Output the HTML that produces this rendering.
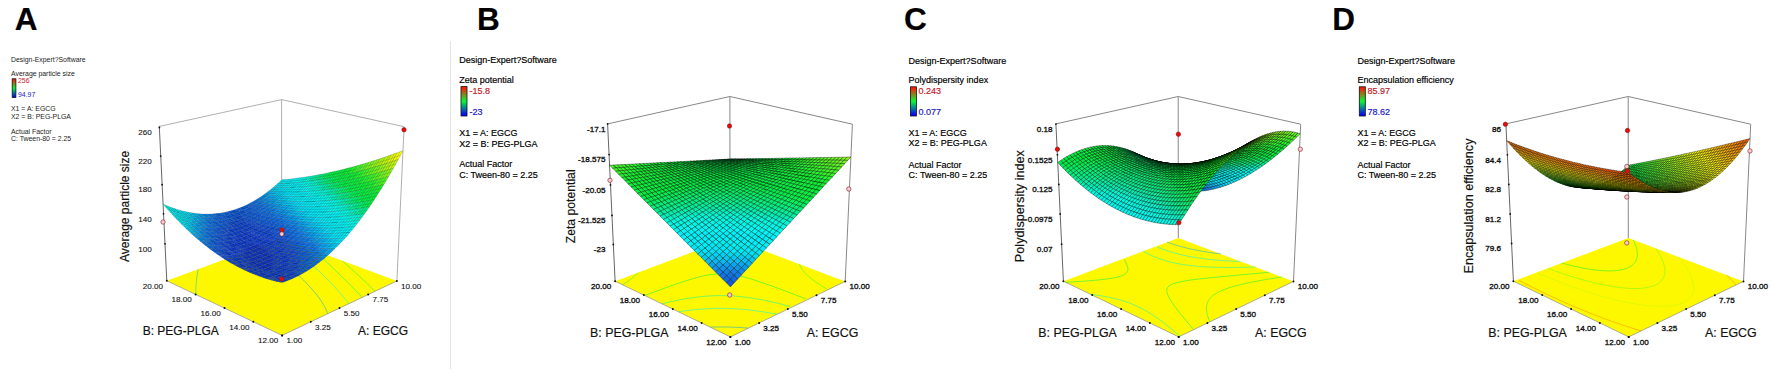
<!DOCTYPE html>
<html><head><meta charset="utf-8"><title>Figure</title>
<style>html,body{margin:0;padding:0;background:#fff}svg{display:block}text{stroke-width:.18px;paint-order:stroke}</style></head>
<body>
<svg width="1772" height="373" viewBox="0 0 1772 373" font-family="Liberation Sans, sans-serif" fill="#111">
<defs><linearGradient id="lg" x1="0" y1="0" x2="0" y2="1"><stop offset="0" stop-color="#f81c08"/><stop offset=".06" stop-color="#f02408"/><stop offset=".5" stop-color="#08f834"/><stop offset=".94" stop-color="#0810f0"/><stop offset="1" stop-color="#0808f8"/></linearGradient></defs>
<rect width="1772" height="373" fill="#fff"/>
<rect x="450" y="41" width="1" height="328" fill="#e4e4e4"/>
<g id="pA">
<polygon points="282.1,335.4 396.9,280.9 281.7,238.3 166.8,280.8" fill="#fdf800"/>
<polyline points="195.9,294.5 195.8,293.1 195.8,292 195.8,290.8 195.8,289.6 195.9,288.5 195.9,287.3 196,286.2 196,285 196.1,283.7 196.3,282.4 196.4,281.2 196.5,279.9 196.7,278.7 196.8,277.5 197,276.2 197.2,275 197.4,273.9 197.6,272.7 197.8,271.5 198,270.4 198.2,269.2" fill="none" stroke="#06bef9" stroke-width=".8" stroke-opacity=".65"/>
<polyline points="266,244.1 267.1,245.5 267.9,246.3 268.6,247.1 269.9,248.5 270.6,249.3 271.5,250.2 272.8,251.5 273.5,252.2 275,253.6 275.8,254.4 276.9,255.4 278.2,256.6 279,257.3 280.6,258.8 281.4,259.6 282.9,260.9 283.9,261.8 285,262.8 286.4,264.1 287.3,264.8 289,266.4 289.8,267.2 291.5,268.6 292.4,269.5 293.6,270.6 295,271.9 295.9,272.7 297.6,274.3 298.4,275.2 299.9,276.5 301,277.6 301.9,278.5 303.6,280.2 304.5,281.1 305.7,282.4 307,283.7 307.8,284.6 309.4,286.2 310.3,287.3 311.2,288.2 312.7,290 313.6,291 314.4,292 315.8,293.7 316.8,294.9 317.5,295.9 318.6,297.3 319.8,298.9 320.5,300 321.2,301 322.2,302.6 323.2,304.3 323.9,305.4 324.5,306.5 325.1,307.7 325.9,309.4 326.7,311 327.3,312.5 327.7,313.7" fill="none" stroke="#09a8f5" stroke-width=".8" stroke-opacity=".65"/>
<polyline points="290.1,241.4 291,242.6 291.6,243.3 292.3,244.2 293.5,245.6 294.2,246.3 294.8,247.1 296.1,248.5 296.9,249.3 297.6,250.1 299,251.6 299.8,252.4 300.5,253.2 302,254.7 302.8,255.4 303.8,256.4 305.1,257.7 305.9,258.5 307.2,259.8 308.3,260.8 309.1,261.6 310.7,263.2 311.5,264 312.6,265 314,266.4 314.8,267.2 316.3,268.6 317.4,269.6 318.2,270.4 319.9,272.1 320.8,272.9 322,274.1 323.4,275.4 324.2,276.3 325.7,277.8 326.8,278.8 327.7,279.7 329.4,281.5 330.3,282.4 331.2,283.3 332.9,285.1 333.8,286 334.8,287 336.3,288.8 337.2,289.7 338.1,290.7 339.7,292.6 340.6,293.5 341.4,294.5 342.8,296.2 343.9,297.5 344.7,298.5 345.7,299.8 347.1,301.6 347.9,302.7 348.7,303.8" fill="none" stroke="#00f3f9" stroke-width=".8" stroke-opacity=".65"/>
<polyline points="314.8,250.6 315.6,251.4 316.4,252.1 317.9,253.7 318.7,254.4 319.5,255.3 321,256.7 321.8,257.5 322.9,258.5 324.3,259.9 325.1,260.6 326.4,261.9 327.6,263 328.4,263.8 330,265.4 331,266.2 331.9,267.1 333.5,268.7 334.4,269.5 335.6,270.7 337,272 337.9,272.8 339.4,274.3 340.6,275.3 341.5,276.2 343.2,277.9 344.1,278.8 345.1,279.8 346.8,281.4 347.7,282.3 348.9,283.4 350.4,285 351.3,285.9 352.5,287.1 354,288.7 354.9,289.7 356,290.8 357.6,292.5 358.5,293.5 359.4,294.5 361.1,296.4 362,297.5" fill="none" stroke="#00f089" stroke-width=".8" stroke-opacity=".65"/>
<polyline points="342.4,260.8 343.7,262 344.6,262.8 346.1,264.2 347.2,265.2 348.1,266 349.9,267.6 350.8,268.4 351.8,269.4 353.5,270.9 354.4,271.8 355.7,273 357.2,274.3 358.1,275.1 359.7,276.6 360.9,277.7 361.8,278.6 363.6,280.3 364.6,281.2 365.6,282.1 367.5,283.9 368.4,284.8 369.5,285.8 371.2,287.5 372.2,288.5 373.3,289.5 375,291.3" fill="none" stroke="#0ef431" stroke-width=".8" stroke-opacity=".65"/>
<path d="M281.7,238.3 L281.6,99.6" stroke="#9c9c9c" stroke-width="0.8" fill="none"/>
<path d="M159.3,126.4 L281.6,99.6" stroke="#9c9c9c" stroke-width="0.8" fill="none"/>
<path d="M281.6,99.6 L404.1,126.7" stroke="#9c9c9c" stroke-width="0.8" fill="none"/>
<path d="M396.9,280.9 L404.1,126.7" stroke="#9c9c9c" stroke-width="0.8" fill="none"/>
<path d="M166.8,280.8 L159.3,126.4" stroke="#666" stroke-width="1" fill="none"/>
<path d="M166.8,280.8 L282.1,335.4" stroke="#8c8c98" stroke-width="0.7" fill="none"/>
<path d="M282.1,335.4 L396.9,280.9" stroke="#8c8c98" stroke-width="0.7" fill="none"/>
<circle cx="282.1" cy="335.4" r="1" fill="#111"/>
<circle cx="282.1" cy="335.4" r="1" fill="#111"/>
<circle cx="253.3" cy="321.7" r="1" fill="#111"/>
<circle cx="310.8" cy="321.7" r="1" fill="#111"/>
<circle cx="224.5" cy="308.1" r="1" fill="#111"/>
<circle cx="339.5" cy="308.1" r="1" fill="#111"/>
<circle cx="195.6" cy="294.4" r="1" fill="#111"/>
<circle cx="368.2" cy="294.5" r="1" fill="#111"/>
<circle cx="166.8" cy="280.8" r="1" fill="#111"/>
<circle cx="396.9" cy="280.9" r="1" fill="#111"/>
<circle cx="159.4" cy="127.5" r=".9" fill="#111"/>
<circle cx="160.7" cy="156.1" r=".9" fill="#111"/>
<circle cx="162.1" cy="184.7" r=".9" fill="#111"/>
<circle cx="163.5" cy="213.8" r=".9" fill="#111"/>
<circle cx="165" cy="243.8" r=".9" fill="#111"/>
<g transform="scale(.1)" stroke="#000" stroke-width="3" stroke-opacity=".55" stroke-linejoin="round">
<path fill="#00f0f8" d="M2817 1837l22-21 22-22-22 2-22 2-22 21-22 20 22-1zM2839 1816l-22 2-22 1M2795 1838l22-20 22-22"/>
<path fill="#00e8ff" d="M2773 1878l22-20 22-21-22 1-22 1-22 19-22 19 22 1zM2795 1858l-22 0-22 0M2751 1878l22-20 22-20"/>
<path fill="#00d0f8" d="M2728 1916l22-19 23-19-22 0-22-1-22 18-23 18 22 1zM2750 1897l-21-1-22-1M2706 1914l23-18 22-18"/>
<path fill="#08b0f8" d="M2683 1951l23-17 22-18-22-2-22-1-22 17-22 16 21 3zM2706 1934l-22-2-22-2M2661 1949l23-17 22-18"/>
<path fill="#0898f0" d="M2638 1984l23-16 22-17-22-2-21-3-23 16-23 15 22 4zM2661 1968l-22-3-22-3M2616 1981l23-16 22-16"/>
<path fill="#1088f0" d="M2592 2015l23-15 23-16-22-3-22-4-22 14-23 14 22 5zM2615 2000l-22-4-21-5M2571 2010l22-14 23-15"/>
<path fill="#1078f0" d="M2546 2043l24-14 22-14-21-5-22-5-23 13-23 13 22 6zM2570 2029l-22-5-22-6M2525 2037l23-13 23-14"/>
<path fill="#1070e8" d="M2500 2068l23-12 23-13-21-6-22-6-23 11-24 12 22 7zM2523 2056l-22-7-21-7M2478 2061l23-12 24-12"/>
<path fill="#1068e8" d="M2453 2091l24-11 23-12-22-7-22-7-23 10-24 10 22 8zM2477 2080l-22-8-22-8M2431 2082l24-10 23-11M2406 2111l23-10 24-10-22-9-22-8-23 9-24 9 22 9zM2429 2101l-22-9-21-9M2384 2101l23-9 24-10"/>
<path fill="#1060e8" d="M2358 2128l24-8 24-9-22-10-22-9-24 8-24 7 22 11zM2382 2120l-22-10-22-10M2336 2118l24-8 24-9M2309 2143l24-7 25-8-22-10-22-11-24 6-25 6 22 12zM2333 2136l-21-11-22-12M2287 2131l25-6 24-7"/>
<path fill="#1068e8" d="M2260 2155l25-6 24-6-22-12-22-12-24 6-25 4 22 13zM2285 2149l-22-12-22-12M2238 2142l25-5 24-6"/>
<path fill="#1070e8" d="M2211 2164l24-4 25-5-22-13-22-13-24 4-25 3 22 14zM2235 2160l-22-14-21-13M2189 2150l24-4 25-4M2160 2170l25-2 26-4-22-14-22-14-25 2-26 2 22 15zM2185 2168l-22-15-21-15M2138 2155l25-2 26-3"/>
<path fill="#1080f0" d="M2109 2174l26-1 25-3-22-15-22-15-25 1-26 0 22 17zM2135 2173l-22-16-22-16M2087 2158l26-1 25-2"/>
<path fill="#1090f0" d="M2058 2175l26 0 25-1-22-16-22-17-25 0-26-1 22 17zM2084 2175l-22-17-22-17M2036 2157l26 1 25 0"/>
<path fill="#08a8f8" d="M2006 2172l26 2 26 1-22-18-22-17-26-2-27-3 23 19zM2032 2174l-22-18-22-18M1984 2154l26 2 26 1"/>
<path fill="#08c0f8" d="M1953 2167l26 3 27 2-22-18-23-19-26-4-27-4 22 20zM1979 2170l-22-19-22-20M1930 2147l27 4 27 3"/>
<path fill="#00d8f8" d="M1899 2158l27 5 27 4-23-20-22-20-26-5-27-6 22 22zM1926 2163l-22-20-22-21M1877 2138l27 5 26 4"/>
<path fill="#00e8f8" d="M1844 2147l28 6 27 5-22-20-22-22-28-6-27-8 22 23zM1872 2153l-22-21-23-22M1822 2125l28 7 27 6"/>
<path fill="#00f0f8" d="M1789 2132l28 8 27 7-22-22-22-23-28-8-28-9 23 24zM1817 2140l-22-23-23-23M1767 2109l28 8 27 8M1733 2114l28 10 28 8-22-23-23-24-28-9-28-11 22 25zM1761 2124l-22-24-23-24M1710 2090l29 10 28 9"/>
<path fill="#00f8e8" d="M1676 2093l28 11 29 10-23-24-22-25-29-12-28-12 22 26zM1704 2104l-22-25-23-26M1653 2067l29 12 28 11"/>
<path fill="#00f0f8" d="M2861 1835l22-22 22-23-22 2-22 2-22 22-22 21 22-1zM2883 1813l-22 1-22 2M2839 1836l22-22 22-22"/>
<path fill="#00e8f8" d="M2817 1878l22-21 22-22-22 1-22 1-22 21-22 20 22 0zM2839 1857l-22 0-22 1M2795 1878l22-21 22-21"/>
<path fill="#00d8f8" d="M2772 1918l23-20 22-20-22 0-22 0-23 19-22 19 22 1zM2795 1898l-22 0-23-1M2750 1917l23-19 22-20"/>
<path fill="#08c0f8" d="M2727 1956l23-19 22-19-22-1-22-1-22 18-23 17 22 3zM2750 1937l-22-1-22-2M2705 1954l23-18 22-19"/>
<path fill="#08a8f8" d="M2682 1991l23-17 22-18-22-2-22-3-22 17-23 16 22 4zM2705 1974l-22-3-22-3M2660 1988l23-17 22-17"/>
<path fill="#1090f0" d="M2637 2024l22-16 23-17-22-3-22-4-23 16-23 15 22 4zM2659 2008l-22-4-22-4M2614 2019l23-15 23-16"/>
<path fill="#1080f0" d="M2591 2054l23-15 23-15-23-5-22-4-22 14-24 14 22 5zM2614 2039l-23-5-21-5M2568 2048l23-14 23-15"/>
<path fill="#1070e8" d="M2544 2081l23-13 24-14-23-6-22-5-23 13-23 12 22 7zM2567 2068l-22-6-22-6M2522 2075l23-13 23-14"/>
<path fill="#1068e8" d="M2497 2106l24-12 23-13-22-6-22-7-23 12-24 11 22 8zM2521 2094l-22-7-22-7M2475 2099l24-12 23-12"/>
<path fill="#1060e8" d="M2450 2129l23-11 24-12-22-7-22-8-24 10-23 10 22 9zM2473 2118l-22-8-22-9M2428 2120l23-10 24-11M2402 2148l24-9 24-10-22-9-22-9-24 9-24 8 22 10zM2426 2139l-22-10-22-9M2380 2138l24-9 24-9M2353 2165l25-8 24-9-22-10-22-10-25 8-24 7 22 11zM2378 2157l-23-10-22-11M2331 2154l24-7 25-9M2304 2180l25-7 24-8-22-11-22-11-24 6-25 6 22 12zM2329 2173l-22-12-22-12M2282 2167l25-6 24-7M2255 2191l25-5 24-6-22-13-22-12-25 5-24 4 22 14zM2280 2186l-23-13-22-13M2233 2178l24-5 25-6"/>
<path fill="#1068e8" d="M2205 2200l25-4 25-5-22-13-22-14-26 4-25 2 22 15zM2230 2196l-22-14-23-14M2182 2185l26-3 25-4"/>
<path fill="#1070e8" d="M2154 2206l25-3 26-3-23-15-22-15-25 3-26 1 23 16zM2179 2203l-22-15-22-15M2132 2190l25-2 25-3"/>
<path fill="#1080f0" d="M2102 2208l26-1 26-1-22-16-23-16-25 1-26 0 22 17zM2128 2207l-22-16-22-16M2080 2192l26-1 26-1"/>
<path fill="#1090f0" d="M2050 2208l26 1 26-1-22-16-22-17-26-1-26-2 22 18zM2076 2209l-22-18-22-17M2028 2190l26 1 26 1"/>
<path fill="#08a8f8" d="M1997 2205l27 2 26 1-22-18-22-18-27-2-26-3 22 19zM2024 2207l-22-18-23-19M1975 2186l27 3 26 1"/>
<path fill="#08c0f8" d="M1944 2199l27 4 26 2-22-19-22-19-27-4-27-5 22 21zM1971 2203l-23-20-22-20M1921 2179l27 4 27 3"/>
<path fill="#00d8f8" d="M1889 2190l28 5 27 4-23-20-22-21-27-5-28-6 23 22zM1917 2195l-23-21-22-21M1867 2169l27 5 27 5"/>
<path fill="#00e8f8" d="M1834 2178l28 6 27 6-22-21-23-22-27-7-28-8 23 23zM1862 2184l-23-22-22-22M1812 2155l27 7 28 7"/>
<path fill="#00f0f8" d="M1778 2162l28 8 28 8-22-23-23-23-28-8-28-10 23 24zM1806 2170l-22-23-23-23M1756 2138l28 9 28 8"/>
<path fill="#00f8f8" d="M1721 2143l29 10 28 9-22-24-23-24-29-10-28-11 22 25zM1750 2153l-23-24-23-25M1698 2118l29 11 29 9"/>
<path fill="#00f0f8" d="M2906 1832l22-24 22-24-23 3-22 3-22 23-22 22 23-2zM2928 1808l-22 3-23 2M2884 1833l22-22 21-24M2862 1877l22-22 22-23-22 1-23 2-22 22-22 21 22-1zM2884 1855l-23 1-22 1M2839 1877l22-21 23-23"/>
<path fill="#00e8ff" d="M2817 1919l22-20 23-22-23 0-22 1-22 20-23 20 23 1zM2839 1899l-22-1-22 0M2795 1919l22-21 22-21"/>
<path fill="#00d0f8" d="M2772 1960l23-20 22-21-22 0-23-1-22 19-23 19 23 2zM2795 1940l-23-1-22-2M2750 1958l22-19 23-20"/>
<path fill="#08b0f8" d="M2727 1997l23-18 22-19-22-2-23-2-22 18-23 17 22 3zM2750 1979l-23-3-22-2M2704 1994l23-18 23-18"/>
<path fill="#0898f0" d="M2681 2032l23-17 23-18-23-3-22-3-23 17-22 16 22 4zM2704 2015l-22-4-23-3M2659 2028l23-17 22-17"/>
<path fill="#1080f0" d="M2635 2064l23-16 23-16-22-4-22-4-23 15-23 15 22 5zM2658 2048l-22-4-22-5M2613 2059l23-15 23-16"/>
<path fill="#1070e8" d="M2589 2094l23-14 23-16-22-5-22-5-24 14-23 13 22 7zM2612 2080l-22-6-23-6M2566 2088l24-14 23-15"/>
<path fill="#1068e8" d="M2542 2121l23-13 24-14-23-6-22-7-23 13-24 12 22 8zM2565 2108l-22-7-22-7M2519 2114l24-13 23-13"/>
<path fill="#1060e8" d="M2494 2146l24-12 24-13-23-7-22-8-24 12-23 11 22 8zM2518 2134l-22-8-23-8M2472 2137l24-11 23-12"/>
<path fill="#1060e0" d="M2446 2168l24-11 24-11-22-9-22-8-24 10-24 9 22 10zM2470 2157l-22-9-22-9M2424 2158l24-10 24-11"/>
<path fill="#1058e0" d="M2398 2187l24-9 24-10-22-10-22-10-24 9-25 8 22 11zM2422 2178l-22-10-22-11M2375 2176l25-8 24-10M2349 2203l24-8 25-8-23-11-22-11-24 8-25 7 23 12zM2373 2195l-22-11-22-11M2327 2192l24-8 24-8"/>
<path fill="#1060e0" d="M2299 2217l25-6 25-8-22-11-23-12-24 6-25 5 22 13zM2324 2211l-22-13-22-12M2277 2204l25-6 25-6"/>
<path fill="#1060e8" d="M2249 2228l25-5 25-6-22-13-22-13-25 5-25 4 22 14zM2274 2223l-22-14-22-13M2227 2214l25-5 25-5"/>
<path fill="#1068e8" d="M2199 2236l25-4 25-4-22-14-22-14-26 3-25 3 22 15zM2224 2232l-22-14-23-15M2176 2221l26-3 25-4"/>
<path fill="#1070e8" d="M2147 2241l26-2 26-3-23-15-22-15-26 1-26 1 23 17zM2173 2239l-23-16-22-16M2125 2225l25-2 26-2"/>
<path fill="#1078f0" d="M2095 2243l26 0 26-2-22-16-23-17-26 1-26-1 23 18zM2121 2243l-22-17-23-17M2073 2226l26 0 26-1"/>
<path fill="#1090f0" d="M2042 2242l27 1 26 0-22-17-23-18-26-1-27-2 23 19zM2069 2243l-23-18-22-18M2020 2224l26 1 27 1"/>
<path fill="#08a8f8" d="M1989 2239l27 2 26 1-22-18-23-19-26-2-27-4 22 20zM2016 2241l-23-19-22-19M1966 2219l27 3 27 2"/>
<path fill="#08c0f8" d="M1935 2232l27 4 27 3-23-20-22-20-27-4-28-5 23 21zM1962 2236l-23-21-22-20M1912 2211l27 4 27 4"/>
<path fill="#00e0f8" d="M1880 2222l27 5 28 5-23-21-23-21-27-6-28-6 23 22zM1907 2227l-22-21-23-22M1857 2200l28 6 27 5"/>
<path fill="#00e8f8" d="M1824 2208l28 7 28 7-23-22-23-22-28-8-28-8 23 23zM1852 2215l-23-22-23-23M1801 2185l28 8 28 7"/>
<path fill="#00f0f8" d="M1767 2192l28 8 29 8-23-23-23-23-28-9-29-10 23 24zM1795 2200l-22-23-23-24M1744 2167l29 10 28 8"/>
<path fill="#00f8f8" d="M2951 1828l22-24 22-26-22 3-23 3-22 24-22 24 23-2zM2973 1804l-22 2-23 2M2929 1830l22-24 22-25"/>
<path fill="#00f0f8" d="M2907 1875l22-23 22-24-22 2-23 2-22 23-22 22 22-1zM2929 1852l-23 2-22 1M2884 1876l22-22 23-24"/>
<path fill="#00e8f8" d="M2862 1920l23-22 22-23-23 1-22 1-23 22-22 20 23 1zM2885 1898l-23 0-23 1M2840 1920l22-22 22-22"/>
<path fill="#00d8f8" d="M2817 1963l23-21 22-22-22 0-23-1-22 21-23 20 23 1zM2840 1942l-23-1-22-1M2795 1961l22-20 23-21"/>
<path fill="#08c0f8" d="M2772 2002l23-19 22-20-22-2-23-1-22 19-23 18 22 3zM2795 1983l-23-2-22-2M2749 2000l23-19 23-20"/>
<path fill="#08a0f0" d="M2726 2039l23-18 23-19-23-2-22-3-23 18-23 17 23 4zM2749 2021l-23-3-22-3M2704 2036l22-18 23-18"/>
<path fill="#1088f0" d="M2680 2074l23-17 23-18-22-3-23-4-23 16-23 16 22 5zM2703 2057l-22-4-23-5M2657 2069l24-16 23-17"/>
<path fill="#1078f0" d="M2633 2106l24-16 23-16-23-5-22-5-23 16-23 14 22 6zM2657 2090l-23-5-22-5M2611 2100l23-15 23-16"/>
<path fill="#1070e8" d="M2586 2135l24-14 23-15-22-6-22-6-24 14-23 13 22 7zM2610 2121l-23-6-22-7M2564 2128l23-13 24-15"/>
<path fill="#1060e8" d="M2539 2162l24-13 23-14-22-7-22-7-24 13-24 12 23 8zM2563 2149l-23-7-22-8M2517 2154l23-12 24-14"/>
<path fill="#1060e0" d="M2491 2186l24-12 24-12-22-8-23-8-24 11-24 11 23 9zM2515 2174l-22-8-23-9M2469 2177l24-11 24-12"/>
<path fill="#1858e0" d="M2443 2207l24-10 24-11-22-9-23-9-24 10-24 9 22 10zM2467 2197l-23-10-22-9M2420 2197l24-10 25-10M2394 2226l24-9 25-10-23-10-22-10-25 8-24 8 22 12zM2418 2217l-22-11-23-11M2371 2215l25-9 24-9M2344 2242l25-8 25-8-23-11-22-12-25 8-25 6 23 13zM2369 2234l-22-11-23-12M2322 2230l25-7 24-8M2294 2255l25-6 25-7-22-12-23-13-25 6-25 5 23 14zM2319 2249l-22-13-23-13M2272 2242l25-6 25-6"/>
<path fill="#1060e0" d="M2244 2265l25-5 25-5-22-13-23-14-25 4-25 4 22 15zM2269 2260l-23-14-22-14M2221 2251l25-5 26-4"/>
<path fill="#1068e8" d="M2192 2272l26-3 26-4-23-14-22-15-26 3-26 2 23 16zM2218 2269l-23-15-22-15M2170 2257l25-3 26-3"/>
<path fill="#1070e8" d="M2140 2277l26-2 26-3-22-15-23-16-26 2-26 0 23 17zM2166 2275l-22-16-23-16M2118 2260l26-1 26-2"/>
<path fill="#1078f0" d="M2088 2278l26 0 26-1-22-17-23-17-26 0-27-1 23 18zM2114 2278l-23-17-22-18M2065 2260l26 1 27-1"/>
<path fill="#1090f0" d="M2034 2277l27 1 27 0-23-18-23-18-26-1-27-2 23 19zM2061 2278l-23-18-22-19M2012 2258l26 2 27 0"/>
<path fill="#08a8f8" d="M1980 2272l27 3 27 2-22-19-23-19-27-3-27-4 22 20zM2007 2275l-22-20-23-19M1957 2252l28 3 27 3"/>
<path fill="#08c0f8" d="M1925 2264l28 4 27 4-23-20-22-20-28-5-27-5 22 21zM1953 2268l-23-20-23-21M1902 2243l28 5 27 4"/>
<path fill="#00e0ff" d="M1870 2253l27 6 28 5-23-21-22-21-28-7-28-7 23 23zM1897 2259l-22-22-23-22M1847 2231l28 6 27 6"/>
<path fill="#00f0f8" d="M1813 2239l28 7 29 7-23-22-23-23-29-8-28-8 23 23zM1841 2246l-23-23-23-23M1790 2215l28 8 29 8"/>
<path fill="#00f8f0" d="M2997 1824l22-26 22-26-23 3-23 3-22 26-22 24 23-2zM3019 1798l-23 3-23 3M2974 1826l22-25 22-26"/>
<path fill="#00f0f8" d="M2953 1873l22-24 22-25-23 2-23 2-22 24-22 23 23-1zM2975 1849l-23 2-23 1M2930 1874l22-23 22-25M2908 1920l22-23 23-24-23 1-23 1-22 23-23 22 23 0zM2930 1897l-23 1-22 0M2885 1920l22-22 23-24"/>
<path fill="#00e8ff" d="M2863 1965l22-22 23-23-23 0-23 0-22 22-23 21 23 1zM2885 1943l-22-1-23 0M2840 1964l23-22 22-22"/>
<path fill="#00c8f8" d="M2817 2007l23-21 23-21-23-1-23-1-22 20-23 19 23 3zM2840 1986l-23-2-22-1M2795 2005l22-21 23-20"/>
<path fill="#08b0f8" d="M2772 2046l23-19 22-20-22-2-23-3-23 19-23 18 23 4zM2795 2027l-23-3-23-3M2749 2043l23-19 23-19"/>
<path fill="#1090f0" d="M2725 2083l24-18 23-19-23-3-23-4-23 18-23 17 23 4zM2749 2065l-23-4-23-4M2703 2078l23-17 23-18"/>
<path fill="#1080f0" d="M2679 2117l23-17 23-17-22-5-23-4-23 16-24 16 23 5zM2702 2100l-23-5-22-5M2656 2111l23-16 24-17"/>
<path fill="#1070e8" d="M2632 2148l23-15 24-16-23-6-23-5-23 15-24 14 23 7zM2655 2133l-22-6-23-6M2609 2142l24-15 23-16"/>
<path fill="#1060e8" d="M2584 2177l24-14 24-15-23-6-23-7-23 14-24 13 23 8zM2608 2163l-23-7-22-7M2562 2170l23-14 24-14"/>
<path fill="#1060e0" d="M2536 2203l25-12 23-14-22-7-23-8-24 12-24 12 23 9zM2561 2191l-23-8-23-9M2514 2195l24-12 24-13"/>
<path fill="#1858e0" d="M2488 2227l24-12 24-12-22-8-23-9-24 11-24 10 22 10zM2512 2215l-22-9-23-9M2465 2217l25-11 24-11"/>
<path fill="#1850e0" d="M2439 2248l25-10 24-11-23-10-22-10-25 10-24 9 22 11zM2464 2238l-23-11-23-10M2416 2237l25-10 24-10M2390 2266l25-9 24-9-23-11-22-11-25 8-25 8 23 12zM2415 2257l-23-11-23-12M2367 2254l25-8 24-9M2340 2281l25-7 25-8-23-12-23-12-25 7-25 6 23 13zM2365 2274l-23-13-23-12M2317 2268l25-7 25-7"/>
<path fill="#1858e0" d="M2289 2293l25-6 26-6-23-13-23-13-25 5-25 5 22 14zM2314 2287l-22-13-23-14M2266 2279l26-5 25-6"/>
<path fill="#1058e0" d="M2238 2303l26-5 25-5-23-14-22-14-26 4-26 3 23 16zM2264 2298l-23-14-23-15M2215 2288l26-4 25-5"/>
<path fill="#1060e8" d="M2186 2309l26-3 26-3-23-15-23-16-26 3-26 2 23 16zM2212 2306l-23-15-23-16M2163 2293l26-2 26-3"/>
<path fill="#1070e8" d="M2133 2313l27-2 26-2-23-16-23-16-26 1-26 0 22 18zM2160 2311l-23-16-23-17M2110 2296l27-1 26-2"/>
<path fill="#1078f0" d="M2080 2313l27 0 26 0-23-17-22-18-27 0-27-1 23 18zM2107 2313l-23-17-23-18M2057 2295l27 1 26 0"/>
<path fill="#1090f0" d="M2026 2311l27 1 27 1-23-18-23-18-27-2-27-3 23 19zM2053 2312l-23-18-23-19M2003 2291l27 3 27 1"/>
<path fill="#08a8f8" d="M1971 2305l28 3 27 3-23-20-23-19-27-4-28-4 23 21zM1999 2308l-23-20-23-20M1948 2285l28 3 27 3"/>
<path fill="#00c8f8" d="M1916 2296l28 5 27 4-23-20-23-21-28-5-27-6 23 22zM1944 2301l-24-21-23-21M1893 2275l27 5 28 5"/>
<path fill="#00e8ff" d="M1859 2284l29 6 28 6-23-21-23-22-29-7-28-7 23 22zM1888 2290l-24-22-23-22M1836 2261l28 7 29 7"/>
<path fill="#00f8e0" d="M3044 1819l22-27 22-27-23 3-24 4-22 26-22 26 23-3zM3066 1792l-24 3-23 3M3020 1821l22-26 23-27"/>
<path fill="#00f8f8" d="M2999 1870l22-25 23-26-24 2-23 3-22 25-22 24 23-1zM3021 1845l-23 2-23 2M2976 1872l22-25 22-26"/>
<path fill="#00f0f8" d="M2954 1920l23-25 22-25-23 2-23 1-23 24-22 23 23 0zM2977 1895l-24 1-23 1M2931 1920l22-24 23-24"/>
<path fill="#00e8f8" d="M2909 1966l23-23 22-23-23 0-23 0-23 23-22 22 23 1zM2932 1943l-24 0-23 0M2886 1966l22-23 23-23"/>
<path fill="#00d8f8" d="M2863 2010l23-21 23-23-23 0-23-1-23 21-23 21 23 2zM2886 1989l-23-2-23-1M2840 2009l23-22 23-21"/>
<path fill="#08b8f8" d="M2818 2052l23-21 22-21-23-1-23-2-22 20-23 19 22 3zM2841 2031l-24-2-22-2M2794 2049l23-20 23-20"/>
<path fill="#08a0f0" d="M2771 2091l23-20 24-19-24-3-22-3-23 19-24 18 23 4zM2794 2071l-23-3-22-3M2748 2087l23-19 23-19"/>
<path fill="#1080f0" d="M2725 2127l23-18 23-18-23-4-23-4-23 17-23 17 23 5zM2748 2109l-23-4-23-5M2702 2122l23-17 23-18"/>
<path fill="#1070e8" d="M2678 2160l23-16 24-17-23-5-23-5-24 16-23 15 23 7zM2701 2144l-23-5-23-6M2655 2155l23-16 24-17"/>
<path fill="#1068e8" d="M2630 2191l24-15 24-16-23-5-23-7-24 15-24 14 23 7zM2654 2176l-23-6-23-7M2607 2184l24-14 24-15"/>
<path fill="#1060e0" d="M2582 2220l24-14 24-15-23-7-23-7-23 14-25 12 23 9zM2606 2206l-23-8-22-7M2559 2212l24-14 24-14"/>
<path fill="#1858e0" d="M2534 2245l24-12 24-13-23-8-23-9-24 12-24 12 23 9zM2558 2233l-23-9-23-9M2511 2236l24-12 24-12"/>
<path fill="#1850e0" d="M2485 2268l24-11 25-12-23-9-23-9-24 11-25 10 23 10zM2509 2257l-22-10-23-9M2462 2258l25-11 24-11M2436 2288l24-9 25-11-23-10-23-10-24 9-25 9 23 11zM2460 2279l-23-11-22-11M2413 2277l24-9 25-10M2386 2306l25-9 25-9-23-11-23-11-25 8-25 7 23 12zM2411 2297l-23-11-23-12M2363 2293l25-7 25-9M2335 2320l25-7 26-7-23-13-23-12-26 6-25 6 23 14zM2360 2313l-23-13-23-13M2312 2307l25-7 26-7M2284 2332l25-6 26-6-23-13-23-14-25 5-26 5 23 14zM2309 2326l-23-14-22-14M2261 2317l25-5 26-5"/>
<path fill="#1858e0" d="M2232 2340l26-4 26-4-23-15-23-14-26 3-26 3 23 16zM2258 2336l-23-15-23-15M2209 2325l26-4 26-4"/>
<path fill="#1060e8" d="M2179 2346l27-3 26-3-23-15-23-16-26 2-27 2 23 16zM2206 2343l-23-16-23-16M2156 2329l27-2 26-2"/>
<path fill="#1070e8" d="M2126 2348l27 0 26-2-23-17-23-16-26 0-27 0 23 18zM2153 2348l-23-17-23-18M2103 2331l27 0 26-2"/>
<path fill="#1078f0" d="M2072 2348l27 1 27-1-23-17-23-18-27-1-27-1 23 19zM2099 2349l-23-18-23-19M2049 2330l27 1 27 0"/>
<path fill="#1090f0" d="M2018 2345l27 2 27 1-23-18-23-19-27-3-28-3 23 20zM2045 2347l-23-19-23-20M1994 2325l28 3 27 2"/>
<path fill="#08b0f8" d="M1962 2338l28 4 28 3-24-20-23-20-27-4-28-5 23 21zM1990 2342l-23-21-23-20M1939 2317l28 4 27 4"/>
<path fill="#00d0f8" d="M1906 2328l28 5 28 5-23-21-23-21-28-6-29-6 23 22zM1934 2333l-23-21-23-22M1882 2306l29 6 28 5"/>
<path fill="#00f8c8" d="M3090 1813l23-28 22-28-24 4-23 4-22 27-22 27 23-3zM3113 1785l-24 4-23 3M3067 1816l22-27 22-28"/>
<path fill="#00f8f0" d="M3046 1867l22-27 22-27-23 3-23 3-23 26-22 25 23-1zM3068 1840l-23 3-24 2M3022 1869l23-26 22-27"/>
<path fill="#00f0f8" d="M3001 1918l22-25 23-26-24 2-23 1-22 25-23 25 23-1zM3023 1893l-23 1-23 1M2977 1919l23-25 22-25M2955 1967l23-24 23-25-24 1-23 1-22 23-23 23 23 1zM2978 1943l-23 0-23 0M2932 1967l23-24 22-24"/>
<path fill="#00e8ff" d="M2910 2013l23-23 22-23-23 0-23-1-23 23-23 21 24 2zM2933 1990l-24 0-23-1M2887 2012l22-22 23-23"/>
<path fill="#00c8f8" d="M2864 2057l23-22 23-22-23-1-24-2-22 21-23 21 23 2zM2887 2035l-23-2-23-2M2841 2054l23-21 23-21"/>
<path fill="#08a8f8" d="M2818 2098l23-21 23-20-23-3-23-2-24 19-23 20 23 3zM2841 2077l-23-2-24-4M2794 2094l24-19 23-21"/>
<path fill="#1090f0" d="M2771 2136l23-19 24-19-24-4-23-3-23 18-23 18 23 5zM2794 2117l-23-4-23-4M2748 2132l23-19 23-19"/>
<path fill="#1078f0" d="M2724 2172l24-18 23-18-23-4-23-5-24 17-23 16 23 6zM2748 2154l-24-5-23-5M2701 2166l23-17 24-17"/>
<path fill="#1068e8" d="M2676 2205l24-16 24-17-23-6-23-6-24 16-24 15 23 7zM2700 2189l-23-6-23-7M2653 2198l24-15 24-17"/>
<path fill="#1060e0" d="M2629 2235l24-15 23-15-23-7-23-7-24 15-24 14 23 8zM2653 2220l-24-7-23-7M2605 2228l24-15 24-15"/>
<path fill="#1858e0" d="M2580 2263l24-14 25-14-24-7-23-8-24 13-24 12 23 9zM2604 2249l-23-8-23-8M2557 2254l24-13 24-13"/>
<path fill="#1850e0" d="M2531 2288l25-13 24-12-23-9-23-9-25 12-24 11 23 10zM2556 2275l-23-9-24-9M2508 2278l25-12 24-12M2482 2310l25-11 24-11-23-10-23-10-25 11-24 9 23 11zM2507 2299l-24-10-23-10M2459 2299l24-10 25-11M2432 2329l25-9 25-10-23-11-23-11-25 9-25 9 23 11zM2457 2320l-23-11-23-12M2409 2317l25-8 25-10M2381 2346l26-8 25-9-23-12-23-11-26 7-25 7 23 13zM2407 2338l-24-12-23-13M2358 2333l25-7 26-9M2330 2359l26-6 25-7-23-13-23-13-26 6-25 6 23 14zM2356 2353l-23-13-24-14M2307 2346l26-6 25-7M2278 2370l26-5 26-6-23-13-23-14-26 4-26 4 23 15zM2304 2365l-23-14-23-15M2255 2355l26-4 26-5"/>
<path fill="#1858e0" d="M2226 2378l26-4 26-4-23-15-23-15-26 3-27 3 24 16zM2252 2374l-23-15-23-16M2203 2362l26-3 26-4"/>
<path fill="#1060e8" d="M2173 2382l26-2 27-2-23-16-24-16-26 2-27 0 23 18zM2199 2380l-23-16-23-16M2149 2366l27-2 27-2"/>
<path fill="#1070e8" d="M2119 2384l27 0 27-2-24-16-23-18-27 1-27-1 24 18zM2146 2384l-23-18-24-17M2096 2366l27 0 26 0"/>
<path fill="#1080f0" d="M2064 2383l28 1 27 0-23-18-24-18-27-1-27-2 23 19zM2092 2384l-24-19-23-18M2041 2364l27 1 28 1"/>
<path fill="#1098f0" d="M2009 2378l28 3 27 2-23-19-23-19-28-3-28-4 23 20zM2037 2381l-24-20-23-19M1985 2358l28 3 28 3"/>
<path fill="#08b0f8" d="M1953 2370l28 4 28 4-24-20-23-20-28-5-28-5 23 21zM1981 2374l-24-20-23-21M1929 2349l28 5 28 4"/>
<path fill="#00f0a8" d="M3138 1807l22-29 22-30-23 4-24 5-22 28-23 28 24-3zM3160 1778l-24 3-23 4M3114 1810l22-29 23-29"/>
<path fill="#00f8e0" d="M3093 1863l22-28 23-28-24 3-24 3-22 27-22 27 23-2zM3115 1835l-23 3-24 2M3069 1865l23-27 22-28"/>
<path fill="#00f8f8" d="M3048 1916l23-26 22-27-24 2-23 2-23 26-22 25 23-1zM3071 1890l-24 1-24 2M3024 1917l23-26 22-26"/>
<path fill="#00f0f8" d="M3003 1967l22-25 23-26-24 1-23 1-23 25-23 24 24 0zM3025 1942l-23 0-24 1M2979 1967l23-25 22-25"/>
<path fill="#00e8f8" d="M2957 2015l23-24 23-24-24 0-24 0-22 23-23 23 23 1zM2980 1991l-24 0-23-1M2933 2014l23-23 23-24"/>
<path fill="#00d0f8" d="M2911 2061l23-23 23-23-24-1-23-1-23 22-23 22 23 2zM2934 2038l-24-1-23-2M2887 2059l23-22 23-23"/>
<path fill="#08b0f8" d="M2865 2104l23-21 23-22-24-2-23-2-23 20-23 21 23 3zM2888 2083l-24-3-23-3M2841 2101l23-21 23-21"/>
<path fill="#0898f0" d="M2818 2144l23-20 24-20-24-3-23-3-24 19-23 19 23 4zM2841 2124l-23-3-24-4M2794 2140l24-19 23-20"/>
<path fill="#1080f0" d="M2771 2182l23-19 24-19-24-4-23-4-23 18-24 18 23 5zM2794 2163l-23-4-23-5M2747 2177l24-18 23-19"/>
<path fill="#1070e8" d="M2723 2217l24-17 24-18-24-5-23-5-24 17-24 16 24 6zM2747 2200l-23-6-24-5M2700 2211l24-17 23-17"/>
<path fill="#1060e8" d="M2675 2249l24-16 24-16-23-6-24-6-23 15-24 15 23 7zM2699 2233l-23-6-23-7M2652 2242l24-15 24-16"/>
<path fill="#1858e0" d="M2627 2279l24-14 24-16-23-7-23-7-25 14-24 14 23 8zM2651 2265l-23-8-24-8M2603 2271l25-14 24-15"/>
<path fill="#1850e0" d="M2578 2306l24-13 25-14-24-8-23-8-24 12-25 13 23 9zM2602 2293l-23-9-23-9M2554 2297l25-13 24-13M2528 2330l25-12 25-12-24-9-23-9-24 11-25 11 23 10zM2553 2318l-23-9-23-10M2505 2320l25-11 24-12"/>
<path fill="#1848e0" d="M2479 2351l25-10 24-11-23-10-23-10-25 10-25 9 23 11zM2504 2341l-24-10-23-11M2455 2340l25-9 25-11M2428 2370l25-9 26-10-24-11-23-11-25 9-26 8 24 12zM2453 2361l-23-11-23-12M2405 2358l25-8 25-10M2377 2386l26-8 25-8-23-12-24-12-25 7-26 6 23 14zM2403 2378l-24-12-23-13M2353 2373l26-7 26-8"/>
<path fill="#1850e0" d="M2325 2398l26-6 26-6-24-13-23-14-26 6-26 5 24 14zM2351 2392l-23-13-24-14M2302 2384l26-5 25-6M2273 2408l26-4 26-6-23-14-24-14-26 4-26 4 23 15zM2299 2404l-23-15-24-15M2249 2393l27-4 26-5"/>
<path fill="#1858e0" d="M2220 2415l26-3 27-4-24-15-23-15-27 2-26 2 23 17zM2246 2412l-23-16-24-16M2196 2399l27-3 26-3"/>
<path fill="#1060e8" d="M2166 2418l27-1 27-2-24-16-23-17-27 2-27 0 23 17zM2193 2417l-24-17-23-16M2142 2401l27-1 27-1"/>
<path fill="#1070e8" d="M2111 2419l28 0 27-1-24-17-23-17-27 0-28-1 24 18zM2139 2419l-24-17-23-18M2088 2401l27 1 27-1"/>
<path fill="#1080f0" d="M2056 2416l28 2 27 1-23-18-24-18-27-2-28-3 24 19zM2084 2418l-24-18-23-19M2033 2397l27 3 28 1"/>
<path fill="#0898f0" d="M2000 2411l28 3 28 2-23-19-24-19-28-4-28-4 23 20zM2028 2414l-23-20-24-20M1976 2390l29 4 28 3"/>
<path fill="#00f088" d="M3186 1799l22-30 22-30-24 4-24 5-22 30-22 29 24-4zM3208 1769l-24 5-24 4M3162 1803l22-29 22-31"/>
<path fill="#00f8d0" d="M3141 1858l22-29 23-30-24 4-24 4-23 28-22 28 24-3zM3163 1829l-24 3-24 3M3117 1860l22-28 23-29"/>
<path fill="#00f8f0" d="M3096 1913l22-27 23-28-24 2-24 3-22 27-23 26 24-1zM3118 1886l-24 2-23 2M3072 1915l22-27 23-28"/>
<path fill="#00f0f8" d="M3050 1966l23-26 23-27-24 2-24 1-23 26-22 25 23-1zM3073 1940l-24 1-24 1M3026 1966l23-25 23-26M3004 2016l23-25 23-25-24 0-23 1-23 24-23 24 24 1zM3027 1991l-23 0-24 0M2981 2016l23-25 22-25"/>
<path fill="#00e0ff" d="M2958 2064l23-24 23-24-23 0-24-1-23 23-23 23 24 1zM2981 2040l-23-1-24-1M2935 2062l23-23 23-23"/>
<path fill="#08c0f8" d="M2912 2109l23-22 23-23-23-2-24-1-23 22-23 21 23 2zM2935 2087l-24-2-23-2M2888 2106l23-21 24-23"/>
<path fill="#08a0f0" d="M2865 2151l24-21 23-21-24-3-23-2-24 20-23 20 23 4zM2889 2130l-24-3-24-3M2841 2148l24-21 23-21"/>
<path fill="#1080f0" d="M2818 2191l24-19 23-21-24-3-23-4-24 19-23 19 23 5zM2842 2172l-24-4-24-5M2794 2187l24-19 23-20"/>
<path fill="#1070e8" d="M2770 2228l24-18 24-19-24-4-23-5-24 18-24 17 24 6zM2794 2210l-23-5-24-5M2747 2223l24-18 23-18"/>
<path fill="#1060e8" d="M2722 2263l24-17 24-18-23-5-24-6-24 16-24 16 24 7zM2746 2246l-23-6-24-7M2699 2256l24-16 24-17"/>
<path fill="#1858e0" d="M2674 2294l24-15 24-16-23-7-24-7-24 16-24 14 23 8zM2698 2279l-23-7-24-7M2650 2287l25-15 24-16"/>
<path fill="#1850e0" d="M2625 2323l25-14 24-15-24-7-23-8-25 14-24 13 23 9zM2650 2309l-24-8-24-8M2601 2315l25-14 24-14M2576 2349l24-12 25-14-24-8-23-9-25 12-25 12 24 10zM2600 2337l-23-9-24-10M2552 2340l25-12 24-13"/>
<path fill="#1848e0" d="M2526 2373l25-12 25-12-24-9-24-10-24 11-25 10 23 11zM2551 2361l-24-10-23-10M2502 2362l25-11 25-11M2475 2393l25-10 26-10-24-11-23-11-26 10-25 9 24 12zM2500 2383l-23-11-24-11M2452 2382l25-10 25-10M2424 2411l26-9 25-9-23-11-24-12-25 8-26 8 23 12zM2450 2402l-24-12-23-12M2400 2398l26-8 26-8M2372 2425l26-7 26-7-24-13-23-12-26 6-26 6 24 14zM2398 2418l-23-12-24-14M2349 2412l26-6 25-8"/>
<path fill="#1850e0" d="M2320 2437l26-5 26-7-23-13-24-14-26 6-26 4 23 15zM2346 2432l-23-14-24-14M2296 2423l27-5 26-6M2267 2446l27-4 26-5-24-14-23-15-27 4-26 3 23 15zM2294 2442l-24-15-24-15M2243 2430l27-3 26-4"/>
<path fill="#1858e0" d="M2213 2451l27-2 27-3-24-16-23-15-27 2-27 1 24 17zM2240 2449l-23-16-24-16M2190 2435l27-2 26-3"/>
<path fill="#1060e8" d="M2159 2454l27-1 27-2-23-16-24-17-27 1-28 0 24 18zM2186 2453l-24-17-23-17M2135 2437l27-1 28-1"/>
<path fill="#1070e8" d="M2104 2453l27 1 28 0-24-17-24-18-27-1-28-2 24 19zM2131 2454l-23-18-24-18M2080 2435l28 1 27 1"/>
<path fill="#1080f0" d="M2048 2449l28 3 28 1-24-18-24-19-28-2-28-3 24 19zM2076 2452l-24-19-24-19M2024 2430l28 3 28 2"/>
<path fill="#00f070" d="M3234 1792l23-32 22-31-24 5-25 5-22 30-22 30 24-3zM3257 1760l-25 5-24 4M3210 1796l22-31 23-31"/>
<path fill="#00f0b0" d="M3189 1852l23-30 22-30-24 4-24 3-23 30-22 29 24-3zM3212 1822l-24 3-25 4M3165 1855l23-30 22-29"/>
<path fill="#00f8e0" d="M3144 1909l23-28 22-29-24 3-24 3-23 28-22 27 24-2zM3167 1881l-25 2-24 3M3120 1911l22-28 23-28"/>
<path fill="#00f8f8" d="M3098 1964l23-27 23-28-24 2-24 2-23 27-23 26 24-1zM3121 1937l-24 2-24 1M3074 1965l23-26 23-28"/>
<path fill="#00f0f8" d="M3053 2017l23-26 22-27-24 1-24 1-23 25-23 25 24 0zM3076 1991l-25 0-24 0M3028 2016l23-25 23-26"/>
<path fill="#00e8ff" d="M3006 2066l24-24 23-25-25-1-24 0-23 24-23 24 24 1zM3030 2042l-25-1-24-1M2982 2065l23-24 23-25"/>
<path fill="#00d0f8" d="M2960 2113l23-23 23-24-24-1-24-1-23 23-23 22 24 2zM2983 2090l-24-1-24-2M2936 2111l23-22 23-24"/>
<path fill="#08b0f8" d="M2913 2158l23-22 24-23-24-2-24-2-23 21-24 21 24 4zM2936 2136l-24-3-23-3M2889 2155l23-22 24-22"/>
<path fill="#1090f0" d="M2866 2199l23-20 24-21-24-3-24-4-23 21-24 19 24 4zM2889 2179l-24-4-23-3M2842 2195l23-20 24-20"/>
<path fill="#1078f0" d="M2818 2238l24-19 24-20-24-4-24-4-24 19-24 18 24 5zM2842 2219l-24-4-24-5M2794 2233l24-18 24-20"/>
<path fill="#1068e8" d="M2770 2275l24-18 24-19-24-5-24-5-24 18-24 17 24 6zM2794 2257l-24-6-24-5M2746 2269l24-18 24-18"/>
<path fill="#1058e0" d="M2722 2308l24-16 24-17-24-6-24-6-24 16-24 15 24 7zM2746 2292l-24-7-24-6M2698 2301l24-16 24-16"/>
<path fill="#1850e0" d="M2673 2339l24-15 25-16-24-7-24-7-24 15-25 14 24 8zM2697 2324l-24-7-23-8M2649 2331l24-14 25-16M2623 2367l25-13 25-15-24-8-24-8-25 14-24 12 23 9zM2648 2354l-24-9-24-8M2599 2358l25-13 25-14"/>
<path fill="#1848e0" d="M2573 2393l25-13 25-13-24-9-23-9-25 12-25 12 23 10zM2598 2380l-24-9-23-10M2549 2383l25-12 25-13M2523 2415l25-11 25-11-24-10-23-10-26 10-25 10 24 11zM2548 2404l-24-10-24-11M2499 2404l25-10 25-11M2472 2434l25-9 26-10-24-11-24-11-25 9-26 9 24 12zM2497 2425l-24-11-23-12M2448 2423l25-9 26-10M2420 2451l26-8 26-9-24-11-24-12-26 7-26 7 24 13zM2446 2443l-24-12-24-13M2396 2438l26-7 26-8M2368 2465l26-7 26-7-24-13-24-13-26 7-26 5 24 14zM2394 2458l-24-13-24-13M2344 2451l26-6 26-7M2315 2475l26-5 27-5-24-14-24-14-26 5-27 4 24 15zM2341 2470l-24-14-23-14M2291 2461l26-5 27-5"/>
<path fill="#1850e0" d="M2261 2483l27-3 27-5-24-14-24-15-27 3-27 2 24 16zM2288 2480l-24-16-24-15M2237 2467l27-3 27-3"/>
<path fill="#1858e0" d="M2207 2487l27-1 27-3-24-16-24-16-27 2-27 1 24 17zM2234 2486l-24-16-24-17M2183 2471l27-1 27-3"/>
<path fill="#1068e8" d="M2152 2489l27-1 28-1-24-16-24-17-28 0-27-1 24 18zM2179 2488l-24-17-24-17M2128 2471l27 0 28 0"/>
<path fill="#1070e8" d="M2096 2487l28 1 28 1-24-18-24-18-28-1-28-3 24 19zM2124 2488l-24-18-24-18M2072 2468l28 2 28 1"/>
<path fill="#00f050" d="M3283 1783l23-32 22-33-24 5-25 6-22 31-23 32 25-5zM3306 1751l-25 5-24 4M3259 1787l22-31 23-33"/>
<path fill="#00f088" d="M3238 1845l23-31 22-31-24 4-25 5-22 30-23 30 25-4zM3261 1814l-25 4-24 4M3214 1848l22-30 23-31"/>
<path fill="#00f8d0" d="M3193 1905l23-30 22-30-24 3-25 4-22 29-23 28 24-2zM3216 1875l-25 3-24 3M3168 1907l23-29 23-30"/>
<path fill="#00f8f0" d="M3147 1962l23-29 23-28-25 2-24 2-23 28-23 27 25-1zM3170 1933l-24 2-25 2M3123 1963l23-28 22-28"/>
<path fill="#00f0f8" d="M3101 2016l23-27 23-27-24 1-25 1-22 27-23 26 24-1zM3124 1989l-24 1-24 1M3077 2016l23-26 23-27M3055 2068l23-26 23-26-24 0-24 1-23 25-24 24 25 1zM3078 2042l-24 0-24 0M3031 2067l23-25 23-26"/>
<path fill="#00e0f8" d="M3008 2117l24-25 23-24-24-1-25-1-23 24-23 23 24 2zM3032 2092l-25-1-24-1M2984 2115l23-24 24-24"/>
<path fill="#08c0f8" d="M2961 2163l24-23 23-23-24-2-24-2-24 23-23 22 24 2zM2985 2140l-24-2-25-2M2937 2160l24-22 23-23"/>
<path fill="#0898f0" d="M2914 2207l24-22 23-22-24-3-24-2-24 21-23 20 24 4zM2938 2185l-24-3-25-3M2890 2203l24-21 23-22"/>
<path fill="#1080f0" d="M2866 2248l24-20 24-21-24-4-24-4-24 20-24 19 24 5zM2890 2228l-24-4-24-5M2842 2243l24-19 24-21"/>
<path fill="#1070e8" d="M2818 2286l24-19 24-19-24-5-24-5-24 19-24 18 24 5zM2842 2267l-24-5-24-5M2794 2280l24-18 24-19"/>
<path fill="#1060e0" d="M2770 2321l24-17 24-18-24-6-24-5-24 17-24 16 24 7zM2794 2304l-24-6-24-6M2746 2315l24-17 24-18"/>
<path fill="#1850e0" d="M2721 2354l24-16 25-17-24-6-24-7-25 16-24 15 24 8zM2745 2338l-24-7-24-7M2697 2347l24-16 25-16M2671 2384l25-14 25-16-24-7-24-8-25 15-25 13 24 9zM2696 2370l-24-8-24-8M2647 2376l25-14 25-15"/>
<path fill="#1848e0" d="M2621 2411l25-13 25-14-24-8-24-9-25 13-25 13 24 9zM2646 2398l-24-9-24-9M2597 2402l25-13 25-13M2571 2436l25-12 25-13-24-9-24-9-25 11-25 11 24 10zM2596 2424l-24-10-24-10M2547 2425l25-11 25-12"/>
<path fill="#1848d8" d="M2520 2457l25-10 26-11-24-11-24-10-26 10-25 9 24 12zM2545 2447l-24-11-24-11M2496 2446l25-10 26-11M2468 2475l26-8 26-10-24-11-24-12-26 9-26 8 24 12zM2494 2467l-24-12-24-12M2444 2463l26-8 26-9M2416 2491l26-7 26-9-24-12-24-12-26 7-26 7 24 13zM2442 2484l-24-13-24-13M2392 2478l26-7 26-8"/>
<path fill="#1848e0" d="M2363 2503l27-5 26-7-24-13-24-13-27 5-26 5 24 15zM2390 2498l-25-14-24-14M2339 2490l26-6 27-6M2309 2513l27-4 27-6-24-13-24-15-27 5-27 3 24 15zM2336 2509l-24-15-24-14M2285 2498l27-4 27-4"/>
<path fill="#1850e0" d="M2255 2519l27-3 27-3-24-15-24-15-27 3-27 1 24 17zM2282 2516l-24-15-24-15M2231 2504l27-3 27-3"/>
<path fill="#1058e0" d="M2200 2522l28-1 27-2-24-15-24-17-28 1-27 1 24 17zM2228 2521l-25-16-24-17M2176 2506l27-1 28-1"/>
<path fill="#1068e8" d="M2144 2522l28 1 28-1-24-16-24-17-28-1-28-1 24 18zM2172 2523l-24-17-24-18M2120 2505l28 1 28 0"/>
<path fill="#00f040" d="M3333 1773l23-33 22-33-25 5-25 6-22 33-23 32 25-5zM3356 1740l-25 6-25 5M3308 1778l23-32 22-34"/>
<path fill="#00f070" d="M3288 1838l23-32 22-33-25 5-25 5-22 31-23 31 25-4zM3311 1806l-25 4-25 4M3263 1841l23-31 22-32"/>
<path fill="#00f0b0" d="M3242 1899l23-30 23-31-25 3-25 4-22 30-23 30 25-3zM3265 1869l-25 3-24 3M3218 1902l22-30 23-31"/>
<path fill="#00f8e0" d="M3196 1958l23-29 23-30-24 3-25 3-23 28-23 29 25-2zM3219 1929l-24 2-25 2M3172 1960l23-29 23-29"/>
<path fill="#00f0f8" d="M3150 2015l23-28 23-29-24 2-25 2-23 27-23 27 25-1zM3173 1987l-24 1-25 1M3126 2015l23-27 23-28M3104 2068l23-26 23-27-24 0-25 1-23 26-23 26 24 0zM3127 2042l-24 0-25 0M3079 2068l24-26 23-27"/>
<path fill="#00e8ff" d="M3057 2119l24-25 23-26-25 0-24 0-23 24-24 25 25 1zM3081 2094l-25-1-24-1M3033 2118l23-25 23-25"/>
<path fill="#00c8f8" d="M3010 2167l24-23 23-25-24-1-25-1-23 23-24 23 25 2zM3034 2144l-25-2-24-2M2986 2165l23-23 24-24"/>
<path fill="#08a8f8" d="M2963 2213l24-23 23-23-24-2-25-2-23 22-24 22 24 3zM2987 2190l-25-2-24-3M2938 2210l24-22 24-23"/>
<path fill="#1088f0" d="M2915 2256l24-21 24-22-25-3-24-3-24 21-24 20 25 4zM2939 2235l-24-4-25-3M2891 2252l24-21 23-21"/>
<path fill="#1070e8" d="M2867 2296l24-20 24-20-24-4-25-4-24 19-24 19 25 5zM2891 2276l-24-4-25-5M2843 2291l24-19 24-20"/>
<path fill="#1060e8" d="M2818 2333l25-18 24-19-24-5-25-5-24 18-24 17 24 7zM2843 2315l-25-5-24-6M2794 2328l24-18 25-19"/>
<path fill="#1858e0" d="M2769 2368l25-17 24-18-24-5-24-7-25 17-24 16 24 7zM2794 2351l-24-6-25-7M2745 2361l25-16 24-17"/>
<path fill="#1850e0" d="M2720 2400l25-16 24-16-24-7-24-7-25 16-25 14 25 8zM2745 2384l-25-7-24-7M2696 2392l24-15 25-16"/>
<path fill="#1848e0" d="M2670 2429l25-14 25-15-24-8-25-8-25 14-25 13 25 9zM2695 2415l-24-9-25-8M2646 2420l25-14 25-14M2620 2455l25-13 25-13-24-9-25-9-25 13-25 12 24 9zM2645 2442l-25-9-24-9M2595 2445l25-12 26-13"/>
<path fill="#1840d8" d="M2568 2478l26-11 26-12-25-10-24-9-26 11-25 10 24 11zM2594 2467l-24-10-25-10M2544 2468l26-11 25-12M2517 2498l26-9 25-11-24-10-24-11-26 10-26 8 24 12zM2543 2489l-25-11-24-11M2492 2487l26-9 26-10M2465 2516l26-9 26-9-25-11-24-12-26 9-26 7 24 13zM2491 2507l-25-11-24-12M2440 2504l26-8 26-9"/>
<path fill="#1848d8" d="M2412 2530l26-7 27-7-25-12-24-13-26 7-27 5 24 14zM2438 2523l-24-12-24-13M2387 2517l27-6 26-7"/>
<path fill="#1848e0" d="M2358 2541l27-5 27-6-25-13-24-14-27 6-27 4 25 14zM2385 2536l-24-13-25-14M2334 2527l27-4 26-6"/>
<path fill="#1850e0" d="M2304 2550l27-4 27-5-24-14-25-14-27 3-27 3 24 16zM2331 2546l-24-15-25-15M2279 2535l28-4 27-4M2249 2555l28-3 27-2-25-15-24-16-27 2-28 1 24 17zM2277 2552l-25-15-24-16M2224 2539l28-2 27-2"/>
<path fill="#1060e8" d="M2193 2556l28 0 28-1-25-16-24-17-28 1-28-1 25 18zM2221 2556l-24-16-25-17M2169 2540l28 0 27-1"/>
<path fill="#08f040" d="M3384 1763l22-34 23-35-26 7-25 6-22 33-23 33 25-5zM3406 1729l-25 6-25 5M3358 1768l23-33 22-34"/>
<path fill="#00f050" d="M3338 1829l23-32 23-34-26 5-25 5-22 33-23 32 25-4zM3361 1797l-25 4-25 5M3313 1834l23-33 22-33"/>
<path fill="#00f090" d="M3292 1893l23-31 23-33-25 5-25 4-23 31-23 30 25-3zM3315 1862l-25 3-25 4M3267 1896l23-31 23-31"/>
<path fill="#00f8d8" d="M3246 1954l23-30 23-31-25 3-25 3-23 30-23 29 25-2zM3269 1924l-25 3-25 2M3221 1956l23-29 23-31"/>
<path fill="#00f8f0" d="M3200 2012l23-29 23-29-25 2-25 2-23 29-23 28 25-2zM3223 1983l-25 2-25 2M3175 2013l23-28 23-29"/>
<path fill="#00f0f8" d="M3154 2068l23-28 23-28-25 1-25 2-23 27-23 26 25 0zM3177 2040l-25 1-25 1M3129 2068l23-27 23-28"/>
<path fill="#00e8f8" d="M3107 2121l23-27 24-26-25 0-25 0-23 26-24 25 25 1zM3130 2094l-25 0-24 0M3082 2120l23-26 24-26"/>
<path fill="#00d8f8" d="M3060 2171l23-25 24-25-25-1-25-1-23 25-24 23 25 2zM3083 2146l-24-1-25-1M3035 2169l24-24 23-25"/>
<path fill="#08b8f8" d="M3012 2218l24-23 24-24-25-2-25-2-23 23-24 23 25 3zM3036 2195l-25-2-24-3M2988 2216l23-23 24-24"/>
<path fill="#1090f0" d="M2965 2263l24-22 23-23-24-2-25-3-24 22-24 21 25 3zM2989 2241l-25-3-25-3M2940 2259l24-21 24-22"/>
<path fill="#1078f0" d="M2916 2305l24-21 25-21-25-4-25-3-24 20-24 20 25 5zM2940 2284l-24-4-25-4M2892 2301l24-21 24-21"/>
<path fill="#1068e8" d="M2868 2344l24-19 24-20-24-4-25-5-24 19-25 18 25 6zM2892 2325l-25-5-24-5M2843 2339l24-19 25-19"/>
<path fill="#1058e0" d="M2819 2381l24-18 25-19-25-5-25-6-24 18-25 17 25 6zM2843 2363l-24-6-25-6M2794 2374l25-17 24-18"/>
<path fill="#1850e0" d="M2769 2414l25-16 25-17-25-7-25-6-24 16-25 16 25 7zM2794 2398l-25-7-24-7M2745 2407l24-16 25-17"/>
<path fill="#1848e0" d="M2719 2445l25-15 25-16-24-7-25-7-25 15-25 14 25 8zM2744 2430l-24-8-25-7M2695 2437l25-15 25-15M2669 2473l25-14 25-14-24-8-25-8-25 13-25 13 24 9zM2694 2459l-25-8-24-9M2644 2464l25-13 26-14"/>
<path fill="#1840d8" d="M2618 2498l25-12 26-13-25-9-24-9-26 12-26 11 25 10zM2643 2486l-24-9-25-10M2593 2488l26-11 25-13M2566 2520l26-11 26-11-25-10-25-10-25 11-26 9 24 11zM2592 2509l-25-10-24-10M2541 2509l26-10 26-11M2514 2539l26-9 26-10-25-11-24-11-26 9-26 9 24 12zM2540 2530l-25-11-24-12M2489 2528l26-9 26-10M2461 2555l26-7 27-9-25-11-24-12-27 7-26 7 24 13zM2487 2548l-24-12-25-13M2436 2543l27-7 26-8"/>
<path fill="#1848d8" d="M2407 2568l27-6 27-7-25-12-24-13-27 6-27 5 25 14zM2434 2562l-24-13-25-13M2383 2555l27-6 26-6"/>
<path fill="#1848e0" d="M2353 2578l27-4 27-6-24-13-25-14-27 5-27 4 24 14zM2380 2574l-24-14-25-14M2328 2564l28-4 27-5"/>
<path fill="#1850e0" d="M2298 2585l28-3 27-4-25-14-24-14-27 2-28 3 25 15zM2326 2582l-25-14-24-16M2274 2570l27-2 27-4"/>
<path fill="#1858e0" d="M2243 2589l27-2 28-2-24-15-25-15-28 1-28 0 25 17zM2270 2587l-24-15-25-16M2218 2573l28-1 28-2"/>
<path fill="#08f038" d="M3434 1752l23-35 23-36-26 7-25 6-23 35-22 34 25-5zM3457 1717l-25 6-26 6M3409 1758l23-35 22-35"/>
<path fill="#00f040" d="M3389 1820l23-33 22-35-25 6-25 5-23 34-23 32 25-4zM3412 1787l-26 5-25 5M3363 1825l23-33 23-34"/>
<path fill="#00f070" d="M3343 1886l23-32 23-34-26 5-25 4-23 33-23 31 26-3zM3366 1854l-25 4-26 4M3318 1890l23-32 22-33"/>
<path fill="#00f0b8" d="M3297 1949l23-31 23-32-25 4-26 3-23 31-23 30 26-3zM3320 1918l-25 3-26 3M3272 1951l23-30 23-31"/>
<path fill="#00f8e8" d="M3251 2009l23-30 23-30-25 2-26 3-23 29-23 29 25-1zM3274 1979l-26 2-25 2M3225 2011l23-30 24-30"/>
<path fill="#00f0f8" d="M3204 2066l23-28 24-29-26 2-25 1-23 28-23 28 25-1zM3227 2038l-25 1-25 1M3179 2067l23-28 23-28M3157 2121l24-27 23-28-25 1-25 1-24 26-23 27 25 0zM3181 2094l-26 0-25 0M3132 2121l23-27 24-27"/>
<path fill="#00e8ff" d="M3110 2173l24-26 23-26-25 0-25 0-24 25-23 25 25 1zM3134 2147l-26 0-25-1M3085 2172l23-25 24-26"/>
<path fill="#08c8f8" d="M3062 2222l24-24 24-25-25-1-25-1-24 24-24 23 25 2zM3086 2198l-25-1-25-2M3037 2220l24-23 24-25"/>
<path fill="#08a0f0" d="M3014 2269l24-23 24-24-25-2-25-2-23 23-24 22 24 3zM3038 2246l-25-2-24-3M2989 2266l24-22 24-24"/>
<path fill="#1080f0" d="M2966 2313l24-22 24-22-25-3-24-3-25 21-24 21 25 4zM2990 2291l-25-3-25-4M2941 2309l24-21 24-22"/>
<path fill="#1070e8" d="M2918 2354l24-20 24-21-25-4-25-4-24 20-24 19 25 5zM2942 2334l-25-5-25-4M2893 2349l24-20 24-20"/>
<path fill="#1060e8" d="M2868 2392l25-19 25-19-25-5-25-5-25 19-24 18 24 5zM2893 2373l-25-5-25-5M2843 2386l25-18 25-19"/>
<path fill="#1850e0" d="M2819 2427l25-17 24-18-25-6-24-5-25 17-25 16 25 7zM2844 2410l-25-6-25-6M2794 2421l25-17 24-18M2769 2460l25-16 25-17-25-6-25-7-25 16-25 15 25 8zM2794 2444l-25-7-25-7M2744 2453l25-16 25-16"/>
<path fill="#1848e0" d="M2718 2490l26-15 25-15-25-7-25-8-25 14-25 14 24 8zM2744 2475l-25-8-25-8M2693 2481l26-14 25-14"/>
<path fill="#1840d8" d="M2667 2516l26-13 25-13-25-9-24-8-26 13-25 12 24 9zM2693 2503l-25-8-25-9M2642 2507l26-12 25-14M2616 2540l25-11 26-13-25-9-24-9-26 11-26 11 25 10zM2641 2529l-24-10-25-10M2591 2530l26-11 25-12M2563 2561l27-10 26-11-25-10-25-10-26 10-26 9 24 11zM2590 2551l-25-10-25-11M2538 2550l27-9 26-11M2511 2579l26-9 26-9-25-11-24-11-27 9-26 7 25 12zM2537 2570l-25-11-25-11M2486 2567l26-8 26-9M2457 2594l27-7 27-8-25-12-25-12-27 7-27 6 25 13zM2484 2587l-25-12-25-13M2432 2581l27-6 27-8"/>
<path fill="#1848e0" d="M2403 2605l27-5 27-6-25-13-25-13-27 6-27 4 25 14zM2430 2600l-25-13-25-13M2378 2592l27-5 27-6M2348 2614l28-4 27-5-25-13-25-14-27 4-28 3 25 15zM2376 2610l-25-14-25-14M2323 2600l28-4 27-4"/>
<path fill="#1850e0" d="M2292 2619l28-2 28-3-25-14-25-15-28 2-27 2 24 15zM2320 2617l-25-15-25-15M2267 2604l28-2 28-2"/>
<path fill="#10f030" d="M3486 1740l23-36 23-36-26 7-26 6-23 36-23 35 26-6zM3509 1704l-26 7-26 6M3460 1746l23-35 23-36"/>
<path fill="#08f040" d="M3440 1811l23-35 23-36-26 6-26 6-22 35-23 33 25-4zM3463 1776l-26 5-25 6M3414 1816l23-35 23-35"/>
<path fill="#00f058" d="M3394 1878l23-33 23-34-26 5-25 4-23 34-23 32 26-4zM3417 1845l-25 4-26 5M3369 1882l23-33 22-33"/>
<path fill="#00f098" d="M3348 1943l23-32 23-33-25 4-26 4-23 32-23 31 25-3zM3371 1911l-25 3-26 4M3322 1946l24-32 23-32"/>
<path fill="#00f8d8" d="M3302 2005l23-31 23-31-26 3-25 3-23 30-23 30 25-2zM3325 1974l-26 3-25 2M3276 2007l23-30 23-31"/>
<path fill="#00f8f0" d="M3255 2064l23-29 24-30-26 2-25 2-24 29-23 28 25-1zM3278 2035l-25 1-26 2M3229 2065l24-29 23-29"/>
<path fill="#00f0f8" d="M3208 2121l23-28 24-29-26 1-25 1-23 28-24 27 25 0zM3231 2093l-25 0-25 1M3182 2121l24-28 23-28"/>
<path fill="#00e8f8" d="M3161 2174l23-26 24-27-26 0-25 0-23 26-24 26 25 1zM3184 2148l-25 0-25-1M3135 2174l24-26 23-27"/>
<path fill="#00d0f8" d="M3113 2225l24-25 24-26-26 0-25-1-24 25-24 24 26 2zM3137 2200l-26-1-25-1M3088 2224l23-25 24-25"/>
<path fill="#08b0f8" d="M3065 2274l24-24 24-25-25-1-26-2-24 24-24 23 26 2zM3089 2250l-25-2-26-2M3040 2271l24-23 24-24"/>
<path fill="#1090f0" d="M3017 2319l24-22 24-23-25-3-26-2-24 22-24 22 25 3zM3041 2297l-25-3-26-3M2991 2316l25-22 24-23"/>
<path fill="#1078f0" d="M2968 2362l24-21 25-22-26-3-25-3-24 21-24 20 25 4zM2992 2341l-25-4-25-3M2943 2358l24-21 24-21"/>
<path fill="#1068e8" d="M2919 2402l24-20 25-20-25-4-25-4-25 19-25 19 25 5zM2943 2382l-25-4-25-5M2893 2397l25-19 25-20"/>
<path fill="#1858e0" d="M2869 2439l25-18 25-19-26-5-25-5-24 18-25 17 25 6zM2894 2421l-25-5-25-6M2844 2433l25-17 24-19"/>
<path fill="#1850e0" d="M2819 2474l25-17 25-18-25-6-25-6-25 17-25 16 25 7zM2844 2457l-25-6-25-7M2794 2467l25-16 25-18"/>
<path fill="#1848e0" d="M2768 2505l26-15 25-16-25-7-25-7-25 15-26 15 25 7zM2794 2490l-25-7-25-8M2743 2497l26-14 25-16"/>
<path fill="#1848d8" d="M2717 2533l26-13 25-15-25-8-25-7-25 13-26 13 25 9zM2743 2520l-25-8-25-9M2692 2525l26-13 25-15"/>
<path fill="#1840d8" d="M2666 2559l26-12 25-14-25-8-25-9-26 13-25 11 25 10zM2692 2547l-26-9-25-9M2641 2550l25-12 26-13M2614 2582l26-11 26-12-25-9-25-10-26 11-27 10 25 11zM2640 2571l-25-10-25-10M2588 2572l27-11 26-11M2561 2601l26-9 27-10-26-10-25-11-26 9-26 9 25 11zM2587 2592l-25-11-25-11M2536 2590l26-9 26-9M2507 2618l27-8 27-9-25-11-25-11-27 8-27 7 25 12zM2534 2610l-25-12-25-11M2482 2606l27-8 27-8"/>
<path fill="#1848d8" d="M2453 2631l27-6 27-7-25-12-25-12-27 6-27 5 25 13zM2480 2625l-25-12-25-13M2428 2618l27-5 27-7"/>
<path fill="#1848e0" d="M2398 2641l28-5 27-5-25-13-25-13-27 5-28 4 25 14zM2426 2636l-25-13-25-13M2373 2628l28-5 27-5"/>
<path fill="#1850e0" d="M2343 2648l28-3 27-4-25-13-25-14-28 3-28 2 25 15zM2371 2645l-26-14-25-14M2317 2634l28-3 28-3"/>
<path fill="#28f828" d="M3538 1728l23-37 23-38-26 7-26 8-23 36-23 36 26-6zM3561 1691l-26 7-26 6M3512 1734l23-36 23-38"/>
<path fill="#08f038" d="M3492 1800l23-36 23-36-26 6-26 6-23 36-23 35 26-6zM3515 1764l-26 6-26 6M3466 1805l23-35 23-36"/>
<path fill="#00f040" d="M3446 1869l23-34 23-35-26 5-26 6-23 34-23 33 26-4zM3469 1835l-26 5-26 5M3420 1874l23-34 23-35"/>
<path fill="#00f078" d="M3400 1936l23-33 23-34-26 5-26 4-23 33-23 32 26-4zM3423 1903l-26 4-26 4M3374 1939l23-32 23-33"/>
<path fill="#00f0b8" d="M3353 2000l24-32 23-32-26 3-26 4-23 31-23 31 25-3zM3377 1968l-26 3-26 3M3327 2002l24-31 23-32"/>
<path fill="#00f8e8" d="M3306 2061l24-31 23-30-26 2-25 3-24 30-23 29 26-2zM3330 2030l-26 3-26 2M3281 2062l23-29 23-31"/>
<path fill="#00f0f8" d="M3259 2119l24-29 23-29-25 1-26 2-24 29-23 28 26-1zM3283 2090l-26 2-26 1M3234 2120l23-28 24-30M3212 2175l24-28 23-28-25 1-26 1-24 27-23 26 25 1zM3236 2147l-26 1-26 0M3186 2175l24-27 24-28"/>
<path fill="#00e0ff" d="M3164 2227l24-26 24-26-26 0-25-1-24 26-24 25 25 2zM3188 2201l-26 0-25-1M3138 2227l24-26 24-26"/>
<path fill="#08c0f8" d="M3116 2278l24-25 24-26-26 0-25-2-24 25-24 24 25 2zM3140 2253l-26-1-25-2M3090 2276l24-24 24-25"/>
<path fill="#08a0f0" d="M3068 2325l24-23 24-24-26-2-25-2-24 23-24 22 25 3zM3092 2302l-26-3-25-2M3042 2322l24-23 24-23"/>
<path fill="#1080f0" d="M3019 2369l24-22 25-22-26-3-25-3-25 22-24 21 25 4zM3043 2347l-25-3-26-3M2993 2366l25-22 24-22"/>
<path fill="#1070e8" d="M2970 2411l24-20 25-22-26-3-25-4-25 20-24 20 25 5zM2994 2391l-25-4-26-5M2944 2407l25-20 24-21"/>
<path fill="#1060e0" d="M2920 2450l25-19 25-20-26-4-25-5-25 19-25 18 25 6zM2945 2431l-26-5-25-5M2894 2445l25-19 25-19"/>
<path fill="#1850e0" d="M2870 2486l25-18 25-18-26-5-25-6-25 18-25 17 25 6zM2895 2468l-26-5-25-6M2844 2480l25-17 25-18"/>
<path fill="#1848e0" d="M2819 2519l26-16 25-17-26-6-25-6-25 16-26 15 26 7zM2845 2503l-26-7-25-6M2794 2512l25-16 25-16M2768 2549l26-15 25-15-25-7-26-7-25 15-26 13 26 8zM2794 2534l-26-7-25-7M2743 2541l25-14 26-15"/>
<path fill="#1840d8" d="M2716 2576l26-13 26-14-25-8-26-8-25 14-26 12 25 9zM2742 2563l-25-8-25-8M2691 2568l26-13 26-14M2664 2601l26-12 26-13-25-8-25-9-26 12-26 11 25 9zM2690 2589l-25-9-25-9M2639 2591l26-11 26-12M2611 2622l27-11 26-10-25-10-25-9-27 10-26 9 25 11zM2638 2611l-26-9-25-10M2586 2612l26-10 27-11M2558 2640l27-9 26-9-25-10-25-11-27 9-27 8 25 11zM2585 2631l-26-10-25-11M2532 2629l27-8 27-9M2504 2655l27-7 27-8-26-11-25-11-27 7-27 6 25 12zM2531 2648l-25-12-26-11M2478 2643l28-7 26-7"/>
<path fill="#1848e0" d="M2449 2667l27-6 28-6-26-12-25-12-27 5-28 5 26 13zM2476 2661l-25-12-25-13M2424 2654l27-5 27-6M2393 2675l28-4 28-4-25-13-26-13-27 4-28 3 25 14zM2421 2671l-25-13-25-13M2368 2662l28-4 28-4"/>
<path fill="#40f828" d="M3591 1714l23-38 23-38-26 8-27 7-23 38-23 37 27-7zM3614 1676l-26 8-27 7M3565 1721l23-37 23-38"/>
<path fill="#10f030" d="M3545 1788l23-36 23-38-26 7-27 7-23 36-23 36 27-6zM3568 1752l-26 6-27 6M3519 1794l23-36 23-37"/>
<path fill="#08f040" d="M3499 1859l23-35 23-36-26 6-27 6-23 35-23 34 26-5zM3522 1824l-26 6-27 5M3472 1864l24-34 23-36"/>
<path fill="#00f060" d="M3452 1928l24-34 23-35-27 5-26 5-23 34-23 33 26-4zM3476 1894l-27 5-26 4M3426 1932l23-33 23-35"/>
<path fill="#00f098" d="M3406 1993l23-32 23-33-26 4-26 4-23 32-24 32 26-3zM3429 1961l-26 4-26 3M3379 1997l24-32 23-33"/>
<path fill="#00f8e0" d="M3359 2056l23-31 24-32-27 4-26 3-23 30-24 31 26-2zM3382 2025l-26 3-26 2M3332 2059l24-31 23-31"/>
<path fill="#00f8f0" d="M3311 2116l24-29 24-31-27 3-26 2-23 29-24 29 26-1zM3335 2087l-26 2-26 1M3285 2118l24-29 23-30"/>
<path fill="#00f0f8" d="M3264 2174l24-28 23-30-26 2-26 1-23 28-24 28 26-1zM3288 2146l-26 0-26 1M3238 2174l24-28 23-28"/>
<path fill="#00e8f8" d="M3216 2228l24-27 24-27-26 0-26 1-24 26-24 26 26 1zM3240 2201l-26 1-26-1M3190 2228l24-26 24-28"/>
<path fill="#00d0f8" d="M3168 2280l24-25 24-27-26 0-26-1-24 26-24 25 26 1zM3192 2255l-26-1-26-1M3142 2279l24-25 24-26"/>
<path fill="#08b0f8" d="M3119 2329l25-24 24-25-26-1-26-1-24 24-24 23 25 2zM3144 2305l-26-2-26-1M3093 2327l25-24 24-24"/>
<path fill="#1090f0" d="M3070 2375l25-22 24-24-26-2-25-2-25 22-24 22 25 4zM3095 2353l-26-3-26-3M3044 2373l25-23 24-23"/>
<path fill="#1078e8" d="M3021 2419l25-22 24-22-26-2-25-4-25 22-24 20 25 4zM3046 2397l-26-3-26-3M2995 2415l25-21 24-21"/>
<path fill="#1060e8" d="M2971 2459l25-20 25-20-26-4-25-4-25 20-25 19 26 5zM2996 2439l-26-4-25-4M2946 2455l24-20 25-20"/>
<path fill="#1858e0" d="M2921 2497l25-19 25-19-25-4-26-5-25 18-25 18 25 6zM2946 2478l-25-5-26-5M2895 2492l26-19 25-18"/>
<path fill="#1850e0" d="M2871 2532l25-17 25-18-26-5-25-6-25 17-26 16 26 6zM2896 2515l-26-6-25-6M2845 2525l25-16 25-17"/>
<path fill="#1848e0" d="M2819 2563l26-15 26-16-26-7-26-6-25 15-26 15 26 7zM2845 2548l-26-7-25-7M2794 2556l25-15 26-16"/>
<path fill="#1848d8" d="M2768 2592l26-14 25-15-25-7-26-7-26 14-26 13 26 8zM2794 2578l-26-7-26-8M2742 2584l26-13 26-15"/>
<path fill="#1840d8" d="M2715 2618l27-13 26-13-26-8-26-8-26 13-26 12 26 8zM2742 2605l-26-8-26-8M2690 2609l26-12 26-13M2663 2641l26-11 26-12-25-9-26-8-26 10-27 11 26 9zM2689 2630l-26-9-25-10M2637 2631l26-10 27-12M2609 2660l27-9 27-10-26-10-26-9-26 9-27 9 25 10zM2636 2651l-26-10-25-10M2583 2650l27-9 27-10M2555 2677l27-8 27-9-26-10-25-10-27 8-27 7 25 11zM2582 2669l-26-10-25-11M2529 2666l27-7 27-9"/>
<path fill="#1848d8" d="M2500 2690l28-6 27-7-26-11-25-11-28 6-27 6 26 12zM2528 2684l-26-11-26-12M2475 2679l27-6 27-7"/>
<path fill="#1848e0" d="M2445 2701l28-5 27-6-25-11-26-12-28 4-28 4 26 13zM2473 2696l-26-12-26-13M2419 2688l28-4 28-5"/>
<path fill="#58f820" d="M3645 1700l23-39 23-39-27 8-27 8-23 38-23 38 27-7zM3668 1661l-27 8-27 7M3618 1707l23-38 23-39"/>
<path fill="#20f830" d="M3599 1776l23-38 23-38-27 7-27 7-23 38-23 36 27-6zM3622 1738l-27 7-27 7M3572 1782l23-37 23-38"/>
<path fill="#08f038" d="M3552 1849l23-36 24-37-27 6-27 6-23 36-23 35 26-5zM3575 1813l-26 6-27 5M3525 1854l24-35 23-37"/>
<path fill="#00f048" d="M3505 1919l24-35 23-35-27 5-26 5-23 35-24 34 27-4zM3529 1884l-27 5-26 5M3479 1924l23-35 23-35"/>
<path fill="#00f080" d="M3459 1986l23-33 23-34-26 5-27 4-23 33-23 32 26-3zM3482 1953l-27 4-26 4M3432 1990l23-33 24-33"/>
<path fill="#00f0c0" d="M3411 2051l24-32 24-33-27 4-26 3-24 32-23 31 26-2zM3435 2019l-27 3-26 3M3385 2054l23-32 24-32"/>
<path fill="#00f8e8" d="M3364 2113l24-31 23-31-26 3-26 2-24 31-24 29 27-1zM3388 2082l-27 3-26 2M3338 2115l23-30 24-31"/>
<path fill="#00f0f8" d="M3316 2172l24-29 24-30-26 2-27 1-23 30-24 28 26-1zM3340 2143l-26 1-26 2M3290 2173l24-29 24-29M3268 2228l24-28 24-28-26 1-26 1-24 27-24 27 26 0zM3292 2200l-26 1-26 0M3242 2228l24-27 24-28"/>
<path fill="#00e0ff" d="M3220 2282l24-27 24-27-26 0-26 0-24 27-24 25 26 1zM3244 2255l-26 0-26 0M3194 2281l24-26 24-27"/>
<path fill="#08c0f8" d="M3171 2332l25-25 24-25-26-1-26-1-24 25-25 24 26 2zM3196 2307l-26-1-26-1M3145 2331l25-25 24-25"/>
<path fill="#08a0f0" d="M3123 2380l24-23 24-25-26-1-26-2-24 24-25 22 26 3zM3147 2357l-26-2-26-2M3096 2378l25-23 24-24"/>
<path fill="#1080f0" d="M3073 2425l25-22 25-23-27-2-26-3-24 22-25 22 26 3zM3098 2403l-26-3-26-3M3047 2422l25-22 24-22"/>
<path fill="#1070e8" d="M3023 2467l25-20 25-22-26-3-26-3-25 20-25 20 26 4zM3048 2447l-26-4-26-4M2997 2463l25-20 25-21"/>
<path fill="#1060e0" d="M2973 2506l25-19 25-20-26-4-26-4-25 19-25 19 26 5zM2998 2487l-26-4-26-5M2947 2502l25-19 25-20"/>
<path fill="#1850e0" d="M2922 2543l26-18 25-19-26-4-26-5-25 18-25 17 25 5zM2948 2525l-26-5-26-5M2896 2537l26-17 25-18"/>
<path fill="#1848e0" d="M2871 2576l26-16 25-17-26-6-25-5-26 16-26 15 26 7zM2897 2560l-26-6-26-6M2845 2570l26-16 25-17M2820 2606l25-14 26-16-26-6-26-7-25 15-26 14 26 7zM2845 2592l-26-7-25-7M2794 2599l25-14 26-15"/>
<path fill="#1848d8" d="M2767 2634l26-13 27-15-26-7-26-7-26 13-27 13 26 8zM2793 2621l-26-8-25-8M2741 2626l26-13 27-14"/>
<path fill="#1840d8" d="M2714 2658l27-12 26-12-26-8-26-8-26 12-26 11 25 9zM2741 2646l-26-8-26-8M2688 2650l27-12 26-12M2661 2679l27-10 26-11-26-8-25-9-27 10-27 9 26 10zM2688 2669l-26-9-26-9M2635 2670l27-10 26-10M2607 2697l27-8 27-10-26-9-26-10-27 9-27 8 26 10zM2634 2689l-26-10-26-10M2581 2687l27-8 27-9"/>
<path fill="#1848d8" d="M2552 2712l28-7 27-8-26-10-26-10-27 7-28 6 26 12zM2580 2705l-26-10-26-11M2526 2702l28-7 27-8"/>
<path fill="#1848e0" d="M2497 2724l27-5 28-7-26-10-26-12-27 6-28 5 26 11zM2524 2719l-26-12-25-11M2471 2712l27-5 28-5"/>
<path fill="#78f820" d="M3699 1685l23-40 24-40-28 8-27 9-23 39-23 39 27-7zM3722 1645l-27 8-27 8M3672 1693l23-40 23-40"/>
<path fill="#40f828" d="M3653 1762l23-38 23-39-27 8-27 7-23 38-23 38 27-7zM3676 1724l-27 7-27 7M3626 1769l23-38 23-38"/>
<path fill="#10f030" d="M3606 1837l23-37 24-38-27 7-27 7-24 37-23 36 27-6zM3629 1800l-27 7-27 6M3579 1843l23-36 24-38"/>
<path fill="#08f040" d="M3559 1909l24-35 23-37-27 6-27 6-23 35-24 35 27-5zM3583 1874l-27 5-27 5M3532 1914l24-35 23-36"/>
<path fill="#00f060" d="M3512 1978l24-34 23-35-27 5-27 5-23 34-23 33 26-4zM3536 1944l-27 5-27 4M3485 1982l24-33 23-35"/>
<path fill="#00f0a0" d="M3465 2045l24-33 23-34-27 4-26 4-24 33-24 32 27-3zM3489 2012l-27 4-27 3M3438 2048l24-32 23-34"/>
<path fill="#00f8e0" d="M3417 2108l24-31 24-32-27 3-27 3-23 31-24 31 27-2zM3441 2077l-27 3-26 2M3391 2111l23-31 24-32"/>
<path fill="#00f8f8" d="M3370 2169l24-30 23-31-26 3-27 2-24 30-24 29 27-1zM3394 2139l-27 2-27 2M3343 2171l24-30 24-30"/>
<path fill="#00f0f8" d="M3322 2227l24-29 24-29-27 2-27 1-24 28-24 28 27 0zM3346 2198l-27 2-27 0M3295 2228l24-28 24-29"/>
<path fill="#00e8f8" d="M3273 2282l24-27 25-28-27 1-27 0-24 27-24 27 27 0zM3297 2255l-26 0-27 0M3247 2282l24-27 24-27"/>
<path fill="#00d0f8" d="M3224 2334l25-26 24-26-26 0-27 0-24 25-25 25 27 1zM3249 2308l-27 0-26-1M3198 2333l24-25 25-26"/>
<path fill="#08b0f8" d="M3175 2384l25-25 24-25-26-1-27-1-24 25-24 23 26 2zM3200 2359l-27-1-26-1M3149 2382l24-24 25-25"/>
<path fill="#1090f0" d="M3126 2430l25-23 24-23-26-2-26-2-25 23-25 22 26 3zM3151 2407l-27-2-26-2M3099 2428l25-23 25-23"/>
<path fill="#1078f0" d="M3076 2474l25-22 25-22-27-2-26-3-25 22-25 20 27 4zM3101 2452l-26-2-27-3M3050 2471l25-21 24-22"/>
<path fill="#1068e8" d="M3026 2515l25-20 25-21-26-3-27-4-25 20-25 19 26 5zM3051 2495l-26-4-27-4M2999 2511l26-20 25-20"/>
<path fill="#1858e0" d="M2975 2553l25-19 26-19-27-4-26-5-25 19-26 18 27 5zM3000 2534l-26-4-26-5M2949 2548l25-18 25-19"/>
<path fill="#1850e0" d="M2924 2587l25-17 26-17-26-5-27-5-25 17-26 16 26 6zM2949 2570l-26-5-26-5M2897 2582l26-17 26-17"/>
<path fill="#1848e0" d="M2872 2619l26-15 26-17-27-5-26-6-26 16-25 14 26 7zM2898 2604l-26-6-27-6M2846 2613l26-15 25-16M2820 2648l26-14 26-15-26-6-26-7-27 15-26 13 26 7zM2846 2634l-26-6-27-7M2793 2641l27-13 26-15"/>
<path fill="#1848d8" d="M2767 2674l26-13 27-13-27-7-26-7-26 12-27 12 27 8zM2793 2661l-26-7-26-8M2741 2666l26-12 26-13"/>
<path fill="#1840d8" d="M2713 2697l27-11 27-12-26-8-27-8-26 11-27 10 26 9zM2740 2686l-26-8-26-9M2687 2688l27-10 27-12M2659 2716l27-9 27-10-26-9-26-9-27 10-27 8 26 10zM2686 2707l-26-9-26-9M2633 2707l27-9 27-10"/>
<path fill="#1848d8" d="M2605 2733l27-8 27-9-26-9-26-10-27 8-28 7 26 11zM2632 2725l-26-10-26-10M2578 2723l28-8 27-8"/>
<path fill="#1848e0" d="M2549 2746l28-6 28-7-27-10-26-11-28 7-27 5 26 11zM2577 2740l-26-11-27-10M2523 2735l28-6 27-6"/>
<path fill="#90f818" d="M3754 1669l24-41 23-41-28 9-27 9-24 40-23 40 28-8zM3778 1628l-28 9-28 8M3727 1677l23-40 23-41"/>
<path fill="#58f820" d="M3708 1748l23-39 23-40-27 8-28 8-23 39-23 38 27-7zM3731 1709l-28 8-27 7M3680 1755l23-38 24-40"/>
<path fill="#20f830" d="M3661 1825l23-38 24-39-28 7-27 7-24 38-23 37 27-6zM3684 1787l-27 7-28 6M3633 1831l24-37 23-39"/>
<path fill="#08f038" d="M3614 1898l23-36 24-37-28 6-27 6-23 37-24 35 27-5zM3637 1862l-27 6-27 6M3586 1904l24-36 23-37"/>
<path fill="#00f048" d="M3567 1969l23-35 24-36-28 6-27 5-23 35-24 34 27-4zM3590 1934l-27 5-27 5M3539 1974l24-35 23-35"/>
<path fill="#00f080" d="M3519 2037l24-33 24-35-28 5-27 4-23 34-24 33 27-4zM3543 2004l-27 4-27 4M3492 2041l24-33 23-34"/>
<path fill="#00f0c0" d="M3471 2102l24-32 24-33-27 4-27 4-24 32-24 31 27-3zM3495 2070l-27 4-27 3M3444 2105l24-31 24-33"/>
<path fill="#00f8e8" d="M3424 2165l23-31 24-32-27 3-27 3-23 31-24 30 26-2zM3447 2134l-27 3-26 2M3396 2167l24-30 24-32"/>
<path fill="#00f0f8" d="M3375 2224l24-29 25-30-28 2-26 2-24 29-24 29 26-1zM3399 2195l-27 2-26 1M3348 2226l24-29 24-30M3327 2281l24-28 24-29-27 2-26 1-25 28-24 27 27 0zM3351 2253l-27 1-27 1M3300 2282l24-28 24-28"/>
<path fill="#00e0ff" d="M3278 2335l24-27 25-27-27 1-27 0-24 26-25 26 27 1zM3302 2308l-26 1-27-1M3251 2335l25-26 24-27"/>
<path fill="#08c0f8" d="M3229 2386l24-25 25-26-27 0-27-1-24 25-25 25 27 1zM3253 2361l-26-1-27-1M3202 2385l25-25 24-25"/>
<path fill="#08a0f0" d="M3179 2434l25-24 25-24-27-1-27-1-24 23-25 23 26 2zM3204 2410l-27-1-26-2M3152 2432l25-23 25-24"/>
<path fill="#1080f0" d="M3129 2479l25-22 25-23-27-2-26-2-25 22-25 22 27 3zM3154 2457l-26-2-27-3M3103 2477l25-22 24-23"/>
<path fill="#1070e8" d="M3079 2522l25-21 25-22-26-2-27-3-25 21-25 20 26 3zM3104 2501l-27-3-26-3M3052 2518l25-20 26-21"/>
<path fill="#1060e8" d="M3028 2561l26-19 25-20-27-4-26-3-26 19-25 19 26 4zM3054 2542l-27-4-27-4M3001 2557l26-19 25-20"/>
<path fill="#1858e0" d="M2977 2597l26-18 25-18-27-4-26-4-26 17-25 17 26 5zM3003 2579l-27-4-27-5M2950 2592l26-17 25-18"/>
<path fill="#1850e0" d="M2925 2631l26-17 26-17-27-5-26-5-26 17-26 15 26 6zM2951 2614l-27-5-26-5M2898 2625l26-16 26-17"/>
<path fill="#1848e0" d="M2873 2661l26-15 26-15-27-6-26-6-26 15-26 14 26 7zM2899 2646l-27-6-26-6M2846 2655l26-15 26-15M2820 2688l26-13 27-14-27-6-26-7-27 13-26 13 26 7zM2846 2675l-26-7-27-7M2793 2681l27-13 26-13M2766 2712l27-11 27-13-27-7-26-7-27 12-27 11 27 8zM2793 2701l-26-8-27-7M2740 2705l27-12 26-12"/>
<path fill="#1848d8" d="M2712 2733l27-10 27-11-26-7-27-8-27 10-27 9 27 9zM2739 2723l-26-8-27-8M2686 2725l27-10 27-10"/>
<path fill="#1848e0" d="M2658 2751l27-8 27-10-26-8-27-9-27 9-27 8 26 9zM2685 2743l-27-9-26-9M2631 2742l27-8 28-9M2602 2766l28-7 28-8-27-9-26-9-28 7-28 6 26 10zM2630 2759l-27-10-26-9M2575 2756l28-7 28-7"/>
<path fill="#a8f810" d="M3810 1652l23-42 24-42-28 9-28 10-23 41-24 41 28-9zM3833 1610l-28 9-27 9M3782 1660l23-41 24-42"/>
<path fill="#70f820" d="M3763 1733l24-40 23-41-28 8-28 9-23 40-23 39 27-7zM3787 1693l-28 8-28 8M3735 1741l24-40 23-41"/>
<path fill="#38f828" d="M3716 1811l24-39 23-39-28 8-27 7-24 39-23 38 27-7zM3740 1772l-28 8-28 7M3688 1818l24-38 23-39"/>
<path fill="#10f030" d="M3669 1887l24-38 23-38-28 7-27 7-24 37-23 36 27-5zM3693 1849l-28 7-28 6M3641 1893l24-37 23-38"/>
<path fill="#00f040" d="M3622 1959l23-36 24-36-28 6-27 5-24 36-23 35 27-5zM3645 1923l-27 6-28 5M3594 1964l24-35 23-36"/>
<path fill="#00f060" d="M3574 2029l24-35 24-35-28 5-27 5-24 35-24 33 27-4zM3598 1994l-28 5-27 5M3546 2033l24-34 24-35"/>
<path fill="#00f0a0" d="M3526 2096l24-33 24-34-28 4-27 4-24 33-24 32 28-3zM3550 2063l-27 4-28 3M3499 2099l24-32 23-34"/>
<path fill="#00f8e0" d="M3478 2160l24-32 24-32-27 3-28 3-24 32-23 31 27-3zM3502 2128l-27 3-28 3M3451 2162l24-31 24-32"/>
<path fill="#00f8f8" d="M3430 2221l24-31 24-30-27 2-27 3-25 30-24 29 27-1zM3454 2190l-27 3-28 2M3402 2223l25-30 24-31"/>
<path fill="#00f0f8" d="M3381 2279l25-29 24-29-28 2-27 1-24 29-24 28 27-1zM3406 2250l-28 2-27 1M3354 2280l24-28 24-29"/>
<path fill="#00e8f8" d="M3332 2334l25-27 24-28-27 1-27 1-25 27-24 27 27 0zM3357 2307l-27 1-28 0M3305 2335l25-27 24-28"/>
<path fill="#00d0f8" d="M3283 2387l25-26 24-27-27 1-27 0-25 26-24 25 27 1zM3308 2361l-28 0-27 0M3256 2387l24-26 25-26"/>
<path fill="#08b0f8" d="M3233 2436l25-24 25-25-27 0-27-1-25 24-25 24 27 1zM3258 2412l-27-1-27-1M3206 2435l25-24 25-24"/>
<path fill="#1090f0" d="M3183 2483l25-23 25-24-27-1-27-1-25 23-25 22 27 2zM3208 2460l-27-1-27-2M3156 2481l25-22 25-24"/>
<path fill="#1078f0" d="M3133 2527l25-22 25-22-27-2-27-2-25 22-25 21 27 2zM3158 2505l-27-2-27-2M3106 2524l25-21 25-22"/>
<path fill="#1068e8" d="M3082 2568l26-20 25-21-27-3-27-2-25 20-26 19 27 3zM3108 2548l-28-3-26-3M3055 2564l25-19 26-21"/>
<path fill="#1060e0" d="M3031 2605l25-18 26-19-27-4-27-3-25 18-26 18 27 5zM3056 2587l-27-4-26-4M3004 2602l25-19 26-19"/>
<path fill="#1850e0" d="M2979 2640l26-17 26-18-27-3-27-5-26 17-26 17 27 5zM3005 2623l-27-4-27-5M2952 2636l26-17 26-17M2927 2672l26-15 26-17-27-4-27-5-26 15-26 15 27 6zM2953 2657l-27-5-27-6M2900 2667l26-15 26-16"/>
<path fill="#1848e0" d="M2874 2701l26-14 27-15-27-5-27-6-27 14-26 13 27 7zM2900 2687l-27-6-27-6M2847 2695l26-14 27-14M2820 2726l27-12 27-13-27-6-27-7-27 13-27 11 27 7zM2847 2714l-27-7-27-6M2793 2719l27-12 27-12M2766 2749l27-11 27-12-27-7-27-7-27 11-27 10 27 8zM2793 2738l-27-7-27-8M2739 2741l27-10 27-12M2711 2768l28-9 27-10-27-8-27-8-27 10-27 8 26 9zM2739 2759l-27-8-27-8M2684 2760l28-9 27-10M2656 2784l28-8 27-8-27-8-26-9-28 8-28 7 27 9zM2684 2776l-27-8-27-9M2629 2775l28-7 27-8"/>
<path fill="#c0f810" d="M3867 1634l23-43 24-43-29 10-28 10-24 42-23 42 28-9zM3890 1591l-28 10-29 9M3838 1643l24-42 23-43"/>
<path fill="#90f818" d="M3820 1717l23-41 24-42-29 9-28 9-23 41-24 40 28-8zM3843 1676l-28 8-28 9M3791 1725l24-41 23-41"/>
<path fill="#50f820" d="M3772 1797l24-40 24-40-29 8-28 8-23 39-24 39 28-7zM3796 1757l-28 8-28 7M3744 1804l24-39 23-40"/>
<path fill="#20f030" d="M3725 1874l24-38 23-39-28 7-28 7-23 38-24 38 28-7zM3749 1836l-28 7-28 6M3697 1880l24-37 23-39"/>
<path fill="#08f038" d="M3677 1948l24-37 24-37-28 6-28 7-24 36-23 36 27-5zM3701 1911l-28 6-28 6M3649 1954l24-37 24-37"/>
<path fill="#00f048" d="M3630 2019l24-35 23-36-28 6-27 5-24 35-24 35 28-5zM3654 1984l-28 5-28 5M3602 2024l24-35 23-35"/>
<path fill="#00f080" d="M3582 2088l24-34 24-35-28 5-28 5-24 34-24 33 28-4zM3606 2054l-28 4-28 5M3554 2092l24-34 24-34"/>
<path fill="#00f0c0" d="M3533 2153l25-32 24-33-28 4-28 4-24 32-24 32 28-4zM3558 2121l-28 3-28 4M3506 2156l24-32 24-32"/>
<path fill="#00f8e8" d="M3485 2216l24-31 24-32-27 3-28 4-24 30-24 31 27-3zM3509 2185l-27 3-28 2M3457 2218l25-30 24-32"/>
<path fill="#00f0f8" d="M3436 2276l25-30 24-30-28 2-27 3-24 29-25 29 28-2zM3461 2246l-28 2-27 2M3409 2277l24-29 24-30M3387 2332l25-28 24-28-27 1-28 2-24 28-25 27 28 0zM3412 2304l-28 2-27 1M3360 2334l24-28 25-29"/>
<path fill="#00e8ff" d="M3338 2386l25-26 24-28-27 2-28 0-24 27-25 26 27 0zM3363 2360l-28 1-27 0M3310 2387l25-26 25-27"/>
<path fill="#08c8f8" d="M3288 2438l25-26 25-26-28 1-27 0-25 25-25 24 28 1zM3313 2412l-27 0-28 0M3261 2437l25-25 24-25"/>
<path fill="#08a8f8" d="M3238 2486l25-24 25-24-27-1-28-1-25 24-25 23 28 2zM3263 2462l-27-1-28-1M3211 2485l25-24 25-24"/>
<path fill="#1088f0" d="M3188 2531l25-22 25-23-27-1-28-2-25 22-25 22 27 2zM3213 2509l-28-2-27-2M3160 2529l25-22 26-22"/>
<path fill="#1078e8" d="M3137 2573l25-21 26-21-28-2-27-2-25 21-26 20 27 3zM3162 2552l-27-2-27-2M3109 2571l26-21 25-21"/>
<path fill="#1068e8" d="M3085 2612l26-19 26-20-28-2-27-3-26 19-25 18 27 4zM3111 2593l-27-3-28-3M3058 2609l26-19 25-19"/>
<path fill="#1060e0" d="M3033 2648l26-17 26-19-27-3-27-4-26 18-26 17 27 5zM3059 2631l-27-4-27-4M3006 2645l26-18 26-18"/>
<path fill="#1850e0" d="M2981 2681l26-16 26-17-27-3-27-5-26 17-26 15 27 5zM3007 2665l-27-4-27-4M2954 2677l26-16 26-16M2928 2711l26-14 27-16-27-4-27-5-27 15-26 14 27 5zM2954 2697l-27-5-27-5M2901 2706l26-14 27-15M2874 2738l27-13 27-14-27-5-27-5-27 13-27 12 27 6zM2901 2725l-27-5-27-6M2847 2732l27-12 27-14"/>
<path fill="#1848e0" d="M2820 2762l27-11 27-13-27-6-27-6-27 12-27 11 27 7zM2847 2751l-27-7-27-6M2793 2756l27-12 27-12M2765 2782l28-9 27-11-27-6-27-7-27 10-28 9 27 7zM2793 2773l-27-7-27-7M2738 2775l28-9 27-10"/>
<path fill="#1850e0" d="M2710 2800l28-9 27-9-27-7-27-7-27 8-28 8 27 8zM2738 2791l-27-7-27-8M2683 2792l28-8 27-9"/>
<path fill="#e0f808" d="M3924 1615l24-43 23-44-29 10-28 10-24 43-23 43 28-9zM3948 1572l-29 10-29 9M3895 1625l24-43 23-44"/>
<path fill="#a8f810" d="M3877 1700l23-42 24-43-29 10-28 9-24 42-23 41 28-9zM3900 1658l-28 9-29 9M3848 1708l24-41 23-42"/>
<path fill="#70f820" d="M3829 1781l24-40 24-41-29 8-28 9-24 40-24 40 29-8zM3853 1741l-29 8-28 8M3801 1789l23-40 24-41"/>
<path fill="#38f828" d="M3782 1860l24-39 23-40-28 8-29 8-23 39-24 38 28-7zM3806 1821l-29 7-28 8M3753 1867l24-39 24-39"/>
<path fill="#10f030" d="M3734 1936l24-38 24-38-29 7-28 7-24 37-24 37 29-6zM3758 1898l-29 7-28 6M3706 1942l23-37 24-38"/>
<path fill="#00f040" d="M3686 2008l24-36 24-36-28 6-29 6-23 36-24 35 28-5zM3710 1972l-28 6-28 6M3658 2014l24-36 24-36"/>
<path fill="#00f060" d="M3638 2078l24-34 24-36-28 6-28 5-24 35-24 34 28-5zM3662 2044l-28 5-28 5M3610 2083l24-34 24-35"/>
<path fill="#00f0a0" d="M3590 2145l24-33 24-34-28 5-28 5-24 33-25 32 28-4zM3614 2112l-28 5-28 4M3561 2149l25-32 24-34"/>
<path fill="#00f8e0" d="M3541 2210l24-32 25-33-29 4-28 4-24 32-24 31 28-3zM3565 2178l-28 4-28 3M3513 2213l24-31 24-33"/>
<path fill="#00f8f0" d="M3492 2271l25-30 24-31-28 3-28 3-24 30-25 30 28-3zM3517 2241l-28 3-28 2M3464 2273l25-29 24-31"/>
<path fill="#00f0f8" d="M3443 2329l25-29 24-29-28 2-28 3-24 28-25 28 28-1zM3468 2300l-28 3-28 1M3415 2331l25-28 24-30"/>
<path fill="#00e8f8" d="M3393 2385l25-28 25-28-28 2-28 1-24 28-25 26 28 0zM3418 2357l-28 2-27 1M3366 2386l24-27 25-28"/>
<path fill="#00d8f8" d="M3344 2437l25-26 24-26-27 1-28 0-25 26-25 26 28 0zM3369 2411l-28 1-28 0M3316 2438l25-26 25-26"/>
<path fill="#08b8f8" d="M3293 2487l26-25 25-25-28 1-28 0-25 24-25 24 28 0zM3319 2462l-28 0-28 0M3266 2486l25-24 25-24"/>
<path fill="#08a0f0" d="M3243 2533l25-23 25-23-27-1-28 0-25 23-25 22 27 1zM3268 2510l-28 0-27-1M3215 2532l25-22 26-24"/>
<path fill="#1080f0" d="M3192 2577l25-22 26-22-28-1-27-1-26 21-25 21 27 2zM3217 2555l-27-1-28-2M3164 2575l26-21 25-22"/>
<path fill="#1070e8" d="M3140 2617l26-20 26-20-28-2-27-2-26 20-26 19 28 3zM3166 2597l-28-2-27-2M3113 2615l25-20 26-20"/>
<path fill="#1068e8" d="M3088 2655l26-18 26-20-27-2-28-3-26 19-26 17 28 4zM3114 2637l-27-3-28-3M3061 2652l26-18 26-19"/>
<path fill="#1060e0" d="M3036 2689l26-17 26-17-27-3-28-4-26 17-26 16 27 5zM3062 2672l-27-3-28-4M3008 2686l27-17 26-17"/>
<path fill="#1858e0" d="M2983 2721l27-16 26-16-28-3-27-5-27 16-26 14 27 5zM3010 2705l-28-4-28-4M2955 2716l27-15 26-15"/>
<path fill="#1850e0" d="M2929 2749l27-14 27-14-28-5-27-5-27 14-27 13 28 6zM2956 2735l-27-5-28-5M2902 2744l27-14 26-14M2875 2774l27-12 27-13-27-5-28-6-27 13-27 11 28 6zM2902 2762l-27-6-28-5M2848 2768l27-12 27-12M2820 2795l28-10 27-11-27-6-28-6-27 11-28 9 28 7zM2848 2785l-28-6-27-6M2793 2789l27-10 28-11M2765 2814l28-9 27-10-27-6-28-7-27 9-28 9 27 7zM2793 2805l-28-7-27-7M2737 2807l28-9 28-9"/>
<path fill="#f8ff00" d="M3982 1595l24-44 24-45-30 11-29 11-23 44-24 43 29-10zM4006 1551l-29 11-29 10M3953 1605l24-43 23-45"/>
<path fill="#c0f810" d="M3935 1681l23-42 24-44-29 10-29 10-24 43-23 42 29-9zM3958 1639l-29 9-29 10M3906 1691l23-43 24-43"/>
<path fill="#88f818" d="M3887 1765l24-42 24-42-29 10-29 9-24 41-24 40 29-8zM3911 1723l-29 9-29 9M3858 1773l24-41 24-41"/>
<path fill="#50f820" d="M3839 1845l24-40 24-40-29 8-29 8-23 40-24 39 28-8zM3863 1805l-29 8-28 8M3810 1852l24-39 24-40"/>
<path fill="#20f030" d="M3791 1922l24-38 24-39-29 7-28 8-24 38-24 38 29-7zM3815 1884l-28 7-29 7M3763 1929l24-38 23-39"/>
<path fill="#08f038" d="M3743 1997l24-37 24-38-28 7-29 7-24 36-24 36 29-5zM3767 1960l-28 6-29 6M3715 2003l24-37 24-37"/>
<path fill="#00f048" d="M3695 2068l24-35 24-36-28 6-29 5-24 36-24 34 28-5zM3719 2033l-28 5-29 6M3666 2073l25-35 24-35"/>
<path fill="#00f080" d="M3646 2137l25-34 24-35-29 5-28 5-24 34-24 33 28-4zM3671 2103l-29 5-28 4M3618 2141l24-33 24-35"/>
<path fill="#00f0c0" d="M3598 2202l24-32 24-33-28 4-28 4-25 33-24 32 28-4zM3622 2170l-28 4-29 4M3569 2206l25-32 24-33"/>
<path fill="#00f8e8" d="M3549 2265l24-31 25-32-29 4-28 4-24 31-25 30 28-3zM3573 2234l-28 3-28 4M3520 2268l25-31 24-31"/>
<path fill="#00f0f8" d="M3499 2325l25-30 25-30-29 3-28 3-24 29-25 29 28-2zM3524 2295l-28 3-28 2M3471 2327l25-29 24-30M3450 2382l25-28 24-29-28 2-28 2-25 28-25 28 29-2zM3475 2354l-29 2-28 1M3422 2383l24-27 25-29"/>
<path fill="#00e8ff" d="M3400 2435l25-26 25-27-28 1-29 2-24 26-25 26 28-1zM3425 2409l-28 1-28 1M3372 2436l25-26 25-27"/>
<path fill="#00d0f8" d="M3350 2486l25-25 25-26-28 1-28 1-25 25-26 25 28 0zM3375 2461l-28 1-28 0M3321 2487l26-25 25-26"/>
<path fill="#08b0f8" d="M3299 2534l25-23 26-25-29 1-28 0-25 23-25 23 28 1zM3324 2511l-28 0-28-1M3271 2534l25-23 25-24"/>
<path fill="#0898f0" d="M3248 2579l25-22 26-23-28 0-28-1-26 22-25 22 28 1zM3273 2557l-28-1-28-1M3220 2578l25-22 26-22"/>
<path fill="#1080f0" d="M3196 2621l26-21 26-21-28-1-28-1-26 20-26 20 28 2zM3222 2600l-28-1-28-2M3168 2619l26-20 26-21"/>
<path fill="#1070e8" d="M3144 2660l26-19 26-20-28-2-28-2-26 20-26 18 28 3zM3170 2641l-28-2-28-2M3116 2658l26-19 26-20"/>
<path fill="#1068e8" d="M3092 2695l26-17 26-18-28-2-28-3-26 17-26 17 28 4zM3118 2678l-28-3-28-3M3064 2693l26-18 26-17"/>
<path fill="#1060e0" d="M3039 2728l26-16 27-17-28-2-28-4-26 16-27 16 28 3zM3065 2712l-28-3-27-4M3011 2724l26-15 27-16"/>
<path fill="#1858e0" d="M2985 2757l27-14 27-15-28-4-28-3-27 14-27 14 28 4zM3012 2743l-28-4-28-4M2957 2753l27-14 27-15M2931 2783l27-12 27-14-28-4-28-4-27 13-27 12 28 5zM2958 2771l-28-5-28-4M2903 2779l27-13 27-13M2876 2806l28-11 27-12-28-4-28-5-27 11-28 10 28 6zM2904 2795l-28-5-28-5M2848 2801l28-11 27-11M2821 2826l27-9 28-11-28-5-28-6-27 10-28 9 28 6zM2848 2817l-27-6-28-6M2793 2820l28-9 27-10"/>
</g>
<circle cx="404" cy="129.8" r="2.2" fill="#f00808" stroke="#7a1c24" stroke-width=".6"/>
<circle cx="281.8" cy="230" r="2.2" fill="#f00808" stroke="#7a1c24" stroke-width=".6"/>
<circle cx="281.8" cy="234" r="2.2" fill="#f7ccd2" stroke="#7a1c24" stroke-width=".6"/>
<circle cx="281.6" cy="279" r="2.2" fill="#f00808" stroke="#7a1c24" stroke-width=".6"/>
<circle cx="163" cy="222" r="2.2" fill="#f7ccd2" stroke="#7a1c24" stroke-width=".6"/>
<text x="278.3" y="343.3" font-size="8.1" text-anchor="end" stroke="#111" style="stroke-width:.1px">12.00</text>
<text x="249.5" y="329.6" font-size="8.1" text-anchor="end" stroke="#111" style="stroke-width:.1px">14.00</text>
<text x="220.7" y="316" font-size="8.1" text-anchor="end" stroke="#111" style="stroke-width:.1px">16.00</text>
<text x="191.8" y="302.3" font-size="8.1" text-anchor="end" stroke="#111" style="stroke-width:.1px">18.00</text>
<text x="163" y="288.7" font-size="8.1" text-anchor="end" stroke="#111" style="stroke-width:.1px">20.00</text>
<text x="286.4" y="343.3" font-size="8.1" stroke="#111" style="stroke-width:.1px">1.00</text>
<text x="315" y="329.7" font-size="8.1" stroke="#111" style="stroke-width:.1px">3.25</text>
<text x="343.7" y="316.1" font-size="8.1" stroke="#111" style="stroke-width:.1px">5.50</text>
<text x="372.4" y="302.4" font-size="8.1" stroke="#111" style="stroke-width:.1px">7.75</text>
<text x="401.1" y="288.8" font-size="8.1" stroke="#111" style="stroke-width:.1px">10.00</text>
<text x="151.8" y="135.2" font-size="8.1" text-anchor="end" stroke="#111" style="stroke-width:.1px">260</text>
<text x="151.8" y="163.8" font-size="8.1" text-anchor="end" stroke="#111" style="stroke-width:.1px">220</text>
<text x="151.8" y="192.4" font-size="8.1" text-anchor="end" stroke="#111" style="stroke-width:.1px">180</text>
<text x="151.8" y="221.5" font-size="8.1" text-anchor="end" stroke="#111" style="stroke-width:.1px">140</text>
<text x="151.8" y="251.5" font-size="8.1" text-anchor="end" stroke="#111" style="stroke-width:.1px">100</text>
<text x="142.7" y="335" font-size="12" stroke="#111">B: PEG-PLGA</text>
<text x="358" y="335" font-size="12" stroke="#111">A: EGCG</text>
<text x="128.6" y="206.4" font-size="12" text-anchor="middle" stroke="#111" transform="rotate(-90 128.6 206.4)">Average particle size</text>
<text x="11" y="61.6" font-size="6.9" fill="#1c1c1c" stroke="#1c1c1c" style="stroke-width:0">Design-Expert?Software</text>
<text x="11" y="75.8" font-size="6.9" fill="#1c1c1c" stroke="#1c1c1c" style="stroke-width:0">Average particle size</text>
<text x="11" y="111.3" font-size="6.9" fill="#1c1c1c" stroke="#1c1c1c" style="stroke-width:0">X1 = A: EGCG</text>
<text x="11" y="119" font-size="6.9" fill="#1c1c1c" stroke="#1c1c1c" style="stroke-width:0">X2 = B: PEG-PLGA</text>
<text x="11" y="133.9" font-size="6.9" fill="#1c1c1c" stroke="#1c1c1c" style="stroke-width:0">Actual Factor</text>
<text x="11" y="140.9" font-size="6.9" fill="#1c1c1c" stroke="#1c1c1c" style="stroke-width:0">C: Tween-80 = 2.25</text>
<rect x="12.2" y="78.8" width="3.7" height="18.7" fill="url(#lg)" stroke="#111" stroke-width=".8"/>
<text x="18" y="83.4" font-size="6.9" fill="#c8202c" stroke="#c8202c" style="stroke-width:0">256</text>
<text x="18" y="97.1" font-size="6.9" fill="#2020c8" stroke="#2020c8" style="stroke-width:0">94.97</text>
<text x="14.8" y="30" font-size="31.5" font-weight="bold" fill="#000" stroke="#000">A</text>
</g>
<g id="pB">
<polygon points="730.4,336.9 845.2,281.4 730,238 615.1,281.2" fill="#fdf800"/>
<polyline points="710.2,327.1 713.2,327 716.3,327 719.5,327 722.7,327 726,327 729.4,327.1 732.8,327.2 736.3,327.3 739.9,327.5 742.9,327.7 745.7,327.9 748.5,328.1" fill="none" stroke="#0a9ff4" stroke-width=".8" stroke-opacity=".65"/>
<polyline points="678.5,311.8 680.8,311.4 685.2,310.8 688,310.5 690.5,310.2 693.7,309.8 697.7,309.4 700.7,309.2 703.4,309 706.1,308.8 708.9,308.7 712.1,308.5 715.3,308.4 718.5,308.4 721.6,308.4 724.6,308.4 727.6,308.5 730.5,308.6 733.5,308.7 737.1,308.9 740.7,309.2 744,309.4 746.5,309.7 749,309.9 752.6,310.4 756.4,310.8 758.8,311.2 761.6,311.6 765.8,312.3 768.1,312.6 771.6,313.3 774.9,313.9 777.1,314.3" fill="none" stroke="#00f5f7" stroke-width=".8" stroke-opacity=".65"/>
<polyline points="661.9,303.8 665.9,302.8 668.7,302.2 672.1,301.4 675.1,300.8 678.4,300.1 680.8,299.6 684.8,298.9 687,298.5 690.9,297.9 693.8,297.5 696.1,297.2 699.6,296.8 703.3,296.4 705.8,296.2 708.4,296 711,295.9 714,295.7 717.2,295.6 720.3,295.6 723.3,295.6 726.1,295.7 728.9,295.7 732,295.9 735.5,296.1 739.2,296.5 741.7,296.7 744.1,297 747.3,297.4 751,297.9 753.2,298.3 756.6,298.8 759.8,299.4 761.9,299.8 766.1,300.6 768.2,301.1 772.3,302 774.3,302.5 778.3,303.4 781.2,304.1 784.2,304.9 788.2,306 790.1,306.5" fill="none" stroke="#00f3ae" stroke-width=".8" stroke-opacity=".65"/>
<polyline points="644.8,295.5 648.1,294.3 651.4,293 654.7,291.8 658,290.6 659.7,290 663,288.8 666.2,287.6 669.5,286.4 672.8,285.2 676.1,284.1 679.4,283 682.4,282 684.3,281.3 687.7,280.3 691,279.2 694.5,278.2 696.2,277.7 699.7,276.8 702.7,276.1 705.2,275.5 708.4,274.9 711.2,274.5 713.4,274.2 716.7,273.9 719.9,273.7 722.7,273.7 725.3,273.8 727.7,274 730.6,274.3 734.1,274.8 736.1,275.2 739.9,276 741.7,276.4 745.2,277.3 748.7,278.3 750.4,278.8 753.7,279.8 757,280.9 760.3,282 762,282.6 765.2,283.7 768.4,284.8 771.7,285.9 774.9,287.1 778.1,288.3 781.4,289.5 784.6,290.7 787,291.6 789.5,292.6 792.8,293.8 796,295.1 799.3,296.3 802.6,297.6 806,298.9" fill="none" stroke="#01f044" stroke-width=".8" stroke-opacity=".65"/>
<polyline points="752.9,246.6 749.9,247.4 748.4,247.9 745.4,248.7 742.2,249.5 740.6,249.9 737.2,250.6 735.4,250.9 731.6,251.5 729.6,251.8 727.4,252 724.3,252.2 721.5,252.2 719,252.2 716.7,252 713.3,251.7 710.6,251.3 708.8,251 705.3,250.3 703.6,249.9 700.4,249.1" fill="none" stroke="#01f044" stroke-width=".8" stroke-opacity=".65"/>
<polyline points="799.5,264.1 799.9,265.3 800.5,266.6 801.1,267.8 801.7,268.7 802.3,269.7 803.1,270.8 804.5,272.4 805.4,273.4 806.3,274.2 808,275.9 809.1,276.8 810.3,277.9 812.2,279.3 813.3,280.2 815.5,281.8 816.7,282.6 819,284.2 820.4,285.1 822.7,286.6 825.2,288.1 826.6,289" fill="none" stroke="#2ef52a" stroke-width=".8" stroke-opacity=".65"/>
<polyline points="622.5,284.8 625,283.2 626.2,282.4 628.5,280.8 629.7,280 631.9,278.3 632.9,277.5 634.8,275.9 635.9,274.9 636.9,274 638.5,272.4" fill="none" stroke="#2ef52a" stroke-width=".8" stroke-opacity=".65"/>
<path d="M730,238 L729.9,96.5" stroke="#888" stroke-width="1" fill="none"/>
<path d="M607.6,123.9 L729.9,96.5" stroke="#888" stroke-width="1" fill="none"/>
<path d="M729.9,96.5 L852.4,124.2" stroke="#888" stroke-width="1" fill="none"/>
<path d="M845.2,281.4 L852.4,124.2" stroke="#888" stroke-width="1" fill="none"/>
<path d="M615.1,281.2 L607.6,123.9" stroke="#666" stroke-width="1" fill="none"/>
<path d="M615.1,281.2 L730.4,336.9" stroke="#8c8c98" stroke-width="0.7" fill="none"/>
<path d="M730.4,336.9 L845.2,281.4" stroke="#8c8c98" stroke-width="0.7" fill="none"/>
<circle cx="730.4" cy="336.9" r="1" fill="#111"/>
<circle cx="730.4" cy="336.9" r="1" fill="#111"/>
<circle cx="701.6" cy="322.9" r="1" fill="#111"/>
<circle cx="759.1" cy="323" r="1" fill="#111"/>
<circle cx="672.8" cy="309" r="1" fill="#111"/>
<circle cx="787.8" cy="309.1" r="1" fill="#111"/>
<circle cx="643.9" cy="295.1" r="1" fill="#111"/>
<circle cx="816.5" cy="295.2" r="1" fill="#111"/>
<circle cx="615.1" cy="281.2" r="1" fill="#111"/>
<circle cx="845.2" cy="281.4" r="1" fill="#111"/>
<circle cx="607.6" cy="123.9" r=".9" fill="#111"/>
<circle cx="609.1" cy="154.6" r=".9" fill="#111"/>
<circle cx="610.5" cy="184.9" r=".9" fill="#111"/>
<circle cx="612" cy="215.4" r=".9" fill="#111"/>
<circle cx="613.3" cy="244.4" r=".9" fill="#111"/>
<g transform="scale(.1)" stroke="#000" stroke-width="4.6" stroke-opacity=".78" stroke-linejoin="round">
<path fill="#00f080" d="M7300 1593l29-2-30 0-29 2z"/>
<path fill="#00f078" d="M7270 1595l30-2-30 0-30 1z"/>
<path fill="#00f070" d="M7240 1597l30-2-30-1-29 2z"/>
<path fill="#00f068" d="M7210 1600l30-3-29-1-30 1z"/>
<path fill="#00f060" d="M7180 1602l30-2-29-3-31 2zM7149 1604l31-2-30-3-30 1z"/>
<path fill="#00f058" d="M7119 1607l30-3-29-4-31 2z"/>
<path fill="#00f050" d="M7088 1609l31-2-30-5-31 1z"/>
<path fill="#00f048" d="M7057 1611l31-2-30-6-31 2zM7026 1614l31-3-30-6-31 1z"/>
<path fill="#00f040" d="M6994 1616l32-2-30-8-32 2zM6962 1619l32-3-30-8-31 2zM6930 1621l32-2-29-9-32 1zM6898 1624l32-3-29-10-33 2z"/>
<path fill="#08f040" d="M6866 1626l32-2-30-11-32 2zM6833 1629l33-3-30-11-33 1z"/>
<path fill="#08f038" d="M6800 1631l33-2-30-13-33 2zM6767 1634l33-3-30-13-33 2zM6733 1636l34-2-30-14-33 1zM6700 1639l33-3-29-15-34 2zM6666 1641l34-2-30-16-34 2z"/>
<path fill="#10f030" d="M6632 1644l34-3-30-16-34 1zM6597 1647l35-3-30-18-34 2zM6563 1649l34-2-29-19-35 2zM6528 1652l35-3-30-19-35 2zM6493 1655l35-3-30-20-35 2z"/>
<path fill="#18f030" d="M6457 1657l36-2-30-21-36 1z"/>
<path fill="#20f830" d="M6422 1660l35-3-30-22-35 2zM6386 1663l36-3-30-23-36 2z"/>
<path fill="#28f828" d="M6349 1666l37-3-30-24-37 2z"/>
<path fill="#30f828" d="M6313 1668l36-2-30-25-36 2z"/>
<path fill="#38f828" d="M6276 1671l37-3-30-25-37 2zM6239 1674l37-3-30-26-37 1z"/>
<path fill="#40f828" d="M6202 1677l37-3-30-28-38 2z"/>
<path fill="#48f828" d="M6164 1680l38-3-31-29-37 2zM6126 1683l38-3-30-30-38 2z"/>
<path fill="#00f078" d="M7329 1593l30-3-30 1-29 2z"/>
<path fill="#00f070" d="M7300 1596l29-3-29 0-30 2z"/>
<path fill="#00f068" d="M7270 1599l30-3-30-1-30 2z"/>
<path fill="#00f060" d="M7240 1602l30-3-30-2-30 3zM7210 1605l30-3-30-2-30 2z"/>
<path fill="#00f058" d="M7179 1608l31-3-30-3-31 2z"/>
<path fill="#00f050" d="M7148 1612l31-4-30-4-30 3z"/>
<path fill="#00f048" d="M7118 1615l30-3-29-5-31 2zM7087 1618l31-3-30-6-31 2zM7055 1621l32-3-30-7-31 3z"/>
<path fill="#00f040" d="M7024 1624l31-3-29-7-32 2zM6992 1628l32-4-30-8-32 3zM6960 1631l32-3-30-9-32 2zM6928 1634l32-3-30-10-32 3z"/>
<path fill="#08f040" d="M6895 1638l33-4-30-10-32 2zM6863 1641l32-3-29-12-33 3zM6830 1644l33-3-30-12-33 2z"/>
<path fill="#08f038" d="M6797 1648l33-4-30-13-33 3zM6763 1651l34-3-30-14-34 2zM6730 1655l33-4-30-15-33 3zM6696 1658l34-3-30-16-34 2zM6662 1661l34-3-30-17-34 3z"/>
<path fill="#10f038" d="M6627 1665l35-4-30-17-35 3z"/>
<path fill="#10f030" d="M6593 1669l34-4-30-18-34 2zM6558 1672l35-3-30-20-35 3zM6523 1676l35-4-30-20-35 3zM6487 1679l36-3-30-21-36 2z"/>
<path fill="#18f030" d="M6452 1683l35-4-30-22-35 3zM6416 1687l36-4-30-23-36 3z"/>
<path fill="#20f830" d="M6380 1690l36-3-30-24-37 3zM6343 1694l37-4-31-24-36 2z"/>
<path fill="#28f828" d="M6306 1698l37-4-30-26-37 3z"/>
<path fill="#30f828" d="M6269 1702l37-4-30-27-37 3zM6232 1706l37-4-30-28-37 3z"/>
<path fill="#38f828" d="M6194 1709l38-3-30-29-38 3z"/>
<path fill="#40f828" d="M6156 1713l38-4-30-29-38 3z"/>
<path fill="#00f070" d="M7359 1593l30-3-30 0-30 3z"/>
<path fill="#00f068" d="M7329 1597l30-4-30 0-29 3z"/>
<path fill="#00f060" d="M7300 1601l29-4-29-1-30 3zM7270 1605l30-4-30-2-30 3z"/>
<path fill="#00f058" d="M7239 1609l31-4-30-3-30 3z"/>
<path fill="#00f050" d="M7209 1613l30-4-29-4-31 3zM7178 1617l31-4-30-5-31 4z"/>
<path fill="#00f048" d="M7148 1621l30-4-30-5-30 3zM7116 1625l32-4-30-6-31 3z"/>
<path fill="#00f040" d="M7085 1629l31-4-29-7-32 3zM7054 1633l31-4-30-8-31 3zM7022 1637l32-4-30-9-32 4zM6990 1641l32-4-30-9-32 3zM6958 1645l32-4-30-10-32 3z"/>
<path fill="#08f040" d="M6925 1649l33-4-30-11-33 4zM6893 1653l32-4-30-11-32 3zM6860 1658l33-5-30-12-33 3zM6827 1662l33-4-30-14-33 4z"/>
<path fill="#08f038" d="M6793 1666l34-4-30-14-34 3zM6760 1670l33-4-30-15-33 4zM6726 1675l34-5-30-15-34 3zM6692 1679l34-4-30-17-34 3zM6657 1684l35-5-30-18-35 4z"/>
<path fill="#10f038" d="M6623 1688l34-4-30-19-34 4z"/>
<path fill="#10f030" d="M6588 1693l35-5-30-19-35 3zM6553 1697l35-4-30-21-35 4zM6518 1702l35-5-30-21-36 3zM6482 1706l36-4-31-23-35 4zM6446 1711l36-5-30-23-36 4zM6410 1715l36-4-30-24-36 3z"/>
<path fill="#18f030" d="M6373 1720l37-5-30-25-37 4z"/>
<path fill="#20f030" d="M6337 1725l36-5-30-26-37 4z"/>
<path fill="#20f830" d="M6300 1730l37-5-31-27-37 4z"/>
<path fill="#28f830" d="M6262 1734l38-4-31-28-37 4z"/>
<path fill="#28f828" d="M6225 1739l37-5-30-28-38 3z"/>
<path fill="#30f828" d="M6187 1744l38-5-31-30-38 4z"/>
<path fill="#00f068" d="M7389 1594l30-5-30 1-30 3z"/>
<path fill="#00f060" d="M7360 1598l29-4-30-1-30 4z"/>
<path fill="#00f058" d="M7330 1603l30-5-31-1-29 4zM7300 1607l30-4-30-2-30 4z"/>
<path fill="#00f050" d="M7270 1612l30-5-30-2-31 4zM7239 1617l31-5-31-3-30 4z"/>
<path fill="#00f048" d="M7208 1622l31-5-30-4-31 4zM7178 1626l30-4-30-5-30 4zM7147 1631l31-5-30-5-32 4z"/>
<path fill="#00f040" d="M7115 1636l32-5-31-6-31 4zM7084 1641l31-5-30-7-31 4zM7052 1646l32-5-30-8-32 4zM7020 1651l32-5-30-9-32 4zM6988 1656l32-5-30-10-32 4z"/>
<path fill="#08f040" d="M6956 1661l32-5-30-11-33 4zM6923 1666l33-5-31-12-32 4zM6890 1671l33-5-30-13-33 5zM6857 1676l33-5-30-13-33 4z"/>
<path fill="#08f038" d="M6824 1681l33-5-30-14-34 4zM6790 1686l34-5-31-15-33 4zM6756 1692l34-6-30-16-34 5zM6722 1697l34-5-30-17-34 4zM6688 1702l34-5-30-18-35 5zM6653 1708l35-6-31-18-34 4zM6618 1713l35-5-30-20-35 5z"/>
<path fill="#10f038" d="M6583 1718l35-5-30-20-35 4z"/>
<path fill="#10f030" d="M6548 1724l35-6-30-21-35 5zM6512 1729l36-5-30-22-36 4zM6477 1735l35-6-30-23-36 5zM6440 1741l37-6-31-24-36 4zM6404 1746l36-5-30-26-37 5zM6367 1752l37-6-31-26-36 5zM6330 1758l37-6-30-27-37 5z"/>
<path fill="#18f030" d="M6293 1763l37-5-30-28-38 4z"/>
<path fill="#20f030" d="M6256 1769l37-6-31-29-37 5z"/>
<path fill="#20f830" d="M6218 1775l38-6-31-30-38 5z"/>
<path fill="#00f058" d="M7419 1594l30-5-30 0-30 5zM7390 1599l29-5-30 0-29 4z"/>
<path fill="#00f050" d="M7360 1605l30-6-30-1-30 5zM7330 1610l30-5-30-2-30 4zM7300 1616l30-6-30-3-30 5z"/>
<path fill="#00f048" d="M7269 1621l31-5-30-4-31 5zM7239 1627l30-6-30-4-31 5zM7208 1632l31-5-31-5-30 4z"/>
<path fill="#00f040" d="M7177 1638l31-6-30-6-31 5zM7146 1644l31-6-30-7-32 5zM7114 1649l32-5-31-8-31 5zM7082 1655l32-6-30-8-32 5zM7050 1661l32-6-30-9-32 5zM7018 1667l32-6-30-10-32 5zM6986 1673l32-6-30-11-32 5z"/>
<path fill="#08f040" d="M6953 1678l33-5-30-12-33 5zM6920 1684l33-6-30-12-33 5zM6887 1690l33-6-30-13-33 5zM6854 1696l33-6-30-14-33 5zM6820 1703l34-7-30-15-34 5z"/>
<path fill="#08f038" d="M6787 1709l33-6-30-17-34 6zM6753 1715l34-6-31-17-34 5zM6718 1721l35-6-31-18-34 5zM6684 1727l34-6-30-19-35 6zM6649 1734l35-7-31-19-35 5zM6614 1740l35-6-31-21-35 5zM6579 1746l35-6-31-22-35 6zM6543 1753l36-7-31-22-36 5z"/>
<path fill="#10f038" d="M6507 1759l36-6-31-24-35 6z"/>
<path fill="#10f030" d="M6471 1766l36-7-30-24-37 6zM6435 1773l36-7-31-25-36 5zM6398 1779l37-6-31-27-37 6zM6361 1786l37-7-31-27-37 6zM6324 1793l37-7-31-28-37 5zM6286 1799l38-6-31-30-37 6zM6249 1806l37-7-30-30-38 6z"/>
<path fill="#00f050" d="M7450 1594l29-6-30 1-30 5zM7420 1600l30-6-31 0-29 5zM7391 1607l29-7-30-1-30 6z"/>
<path fill="#00f048" d="M7361 1613l30-6-31-2-30 5zM7330 1619l31-6-31-3-30 6zM7300 1625l30-6-30-3-31 5zM7269 1632l31-7-31-4-30 6z"/>
<path fill="#00f040" d="M7238 1638l31-6-30-5-31 5zM7207 1645l31-7-30-6-31 6zM7176 1651l31-6-30-7-31 6zM7145 1658l31-7-30-7-32 5zM7113 1664l32-6-31-9-32 6zM7081 1671l32-7-31-9-32 6zM7049 1678l32-7-31-10-32 6zM7016 1684l33-6-31-11-32 6z"/>
<path fill="#08f040" d="M6984 1691l32-7-30-11-33 5zM6951 1698l33-7-31-13-33 6zM6918 1705l33-7-31-14-33 6zM6885 1712l33-7-31-15-33 6zM6851 1719l34-7-31-16-34 7zM6817 1726l34-7-31-16-33 6zM6783 1733l34-7-30-17-34 6z"/>
<path fill="#08f038" d="M6749 1740l34-7-30-18-35 6zM6714 1747l35-7-31-19-34 6zM6680 1754l34-7-30-20-35 7zM6645 1762l35-8-31-20-35 6zM6609 1769l36-7-31-22-35 6zM6574 1776l35-7-30-23-36 7zM6538 1784l36-8-31-23-36 6zM6502 1791l36-7-31-25-36 7zM6466 1799l36-8-31-25-36 7zM6429 1807l37-8-31-26-37 6z"/>
<path fill="#10f038" d="M6392 1814l37-7-31-28-37 7z"/>
<path fill="#10f030" d="M6355 1822l37-8-31-28-37 7zM6318 1830l37-8-31-29-38 6zM6280 1838l38-8-32-31-37 7z"/>
<path fill="#00f048" d="M7481 1594l29-7-31 1-29 6zM7451 1601l30-7-31 0-30 6zM7421 1608l30-7-31-1-29 7zM7391 1615l30-7-30-1-30 6zM7361 1623l30-8-30-2-31 6z"/>
<path fill="#00f040" d="M7331 1630l30-7-31-4-30 6zM7300 1637l31-7-31-5-31 7zM7269 1644l31-7-31-5-31 6zM7238 1651l31-7-31-6-31 7zM7207 1659l31-8-31-6-31 6zM7175 1666l32-7-31-8-31 7zM7144 1674l31-8-30-8-32 6zM7112 1681l32-7-31-10-32 7zM7080 1689l32-8-31-10-32 7zM7047 1696l33-7-31-11-33 6zM7015 1704l32-8-31-12-32 7z"/>
<path fill="#08f040" d="M6982 1712l33-8-31-13-33 7zM6949 1719l33-7-31-14-33 7zM6915 1727l34-8-31-14-33 7zM6882 1735l33-8-30-15-34 7zM6848 1743l34-8-31-16-34 7zM6814 1751l34-8-31-17-34 7zM6780 1759l34-8-31-18-34 7zM6745 1767l35-8-31-19-35 7zM6711 1775l34-8-31-20-34 7z"/>
<path fill="#08f038" d="M6676 1784l35-9-31-21-35 8zM6640 1792l36-8-31-22-36 7zM6605 1800l35-8-31-23-35 7zM6569 1809l36-9-31-24-36 8zM6533 1817l36-8-31-25-36 7zM6497 1826l36-9-31-26-36 8zM6460 1834l37-8-31-27-37 8zM6423 1843l37-9-31-27-37 7zM6386 1851l37-8-31-29-37 8zM6349 1860l37-9-31-29-37 8zM6311 1869l38-9-31-30-38 8z"/>
<path fill="#00f048" d="M7512 1595l29-8-31 0-29 7z"/>
<path fill="#00f040" d="M7482 1602l30-7-31-1-30 7zM7452 1610l30-8-31-1-30 7zM7422 1618l30-8-31-2-30 7zM7392 1626l30-8-31-3-30 8zM7362 1634l30-8-31-3-30 7zM7331 1642l31-8-31-4-31 7zM7300 1650l31-8-31-5-31 7zM7269 1658l31-8-31-6-31 7zM7238 1666l31-8-31-7-31 8zM7206 1675l32-9-31-7-32 7zM7175 1683l31-8-31-9-31 8zM7143 1691l32-8-31-9-32 7zM7110 1700l33-9-31-10-32 8zM7078 1708l32-8-30-11-33 7zM7046 1717l32-9-31-12-32 8zM7013 1725l33-8-31-13-33 8zM6980 1734l33-9-31-13-33 7zM6946 1743l34-9-31-15-34 8z"/>
<path fill="#08f040" d="M6913 1751l33-8-31-16-33 8zM6879 1760l34-9-31-16-34 8zM6845 1769l34-9-31-17-34 8zM6811 1778l34-9-31-18-34 8zM6776 1787l35-9-31-19-35 8zM6742 1796l34-9-31-20-34 8zM6707 1805l35-9-31-21-35 9zM6672 1815l35-10-31-21-36 8zM6636 1824l36-9-32-23-35 8zM6600 1833l36-9-31-24-36 9zM6564 1843l36-10-31-24-36 8zM6528 1852l36-9-31-26-36 9zM6491 1862l37-10-31-26-37 8z"/>
<path fill="#08f038" d="M6455 1871l36-9-31-28-37 9zM6418 1881l37-10-32-28-37 8zM6380 1891l38-10-32-30-37 9zM6343 1901l37-10-31-31-38 9z"/>
<path fill="#00f040" d="M7543 1595l29-9-31 1-29 8zM7513 1604l30-9-31 0-30 7zM7483 1612l30-8-31-2-30 8zM7453 1621l30-9-31-2-30 8zM7423 1630l30-9-31-3-30 8zM7393 1638l30-8-31-4-30 8zM7362 1647l31-9-31-4-31 8zM7331 1656l31-9-31-5-31 8zM7300 1665l31-9-31-6-31 8zM7269 1674l31-9-31-7-31 8zM7237 1683l32-9-31-8-32 9zM7206 1692l31-9-31-8-31 8zM7174 1702l32-10-31-9-32 8zM7142 1711l32-9-31-11-33 9zM7109 1720l33-9-32-11-32 8zM7077 1730l32-10-31-12-32 9zM7044 1739l33-9-31-13-33 8zM7011 1749l33-10-31-14-33 9zM6978 1758l33-9-31-15-34 9zM6944 1768l34-10-32-15-33 8zM6910 1778l34-10-31-17-34 9zM6876 1788l34-10-31-18-34 9zM6842 1797l34-9-31-19-34 9zM6808 1807l34-10-31-19-35 9zM6773 1817l35-10-32-20-34 9zM6738 1828l35-11-31-21-35 9z"/>
<path fill="#08f040" d="M6703 1838l35-10-31-23-35 10zM6667 1848l36-10-31-23-36 9zM6632 1858l35-10-31-24-36 9zM6596 1869l36-11-32-25-36 10zM6559 1879l37-10-32-26-36 9zM6523 1890l36-11-31-27-37 10zM6486 1900l37-10-32-28-36 9zM6449 1911l37-11-31-29-37 10zM6412 1922l37-11-31-30-38 10zM6374 1933l38-11-32-31-37 10z"/>
<path fill="#00f040" d="M7574 1595l30-9-32 0-29 9zM7545 1605l29-10-31 0-30 9zM7515 1614l30-9-32-1-30 8zM7485 1624l30-10-32-2-30 9zM7455 1633l30-9-32-3-30 9zM7424 1643l31-10-32-3-30 8zM7393 1652l31-9-31-5-31 9zM7363 1662l30-10-31-5-31 9zM7332 1672l31-10-32-6-31 9zM7300 1682l32-10-32-7-31 9zM7269 1692l31-10-31-8-32 9zM7237 1702l32-10-32-9-31 9zM7205 1712l32-10-31-10-32 10zM7173 1722l32-10-31-10-32 9zM7141 1732l32-10-31-11-33 9zM7108 1743l33-11-32-12-32 10zM7075 1753l33-10-31-13-33 9zM7042 1764l33-11-31-14-33 10zM7009 1774l33-10-31-15-33 9zM6976 1785l33-11-31-16-34 10zM6942 1795l34-10-32-17-34 10zM6908 1806l34-11-32-17-34 10zM6874 1817l34-11-32-18-34 9zM6839 1828l35-11-32-20-34 10zM6805 1839l34-11-31-21-35 10zM6770 1850l35-11-32-22-35 11zM6734 1861l36-11-32-22-35 10zM6699 1872l35-11-31-23-36 10zM6663 1883l36-11-32-24-35 10zM6627 1895l36-12-31-25-36 11zM6591 1906l36-11-31-26-37 10zM6555 1918l36-12-32-27-36 11zM6518 1929l37-11-32-28-37 10zM6481 1941l37-12-32-29-37 11zM6444 1953l37-12-32-30-37 11zM6406 1965l38-12-32-31-38 11z"/>
<path fill="#08f040" d="M7606 1595l29-10-31 1-30 9z"/>
<path fill="#00f040" d="M7576 1606l30-11-32 0-29 10zM7546 1616l30-10-31-1-30 9zM7516 1626l30-10-31-2-30 10zM7486 1637l30-11-31-2-30 9zM7456 1647l30-10-31-4-31 10zM7425 1658l31-11-32-4-31 9zM7394 1668l31-10-32-6-30 10zM7363 1679l31-11-31-6-31 10zM7332 1690l31-11-31-7-32 10zM7300 1701l32-11-32-8-31 10zM7269 1711l31-10-31-9-32 10zM7237 1722l32-11-32-9-32 10zM7205 1733l32-11-32-10-32 10zM7172 1745l33-12-32-11-32 10zM7140 1756l32-11-31-13-33 11zM7107 1767l33-11-32-13-33 10zM7074 1778l33-11-32-14-33 11zM7041 1790l33-12-32-14-33 10zM7007 1801l34-11-32-16-33 11zM6973 1813l34-12-31-16-34 10zM6940 1825l33-12-31-18-34 11zM6905 1836l35-11-32-19-34 11zM6871 1848l34-12-31-19-35 11zM6836 1860l35-12-32-20-34 11zM6801 1872l35-12-31-21-35 11zM6766 1884l35-12-31-22-36 11zM6731 1896l35-12-32-23-35 11zM6695 1909l36-13-32-24-36 11zM6659 1921l36-12-32-26-36 12zM6623 1933l36-12-32-26-36 11z"/>
<path fill="#00f048" d="M6587 1946l36-13-32-27-36 12zM6550 1959l37-13-32-28-37 11zM6513 1971l37-12-32-30-37 12zM6476 1984l37-13-32-30-37 12zM6438 1997l38-13-32-31-38 12z"/>
<path fill="#08f040" d="M7638 1596l29-11-32 0-29 10zM7608 1607l30-11-32-1-30 11zM7578 1618l30-11-32-1-30 10zM7548 1629l30-11-32-2-30 10zM7518 1640l30-11-32-3-30 11zM7487 1652l31-12-32-3-30 10z"/>
<path fill="#00f040" d="M7457 1663l30-11-31-5-31 11zM7426 1674l31-11-32-5-31 10zM7395 1686l31-12-32-6-31 11zM7364 1698l31-12-32-7-31 11zM7332 1709l32-11-32-8-32 11zM7300 1721l32-12-32-8-31 10zM7269 1733l31-12-31-10-32 11zM7236 1745l33-12-32-11-32 11zM7204 1757l32-12-31-12-33 12zM7171 1769l33-12-32-12-32 11zM7139 1781l32-12-31-13-33 11zM7106 1793l33-12-32-14-33 11zM7072 1806l34-13-32-15-33 12zM7039 1818l33-12-31-16-34 11zM7005 1831l34-13-32-17-34 12zM6971 1843l34-12-32-18-33 12z"/>
<path fill="#00f048" d="M6937 1856l34-13-31-18-35 11zM6903 1869l34-13-32-20-34 12zM6868 1882l35-13-32-21-35 12zM6833 1895l35-13-32-22-35 12zM6798 1908l35-13-32-23-35 12zM6763 1921l35-13-32-24-35 12zM6727 1934l36-13-32-25-36 13zM6691 1947l36-13-32-25-36 12z"/>
<path fill="#00f050" d="M6655 1961l36-14-32-26-36 12zM6619 1974l36-13-32-28-36 13zM6582 1988l37-14-32-28-37 13zM6545 2002l37-14-32-29-37 12zM6508 2016l37-14-32-31-37 13z"/>
<path fill="#00f058" d="M6470 2029l38-13-32-32-38 13z"/>
<path fill="#08f040" d="M7670 1596l29-12-32 1-29 11zM7640 1608l30-12-32 0-30 11zM7610 1620l30-12-32-1-30 11zM7580 1632l30-12-32-2-30 11zM7550 1644l30-12-32-3-30 11zM7520 1656l30-12-32-4-31 12zM7489 1668l31-12-33-4-30 11zM7458 1681l31-13-32-5-31 11z"/>
<path fill="#00f040" d="M7427 1693l31-12-32-7-31 12zM7396 1706l31-13-32-7-31 12zM7364 1718l32-12-32-8-32 11zM7332 1731l32-13-32-9-32 12zM7301 1744l31-13-32-10-31 12zM7268 1756l33-12-32-11-33 12zM7236 1769l32-13-32-11-32 12zM7204 1782l32-13-32-12-33 12zM7171 1795l33-13-33-13-32 12zM7138 1809l33-14-32-14-33 12zM7104 1822l34-13-32-16-34 13z"/>
<path fill="#00f048" d="M7071 1835l33-13-32-16-33 12zM7037 1849l34-14-32-17-34 13zM7003 1862l34-13-32-18-34 12zM6969 1876l34-14-32-19-34 13zM6935 1890l34-14-32-20-34 13z"/>
<path fill="#00f050" d="M6900 1903l35-13-32-21-35 13zM6865 1917l35-14-32-21-35 13zM6830 1931l35-14-32-22-35 13zM6795 1945l35-14-32-23-35 13z"/>
<path fill="#00f058" d="M6759 1960l36-15-32-24-36 13zM6723 1974l36-14-32-26-36 13zM6687 1988l36-14-32-27-36 14z"/>
<path fill="#00f060" d="M6651 2003l36-15-32-27-36 13zM6614 2018l37-15-32-29-37 14zM6577 2032l37-14-32-30-37 14z"/>
<path fill="#00f068" d="M6540 2047l37-15-32-30-37 14zM6503 2062l37-15-32-31-38 13z"/>
<path fill="#08f038" d="M7702 1596l30-12-33 0-29 12zM7673 1609l29-13-32 0-30 12zM7643 1622l30-13-33-1-30 12z"/>
<path fill="#08f040" d="M7613 1635l30-13-33-2-30 12zM7582 1648l31-13-33-3-30 12zM7552 1661l30-13-32-4-30 12zM7521 1674l31-13-32-5-31 12zM7490 1687l31-13-32-6-31 13zM7459 1700l31-13-32-6-31 12z"/>
<path fill="#00f040" d="M7428 1714l31-14-32-7-31 13zM7396 1727l32-13-32-8-32 12zM7365 1741l31-14-32-9-32 13zM7333 1754l32-13-33-10-31 13zM7301 1768l32-14-32-10-33 12zM7268 1782l33-14-33-12-32 13zM7236 1796l32-14-32-13-32 13zM7203 1810l33-14-32-14-33 13z"/>
<path fill="#00f048" d="M7170 1824l33-14-32-15-33 14zM7137 1838l33-14-32-15-34 13zM7103 1852l34-14-33-16-33 13zM7070 1867l33-15-32-17-34 14z"/>
<path fill="#00f050" d="M7036 1881l34-14-33-18-34 13zM7002 1896l34-15-33-19-34 14zM6967 1910l35-14-33-20-34 14z"/>
<path fill="#00f058" d="M6933 1925l34-15-32-20-35 13zM6898 1940l35-15-33-22-35 14z"/>
<path fill="#00f060" d="M6863 1955l35-15-33-23-35 14zM6827 1970l36-15-33-24-35 14zM6792 1985l35-15-32-25-36 15z"/>
<path fill="#00f068" d="M6756 2001l36-16-33-25-36 14zM6720 2016l36-15-33-27-36 14z"/>
<path fill="#00f070" d="M6683 2032l37-16-33-28-36 15zM6647 2047l36-15-32-29-37 15zM6610 2063l37-16-33-29-37 14z"/>
<path fill="#00f078" d="M6573 2079l37-16-33-31-37 15zM6535 2095l38-16-33-32-37 15z"/>
<path fill="#08f038" d="M7735 1597l29-14-32 1-30 12zM7705 1610l30-13-33-1-29 13zM7675 1624l30-14-32-1-30 13zM7645 1637l30-13-32-2-30 13zM7615 1651l30-14-32-2-31 13z"/>
<path fill="#08f040" d="M7584 1665l31-14-33-3-30 13zM7554 1679l30-14-32-4-31 13zM7523 1693l31-14-33-5-31 13zM7492 1707l31-14-33-6-31 13zM7460 1722l32-15-33-7-31 14z"/>
<path fill="#00f040" d="M7429 1736l31-14-32-8-32 13zM7397 1750l32-14-33-9-31 14zM7365 1765l32-15-32-9-32 13zM7333 1780l32-15-32-11-32 14zM7301 1794l32-14-32-12-33 14zM7268 1809l33-15-33-12-32 14z"/>
<path fill="#00f048" d="M7235 1824l33-15-32-13-33 14zM7202 1839l33-15-32-14-33 14zM7169 1854l33-15-32-15-33 14z"/>
<path fill="#00f050" d="M7136 1869l33-15-32-16-34 14zM7102 1885l34-16-33-17-33 15zM7068 1900l34-15-32-18-34 14z"/>
<path fill="#00f058" d="M7034 1916l34-16-32-19-34 15z"/>
<path fill="#00f060" d="M7000 1931l34-15-32-20-35 14zM6965 1947l35-16-33-21-34 15zM6930 1963l35-16-32-22-35 15z"/>
<path fill="#00f068" d="M6895 1979l35-16-32-23-35 15z"/>
<path fill="#00f070" d="M6860 1995l35-16-32-24-36 15zM6824 2011l36-16-33-25-35 15zM6788 2028l36-17-32-26-36 16z"/>
<path fill="#00f078" d="M6752 2044l36-16-32-27-36 15z"/>
<path fill="#00f080" d="M6716 2061l36-17-32-28-37 16zM6679 2077l37-16-33-29-36 15z"/>
<path fill="#00f088" d="M6643 2094l36-17-32-30-37 16zM6606 2111l37-17-33-31-37 16z"/>
<path fill="#00f090" d="M6568 2128l38-17-33-32-38 16z"/>
<path fill="#08f038" d="M7768 1597l29-14-33 0-29 14zM7738 1611l30-14-33 0-30 13zM7708 1626l30-15-33-1-30 14zM7678 1640l30-14-33-2-30 13zM7648 1655l30-15-33-3-30 14zM7617 1670l31-15-33-4-31 14z"/>
<path fill="#08f040" d="M7586 1685l31-15-33-5-30 14zM7555 1700l31-15-32-6-31 14zM7524 1715l31-15-32-7-31 14zM7493 1730l31-15-32-8-32 15z"/>
<path fill="#00f040" d="M7462 1745l31-15-33-8-31 14zM7430 1760l32-15-33-9-32 14zM7398 1776l32-16-33-10-32 15zM7366 1791l32-15-33-11-32 15zM7333 1807l33-16-33-11-32 14z"/>
<path fill="#00f048" d="M7301 1823l32-16-32-13-33 15zM7268 1839l33-16-33-14-33 15zM7235 1854l33-15-33-15-33 15z"/>
<path fill="#00f050" d="M7202 1871l33-17-33-15-33 15zM7168 1887l34-16-33-17-33 15z"/>
<path fill="#00f058" d="M7135 1903l33-16-32-18-34 16zM7101 1919l34-16-33-18-34 15z"/>
<path fill="#00f060" d="M7067 1936l34-17-33-19-34 16z"/>
<path fill="#00f068" d="M7032 1953l35-17-33-20-34 15zM6998 1969l34-16-32-22-35 16z"/>
<path fill="#00f070" d="M6963 1986l35-17-33-22-35 16zM6928 2003l35-17-33-23-35 16z"/>
<path fill="#00f078" d="M6893 2020l35-17-33-24-35 16z"/>
<path fill="#00f080" d="M6857 2037l36-17-33-25-36 16zM6821 2055l36-18-33-26-36 17z"/>
<path fill="#00f088" d="M6785 2072l36-17-33-27-36 16z"/>
<path fill="#00f090" d="M6749 2090l36-18-33-28-36 17zM6712 2107l37-17-33-29-37 16z"/>
<path fill="#00f098" d="M6676 2125l36-18-33-30-36 17z"/>
<path fill="#00f0a0" d="M6638 2143l38-18-33-31-37 17zM6601 2161l37-18-32-32-38 17z"/>
<path fill="#10f030" d="M7801 1597l29-15-33 1-29 14z"/>
<path fill="#08f038" d="M7771 1612l30-15-33 0-30 14zM7741 1628l30-16-33-1-30 15zM7711 1643l30-15-33-2-30 14zM7680 1659l31-16-33-3-30 15zM7650 1674l30-15-32-4-31 15zM7619 1690l31-16-33-4-31 15z"/>
<path fill="#08f040" d="M7588 1706l31-16-33-5-31 15zM7557 1722l31-16-33-6-31 15zM7526 1738l31-16-33-7-31 15z"/>
<path fill="#00f040" d="M7494 1754l32-16-33-8-31 15zM7463 1770l31-16-32-9-32 15zM7431 1787l32-17-33-10-32 16zM7399 1803l32-16-33-11-32 15zM7366 1820l33-17-33-12-33 16z"/>
<path fill="#00f048" d="M7334 1836l32-16-33-13-32 16zM7301 1853l33-17-33-13-33 16z"/>
<path fill="#00f050" d="M7268 1870l33-17-33-14-33 15zM7235 1887l33-17-33-16-33 17z"/>
<path fill="#00f058" d="M7201 1904l34-17-33-16-34 16z"/>
<path fill="#00f060" d="M7168 1921l33-17-33-17-33 16zM7134 1939l34-18-33-18-34 16z"/>
<path fill="#00f068" d="M7100 1956l34-17-33-20-34 17z"/>
<path fill="#00f070" d="M7065 1974l35-18-33-20-35 17zM7031 1992l34-18-33-21-34 16z"/>
<path fill="#00f078" d="M6996 2009l35-17-33-23-35 17z"/>
<path fill="#00f080" d="M6961 2027l35-18-33-23-35 17z"/>
<path fill="#00f088" d="M6926 2045l35-18-33-24-35 17zM6890 2064l36-19-33-25-36 17z"/>
<path fill="#00f090" d="M6854 2082l36-18-33-27-36 18z"/>
<path fill="#00f098" d="M6818 2100l36-18-33-27-36 17z"/>
<path fill="#00f0a0" d="M6782 2119l36-19-33-28-36 18z"/>
<path fill="#00f0a8" d="M6745 2138l37-19-33-29-37 17z"/>
<path fill="#00f0b0" d="M6709 2156l36-18-33-31-36 18z"/>
<path fill="#00f0b8" d="M6672 2175l37-19-33-31-38 18z"/>
<path fill="#00f0c0" d="M6634 2195l38-20-34-32-37 18z"/>
<path fill="#10f030" d="M7834 1597l30-16-34 1-29 15zM7804 1614l30-17-33 0-30 15z"/>
<path fill="#08f038" d="M7774 1630l30-16-33-2-30 16zM7744 1646l30-16-33-2-30 15zM7714 1662l30-16-33-3-31 16zM7683 1679l31-17-34-3-30 15zM7652 1696l31-17-33-5-31 16zM7622 1712l30-16-33-6-31 16z"/>
<path fill="#08f040" d="M7590 1729l32-17-34-6-31 16zM7559 1746l31-17-33-7-31 16zM7528 1763l31-17-33-8-32 16z"/>
<path fill="#00f040" d="M7496 1780l32-17-34-9-31 16zM7464 1798l32-18-33-10-32 17zM7432 1815l32-17-33-11-32 16zM7399 1832l33-17-33-12-33 17z"/>
<path fill="#00f048" d="M7367 1850l32-18-33-12-32 16zM7334 1868l33-18-33-14-33 17z"/>
<path fill="#00f050" d="M7301 1886l33-18-33-15-33 17z"/>
<path fill="#00f058" d="M7268 1904l33-18-33-16-33 17z"/>
<path fill="#00f060" d="M7234 1922l34-18-33-17-34 17zM7201 1940l33-18-33-18-33 17z"/>
<path fill="#00f068" d="M7167 1958l34-18-33-19-34 18z"/>
<path fill="#00f070" d="M7133 1977l34-19-33-19-34 17z"/>
<path fill="#00f078" d="M7098 1995l35-18-33-21-35 18z"/>
<path fill="#00f080" d="M7064 2014l34-19-33-21-34 18zM7029 2033l35-19-33-22-35 17z"/>
<path fill="#00f088" d="M6994 2052l35-19-33-24-35 18z"/>
<path fill="#00f090" d="M6959 2071l35-19-33-25-35 18z"/>
<path fill="#00f098" d="M6923 2090l36-19-33-26-36 19z"/>
<path fill="#00f0a0" d="M6887 2109l36-19-33-26-36 18z"/>
<path fill="#00f0a8" d="M6851 2129l36-20-33-27-36 18z"/>
<path fill="#00f0b0" d="M6815 2148l36-19-33-29-36 19z"/>
<path fill="#00f0b8" d="M6779 2168l36-20-33-29-37 19z"/>
<path fill="#00f0c0" d="M6742 2188l37-20-34-30-36 18z"/>
<path fill="#00f8c8" d="M6705 2208l37-20-33-32-37 19z"/>
<path fill="#00f8d0" d="M6668 2228l37-20-33-33-38 20z"/>
<path fill="#10f030" d="M7867 1598l30-17-33 0-30 16zM7838 1615l29-17-33-1-30 17zM7808 1632l30-17-34-1-30 16z"/>
<path fill="#10f038" d="M7778 1649l30-17-34-2-30 16z"/>
<path fill="#08f038" d="M7747 1666l31-17-34-3-30 16zM7717 1684l30-18-33-4-31 17zM7686 1701l31-17-34-5-31 17zM7655 1719l31-18-34-5-30 16z"/>
<path fill="#08f040" d="M7624 1737l31-18-33-7-32 17zM7592 1754l32-17-34-8-31 17zM7561 1772l31-18-33-8-31 17z"/>
<path fill="#00f040" d="M7529 1790l32-18-33-9-32 17zM7497 1809l32-19-33-10-32 18zM7465 1827l32-18-33-11-32 17z"/>
<path fill="#00f048" d="M7433 1845l32-18-33-12-33 17zM7400 1864l33-19-34-13-32 18z"/>
<path fill="#00f050" d="M7367 1883l33-19-33-14-33 18z"/>
<path fill="#00f058" d="M7334 1901l33-18-33-15-33 18z"/>
<path fill="#00f060" d="M7301 1920l33-19-33-15-33 18zM7268 1939l33-19-33-16-34 18z"/>
<path fill="#00f068" d="M7234 1958l34-19-34-17-33 18z"/>
<path fill="#00f070" d="M7200 1978l34-20-33-18-34 18z"/>
<path fill="#00f078" d="M7166 1997l34-19-33-20-34 19z"/>
<path fill="#00f080" d="M7132 2017l34-20-33-20-35 18z"/>
<path fill="#00f088" d="M7097 2036l35-19-34-22-34 19z"/>
<path fill="#00f090" d="M7062 2056l35-20-33-22-35 19z"/>
<path fill="#00f098" d="M7027 2076l35-20-33-23-35 19z"/>
<path fill="#00f0a0" d="M6992 2096l35-20-33-24-35 19z"/>
<path fill="#00f0a8" d="M6957 2116l35-20-33-25-36 19z"/>
<path fill="#00f0b0" d="M6921 2137l36-21-34-26-36 19z"/>
<path fill="#00f0c0" d="M6885 2157l36-20-34-28-36 20z"/>
<path fill="#00f0c8" d="M6849 2178l36-21-34-28-36 19z"/>
<path fill="#00f8d0" d="M6812 2199l37-21-34-30-36 20z"/>
<path fill="#00f8d8" d="M6775 2220l37-21-33-31-37 20z"/>
<path fill="#00f8e0" d="M6738 2241l37-21-33-32-37 20zM6701 2262l37-21-33-33-37 20z"/>
<path fill="#10f030" d="M7901 1598l30-18-34 1-30 17zM7871 1616l30-18-34 0-29 17zM7841 1634l30-18-33-1-30 17zM7811 1652l30-18-33-2-30 17z"/>
<path fill="#08f038" d="M7781 1670l30-18-33-3-31 17zM7750 1688l31-18-34-4-30 18zM7720 1707l30-19-33-4-31 17zM7689 1725l31-18-34-6-31 18z"/>
<path fill="#08f040" d="M7657 1744l32-19-34-6-31 18zM7626 1763l31-19-33-7-32 17zM7595 1782l31-19-34-9-31 18z"/>
<path fill="#00f040" d="M7563 1801l32-19-34-10-32 18zM7531 1820l32-19-34-11-32 19zM7499 1839l32-19-34-11-32 18z"/>
<path fill="#00f048" d="M7466 1858l33-19-34-12-32 18zM7434 1878l32-20-33-13-33 19z"/>
<path fill="#00f050" d="M7401 1897l33-19-34-14-33 19z"/>
<path fill="#00f058" d="M7368 1917l33-20-34-14-33 18z"/>
<path fill="#00f060" d="M7335 1937l33-20-34-16-33 19z"/>
<path fill="#00f068" d="M7301 1957l34-20-34-17-33 19z"/>
<path fill="#00f070" d="M7268 1977l33-20-33-18-34 19z"/>
<path fill="#00f078" d="M7234 1997l34-20-34-19-34 20z"/>
<path fill="#00f080" d="M7200 2018l34-21-34-19-34 19z"/>
<path fill="#00f088" d="M7165 2038l35-20-34-21-34 20z"/>
<path fill="#00f090" d="M7131 2059l34-21-33-21-35 19z"/>
<path fill="#00f0a0" d="M7096 2080l35-21-34-23-35 20z"/>
<path fill="#00f0a8" d="M7061 2101l35-21-34-24-35 20z"/>
<path fill="#00f0b0" d="M7026 2122l35-21-34-25-35 20z"/>
<path fill="#00f0b8" d="M6990 2143l36-21-34-26-35 20z"/>
<path fill="#00f0c8" d="M6955 2165l35-22-33-27-36 21z"/>
<path fill="#00f8d0" d="M6919 2186l36-21-34-28-36 20z"/>
<path fill="#00f8d8" d="M6882 2208l37-22-34-29-36 21z"/>
<path fill="#00f8e0" d="M6846 2230l36-22-33-30-37 21zM6809 2252l37-22-34-31-37 21z"/>
<path fill="#00f8e8" d="M6772 2274l37-22-34-32-37 21zM6735 2296l37-22-34-33-37 21z"/>
<path fill="#18f030" d="M7935 1598l30-18-34 0-30 18z"/>
<path fill="#10f030" d="M7905 1617l30-19-34 0-30 18zM7875 1636l30-19-34-1-30 18zM7845 1655l30-19-34-2-30 18zM7815 1674l30-19-34-3-30 18z"/>
<path fill="#08f038" d="M7784 1693l31-19-34-4-31 18zM7753 1712l31-19-34-5-30 19zM7722 1732l31-20-33-5-31 18zM7691 1751l31-19-33-7-32 19z"/>
<path fill="#08f040" d="M7660 1771l31-20-34-7-31 19zM7628 1791l32-20-34-8-31 19z"/>
<path fill="#00f040" d="M7597 1811l31-20-33-9-32 19zM7565 1831l32-20-34-10-32 19zM7532 1851l33-20-34-11-32 19z"/>
<path fill="#00f048" d="M7500 1871l32-20-33-12-33 19z"/>
<path fill="#00f050" d="M7468 1892l32-21-34-13-32 20z"/>
<path fill="#00f058" d="M7435 1912l33-20-34-14-33 19z"/>
<path fill="#00f060" d="M7402 1933l33-21-34-15-33 20z"/>
<path fill="#00f068" d="M7369 1954l33-21-34-16-33 20z"/>
<path fill="#00f070" d="M7335 1975l34-21-34-17-34 20z"/>
<path fill="#00f078" d="M7301 1996l34-21-34-18-33 20z"/>
<path fill="#00f080" d="M7268 2017l33-21-33-19-34 20z"/>
<path fill="#00f088" d="M7233 2039l35-22-34-20-34 21z"/>
<path fill="#00f090" d="M7199 2060l34-21-33-21-35 20z"/>
<path fill="#00f0a0" d="M7165 2082l34-22-34-22-34 21z"/>
<path fill="#00f0a8" d="M7130 2104l35-22-34-23-35 21z"/>
<path fill="#00f0b8" d="M7095 2126l35-22-34-24-35 21z"/>
<path fill="#00f0c0" d="M7060 2148l35-22-34-25-35 21z"/>
<path fill="#00f8d0" d="M7024 2170l36-22-34-26-36 21z"/>
<path fill="#00f8d8" d="M6988 2192l36-22-34-27-35 22z"/>
<path fill="#00f8e0" d="M6952 2215l36-23-33-27-36 21zM6916 2238l36-23-33-29-37 22z"/>
<path fill="#00f8e8" d="M6880 2261l36-23-34-30-36 22zM6843 2284l37-23-34-31-37 22z"/>
<path fill="#00f8f0" d="M6806 2307l37-23-34-32-37 22zM6769 2330l37-23-34-33-37 22z"/>
<path fill="#20f830" d="M7970 1599l29-20-34 1-30 18z"/>
<path fill="#18f030" d="M7940 1618l30-19-35-1-30 19z"/>
<path fill="#10f030" d="M7910 1638l30-20-35-1-30 19zM7879 1658l31-20-35-2-30 19zM7849 1678l30-20-34-3-30 19z"/>
<path fill="#10f038" d="M7818 1698l31-20-34-4-31 19z"/>
<path fill="#08f038" d="M7788 1718l30-20-34-5-31 19zM7757 1738l31-20-35-6-31 20zM7725 1759l32-21-35-6-31 19z"/>
<path fill="#08f040" d="M7694 1780l31-21-34-8-31 20zM7662 1800l32-20-34-9-32 20z"/>
<path fill="#00f040" d="M7631 1821l31-21-34-9-31 20zM7599 1842l32-21-34-10-32 20zM7567 1863l32-21-34-11-33 20z"/>
<path fill="#00f048" d="M7534 1885l33-22-35-12-32 20z"/>
<path fill="#00f050" d="M7502 1906l32-21-34-14-32 21z"/>
<path fill="#00f058" d="M7469 1927l33-21-34-14-33 20z"/>
<path fill="#00f060" d="M7436 1949l33-22-34-15-33 21z"/>
<path fill="#00f068" d="M7403 1971l33-22-34-16-33 21z"/>
<path fill="#00f078" d="M7369 1993l34-22-34-17-34 21z"/>
<path fill="#00f080" d="M7335 2015l34-22-34-18-34 21z"/>
<path fill="#00f088" d="M7302 2037l33-22-34-19-33 21z"/>
<path fill="#00f090" d="M7267 2060l35-23-34-20-35 22z"/>
<path fill="#00f0a0" d="M7233 2082l34-22-34-21-34 21z"/>
<path fill="#00f0a8" d="M7199 2105l34-23-34-22-34 22z"/>
<path fill="#00f0b8" d="M7164 2128l35-23-34-23-35 22z"/>
<path fill="#00f0c0" d="M7129 2151l35-23-34-24-35 22z"/>
<path fill="#00f8d0" d="M7094 2174l35-23-34-25-35 22z"/>
<path fill="#00f8e0" d="M7058 2197l36-23-34-26-36 22zM7022 2221l36-24-34-27-36 22z"/>
<path fill="#00f8e8" d="M6986 2244l36-23-34-29-36 23zM6950 2268l36-24-34-29-36 23z"/>
<path fill="#00f8f0" d="M6914 2292l36-24-34-30-36 23zM6877 2316l37-24-34-31-37 23z"/>
<path fill="#00f8f8" d="M6840 2340l37-24-34-32-37 23z"/>
<path fill="#00f0f8" d="M6803 2365l37-25-34-33-37 23z"/>
<path fill="#28f828" d="M8004 1599l30-20-35 0-29 20z"/>
<path fill="#20f830" d="M7974 1619l30-20-34 0-30 19z"/>
<path fill="#18f030" d="M7944 1640l30-21-34-1-30 20z"/>
<path fill="#10f030" d="M7914 1661l30-21-34-2-31 20zM7883 1682l31-21-35-3-30 20zM7853 1703l30-21-34-4-31 20z"/>
<path fill="#08f038" d="M7822 1724l31-21-35-5-30 20zM7791 1745l31-21-34-6-31 20zM7760 1767l31-22-34-7-32 21z"/>
<path fill="#08f040" d="M7728 1788l32-21-35-8-31 21zM7697 1810l31-22-34-8-32 20z"/>
<path fill="#00f040" d="M7665 1832l32-22-35-10-31 21zM7633 1854l32-22-34-11-32 21zM7601 1876l32-22-34-12-32 21z"/>
<path fill="#00f048" d="M7568 1898l33-22-34-13-33 22z"/>
<path fill="#00f050" d="M7536 1920l32-22-34-13-32 21z"/>
<path fill="#00f058" d="M7503 1943l33-23-34-14-33 21z"/>
<path fill="#00f068" d="M7470 1965l33-22-34-16-33 22z"/>
<path fill="#00f070" d="M7437 1988l33-23-34-16-33 22z"/>
<path fill="#00f078" d="M7403 2011l34-23-34-17-34 22z"/>
<path fill="#00f088" d="M7370 2034l33-23-34-18-34 22z"/>
<path fill="#00f090" d="M7336 2057l34-23-35-19-33 22z"/>
<path fill="#00f0a0" d="M7302 2081l34-24-34-20-35 23z"/>
<path fill="#00f0a8" d="M7267 2104l35-23-35-21-34 22z"/>
<path fill="#00f0b8" d="M7233 2128l34-24-34-22-34 23z"/>
<path fill="#00f0c8" d="M7198 2152l35-24-34-23-35 23z"/>
<path fill="#00f8d0" d="M7163 2176l35-24-34-24-35 23z"/>
<path fill="#00f8e0" d="M7128 2200l35-24-34-25-35 23zM7092 2224l36-24-34-26-36 23z"/>
<path fill="#00f8e8" d="M7057 2249l35-25-34-27-36 24zM7021 2273l36-24-35-28-36 23z"/>
<path fill="#00f8f0" d="M6985 2298l36-25-35-29-36 24zM6948 2323l37-25-35-30-36 24z"/>
<path fill="#00f8f8" d="M6912 2348l36-25-34-31-37 24z"/>
<path fill="#00f0f8" d="M6875 2374l37-26-35-32-37 24zM6837 2399l38-25-35-34-37 25z"/>
<path fill="#30f828" d="M8039 1599l30-21-35 1-30 20z"/>
<path fill="#28f828" d="M8009 1621l30-22-35 0-30 20z"/>
<path fill="#20f830" d="M7979 1642l30-21-35-2-30 21z"/>
<path fill="#18f030" d="M7949 1664l30-22-35-2-30 21z"/>
<path fill="#10f030" d="M7918 1686l31-22-35-3-31 21zM7888 1708l30-22-35-4-30 21z"/>
<path fill="#10f038" d="M7857 1730l31-22-35-5-31 21z"/>
<path fill="#08f038" d="M7826 1752l31-22-35-6-31 21zM7794 1774l32-22-35-7-31 22z"/>
<path fill="#08f040" d="M7763 1797l31-23-34-7-32 21zM7731 1819l32-22-35-9-31 22z"/>
<path fill="#00f040" d="M7700 1842l31-23-34-9-32 22zM7668 1865l32-23-35-10-32 22zM7635 1888l33-23-35-11-32 22z"/>
<path fill="#00f048" d="M7603 1911l32-23-34-12-33 22z"/>
<path fill="#00f050" d="M7570 1934l33-23-35-13-32 22z"/>
<path fill="#00f060" d="M7538 1958l32-24-34-14-33 23z"/>
<path fill="#00f068" d="M7504 1982l34-24-35-15-33 22z"/>
<path fill="#00f078" d="M7471 2005l33-23-34-17-33 23z"/>
<path fill="#00f080" d="M7438 2029l33-24-34-17-34 23z"/>
<path fill="#00f090" d="M7404 2053l34-24-35-18-33 23z"/>
<path fill="#00f098" d="M7370 2078l34-25-34-19-34 23z"/>
<path fill="#00f0a8" d="M7336 2102l34-24-34-21-34 24z"/>
<path fill="#00f0b8" d="M7302 2127l34-25-34-21-35 23z"/>
<path fill="#00f0c0" d="M7267 2151l35-24-35-23-34 24z"/>
<path fill="#00f8d0" d="M7233 2176l34-25-34-23-35 24z"/>
<path fill="#00f8e0" d="M7198 2201l35-25-35-24-35 24zM7162 2226l36-25-35-25-35 24z"/>
<path fill="#00f8e8" d="M7127 2252l35-26-34-26-36 24z"/>
<path fill="#00f8f0" d="M7091 2277l36-25-35-28-35 25zM7055 2303l36-26-34-28-36 24z"/>
<path fill="#00f8f8" d="M7019 2329l36-26-34-30-36 25z"/>
<path fill="#00f0f8" d="M6983 2355l36-26-34-31-37 25zM6946 2381l37-26-35-32-36 25zM6909 2407l37-26-34-33-37 26zM6872 2434l37-27-34-33-38 25z"/>
<path fill="#38f828" d="M8074 1600l30-23-35 1-30 21z"/>
<path fill="#30f828" d="M8044 1622l30-22-35-1-30 22z"/>
<path fill="#20f830" d="M8014 1644l30-22-35-1-30 21z"/>
<path fill="#18f030" d="M7984 1667l30-23-35-2-30 22z"/>
<path fill="#10f030" d="M7953 1690l31-23-35-3-31 22zM7922 1712l31-22-35-4-30 22zM7892 1735l30-23-34-4-31 22z"/>
<path fill="#08f038" d="M7861 1759l31-24-35-5-31 22zM7829 1782l32-23-35-7-32 22zM7798 1805l31-23-35-8-31 23z"/>
<path fill="#08f040" d="M7766 1829l32-24-35-8-32 22z"/>
<path fill="#00f040" d="M7734 1853l32-24-35-10-31 23zM7702 1876l32-23-34-11-32 23z"/>
<path fill="#00f048" d="M7670 1900l32-24-34-11-33 23zM7638 1925l32-25-35-12-32 23z"/>
<path fill="#00f058" d="M7605 1949l33-24-35-14-33 23z"/>
<path fill="#00f060" d="M7572 1973l33-24-35-15-32 24z"/>
<path fill="#00f070" d="M7539 1998l33-25-34-15-34 24z"/>
<path fill="#00f078" d="M7506 2023l33-25-35-16-33 23z"/>
<path fill="#00f088" d="M7472 2048l34-25-35-18-33 24z"/>
<path fill="#00f090" d="M7439 2073l33-25-34-19-34 24z"/>
<path fill="#00f0a0" d="M7405 2098l34-25-35-20-34 25z"/>
<path fill="#00f0b0" d="M7371 2123l34-25-35-20-34 24z"/>
<path fill="#00f0c0" d="M7336 2149l35-26-35-21-34 25z"/>
<path fill="#00f8d0" d="M7302 2175l34-26-34-22-35 24z"/>
<path fill="#00f8e0" d="M7267 2201l35-26-35-24-34 25zM7232 2227l35-26-34-25-35 25z"/>
<path fill="#00f8e8" d="M7197 2253l35-26-34-26-36 25z"/>
<path fill="#00f8f0" d="M7162 2279l35-26-35-27-35 26zM7126 2306l36-27-35-27-36 25z"/>
<path fill="#00f8f8" d="M7090 2333l36-27-35-29-36 26z"/>
<path fill="#00f0f8" d="M7054 2359l36-26-35-30-36 26zM7017 2387l37-28-35-30-36 26zM6981 2414l36-27-34-32-37 26zM6944 2441l37-27-35-33-37 26zM6907 2469l37-28-35-34-37 27z"/>
<path fill="#40f828" d="M8109 1600l30-23-35 0-30 23z"/>
<path fill="#30f828" d="M8079 1623l30-23-35 0-30 22z"/>
<path fill="#28f828" d="M8049 1646l30-23-35-1-30 22z"/>
<path fill="#20f830" d="M8019 1670l30-24-35-2-30 23z"/>
<path fill="#18f030" d="M7988 1694l31-24-35-3-31 23z"/>
<path fill="#10f030" d="M7958 1717l30-23-35-4-31 22zM7927 1741l31-24-36-5-30 23z"/>
<path fill="#08f038" d="M7896 1765l31-24-35-6-31 24zM7864 1790l32-25-35-6-32 23zM7833 1814l31-24-35-8-31 23z"/>
<path fill="#08f040" d="M7801 1839l32-25-35-9-32 24z"/>
<path fill="#00f040" d="M7769 1863l32-24-35-10-32 24zM7737 1888l32-25-35-10-32 23z"/>
<path fill="#00f048" d="M7705 1913l32-25-35-12-32 24z"/>
<path fill="#00f050" d="M7673 1938l32-25-35-13-32 25z"/>
<path fill="#00f058" d="M7640 1963l33-25-35-13-33 24z"/>
<path fill="#00f068" d="M7607 1989l33-26-35-14-33 24z"/>
<path fill="#00f070" d="M7574 2014l33-25-35-16-33 25z"/>
<path fill="#00f080" d="M7541 2040l33-26-35-16-33 25z"/>
<path fill="#00f090" d="M7507 2066l34-26-35-17-34 25z"/>
<path fill="#00f0a0" d="M7474 2092l33-26-35-18-33 25z"/>
<path fill="#00f0b0" d="M7440 2118l34-26-35-19-34 25z"/>
<path fill="#00f0c0" d="M7406 2145l34-27-35-20-34 25z"/>
<path fill="#00f8d0" d="M7371 2171l35-26-35-22-35 26z"/>
<path fill="#00f8e0" d="M7337 2198l34-27-35-22-34 26zM7302 2225l35-27-35-23-35 26z"/>
<path fill="#00f8e8" d="M7267 2252l35-27-35-24-35 26z"/>
<path fill="#00f8f0" d="M7232 2280l35-28-35-25-35 26zM7196 2307l36-27-35-27-35 26z"/>
<path fill="#00f8f8" d="M7161 2335l35-28-34-28-36 27z"/>
<path fill="#00f0f8" d="M7125 2362l36-27-35-29-36 27zM7089 2390l36-28-35-29-36 26zM7052 2419l37-29-35-31-37 28zM7016 2447l36-28-35-32-36 27zM6979 2475l37-28-35-33-37 27z"/>
<path fill="#00e8f8" d="M6942 2504l37-29-35-34-37 28z"/>
<path fill="#48f828" d="M8145 1600l30-24-36 1-30 23z"/>
<path fill="#38f828" d="M8115 1624l30-24-36 0-30 23z"/>
<path fill="#30f828" d="M8085 1649l30-25-36-1-30 23z"/>
<path fill="#28f830" d="M8054 1673l31-24-36-3-30 24z"/>
<path fill="#18f030" d="M8024 1698l30-25-35-3-31 24z"/>
<path fill="#10f030" d="M7993 1722l31-24-36-4-30 23zM7962 1747l31-25-35-5-31 24z"/>
<path fill="#10f038" d="M7931 1772l31-25-35-6-31 24z"/>
<path fill="#08f038" d="M7900 1797l31-25-35-7-32 25zM7868 1823l32-26-36-7-31 24z"/>
<path fill="#08f040" d="M7837 1848l31-25-35-9-32 25z"/>
<path fill="#00f040" d="M7805 1874l32-26-36-9-32 24zM7773 1900l32-26-36-11-32 25z"/>
<path fill="#00f048" d="M7740 1926l33-26-36-12-32 25z"/>
<path fill="#00f050" d="M7708 1952l32-26-35-13-32 25z"/>
<path fill="#00f060" d="M7675 1978l33-26-35-14-33 25z"/>
<path fill="#00f068" d="M7642 2004l33-26-35-15-33 26z"/>
<path fill="#00f078" d="M7609 2031l33-27-35-15-33 25z"/>
<path fill="#00f080" d="M7576 2058l33-27-35-17-33 26z"/>
<path fill="#00f090" d="M7543 2085l33-27-35-18-34 26z"/>
<path fill="#00f0a8" d="M7509 2112l34-27-36-19-33 26z"/>
<path fill="#00f0b8" d="M7475 2139l34-27-35-20-34 26z"/>
<path fill="#00f0c8" d="M7441 2167l34-28-35-21-34 27z"/>
<path fill="#00f8d8" d="M7407 2194l34-27-35-22-35 26z"/>
<path fill="#00f8e0" d="M7372 2222l35-28-36-23-34 27z"/>
<path fill="#00f8e8" d="M7337 2250l35-28-35-24-35 27z"/>
<path fill="#00f8f0" d="M7302 2278l35-28-35-25-35 27zM7267 2306l35-28-35-26-35 28z"/>
<path fill="#00f8f8" d="M7232 2335l35-29-35-26-36 27z"/>
<path fill="#00f0f8" d="M7196 2364l36-29-36-28-35 28zM7160 2392l36-28-35-29-36 27zM7124 2422l36-30-35-30-36 28zM7088 2451l36-29-35-32-37 29zM7051 2480l37-29-36-32-36 28z"/>
<path fill="#00e8f8" d="M7014 2510l37-30-35-33-37 28z"/>
<path fill="#00e8ff" d="M6977 2540l37-30-35-35-37 29z"/>
<path fill="#50f820" d="M8181 1600l30-24-36 0-30 24z"/>
<path fill="#40f828" d="M8151 1626l30-26-36 0-30 24z"/>
<path fill="#38f828" d="M8121 1651l30-25-36-2-30 25z"/>
<path fill="#28f828" d="M8090 1676l31-25-36-2-31 24z"/>
<path fill="#20f830" d="M8060 1702l30-26-36-3-30 25z"/>
<path fill="#18f030" d="M8029 1727l31-25-36-4-31 24z"/>
<path fill="#10f030" d="M7998 1753l31-26-36-5-31 25zM7967 1779l31-26-36-6-31 25z"/>
<path fill="#08f038" d="M7935 1805l32-26-36-7-31 25zM7904 1832l31-27-35-8-32 26z"/>
<path fill="#08f040" d="M7872 1858l32-26-36-9-31 25z"/>
<path fill="#00f040" d="M7840 1885l32-27-35-10-32 26zM7808 1911l32-26-35-11-32 26z"/>
<path fill="#00f048" d="M7776 1938l32-27-35-11-33 26z"/>
<path fill="#00f050" d="M7743 1965l33-27-36-12-32 26z"/>
<path fill="#00f060" d="M7711 1993l32-28-35-13-33 26z"/>
<path fill="#00f070" d="M7678 2020l33-27-36-15-33 26z"/>
<path fill="#00f078" d="M7645 2048l33-28-36-16-33 27z"/>
<path fill="#00f088" d="M7612 2076l33-28-36-17-33 27z"/>
<path fill="#00f098" d="M7578 2104l34-28-36-18-33 27z"/>
<path fill="#00f0b0" d="M7544 2132l34-28-35-19-34 27z"/>
<path fill="#00f0c0" d="M7510 2160l34-28-35-20-34 27z"/>
<path fill="#00f8d0" d="M7476 2188l34-28-35-21-34 28z"/>
<path fill="#00f8e0" d="M7442 2217l34-29-35-21-34 27z"/>
<path fill="#00f8e8" d="M7407 2246l35-29-35-23-35 28zM7373 2275l34-29-35-24-35 28z"/>
<path fill="#00f8f0" d="M7338 2304l35-29-36-25-35 28z"/>
<path fill="#00f8f8" d="M7302 2333l36-29-36-26-35 28z"/>
<path fill="#00f0f8" d="M7267 2363l35-30-35-27-35 29zM7231 2393l36-30-35-28-36 29zM7195 2423l36-30-35-29-36 28zM7159 2453l36-30-35-31-36 30z"/>
<path fill="#00e8f8" d="M7123 2483l36-30-35-31-36 29z"/>
<path fill="#00e8ff" d="M7086 2514l37-31-35-32-37 29zM7049 2544l37-30-35-34-37 30z"/>
<path fill="#00d8f8" d="M7012 2575l37-31-35-34-37 30z"/>
<path fill="#50f820" d="M8217 1601l30-26-36 1-30 24z"/>
<path fill="#48f828" d="M8187 1627l30-26-36-1-30 26z"/>
<path fill="#40f828" d="M8157 1653l30-26-36-1-30 25z"/>
<path fill="#30f828" d="M8126 1679l31-26-36-2-31 25z"/>
<path fill="#20f830" d="M8096 1706l30-27-36-3-30 26z"/>
<path fill="#18f030" d="M8065 1732l31-26-36-4-31 25z"/>
<path fill="#10f030" d="M8034 1759l31-27-36-5-31 26zM8003 1786l31-27-36-6-31 26z"/>
<path fill="#08f038" d="M7971 1813l32-27-36-7-32 26zM7940 1841l31-28-36-8-31 27z"/>
<path fill="#08f040" d="M7908 1868l32-27-36-9-32 26z"/>
<path fill="#00f040" d="M7876 1896l32-28-36-10-32 27zM7844 1923l32-27-36-11-32 26z"/>
<path fill="#00f048" d="M7812 1951l32-28-36-12-32 27z"/>
<path fill="#00f050" d="M7779 1979l33-28-36-13-33 27z"/>
<path fill="#00f060" d="M7746 2008l33-29-36-14-32 28z"/>
<path fill="#00f070" d="M7714 2036l32-28-35-15-33 27z"/>
<path fill="#00f080" d="M7680 2065l34-29-36-16-33 28z"/>
<path fill="#00f090" d="M7647 2093l33-28-35-17-33 28z"/>
<path fill="#00f0a0" d="M7614 2122l33-29-35-17-34 28z"/>
<path fill="#00f0b8" d="M7580 2152l34-30-36-18-34 28z"/>
<path fill="#00f8c8" d="M7546 2181l34-29-36-20-34 28z"/>
<path fill="#00f8e0" d="M7512 2210l34-29-36-21-34 28zM7478 2240l34-30-36-22-34 29z"/>
<path fill="#00f8e8" d="M7443 2270l35-30-36-23-35 29z"/>
<path fill="#00f8f0" d="M7408 2300l35-30-36-24-34 29z"/>
<path fill="#00f8f8" d="M7373 2330l35-30-35-25-35 29z"/>
<path fill="#00f0f8" d="M7338 2361l35-31-35-26-36 29zM7303 2391l35-30-36-28-35 30zM7267 2422l36-31-36-28-36 30zM7231 2453l36-31-36-29-36 30z"/>
<path fill="#00e8f8" d="M7195 2484l36-31-36-30-36 30z"/>
<path fill="#00e8ff" d="M7159 2516l36-32-36-31-36 30z"/>
<path fill="#00e0ff" d="M7122 2547l37-31-36-33-37 31z"/>
<path fill="#00d8f8" d="M7085 2579l37-32-36-33-37 30z"/>
<path fill="#00c8f8" d="M7048 2611l37-32-36-35-37 31z"/>
<path fill="#58f820" d="M8254 1601l30-27-37 1-30 26z"/>
<path fill="#50f820" d="M8223 1628l31-27-37 0-30 26z"/>
<path fill="#40f828" d="M8193 1655l30-27-36-1-30 26z"/>
<path fill="#38f828" d="M8163 1682l30-27-36-2-31 26z"/>
<path fill="#28f828" d="M8132 1710l31-28-37-3-30 27z"/>
<path fill="#20f030" d="M8101 1737l31-27-36-4-31 26z"/>
<path fill="#10f030" d="M8070 1765l31-28-36-5-31 27zM8039 1793l31-28-36-6-31 27z"/>
<path fill="#08f038" d="M8008 1821l31-28-36-7-32 27zM7976 1849l32-28-37-8-31 28z"/>
<path fill="#08f040" d="M7944 1878l32-29-36-8-32 27zM7912 1906l32-28-36-10-32 28z"/>
<path fill="#00f040" d="M7880 1935l32-29-36-10-32 27z"/>
<path fill="#00f048" d="M7848 1964l32-29-36-12-32 28z"/>
<path fill="#00f050" d="M7815 1993l33-29-36-13-33 28z"/>
<path fill="#00f060" d="M7782 2023l33-30-36-14-33 29z"/>
<path fill="#00f070" d="M7750 2052l32-29-36-15-32 28z"/>
<path fill="#00f080" d="M7716 2082l34-30-36-16-34 29z"/>
<path fill="#00f098" d="M7683 2111l33-29-36-17-33 28z"/>
<path fill="#00f0a8" d="M7650 2141l33-30-36-18-33 29z"/>
<path fill="#00f0c0" d="M7616 2172l34-31-36-19-34 30z"/>
<path fill="#00f8d0" d="M7582 2202l34-30-36-20-34 29z"/>
<path fill="#00f8e0" d="M7548 2232l34-30-36-21-34 29z"/>
<path fill="#00f8e8" d="M7513 2263l35-31-36-22-34 30z"/>
<path fill="#00f8f0" d="M7479 2294l34-31-35-23-35 30z"/>
<path fill="#00f8f8" d="M7444 2325l35-31-36-24-35 30z"/>
<path fill="#00f0f8" d="M7409 2357l35-32-36-25-35 30zM7374 2388l35-31-36-27-35 31zM7338 2420l36-32-36-27-35 30zM7303 2452l35-32-35-29-36 31z"/>
<path fill="#00e8f8" d="M7267 2484l36-32-36-30-36 31z"/>
<path fill="#00e8ff" d="M7231 2516l36-32-36-31-36 31z"/>
<path fill="#00e0ff" d="M7194 2549l37-33-36-32-36 32z"/>
<path fill="#00d0f8" d="M7158 2581l36-32-35-33-37 31z"/>
<path fill="#08c8f8" d="M7121 2614l37-33-36-34-37 32z"/>
<path fill="#08b8f8" d="M7084 2647l37-33-36-35-37 32z"/>
<path fill="#60f820" d="M8290 1601l30-27-36 0-30 27z"/>
<path fill="#58f820" d="M8260 1629l30-28-36 0-31 27z"/>
<path fill="#48f828" d="M8230 1657l30-28-37-1-30 27z"/>
<path fill="#38f828" d="M8199 1686l31-29-37-2-30 27z"/>
<path fill="#30f828" d="M8169 1714l30-28-36-4-31 28z"/>
<path fill="#20f830" d="M8138 1743l31-29-37-4-31 27z"/>
<path fill="#10f030" d="M8107 1771l31-28-37-6-31 28zM8075 1800l32-29-37-6-31 28z"/>
<path fill="#08f038" d="M8044 1829l31-29-36-7-31 28zM8012 1859l32-30-36-8-32 28z"/>
<path fill="#08f040" d="M7981 1888l31-29-36-10-32 29zM7949 1917l32-29-37-10-32 28z"/>
<path fill="#00f040" d="M7916 1947l33-30-37-11-32 29z"/>
<path fill="#00f048" d="M7884 1977l32-30-36-12-32 29z"/>
<path fill="#00f058" d="M7851 2007l33-30-36-13-33 29z"/>
<path fill="#00f068" d="M7819 2038l32-31-36-14-33 30z"/>
<path fill="#00f078" d="M7786 2068l33-30-37-15-32 29z"/>
<path fill="#00f088" d="M7753 2099l33-31-36-16-34 30z"/>
<path fill="#00f0a0" d="M7719 2130l34-31-37-17-33 29z"/>
<path fill="#00f0b0" d="M7686 2161l33-31-36-19-33 30z"/>
<path fill="#00f0c8" d="M7652 2192l34-31-36-20-34 31z"/>
<path fill="#00f8e0" d="M7618 2223l34-31-36-20-34 30zM7584 2255l34-32-36-21-34 30z"/>
<path fill="#00f8e8" d="M7549 2287l35-32-36-23-35 31z"/>
<path fill="#00f8f0" d="M7515 2318l34-31-36-24-34 31z"/>
<path fill="#00f8f8" d="M7480 2351l35-33-36-24-35 31z"/>
<path fill="#00f0f8" d="M7445 2383l35-32-36-26-35 32zM7410 2416l35-33-36-26-35 31zM7374 2448l36-32-36-28-36 32zM7339 2481l35-33-36-28-35 32z"/>
<path fill="#00e8ff" d="M7303 2515l36-34-36-29-36 32z"/>
<path fill="#00e0ff" d="M7267 2548l36-33-36-31-36 32z"/>
<path fill="#00d0f8" d="M7230 2582l37-34-36-32-37 33z"/>
<path fill="#08c8f8" d="M7194 2615l36-33-36-33-36 32z"/>
<path fill="#08b8f8" d="M7157 2649l37-34-36-34-37 33z"/>
<path fill="#08a0f8" d="M7120 2684l37-35-36-35-37 33z"/>
<path fill="#68f820" d="M8327 1602l30-29-37 1-30 27z"/>
<path fill="#58f820" d="M8297 1631l30-29-37-1-30 28z"/>
<path fill="#50f820" d="M8267 1660l30-29-37-2-30 28z"/>
<path fill="#40f828" d="M8236 1689l31-29-37-3-31 29z"/>
<path fill="#30f828" d="M8205 1718l31-29-37-3-30 28z"/>
<path fill="#28f830" d="M8175 1748l30-30-36-4-31 29z"/>
<path fill="#18f030" d="M8143 1777l32-29-37-5-31 28z"/>
<path fill="#10f030" d="M8112 1807l31-30-36-6-32 29z"/>
<path fill="#10f038" d="M8081 1837l31-30-37-7-31 29z"/>
<path fill="#08f038" d="M8049 1868l32-31-37-8-32 30z"/>
<path fill="#08f040" d="M8017 1898l32-30-37-9-31 29zM7985 1929l32-31-36-10-32 29z"/>
<path fill="#00f040" d="M7953 1959l32-30-36-12-33 30z"/>
<path fill="#00f048" d="M7921 1990l32-31-37-12-32 30z"/>
<path fill="#00f058" d="M7888 2021l33-31-37-13-33 30z"/>
<path fill="#00f068" d="M7855 2053l33-32-37-14-32 31z"/>
<path fill="#00f078" d="M7822 2084l33-31-36-15-33 30z"/>
<path fill="#00f090" d="M7789 2116l33-32-36-16-33 31z"/>
<path fill="#00f0a0" d="M7756 2148l33-32-36-17-34 31z"/>
<path fill="#00f0b8" d="M7722 2180l34-32-37-18-33 31z"/>
<path fill="#00f8d0" d="M7688 2212l34-32-36-19-34 31z"/>
<path fill="#00f8e0" d="M7654 2244l34-32-36-20-34 31z"/>
<path fill="#00f8e8" d="M7620 2277l34-33-36-21-34 32z"/>
<path fill="#00f8f0" d="M7586 2310l34-33-36-22-35 32z"/>
<path fill="#00f8f8" d="M7551 2343l35-33-37-23-34 31z"/>
<path fill="#00f0f8" d="M7516 2376l35-33-36-25-35 33zM7481 2410l35-34-36-25-35 32zM7446 2443l35-33-36-27-35 33zM7411 2477l35-34-36-27-36 32z"/>
<path fill="#00e8f8" d="M7375 2511l36-34-37-29-35 33z"/>
<path fill="#00e8ff" d="M7339 2546l36-35-36-30-36 34z"/>
<path fill="#00d8f8" d="M7303 2580l36-34-36-31-36 33z"/>
<path fill="#08c8f8" d="M7267 2615l36-35-36-32-37 34z"/>
<path fill="#08b8f8" d="M7230 2650l37-35-37-33-36 33z"/>
<path fill="#08a0f8" d="M7193 2685l37-35-36-35-37 34z"/>
<path fill="#1090f0" d="M7156 2720l37-35-36-36-37 35z"/>
<path fill="#70f820" d="M8365 1602l30-30-38 1-30 29z"/>
<path fill="#60f820" d="M8334 1632l31-30-38 0-30 29z"/>
<path fill="#50f820" d="M8304 1662l30-30-37-1-30 29z"/>
<path fill="#48f828" d="M8273 1692l31-30-37-2-31 29z"/>
<path fill="#38f828" d="M8243 1722l30-30-37-3-31 29z"/>
<path fill="#28f828" d="M8212 1753l31-31-38-4-30 30z"/>
<path fill="#18f030" d="M8180 1784l32-31-37-5-32 29z"/>
<path fill="#10f030" d="M8149 1815l31-31-37-7-31 30zM8118 1846l31-31-37-8-31 30z"/>
<path fill="#08f038" d="M8086 1877l32-31-37-9-32 31zM8054 1908l32-31-37-9-32 30z"/>
<path fill="#08f040" d="M8022 1940l32-32-37-10-32 31z"/>
<path fill="#00f040" d="M7990 1972l32-32-37-11-32 30z"/>
<path fill="#00f048" d="M7957 2003l33-31-37-13-32 31z"/>
<path fill="#00f058" d="M7925 2036l32-33-36-13-33 31z"/>
<path fill="#00f070" d="M7892 2068l33-32-37-15-33 32z"/>
<path fill="#00f080" d="M7859 2100l33-32-37-15-33 31z"/>
<path fill="#00f090" d="M7826 2133l33-33-37-16-33 32z"/>
<path fill="#00f0a8" d="M7792 2166l34-33-37-17-33 32z"/>
<path fill="#00f0c0" d="M7759 2199l33-33-36-18-34 32z"/>
<path fill="#00f8d8" d="M7725 2233l34-34-37-19-34 32z"/>
<path fill="#00f8e0" d="M7691 2266l34-33-37-21-34 32z"/>
<path fill="#00f8e8" d="M7657 2300l34-34-37-22-34 33z"/>
<path fill="#00f8f0" d="M7622 2334l35-34-37-23-34 33z"/>
<path fill="#00f0f8" d="M7588 2368l34-34-36-24-35 33zM7553 2402l35-34-37-25-35 33zM7518 2437l35-35-37-26-35 34zM7483 2471l35-34-37-27-35 33z"/>
<path fill="#00e8f8" d="M7447 2506l36-35-37-28-35 34z"/>
<path fill="#00e8ff" d="M7412 2541l35-35-36-29-36 34z"/>
<path fill="#00d8f8" d="M7376 2577l36-36-37-30-36 35z"/>
<path fill="#00c8f8" d="M7340 2612l36-35-37-31-36 34z"/>
<path fill="#08b8f8" d="M7303 2648l37-36-37-32-36 35z"/>
<path fill="#08a0f8" d="M7267 2684l36-36-36-33-37 35z"/>
<path fill="#1090f0" d="M7230 2720l37-36-37-34-37 35z"/>
<path fill="#1080f0" d="M7193 2757l37-37-37-35-37 35z"/>
<path fill="#78f820" d="M8402 1602l30-30-37 0-30 30z"/>
<path fill="#68f820" d="M8372 1633l30-31-37 0-31 30z"/>
<path fill="#58f820" d="M8342 1664l30-31-38-1-30 30z"/>
<path fill="#48f828" d="M8311 1695l31-31-38-2-31 30z"/>
<path fill="#40f828" d="M8280 1727l31-32-38-3-30 30z"/>
<path fill="#30f828" d="M8249 1758l31-31-37-5-31 31z"/>
<path fill="#20f830" d="M8218 1790l31-32-37-5-32 31z"/>
<path fill="#10f030" d="M8186 1822l32-32-38-6-31 31zM8155 1854l31-32-37-7-31 31z"/>
<path fill="#08f038" d="M8123 1886l32-32-37-8-32 31zM8091 1918l32-32-37-9-32 31z"/>
<path fill="#08f040" d="M8059 1951l32-33-37-10-32 32z"/>
<path fill="#00f040" d="M8027 1984l32-33-37-11-32 32z"/>
<path fill="#00f048" d="M7994 2017l33-33-37-12-33 31z"/>
<path fill="#00f058" d="M7962 2050l32-33-37-14-32 33z"/>
<path fill="#00f070" d="M7929 2083l33-33-37-14-33 32z"/>
<path fill="#00f080" d="M7896 2117l33-34-37-15-33 32z"/>
<path fill="#00f098" d="M7863 2151l33-34-37-17-33 33z"/>
<path fill="#00f0b0" d="M7829 2185l34-34-37-18-34 33z"/>
<path fill="#00f0c8" d="M7796 2219l33-34-37-19-33 33z"/>
<path fill="#00f8e0" d="M7762 2253l34-34-37-20-34 34z"/>
<path fill="#00f8e8" d="M7728 2288l34-35-37-20-34 33z"/>
<path fill="#00f8f0" d="M7694 2322l34-34-37-22-34 34z"/>
<path fill="#00f8f8" d="M7659 2357l35-35-37-22-35 34z"/>
<path fill="#00f0f8" d="M7625 2393l34-36-37-23-34 34zM7590 2428l35-35-37-25-35 34zM7555 2464l35-36-37-26-35 35z"/>
<path fill="#00e8f8" d="M7519 2499l36-35-37-27-35 34z"/>
<path fill="#00e8ff" d="M7484 2535l35-36-36-28-36 35z"/>
<path fill="#00e0f8" d="M7448 2572l36-37-37-29-35 35z"/>
<path fill="#00c8f8" d="M7412 2608l36-36-36-31-36 36z"/>
<path fill="#08b8f8" d="M7376 2645l36-37-36-31-36 35z"/>
<path fill="#08a8f8" d="M7340 2682l36-37-36-33-37 36z"/>
<path fill="#1090f0" d="M7303 2719l37-37-37-34-36 36z"/>
<path fill="#1080f0" d="M7267 2756l36-37-36-35-37 36z"/>
<path fill="#1070e8" d="M7230 2794l37-38-37-36-37 37z"/>
<path fill="#80f818" d="M8440 1603l30-32-38 1-30 30z"/>
<path fill="#70f820" d="M8410 1635l30-32-38-1-30 31z"/>
<path fill="#60f820" d="M8379 1666l31-31-38-2-30 31z"/>
<path fill="#50f820" d="M8349 1699l30-33-37-2-31 31z"/>
<path fill="#40f828" d="M8318 1731l31-32-38-4-31 32z"/>
<path fill="#30f828" d="M8287 1763l31-32-38-4-31 31z"/>
<path fill="#20f830" d="M8255 1796l32-33-38-5-31 32z"/>
<path fill="#10f030" d="M8224 1829l31-33-37-6-32 32zM8192 1862l32-33-38-7-31 32z"/>
<path fill="#08f038" d="M8161 1895l31-33-37-8-32 32zM8129 1929l32-34-38-9-32 32z"/>
<path fill="#08f040" d="M8097 1962l32-33-38-11-32 33z"/>
<path fill="#00f040" d="M8064 1996l33-34-38-11-32 33z"/>
<path fill="#00f048" d="M8032 2030l32-34-37-12-33 33z"/>
<path fill="#00f060" d="M7999 2064l33-34-38-13-32 33z"/>
<path fill="#00f070" d="M7966 2099l33-35-37-14-33 33z"/>
<path fill="#00f088" d="M7933 2133l33-34-37-16-33 34z"/>
<path fill="#00f0a0" d="M7900 2168l33-35-37-16-33 34z"/>
<path fill="#00f0b8" d="M7867 2203l33-35-37-17-34 34z"/>
<path fill="#00f8d0" d="M7833 2238l34-35-38-18-33 34z"/>
<path fill="#00f8e0" d="M7799 2274l34-36-37-19-34 34z"/>
<path fill="#00f8e8" d="M7765 2309l34-35-37-21-34 35z"/>
<path fill="#00f8f0" d="M7731 2345l34-36-37-21-34 34z"/>
<path fill="#00f0f8" d="M7696 2381l35-36-37-23-35 35zM7662 2418l34-37-37-24-34 36zM7627 2454l35-36-37-25-35 35zM7592 2491l35-37-37-26-35 36z"/>
<path fill="#00e8f8" d="M7556 2528l36-37-37-27-36 35z"/>
<path fill="#00e0ff" d="M7521 2565l35-37-37-29-35 36z"/>
<path fill="#00d0f8" d="M7485 2602l36-37-37-30-36 37z"/>
<path fill="#08c0f8" d="M7449 2640l36-38-37-30-36 36z"/>
<path fill="#08a8f8" d="M7413 2678l36-38-37-32-36 37z"/>
<path fill="#0898f0" d="M7377 2716l36-38-37-33-36 37z"/>
<path fill="#1080f0" d="M7340 2754l37-38-37-34-37 37z"/>
<path fill="#1070e8" d="M7304 2792l36-38-37-35-36 37z"/>
<path fill="#1068e8" d="M7267 2831l37-39-37-36-37 38z"/>
<path fill="#88f818" d="M8478 1603l31-33-39 1-30 32z"/>
<path fill="#78f820" d="M8448 1636l30-33-38 0-30 32z"/>
<path fill="#68f820" d="M8417 1669l31-33-38-1-31 31z"/>
<path fill="#58f820" d="M8387 1702l30-33-38-3-30 33z"/>
<path fill="#48f828" d="M8356 1735l31-33-38-3-31 32z"/>
<path fill="#38f828" d="M8325 1769l31-34-38-4-31 32z"/>
<path fill="#28f830" d="M8293 1802l32-33-38-6-32 33z"/>
<path fill="#18f030" d="M8262 1836l31-34-38-6-31 33z"/>
<path fill="#10f030" d="M8230 1870l32-34-38-7-32 33z"/>
<path fill="#08f038" d="M8199 1905l31-35-38-8-31 33zM8167 1939l32-34-38-10-32 34z"/>
<path fill="#08f040" d="M8134 1974l33-35-38-10-32 33z"/>
<path fill="#00f040" d="M8102 2009l32-35-37-12-33 34z"/>
<path fill="#00f048" d="M8069 2044l33-35-38-13-32 34z"/>
<path fill="#00f060" d="M8037 2079l32-35-37-14-33 34z"/>
<path fill="#00f070" d="M8004 2114l33-35-38-15-33 35z"/>
<path fill="#00f088" d="M7971 2150l33-36-38-15-33 34z"/>
<path fill="#00f0a0" d="M7937 2186l34-36-38-17-33 35z"/>
<path fill="#00f0c0" d="M7904 2222l33-36-37-18-33 35z"/>
<path fill="#00f8d8" d="M7870 2258l34-36-37-19-34 35z"/>
<path fill="#00f8e0" d="M7836 2295l34-37-37-20-34 36z"/>
<path fill="#00f8f0" d="M7802 2331l34-36-37-21-34 35z"/>
<path fill="#00f8f8" d="M7768 2368l34-37-37-22-34 36z"/>
<path fill="#00f0f8" d="M7734 2405l34-37-37-23-35 36zM7699 2443l35-38-38-24-34 37zM7664 2480l35-37-37-25-35 36z"/>
<path fill="#00e8f8" d="M7629 2518l35-38-37-26-35 37z"/>
<path fill="#00e8ff" d="M7594 2556l35-38-37-27-36 37z"/>
<path fill="#00d8f8" d="M7558 2594l36-38-38-28-35 37z"/>
<path fill="#08c0f8" d="M7523 2633l35-39-37-29-36 37z"/>
<path fill="#08b0f8" d="M7487 2672l36-39-38-31-36 38z"/>
<path fill="#0898f0" d="M7450 2711l37-39-38-32-36 38z"/>
<path fill="#1088f0" d="M7414 2750l36-39-37-33-36 38z"/>
<path fill="#1078f0" d="M7378 2789l36-39-37-34-37 38z"/>
<path fill="#1068e8" d="M7341 2829l37-40-38-35-36 38z"/>
<path fill="#1058e0" d="M7304 2869l37-40-37-37-37 39z"/>
</g>
<circle cx="729.5" cy="126" r="2.2" fill="#f00808" stroke="#7a1c24" stroke-width=".6"/>
<circle cx="848.8" cy="189" r="2.2" fill="#f7ccd2" stroke="#7a1c24" stroke-width=".6"/>
<circle cx="729.7" cy="295" r="2.2" fill="#f7ccd2" stroke="#7a1c24" stroke-width=".6"/>
<circle cx="610" cy="180.3" r="2.2" fill="#f7ccd2" stroke="#7a1c24" stroke-width=".6"/>
<text x="726.6" y="344.8" font-size="8.1" text-anchor="end" stroke="#111" style="stroke-width:.34px">12.00</text>
<text x="697.8" y="330.9" font-size="8.1" text-anchor="end" stroke="#111" style="stroke-width:.34px">14.00</text>
<text x="669" y="316.9" font-size="8.1" text-anchor="end" stroke="#111" style="stroke-width:.34px">16.00</text>
<text x="640.1" y="303" font-size="8.1" text-anchor="end" stroke="#111" style="stroke-width:.34px">18.00</text>
<text x="611.3" y="289.1" font-size="8.1" text-anchor="end" stroke="#111" style="stroke-width:.34px">20.00</text>
<text x="734.7" y="344.8" font-size="8.1" stroke="#111" style="stroke-width:.34px">1.00</text>
<text x="763.3" y="330.9" font-size="8.1" stroke="#111" style="stroke-width:.34px">3.25</text>
<text x="792" y="317" font-size="8.1" stroke="#111" style="stroke-width:.34px">5.50</text>
<text x="820.7" y="303.2" font-size="8.1" stroke="#111" style="stroke-width:.34px">7.75</text>
<text x="849.4" y="289.3" font-size="8.1" stroke="#111" style="stroke-width:.34px">10.00</text>
<text x="605.5" y="131.5" font-size="8.1" text-anchor="end" stroke="#111" style="stroke-width:.34px">-17.1</text>
<text x="605.5" y="162.3" font-size="8.1" text-anchor="end" stroke="#111" style="stroke-width:.34px">-18.575</text>
<text x="605.5" y="192.6" font-size="8.1" text-anchor="end" stroke="#111" style="stroke-width:.34px">-20.05</text>
<text x="605.5" y="223.1" font-size="8.1" text-anchor="end" stroke="#111" style="stroke-width:.34px">-21.525</text>
<text x="605.5" y="252.1" font-size="8.1" text-anchor="end" stroke="#111" style="stroke-width:.34px">-23</text>
<text x="590" y="336.6" font-size="12.4" stroke="#111">B: PEG-PLGA</text>
<text x="806.7" y="336.6" font-size="12.4" stroke="#111">A: EGCG</text>
<text x="575.3" y="206.3" font-size="12.2" text-anchor="middle" stroke="#111" transform="rotate(-90 575.3 206.3)">Zeta potential</text>
<text x="459.2" y="63.1" font-size="9" fill="#000" stroke="#000">Design-Expert?Software</text>
<text x="459.2" y="83" font-size="9" fill="#000" stroke="#000">Zeta potential</text>
<text x="459.2" y="136" font-size="9" fill="#000" stroke="#000">X1 = A: EGCG</text>
<text x="459.2" y="146.8" font-size="9" fill="#000" stroke="#000">X2 = B: PEG-PLGA</text>
<text x="459.2" y="167.3" font-size="9" fill="#000" stroke="#000">Actual Factor</text>
<text x="459.2" y="177.7" font-size="9" fill="#000" stroke="#000">C: Tween-80 = 2.25</text>
<rect x="461" y="86.6" width="6" height="29.4" fill="url(#lg)" stroke="#111" stroke-width=".8"/>
<text x="469.5" y="93.9" font-size="9" fill="#c8202c" stroke="#c8202c">-15.8</text>
<text x="469.5" y="114.8" font-size="9" fill="#2020c8" stroke="#2020c8">-23</text>
<text x="477.1" y="30" font-size="31.5" font-weight="bold" fill="#000" stroke="#000">B</text>
</g>
<g id="pC">
<polygon points="1178.7,336.9 1293.5,281.4 1178.3,238 1063.4,281.2" fill="#fdf800"/>
<polyline points="1220.8,253.9 1217.3,253.5 1215.3,253.3 1212.7,252.9 1209.3,252.4 1207.4,252.1 1203.8,251.6 1201.7,251.2 1198.8,250.6 1196.3,250.2 1193.2,249.5 1191.1,249.1 1187.8,248.3 1186.2,247.9 1183,247.1 1179.9,246.3 1178.1,245.7 1175.4,244.9 1172.6,244 1169.8,243.1 1167.1,242.2" fill="none" stroke="#08aef6" stroke-width=".8" stroke-opacity=".65"/>
<polyline points="1240.6,261.4 1237.6,261.3 1234.5,261.2 1231.7,261.1 1229.3,260.9 1226.9,260.8 1224.5,260.7 1221.8,260.5 1218.4,260.2 1215.3,260 1213.1,259.7 1210.9,259.5 1207.5,259.2 1204.5,258.8 1202.4,258.5 1199.4,258.1 1196.4,257.7 1194.5,257.3 1190.8,256.7 1188.9,256.3 1185.4,255.6 1183.6,255.2 1180.2,254.4 1177.4,253.7 1175.4,253.2 1172.3,252.3 1169.3,251.4 1166.5,250.5 1165,249.9 1162.3,249 1159.7,248 1157.1,246.9" fill="none" stroke="#00f0fa" stroke-width=".8" stroke-opacity=".65"/>
<polyline points="1255.4,267 1252.8,267.1 1250.3,267.1 1247.7,267.2 1244.9,267.3 1242,267.3 1239.1,267.4 1236.3,267.4 1233.5,267.4 1230.7,267.5 1227.9,267.4 1225.1,267.4 1222.4,267.4 1219.8,267.4 1217.1,267.3 1214.5,267.2 1211.4,267.1 1208.3,267 1205.1,266.8 1202.1,266.6 1199.7,266.4 1197.4,266.3 1194.9,266 1191.1,265.6 1188.6,265.3 1186.5,265.1 1182.8,264.5 1180.5,264.1 1178,263.7 1174.9,263 1172.3,262.5 1169.7,261.8 1166.5,260.9 1164,260.2 1161.9,259.5 1159,258.5 1156.3,257.5 1153.7,256.4 1151.2,255.3 1148.8,254.1 1147.6,253.5 1145.4,252.4 1143.2,251.2" fill="none" stroke="#00f5d2" stroke-width=".8" stroke-opacity=".65"/>
<polyline points="1090.7,294.4 1093.2,294.7 1095.5,295 1098.9,295.5 1102,295.9 1104.1,296.3 1108.2,297.1 1110.2,297.5 1113.7,298.3 1116,298.8 1119.7,299.8 1121.4,300.3 1124.9,301.4 1128.2,302.6 1131.4,303.8 1133,304.4 1136,305.8 1138.9,307.1 1141.8,308.6 1143.2,309.3 1145.9,310.8 1148.6,312.4 1151.2,314 1153.7,315.6 1155,316.5 1157.5,318.2 1159.9,320 1161.1,320.8 1163.6,322.6 1166,324.5 1167.1,325.4 1169.5,327.3 1170.9,328.4 1173,330.2 1175.2,332 1176.6,333.2 1178.9,335.2 1180.1,336.2" fill="none" stroke="#00f5d2" stroke-width=".8" stroke-opacity=".65"/>
<polyline points="1269.3,272.2 1267,272.4 1263.4,272.8 1260.2,273.1 1258,273.3 1255.7,273.5 1252.8,273.8 1249.3,274.1 1246.6,274.3 1244.4,274.5 1242.1,274.7 1238.6,275.1 1235.2,275.4 1232.9,275.6 1230.6,275.8 1227.8,276.1 1224.2,276.4 1221.5,276.7 1219.2,276.9 1216.9,277.1 1213.2,277.5 1210.1,277.8 1207.8,278 1205.6,278.3 1201.8,278.7 1198.8,279 1196.6,279.3 1193.9,279.6 1190.1,280.1 1188,280.4 1185.2,280.9 1181.8,281.5 1179.9,281.9 1176.2,282.8 1172.9,283.8 1170.2,285.1 1168.1,286.8 1167.4,287.7 1167,288.8 1166.8,290 1166.8,291.3 1167,292.7 1167.5,294.2 1168.2,295.8 1168.7,296.8 1169.2,297.9 1170,299.3 1171.1,301.1 1171.8,302.1 1172.5,303.1 1173.9,305.1 1174.7,306.2 1175.5,307.3 1177,309.3 1177.8,310.4 1178.6,311.4 1180.3,313.5 1181.1,314.6 1182.2,315.9 1183.7,317.7 1184.6,318.8 1186,320.6 1187.2,322 1188.1,323.1 1190,325.2 1190.9,326.3 1192.2,327.9 1193.7,329.6" fill="none" stroke="#00f04f" stroke-width=".8" stroke-opacity=".65"/>
<polyline points="1065.6,282.3 1068.2,282.1 1070.8,282 1073.3,281.8 1076.7,281.6 1080.2,281.4 1083.5,281.2 1086,281 1088.4,280.8 1090.9,280.6 1094.6,280.3 1098.1,280 1100.4,279.7 1102.7,279.5 1106.5,279 1109.4,278.6 1111.6,278.3 1115.6,277.5 1117.5,277.1 1121,276.1 1123.9,274.9 1125.5,273.8 1126.8,272.5 1127.4,271.5 1127.7,270.4 1127.9,269.3 1127.8,268 1127.5,266.7 1127.1,265.5 1126.8,264.6 1126.4,263.7 1125.9,262.5 1125.1,261.1 1124.6,260.2 1124.2,259.4" fill="none" stroke="#00f04f" stroke-width=".8" stroke-opacity=".65"/>
<polyline points="1281.9,277 1278.7,277.5 1275.9,277.9 1273.9,278.3 1270.1,278.9 1267.9,279.2 1265.6,279.6 1261.9,280.2 1260,280.6 1256.3,281.3 1254.1,281.7 1251.3,282.2 1248.4,282.8 1246.1,283.3 1242.8,284.1 1240.2,284.7 1237.4,285.4 1234,286.3 1232.3,286.8 1229,287.8 1225.8,288.9 1222.8,290.1 1219.9,291.4 1217.3,292.7 1214.9,294.2 1212.7,295.8 1211.8,296.6 1210,298.4 1209.3,299.4 1208.6,300.5 1207.6,302.4 1207.2,303.7 1206.8,304.9 1206.6,306.1 1206.5,307.4 1206.5,308.7 1206.5,310.1 1206.7,311.5 1206.9,313 1207.3,314.6 1207.7,316.1 1208.3,317.8 1208.8,319.3 1209.3,320.5 1209.9,321.8" fill="none" stroke="#0ef431" stroke-width=".8" stroke-opacity=".65"/>
<path d="M1178.3,238 L1178.2,96.5" stroke="#888" stroke-width="1" fill="none"/>
<path d="M1055.9,123.9 L1178.2,96.5" stroke="#888" stroke-width="1" fill="none"/>
<path d="M1178.2,96.5 L1300.7,124.2" stroke="#888" stroke-width="1" fill="none"/>
<path d="M1293.5,281.4 L1300.7,124.2" stroke="#888" stroke-width="1" fill="none"/>
<path d="M1063.4,281.2 L1055.9,123.9" stroke="#666" stroke-width="1" fill="none"/>
<path d="M1063.4,281.2 L1178.7,336.9" stroke="#8c8c98" stroke-width="0.7" fill="none"/>
<path d="M1178.7,336.9 L1293.5,281.4" stroke="#8c8c98" stroke-width="0.7" fill="none"/>
<circle cx="1178.7" cy="336.9" r="1" fill="#111"/>
<circle cx="1178.7" cy="336.9" r="1" fill="#111"/>
<circle cx="1149.9" cy="322.9" r="1" fill="#111"/>
<circle cx="1207.4" cy="323" r="1" fill="#111"/>
<circle cx="1121.1" cy="309" r="1" fill="#111"/>
<circle cx="1236.1" cy="309.1" r="1" fill="#111"/>
<circle cx="1092.2" cy="295.1" r="1" fill="#111"/>
<circle cx="1264.8" cy="295.2" r="1" fill="#111"/>
<circle cx="1063.4" cy="281.2" r="1" fill="#111"/>
<circle cx="1293.5" cy="281.4" r="1" fill="#111"/>
<circle cx="1055.9" cy="124.1" r=".9" fill="#111"/>
<circle cx="1057.4" cy="154.8" r=".9" fill="#111"/>
<circle cx="1058.8" cy="184.4" r=".9" fill="#111"/>
<circle cx="1060.2" cy="214" r=".9" fill="#111"/>
<circle cx="1061.6" cy="244.2" r=".9" fill="#111"/>
<g transform="scale(.1)" stroke="#000" stroke-width="4.5" stroke-opacity=".8" stroke-linejoin="round">
<path fill="#1850e0" d="M11783 1878l24 29-24-4-24-29z"/>
<path fill="#1060e0" d="M11759 1849l24 29-24-4-24-29z"/>
<path fill="#1070e8" d="M11735 1822l24 27-24-4-24-28z"/>
<path fill="#1088f0" d="M11710 1795l25 27-24-5-25-27z"/>
<path fill="#08a8f8" d="M11686 1770l24 25-24-5-24-26z"/>
<path fill="#08c0f8" d="M11661 1745l25 25-24-6-25-25z"/>
<path fill="#00d8f8" d="M11636 1721l25 24-24-6-25-25z"/>
<path fill="#00e8ff" d="M11611 1699l25 22-24-7-25-23z"/>
<path fill="#00f0f8" d="M11586 1677l25 22-24-8-25-22zM11560 1656l26 21-24-8-26-21zM11535 1637l25 19-24-8-25-20z"/>
<path fill="#00f8f8" d="M11509 1618l26 19-24-9-26-19z"/>
<path fill="#00f8e8" d="M11483 1601l26 17-24-9-26-18z"/>
<path fill="#00f8e0" d="M11457 1584l26 17-24-10-26-17z"/>
<path fill="#00f8d8" d="M11430 1569l27 15-24-10-27-16z"/>
<path fill="#00f0c0" d="M11404 1554l26 15-24-11-26-15z"/>
<path fill="#00f0a8" d="M11377 1541l27 13-24-11-27-14z"/>
<path fill="#00f090" d="M11350 1529l27 12-24-12-27-12z"/>
<path fill="#00f080" d="M11323 1518l27 11-24-12-27-12z"/>
<path fill="#00f070" d="M11296 1508l27 10-24-13-27-10z"/>
<path fill="#00f068" d="M11269 1500l27 8-24-13-27-9z"/>
<path fill="#00f058" d="M11241 1492l28 8-24-14-28-8z"/>
<path fill="#00f050" d="M11214 1486l27 6-24-14-28-7z"/>
<path fill="#00f048" d="M11186 1481l28 5-25-15-27-5z"/>
<path fill="#00f040" d="M11158 1477l28 4-24-15-28-5zM11130 1475l28 2-24-16-29-3zM11102 1473l28 2-25-17-28-2zM11073 1473l29 0-25-17-28 0z"/>
<path fill="#08f040" d="M11045 1474l28-1-24-17-29 0zM11016 1477l29-3-25-18-28 2zM10987 1481l29-4-24-19-29 3zM10958 1486l29-5-24-20-29 5zM10929 1492l29-6-24-20-29 6zM10900 1500l29-8-24-20-29 7zM10871 1509l29-9-24-21-30 8zM10841 1519l30-10-25-22-29 10zM10812 1531l29-12-24-22-30 11zM10782 1544l30-13-25-23-29 13zM10753 1558l29-14-24-23-30 13z"/>
<path fill="#00f040" d="M10723 1574l30-16-25-24-30 16zM10693 1591l30-17-25-24-30 16zM10663 1610l30-19-25-25-30 18zM10632 1630l31-20-25-26-30 20z"/>
<path fill="#00f048" d="M10602 1651l30-21-24-26-31 21z"/>
<path fill="#1850e0" d="M11807 1881l24 29-24-3-24-29z"/>
<path fill="#1060e8" d="M11783 1853l24 28-24-3-24-29z"/>
<path fill="#1070e8" d="M11759 1826l24 27-24-4-24-27z"/>
<path fill="#1090f0" d="M11734 1800l25 26-24-4-25-27z"/>
<path fill="#08a8f8" d="M11710 1775l24 25-24-5-24-25z"/>
<path fill="#08c0f8" d="M11685 1751l25 24-24-5-25-25z"/>
<path fill="#00d8f8" d="M11660 1728l25 23-24-6-25-24z"/>
<path fill="#00e8ff" d="M11635 1706l25 22-24-7-25-22z"/>
<path fill="#00f0f8" d="M11610 1684l25 22-24-7-25-22zM11585 1664l25 20-24-7-26-21zM11559 1645l26 19-25-8-25-19z"/>
<path fill="#00f8f8" d="M11533 1627l26 18-24-8-26-19z"/>
<path fill="#00f8f0" d="M11507 1610l26 17-24-9-26-17z"/>
<path fill="#00f8e0" d="M11481 1594l26 16-24-9-26-17z"/>
<path fill="#00f8d8" d="M11455 1579l26 15-24-10-27-15z"/>
<path fill="#00f0c0" d="M11428 1565l27 14-25-10-26-15z"/>
<path fill="#00f0b0" d="M11402 1552l26 13-24-11-27-13z"/>
<path fill="#00f098" d="M11375 1541l27 11-25-11-27-12z"/>
<path fill="#00f088" d="M11348 1531l27 10-25-12-27-11z"/>
<path fill="#00f078" d="M11321 1521l27 10-25-13-27-10z"/>
<path fill="#00f070" d="M11293 1513l28 8-25-13-27-8z"/>
<path fill="#00f060" d="M11266 1506l27 7-24-13-28-8z"/>
<path fill="#00f058" d="M11238 1501l28 5-25-14-27-6z"/>
<path fill="#00f048" d="M11211 1496l27 5-24-15-28-5zM11183 1493l28 3-25-15-28-4z"/>
<path fill="#00f040" d="M11155 1491l28 2-25-16-28-2zM11126 1490l29 1-25-16-28-2zM11098 1490l28 0-24-17-29 0zM11070 1492l28-2-25-17-28 1z"/>
<path fill="#08f040" d="M11041 1495l29-3-25-18-29 3zM11012 1499l29-4-25-18-29 4zM10983 1505l29-6-25-18-29 5zM10954 1512l29-7-25-19-29 6zM10925 1520l29-8-25-20-29 8zM10896 1530l29-10-25-20-29 9zM10866 1541l30-11-25-21-30 10zM10837 1553l29-12-25-22-29 12z"/>
<path fill="#00f040" d="M10807 1566l30-13-25-22-30 13zM10777 1581l30-15-25-22-29 14zM10748 1598l29-17-24-23-30 16zM10718 1616l30-18-25-24-30 17z"/>
<path fill="#00f048" d="M10688 1635l30-19-25-25-30 19zM10657 1655l31-20-25-25-31 20z"/>
<path fill="#00f050" d="M10627 1677l30-22-25-25-30 21z"/>
<path fill="#1850e0" d="M11831 1884l24 29-24-3-24-29z"/>
<path fill="#1060e8" d="M11807 1857l24 27-24-3-24-28z"/>
<path fill="#1078f0" d="M11783 1830l24 27-24-4-24-27z"/>
<path fill="#1090f0" d="M11759 1805l24 25-24-4-25-26z"/>
<path fill="#08a8f8" d="M11734 1780l25 25-25-5-24-25z"/>
<path fill="#08c8f8" d="M11709 1756l25 24-24-5-25-24z"/>
<path fill="#00e0f8" d="M11685 1733l24 23-24-5-25-23z"/>
<path fill="#00e8f8" d="M11660 1712l25 21-25-5-25-22z"/>
<path fill="#00f0f8" d="M11634 1691l26 21-25-6-25-22zM11609 1671l25 20-24-7-25-20zM11583 1653l26 18-24-7-26-19z"/>
<path fill="#00f8f8" d="M11558 1635l25 18-24-8-26-18z"/>
<path fill="#00f8f0" d="M11532 1618l26 17-25-8-26-17z"/>
<path fill="#00f8e0" d="M11506 1603l26 15-25-8-26-16z"/>
<path fill="#00f8d8" d="M11479 1589l27 14-25-9-26-15z"/>
<path fill="#00f0c8" d="M11453 1575l26 14-24-10-27-14z"/>
<path fill="#00f0b0" d="M11426 1563l27 12-25-10-26-13z"/>
<path fill="#00f0a0" d="M11399 1552l27 11-24-11-27-11z"/>
<path fill="#00f088" d="M11372 1542l27 10-24-11-27-10z"/>
<path fill="#00f080" d="M11345 1533l27 9-24-11-27-10z"/>
<path fill="#00f070" d="M11318 1526l27 7-24-12-28-8z"/>
<path fill="#00f068" d="M11291 1520l27 6-25-13-27-7z"/>
<path fill="#00f058" d="M11263 1514l28 6-25-14-28-5z"/>
<path fill="#00f050" d="M11235 1510l28 4-25-13-27-5z"/>
<path fill="#00f048" d="M11207 1508l28 2-24-14-28-3zM11179 1506l28 2-24-15-28-2z"/>
<path fill="#00f040" d="M11151 1506l28 0-24-15-29-1zM11123 1507l28-1-25-16-28 0zM11094 1509l29-2-25-17-28 2zM11066 1513l28-4-24-17-29 3zM11037 1518l29-5-25-18-29 4zM11008 1524l29-6-25-19-29 6zM10979 1531l29-7-25-19-29 7zM10950 1540l29-9-25-19-29 8zM10921 1550l29-10-25-20-29 10zM10891 1562l30-12-25-20-30 11zM10862 1574l29-12-25-21-29 12zM10832 1589l30-15-25-21-30 13zM10802 1604l30-15-25-23-30 15zM10772 1621l30-17-25-23-29 17z"/>
<path fill="#00f048" d="M10743 1639l29-18-24-23-30 18zM10713 1659l30-20-25-23-30 19z"/>
<path fill="#00f050" d="M10682 1680l31-21-25-24-31 20z"/>
<path fill="#00f060" d="M10652 1703l30-23-25-25-30 22z"/>
<path fill="#1850e0" d="M11855 1886l24 28-24-1-24-29z"/>
<path fill="#1068e8" d="M11831 1859l24 27-24-2-24-27z"/>
<path fill="#1078f0" d="M11807 1833l24 26-24-2-24-27z"/>
<path fill="#1090f0" d="M11783 1808l24 25-24-3-24-25z"/>
<path fill="#08b0f8" d="M11758 1784l25 24-24-3-25-25z"/>
<path fill="#00c8f8" d="M11734 1761l24 23-24-4-25-24z"/>
<path fill="#00e0f8" d="M11709 1738l25 23-25-5-24-23z"/>
<path fill="#00e8f8" d="M11684 1717l25 21-24-5-25-21z"/>
<path fill="#00f0f8" d="M11659 1697l25 20-24-5-26-21zM11633 1678l26 19-25-6-25-20zM11608 1660l25 18-24-7-26-18z"/>
<path fill="#00f8f8" d="M11582 1642l26 18-25-7-25-18z"/>
<path fill="#00f8f0" d="M11556 1626l26 16-24-7-26-17z"/>
<path fill="#00f8e0" d="M11530 1611l26 15-24-8-26-15zM11504 1598l26 13-24-8-27-14z"/>
<path fill="#00f0c8" d="M11477 1585l27 13-25-9-26-14z"/>
<path fill="#00f0b0" d="M11451 1573l26 12-24-10-27-12z"/>
<path fill="#00f0a0" d="M11424 1563l27 10-25-10-27-11z"/>
<path fill="#00f090" d="M11397 1553l27 10-25-11-27-10z"/>
<path fill="#00f080" d="M11370 1545l27 8-25-11-27-9z"/>
<path fill="#00f070" d="M11343 1538l27 7-25-12-27-7z"/>
<path fill="#00f068" d="M11315 1532l28 6-25-12-27-6z"/>
<path fill="#00f060" d="M11288 1528l27 4-24-12-28-6z"/>
<path fill="#00f058" d="M11260 1524l28 4-25-14-28-4z"/>
<path fill="#00f050" d="M11232 1522l28 2-25-14-28-2z"/>
<path fill="#00f048" d="M11204 1521l28 1-25-14-28-2zM11176 1521l28 0-25-15-28 0z"/>
<path fill="#00f040" d="M11148 1523l28-2-25-15-28 1zM11119 1526l29-3-25-16-29 2zM11091 1530l28-4-25-17-28 4zM11062 1535l29-5-25-17-29 5zM11033 1542l29-7-25-17-29 6zM11004 1550l29-8-25-18-29 7zM10975 1559l29-9-25-19-29 9zM10946 1570l29-11-25-19-29 10zM10916 1582l30-12-25-20-30 12zM10887 1595l29-13-25-20-29 12zM10857 1610l30-15-25-21-30 15z"/>
<path fill="#00f048" d="M10827 1626l30-16-25-21-30 15zM10798 1644l29-18-25-22-30 17z"/>
<path fill="#00f050" d="M10768 1663l30-19-26-23-29 18z"/>
<path fill="#00f058" d="M10738 1683l30-20-25-24-30 20z"/>
<path fill="#00f060" d="M10707 1705l31-22-25-24-31 21z"/>
<path fill="#00f068" d="M10677 1728l30-23-25-25-30 23z"/>
<path fill="#1858e0" d="M11880 1888l23 27-24-1-24-28z"/>
<path fill="#1068e8" d="M11856 1861l24 27-25-2-24-27z"/>
<path fill="#1078f0" d="M11832 1836l24 25-25-2-24-26z"/>
<path fill="#0898f0" d="M11807 1811l25 25-25-3-24-25z"/>
<path fill="#08b0f8" d="M11783 1787l24 24-24-3-25-24z"/>
<path fill="#00c8f8" d="M11758 1764l25 23-25-3-24-23z"/>
<path fill="#00e0ff" d="M11734 1743l24 21-24-3-25-23z"/>
<path fill="#00e8f8" d="M11709 1722l25 21-25-5-25-21z"/>
<path fill="#00f0f8" d="M11683 1702l26 20-25-5-25-20zM11658 1684l25 18-24-5-26-19zM11633 1666l25 18-25-6-25-18z"/>
<path fill="#00f8f8" d="M11607 1649l26 17-25-6-26-18z"/>
<path fill="#00f8f0" d="M11581 1634l26 15-25-7-26-16z"/>
<path fill="#00f8e0" d="M11555 1619l26 15-25-8-26-15zM11529 1606l26 13-25-8-26-13z"/>
<path fill="#00f8c8" d="M11502 1594l27 12-25-8-27-13z"/>
<path fill="#00f0b8" d="M11476 1583l26 11-25-9-26-12z"/>
<path fill="#00f0a0" d="M11449 1573l27 10-25-10-27-10z"/>
<path fill="#00f090" d="M11422 1564l27 9-25-10-27-10z"/>
<path fill="#00f080" d="M11395 1556l27 8-25-11-27-8z"/>
<path fill="#00f078" d="M11368 1550l27 6-25-11-27-7z"/>
<path fill="#00f070" d="M11340 1544l28 6-25-12-28-6z"/>
<path fill="#00f060" d="M11313 1540l27 4-25-12-27-4z"/>
<path fill="#00f058" d="M11285 1537l28 3-25-12-28-4z"/>
<path fill="#00f050" d="M11257 1536l28 1-25-13-28-2z"/>
<path fill="#00f048" d="M11229 1535l28 1-25-14-28-1zM11201 1536l28-1-25-14-28 0zM11173 1538l28-2-25-15-28 2z"/>
<path fill="#00f040" d="M11144 1542l29-4-25-15-29 3zM11116 1546l28-4-25-16-28 4zM11087 1552l29-6-25-16-29 5zM11058 1560l29-8-25-17-29 7zM11029 1568l29-8-25-18-29 8zM11000 1578l29-10-25-18-29 9zM10971 1589l29-11-25-19-29 11zM10941 1602l30-13-25-19-30 12z"/>
<path fill="#00f048" d="M10912 1616l29-14-25-20-29 13zM10882 1631l30-15-25-21-30 15zM10853 1648l29-17-25-21-30 16z"/>
<path fill="#00f050" d="M10823 1666l30-18-26-22-29 18z"/>
<path fill="#00f058" d="M10793 1685l30-19-25-22-30 19z"/>
<path fill="#00f060" d="M10763 1706l30-21-25-22-30 20z"/>
<path fill="#00f070" d="M10733 1729l30-23-25-23-31 22z"/>
<path fill="#00f078" d="M10702 1752l31-23-26-24-30 23z"/>
<path fill="#1858e0" d="M11904 1889l24 27-25-1-23-27z"/>
<path fill="#1070e8" d="M11880 1862l24 27-24-1-24-27z"/>
<path fill="#1080f0" d="M11856 1837l24 25-24-1-24-25z"/>
<path fill="#0898f0" d="M11832 1813l24 24-24-1-25-25z"/>
<path fill="#08b8f8" d="M11808 1790l24 23-25-2-24-24z"/>
<path fill="#00d0f8" d="M11783 1768l25 22-25-3-25-23z"/>
<path fill="#00e0ff" d="M11758 1746l25 22-25-4-24-21z"/>
<path fill="#00e8f8" d="M11733 1726l25 20-24-3-25-21z"/>
<path fill="#00f0f8" d="M11708 1707l25 19-24-4-26-20zM11683 1689l25 18-25-5-25-18zM11657 1671l26 18-25-5-25-18z"/>
<path fill="#00f8f8" d="M11632 1655l25 16-24-5-26-17z"/>
<path fill="#00f8f0" d="M11606 1640l26 15-25-6-26-15z"/>
<path fill="#00f8e0" d="M11580 1626l26 14-25-6-26-15zM11553 1614l27 12-25-7-26-13z"/>
<path fill="#00f8c8" d="M11527 1602l26 12-24-8-27-12z"/>
<path fill="#00f0b8" d="M11501 1591l26 11-25-8-26-11z"/>
<path fill="#00f0a0" d="M11474 1582l27 9-25-8-27-10z"/>
<path fill="#00f090" d="M11447 1574l27 8-25-9-27-9z"/>
<path fill="#00f088" d="M11420 1566l27 8-25-10-27-8z"/>
<path fill="#00f078" d="M11393 1560l27 6-25-10-27-6z"/>
<path fill="#00f070" d="M11365 1556l28 4-25-10-28-6z"/>
<path fill="#00f068" d="M11338 1552l27 4-25-12-27-4z"/>
<path fill="#00f060" d="M11310 1550l28 2-25-12-28-3z"/>
<path fill="#00f058" d="M11282 1549l28 1-25-13-28-1z"/>
<path fill="#00f050" d="M11254 1549l28 0-25-13-28-1z"/>
<path fill="#00f048" d="M11226 1550l28-1-25-14-28 1zM11198 1553l28-3-25-14-28 2zM11169 1557l29-4-25-15-29 4zM11141 1562l28-5-25-15-28 4zM11112 1569l29-7-25-16-29 6z"/>
<path fill="#00f040" d="M11083 1576l29-7-25-17-29 8zM11054 1586l29-10-25-16-29 8z"/>
<path fill="#00f048" d="M11025 1596l29-10-25-18-29 10zM10996 1608l29-12-25-18-29 11zM10966 1621l30-13-25-19-30 13zM10937 1636l29-15-25-19-29 14z"/>
<path fill="#00f050" d="M10907 1652l30-16-25-20-30 15z"/>
<path fill="#00f058" d="M10878 1669l29-17-25-21-29 17z"/>
<path fill="#00f060" d="M10848 1688l30-19-25-21-30 18zM10818 1708l30-20-25-22-30 19z"/>
<path fill="#00f070" d="M10788 1729l30-21-25-23-30 21z"/>
<path fill="#00f078" d="M10758 1752l30-23-25-23-30 23z"/>
<path fill="#00f080" d="M10728 1776l30-24-25-23-31 23z"/>
<path fill="#1060e0" d="M11929 1889l23 26-24 1-24-27z"/>
<path fill="#1070e8" d="M11905 1863l24 26-25 0-24-27z"/>
<path fill="#1080f0" d="M11881 1838l24 25-25-1-24-25z"/>
<path fill="#08a0f0" d="M11857 1815l24 23-25-1-24-24z"/>
<path fill="#08b8f8" d="M11832 1792l25 23-25-2-24-23z"/>
<path fill="#00d0f8" d="M11808 1770l24 22-24-2-25-22z"/>
<path fill="#00e8ff" d="M11783 1749l25 21-25-2-25-22z"/>
<path fill="#00e8f8" d="M11758 1730l25 19-25-3-25-20z"/>
<path fill="#00f0f8" d="M11733 1711l25 19-25-4-25-19zM11708 1693l25 18-25-4-25-18zM11682 1676l26 17-25-4-26-18z"/>
<path fill="#00f8f0" d="M11657 1661l25 15-25-5-25-16zM11631 1646l26 15-25-6-26-15z"/>
<path fill="#00f8e0" d="M11605 1633l26 13-25-6-26-14zM11578 1621l27 12-25-7-27-12z"/>
<path fill="#00f8c8" d="M11552 1609l26 12-25-7-26-12z"/>
<path fill="#00f0b8" d="M11526 1599l26 10-25-7-26-11z"/>
<path fill="#00f0a8" d="M11499 1590l27 9-25-8-27-9z"/>
<path fill="#00f098" d="M11472 1583l27 7-25-8-27-8z"/>
<path fill="#00f088" d="M11445 1576l27 7-25-9-27-8z"/>
<path fill="#00f080" d="M11418 1571l27 5-25-10-27-6z"/>
<path fill="#00f070" d="M11390 1566l28 5-25-11-28-4z"/>
<path fill="#00f068" d="M11363 1563l27 3-25-10-27-4z"/>
<path fill="#00f060" d="M11335 1562l28 1-25-11-28-2z"/>
<path fill="#00f058" d="M11307 1561l28 1-25-12-28-1z"/>
<path fill="#00f050" d="M11279 1562l28-1-25-12-28 0zM11251 1564l28-2-25-13-28 1z"/>
<path fill="#00f048" d="M11223 1567l28-3-25-14-28 3zM11195 1572l28-5-25-14-29 4zM11166 1577l29-5-26-15-28 5zM11137 1584l29-7-25-15-29 7zM11108 1593l29-9-25-15-29 7zM11079 1603l29-10-25-17-29 10zM11050 1614l29-11-25-17-29 10zM11021 1626l29-12-25-18-29 12z"/>
<path fill="#00f050" d="M10992 1640l29-14-25-18-30 13zM10962 1655l30-15-26-19-29 15z"/>
<path fill="#00f058" d="M10933 1671l29-16-25-19-30 16z"/>
<path fill="#00f060" d="M10903 1689l30-18-26-19-29 17z"/>
<path fill="#00f068" d="M10873 1709l30-20-25-20-30 19z"/>
<path fill="#00f070" d="M10843 1729l30-20-25-21-30 20z"/>
<path fill="#00f078" d="M10813 1751l30-22-25-21-30 21z"/>
<path fill="#00f080" d="M10783 1775l30-24-25-22-30 23z"/>
<path fill="#00f090" d="M10753 1800l30-25-25-23-30 24z"/>
<path fill="#1060e8" d="M11953 1888l24 26-25 1-23-26z"/>
<path fill="#1070e8" d="M11930 1863l23 25-24 1-24-26z"/>
<path fill="#1088f0" d="M11906 1839l24 24-25 0-24-25z"/>
<path fill="#08a8f8" d="M11882 1815l24 24-25-1-24-23z"/>
<path fill="#08c0f8" d="M11857 1793l25 22-25 0-25-23z"/>
<path fill="#00d8f8" d="M11833 1772l24 21-25-1-24-22z"/>
<path fill="#00e8ff" d="M11808 1752l25 20-25-2-25-21z"/>
<path fill="#00f0f8" d="M11783 1732l25 20-25-3-25-19zM11758 1714l25 18-25-2-25-19zM11733 1697l25 17-25-3-25-18zM11707 1681l26 16-25-4-26-17z"/>
<path fill="#00f8f0" d="M11682 1666l25 15-25-5-25-15z"/>
<path fill="#00f8e8" d="M11656 1652l26 14-25-5-26-15z"/>
<path fill="#00f8e0" d="M11630 1639l26 13-25-6-26-13zM11604 1627l26 12-25-6-27-12z"/>
<path fill="#00f8c8" d="M11577 1616l27 11-26-6-26-12z"/>
<path fill="#00f0b8" d="M11551 1607l26 9-25-7-26-10z"/>
<path fill="#00f0a8" d="M11524 1598l27 9-25-8-27-9z"/>
<path fill="#00f098" d="M11497 1591l27 7-25-8-27-7z"/>
<path fill="#00f088" d="M11470 1585l27 6-25-8-27-7z"/>
<path fill="#00f080" d="M11443 1580l27 5-25-9-27-5z"/>
<path fill="#00f070" d="M11416 1577l27 3-25-9-28-5zM11388 1574l28 3-26-11-27-3z"/>
<path fill="#00f060" d="M11360 1573l28 1-25-11-28-1zM11333 1573l27 0-25-11-28-1z"/>
<path fill="#00f058" d="M11305 1574l28-1-26-12-28 1z"/>
<path fill="#00f050" d="M11277 1577l28-3-26-12-28 2zM11248 1580l29-3-26-13-28 3zM11220 1586l28-6-25-13-28 5z"/>
<path fill="#00f048" d="M11191 1592l29-6-25-14-29 5zM11163 1600l28-8-25-15-29 7zM11134 1609l29-9-26-16-29 9zM11105 1619l29-10-26-16-29 10z"/>
<path fill="#00f050" d="M11076 1631l29-12-26-16-29 11zM11047 1644l29-13-26-17-29 12z"/>
<path fill="#00f058" d="M11017 1658l30-14-26-18-29 14zM10988 1674l29-16-25-18-30 15z"/>
<path fill="#00f060" d="M10958 1691l30-17-26-19-29 16z"/>
<path fill="#00f068" d="M10929 1709l29-18-25-20-30 18z"/>
<path fill="#00f070" d="M10899 1729l30-20-26-20-30 20z"/>
<path fill="#00f078" d="M10869 1750l30-21-26-20-30 20z"/>
<path fill="#00f080" d="M10839 1773l30-23-26-21-30 22z"/>
<path fill="#00f090" d="M10809 1797l30-24-26-22-30 24z"/>
<path fill="#00f098" d="M10779 1822l30-25-26-22-30 25z"/>
<path fill="#1068e8" d="M11978 1887l24 25-25 2-24-26z"/>
<path fill="#1078f0" d="M11955 1862l23 25-25 1-23-25z"/>
<path fill="#1090f0" d="M11931 1838l24 24-25 1-24-24z"/>
<path fill="#08b0f8" d="M11907 1816l24 22-25 1-24-24z"/>
<path fill="#08c8f8" d="M11882 1794l25 22-25-1-25-22z"/>
<path fill="#00d8f8" d="M11858 1773l24 21-25-1-24-21z"/>
<path fill="#00e8ff" d="M11833 1753l25 20-25-1-25-20z"/>
<path fill="#00f0f8" d="M11808 1734l25 19-25-1-25-20zM11783 1717l25 17-25-2-25-18zM11758 1700l25 17-25-3-25-17zM11732 1684l26 16-25-3-26-16z"/>
<path fill="#00f8f0" d="M11707 1670l25 14-25-3-25-15z"/>
<path fill="#00f8e8" d="M11681 1656l26 14-25-4-26-14z"/>
<path fill="#00f8e0" d="M11655 1644l26 12-25-4-26-13z"/>
<path fill="#00f8d8" d="M11629 1633l26 11-25-5-26-12z"/>
<path fill="#00f0c8" d="M11602 1622l27 11-25-6-27-11z"/>
<path fill="#00f0b8" d="M11576 1613l26 9-25-6-26-9z"/>
<path fill="#00f0a8" d="M11549 1606l27 7-25-6-27-9z"/>
<path fill="#00f098" d="M11522 1599l27 7-25-8-27-7z"/>
<path fill="#00f088" d="M11495 1593l27 6-25-8-27-6z"/>
<path fill="#00f080" d="M11468 1589l27 4-25-8-27-5z"/>
<path fill="#00f078" d="M11441 1586l27 3-25-9-27-3z"/>
<path fill="#00f070" d="M11413 1584l28 2-25-9-28-3z"/>
<path fill="#00f068" d="M11386 1583l27 1-25-10-28-1z"/>
<path fill="#00f060" d="M11358 1584l28-1-26-10-27 0z"/>
<path fill="#00f058" d="M11330 1586l28-2-25-11-28 1zM11302 1589l28-3-25-12-28 3z"/>
<path fill="#00f050" d="M11274 1593l28-4-25-12-29 3zM11245 1599l29-6-26-13-28 6zM11217 1606l28-7-25-13-29 6zM11188 1614l29-8-26-14-28 8zM11159 1624l29-10-25-14-29 9zM11130 1635l29-11-25-15-29 10zM11101 1647l29-12-25-16-29 12z"/>
<path fill="#00f058" d="M11072 1660l29-13-25-16-29 13z"/>
<path fill="#00f060" d="M11043 1675l29-15-25-16-30 14zM11013 1692l30-17-26-17-29 16z"/>
<path fill="#00f068" d="M10984 1709l29-17-25-18-30 17z"/>
<path fill="#00f070" d="M10954 1728l30-19-26-18-29 18z"/>
<path fill="#00f078" d="M10924 1749l30-21-25-19-30 20z"/>
<path fill="#00f080" d="M10894 1771l30-22-25-20-30 21z"/>
<path fill="#00f088" d="M10864 1794l30-23-25-21-30 23z"/>
<path fill="#00f098" d="M10834 1819l30-25-25-21-30 24z"/>
<path fill="#00f0a8" d="M10804 1845l30-26-25-22-30 25z"/>
<path fill="#1070e8" d="M12004 1885l23 25-25 2-24-25z"/>
<path fill="#1080f0" d="M11980 1860l24 25-26 2-23-25z"/>
<path fill="#0898f0" d="M11956 1837l24 23-25 2-24-24z"/>
<path fill="#08b0f8" d="M11932 1815l24 22-25 1-24-22z"/>
<path fill="#00c8f8" d="M11907 1794l25 21-25 1-25-22z"/>
<path fill="#00e0ff" d="M11883 1773l24 21-25 0-24-21z"/>
<path fill="#00e8f8" d="M11858 1754l25 19-25 0-25-20z"/>
<path fill="#00f0f8" d="M11833 1736l25 18-25-1-25-19zM11808 1719l25 17-25-2-25-17zM11783 1702l25 17-25-2-25-17z"/>
<path fill="#00f8f8" d="M11758 1687l25 15-25-2-26-16z"/>
<path fill="#00f8f0" d="M11732 1673l26 14-26-3-25-14z"/>
<path fill="#00f8e8" d="M11706 1660l26 13-25-3-26-14z"/>
<path fill="#00f8e0" d="M11680 1648l26 12-25-4-26-12z"/>
<path fill="#00f8d8" d="M11654 1638l26 10-25-4-26-11z"/>
<path fill="#00f0c8" d="M11628 1628l26 10-25-5-27-11z"/>
<path fill="#00f0b0" d="M11601 1620l27 8-26-6-26-9z"/>
<path fill="#00f0a0" d="M11575 1612l26 8-25-7-27-7z"/>
<path fill="#00f098" d="M11548 1606l27 6-26-6-27-7z"/>
<path fill="#00f088" d="M11521 1601l27 5-26-7-27-6z"/>
<path fill="#00f080" d="M11494 1597l27 4-26-8-27-4z"/>
<path fill="#00f078" d="M11466 1595l28 2-26-8-27-3z"/>
<path fill="#00f070" d="M11439 1594l27 1-25-9-28-2z"/>
<path fill="#00f068" d="M11411 1593l28 1-26-10-27-1z"/>
<path fill="#00f060" d="M11384 1595l27-2-25-10-28 1zM11356 1597l28-2-26-11-28 2z"/>
<path fill="#00f058" d="M11328 1601l28-4-26-11-28 3zM11299 1606l29-5-26-12-28 4zM11271 1612l28-6-25-13-29 6z"/>
<path fill="#00f050" d="M11242 1619l29-7-26-13-28 7zM11214 1628l28-9-25-13-29 8z"/>
<path fill="#00f058" d="M11185 1638l29-10-26-14-29 10zM11156 1650l29-12-26-14-29 11zM11127 1663l29-13-26-15-29 12z"/>
<path fill="#00f060" d="M11098 1677l29-14-26-16-29 13zM11068 1692l30-15-26-17-29 15z"/>
<path fill="#00f068" d="M11039 1709l29-17-25-17-30 17z"/>
<path fill="#00f070" d="M11009 1727l30-18-26-17-29 17z"/>
<path fill="#00f078" d="M10980 1747l29-20-25-18-30 19z"/>
<path fill="#00f080" d="M10950 1768l30-21-26-19-30 21z"/>
<path fill="#00f088" d="M10920 1791l30-23-26-19-30 22z"/>
<path fill="#00f098" d="M10890 1814l30-23-26-20-30 23z"/>
<path fill="#00f0a0" d="M10860 1840l30-26-26-20-30 25z"/>
<path fill="#00f0b0" d="M10830 1866l30-26-26-21-30 26z"/>
<path fill="#1070e8" d="M12029 1882l23 25-25 3-23-25z"/>
<path fill="#1088f0" d="M12005 1858l24 24-25 3-24-25z"/>
<path fill="#08a0f0" d="M11981 1835l24 23-25 2-24-23z"/>
<path fill="#08b8f8" d="M11957 1814l24 21-25 2-24-22z"/>
<path fill="#00d0f8" d="M11933 1793l24 21-25 1-25-21z"/>
<path fill="#00e8ff" d="M11908 1773l25 20-26 1-24-21z"/>
<path fill="#00e8f8" d="M11884 1754l24 19-25 0-25-19z"/>
<path fill="#00f0f8" d="M11859 1736l25 18-26 0-25-18zM11834 1720l25 16-26 0-25-17zM11809 1704l25 16-26-1-25-17z"/>
<path fill="#00f8f8" d="M11783 1689l26 15-26-2-25-15z"/>
<path fill="#00f8f0" d="M11758 1676l25 13-25-2-26-14z"/>
<path fill="#00f8e8" d="M11732 1664l26 12-26-3-26-13z"/>
<path fill="#00f8e0" d="M11706 1652l26 12-26-4-26-12z"/>
<path fill="#00f8d0" d="M11680 1642l26 10-26-4-26-10z"/>
<path fill="#00f0c0" d="M11653 1633l27 9-26-4-26-10z"/>
<path fill="#00f0b0" d="M11627 1625l26 8-25-5-27-8z"/>
<path fill="#00f0a0" d="M11600 1618l27 7-26-5-26-8z"/>
<path fill="#00f098" d="M11574 1613l26 5-25-6-27-6z"/>
<path fill="#00f088" d="M11547 1608l27 5-26-7-27-5z"/>
<path fill="#00f080" d="M11519 1605l28 3-26-7-27-4z"/>
<path fill="#00f078" d="M11492 1603l27 2-25-8-28-2z"/>
<path fill="#00f070" d="M11465 1602l27 1-26-8-27-1z"/>
<path fill="#00f068" d="M11437 1603l28-1-26-8-28-1z"/>
<path fill="#00f060" d="M11409 1604l28-1-26-10-27 2zM11381 1607l28-3-25-9-28 2zM11353 1612l28-5-25-10-28 4z"/>
<path fill="#00f058" d="M11325 1617l28-5-25-11-29 5zM11297 1624l28-7-26-11-28 6zM11268 1632l29-8-26-12-29 7zM11239 1641l29-9-26-13-28 9zM11211 1652l28-11-25-13-29 10z"/>
<path fill="#00f060" d="M11182 1664l29-12-26-14-29 12zM11153 1678l29-14-26-14-29 13zM11123 1692l30-14-26-15-29 14z"/>
<path fill="#00f068" d="M11094 1709l29-17-25-15-30 15z"/>
<path fill="#00f070" d="M11065 1726l29-17-26-17-29 17z"/>
<path fill="#00f078" d="M11035 1745l30-19-26-17-30 18z"/>
<path fill="#00f080" d="M11005 1765l30-20-26-18-29 20z"/>
<path fill="#00f088" d="M10976 1787l29-22-25-18-30 21z"/>
<path fill="#00f090" d="M10946 1810l30-23-26-19-30 23z"/>
<path fill="#00f0a0" d="M10916 1834l30-24-26-19-30 23z"/>
<path fill="#00f0b0" d="M10886 1860l30-26-26-20-30 26z"/>
<path fill="#00f0c0" d="M10856 1887l30-27-26-20-30 26z"/>
<path fill="#1078f0" d="M12054 1878l24 25-26 4-23-25z"/>
<path fill="#1090f0" d="M12031 1855l23 23-25 4-24-24z"/>
<path fill="#08a8f8" d="M12007 1833l24 22-26 3-24-23z"/>
<path fill="#08c0f8" d="M11983 1812l24 21-26 2-24-21z"/>
<path fill="#00d8f8" d="M11958 1791l25 21-26 2-24-21z"/>
<path fill="#00e8ff" d="M11934 1772l24 19-25 2-25-20z"/>
<path fill="#00f0f8" d="M11909 1754l25 18-26 1-24-19zM11884 1736l25 18-25 0-25-18zM11859 1720l25 16-25 0-25-16zM11834 1705l25 15-25 0-25-16z"/>
<path fill="#00f8f0" d="M11809 1691l25 14-25-1-26-15zM11783 1678l26 13-26-2-25-13z"/>
<path fill="#00f8e8" d="M11757 1666l26 12-25-2-26-12z"/>
<path fill="#00f8e0" d="M11732 1655l25 11-25-2-26-12z"/>
<path fill="#00f8d0" d="M11705 1646l27 9-26-3-26-10z"/>
<path fill="#00f0c0" d="M11679 1637l26 9-25-4-27-9z"/>
<path fill="#00f0b0" d="M11653 1630l26 7-26-4-26-8z"/>
<path fill="#00f0a0" d="M11626 1624l27 6-26-5-27-7z"/>
<path fill="#00f090" d="M11599 1618l27 6-26-6-26-5z"/>
<path fill="#00f088" d="M11572 1615l27 3-25-5-27-5z"/>
<path fill="#00f080" d="M11545 1612l27 3-25-7-28-3z"/>
<path fill="#00f078" d="M11518 1611l27 1-26-7-27-2z"/>
<path fill="#00f070" d="M11490 1610l28 1-26-8-27-1z"/>
<path fill="#00f068" d="M11463 1611l27-1-25-8-28 1zM11435 1614l28-3-26-8-28 1z"/>
<path fill="#00f060" d="M11407 1617l28-3-26-10-28 3zM11379 1622l28-5-26-10-28 5zM11351 1628l28-6-26-10-28 5z"/>
<path fill="#00f058" d="M11322 1636l29-8-26-11-28 7zM11294 1644l28-8-25-12-29 8zM11265 1654l29-10-26-12-29 9z"/>
<path fill="#00f060" d="M11236 1666l29-12-26-13-28 11zM11208 1678l28-12-25-14-29 12zM11178 1692l30-14-26-14-29 14z"/>
<path fill="#00f068" d="M11149 1708l29-16-25-14-30 14z"/>
<path fill="#00f070" d="M11120 1724l29-16-26-16-29 17zM11091 1742l29-18-26-15-29 17z"/>
<path fill="#00f080" d="M11061 1762l30-20-26-16-30 19zM11031 1783l30-21-26-17-30 20z"/>
<path fill="#00f090" d="M11002 1805l29-22-26-18-29 22z"/>
<path fill="#00f098" d="M10972 1829l30-24-26-18-30 23z"/>
<path fill="#00f0a8" d="M10942 1854l30-25-26-19-30 24z"/>
<path fill="#00f0b8" d="M10912 1880l30-26-26-20-30 26z"/>
<path fill="#00f8c8" d="M10881 1908l31-28-26-20-30 27z"/>
<path fill="#1080f0" d="M12080 1874l23 24-25 5-24-25z"/>
<path fill="#0898f0" d="M12056 1851l24 23-26 4-23-23z"/>
<path fill="#08b0f8" d="M12032 1830l24 21-25 4-24-22z"/>
<path fill="#00c8f8" d="M12008 1809l24 21-25 3-24-21z"/>
<path fill="#00e0ff" d="M11984 1789l24 20-25 3-25-21z"/>
<path fill="#00e8f8" d="M11960 1770l24 19-26 2-24-19z"/>
<path fill="#00f0f8" d="M11935 1752l25 18-26 2-25-18zM11910 1736l25 16-26 2-25-18zM11885 1720l25 16-26 0-25-16zM11860 1705l25 15-26 0-25-15z"/>
<path fill="#00f8f0" d="M11835 1692l25 13-26 0-25-14z"/>
<path fill="#00f8e8" d="M11809 1679l26 13-26-1-26-13z"/>
<path fill="#00f8e0" d="M11783 1668l26 11-26-1-26-12zM11757 1658l26 10-26-2-25-11z"/>
<path fill="#00f8d0" d="M11731 1649l26 9-25-3-27-9z"/>
<path fill="#00f0b8" d="M11705 1641l26 8-26-3-26-9z"/>
<path fill="#00f0a8" d="M11679 1634l26 7-26-4-26-7z"/>
<path fill="#00f0a0" d="M11652 1628l27 6-26-4-27-6z"/>
<path fill="#00f090" d="M11625 1624l27 4-26-4-27-6z"/>
<path fill="#00f088" d="M11598 1620l27 4-26-6-27-3z"/>
<path fill="#00f080" d="M11571 1618l27 2-26-5-27-3z"/>
<path fill="#00f078" d="M11544 1617l27 1-26-6-27-1z"/>
<path fill="#00f070" d="M11516 1618l28-1-26-6-28-1z"/>
<path fill="#00f068" d="M11489 1619l27-1-26-8-27 1zM11461 1622l28-3-26-8-28 3z"/>
<path fill="#00f060" d="M11433 1626l28-4-26-8-28 3zM11405 1632l28-6-26-9-28 5zM11377 1638l28-6-26-10-28 6zM11348 1646l29-8-26-10-29 8zM11320 1656l28-10-26-10-28 8zM11291 1666l29-10-26-12-29 10zM11262 1678l29-12-26-12-29 12zM11234 1691l28-13-26-12-28 12z"/>
<path fill="#00f068" d="M11204 1706l30-15-26-13-30 14z"/>
<path fill="#00f070" d="M11175 1722l29-16-26-14-29 16zM11146 1739l29-17-26-14-29 16z"/>
<path fill="#00f078" d="M11117 1758l29-19-26-15-29 18z"/>
<path fill="#00f080" d="M11087 1778l30-20-26-16-30 20z"/>
<path fill="#00f088" d="M11057 1800l30-22-26-16-30 21z"/>
<path fill="#00f098" d="M11028 1822l29-22-26-17-29 22z"/>
<path fill="#00f0a0" d="M10998 1847l30-25-26-17-30 24z"/>
<path fill="#00f0b0" d="M10968 1872l30-25-26-18-30 25z"/>
<path fill="#00f0c0" d="M10938 1899l30-27-26-18-30 26z"/>
<path fill="#00f8d0" d="M10907 1928l31-29-26-19-31 28z"/>
<path fill="#1088f0" d="M12106 1869l23 24-26 5-23-24z"/>
<path fill="#08a0f8" d="M12082 1847l24 22-26 5-24-23z"/>
<path fill="#08c0f8" d="M12058 1826l24 21-26 4-24-21z"/>
<path fill="#00d0f8" d="M12034 1805l24 21-26 4-24-21z"/>
<path fill="#00e8ff" d="M12010 1786l24 19-26 4-24-20z"/>
<path fill="#00e8f8" d="M11985 1768l25 18-26 3-24-19z"/>
<path fill="#00f0f8" d="M11961 1750l24 18-25 2-25-18zM11936 1734l25 16-26 2-25-16zM11911 1719l25 15-26 2-25-16z"/>
<path fill="#00f8f8" d="M11886 1705l25 14-26 1-25-15z"/>
<path fill="#00f8f0" d="M11860 1692l26 13-26 0-25-13z"/>
<path fill="#00f8e8" d="M11835 1680l25 12-25 0-26-13z"/>
<path fill="#00f8e0" d="M11809 1669l26 11-26-1-26-11z"/>
<path fill="#00f8d8" d="M11783 1659l26 10-26-1-26-10z"/>
<path fill="#00f0c8" d="M11757 1651l26 8-26-1-26-9z"/>
<path fill="#00f0b8" d="M11731 1643l26 8-26-2-26-8z"/>
<path fill="#00f0a8" d="M11705 1637l26 6-26-2-26-7z"/>
<path fill="#00f098" d="M11678 1632l27 5-26-3-27-6z"/>
<path fill="#00f090" d="M11651 1628l27 4-26-4-27-4z"/>
<path fill="#00f080" d="M11624 1625l27 3-26-4-27-4zM11597 1624l27 1-26-5-27-2z"/>
<path fill="#00f078" d="M11570 1624l27 0-26-6-27-1z"/>
<path fill="#00f070" d="M11542 1625l28-1-26-7-28 1z"/>
<path fill="#00f068" d="M11515 1627l27-2-26-7-27 1zM11487 1630l28-3-26-8-28 3z"/>
<path fill="#00f060" d="M11459 1635l28-5-26-8-28 4zM11431 1641l28-6-26-9-28 6zM11403 1648l28-7-26-9-28 6zM11374 1657l29-9-26-10-29 8zM11346 1667l28-10-26-11-28 10zM11317 1678l29-11-26-11-29 10zM11289 1690l28-12-26-12-29 12z"/>
<path fill="#00f068" d="M11260 1704l29-14-27-12-28 13zM11231 1719l29-15-26-13-30 15z"/>
<path fill="#00f070" d="M11201 1736l30-17-27-13-29 16z"/>
<path fill="#00f078" d="M11172 1754l29-18-26-14-29 17z"/>
<path fill="#00f080" d="M11143 1773l29-19-26-15-29 19z"/>
<path fill="#00f088" d="M11113 1794l30-21-26-15-30 20z"/>
<path fill="#00f090" d="M11083 1816l30-22-26-16-30 22z"/>
<path fill="#00f0a0" d="M11054 1839l29-23-26-16-29 22z"/>
<path fill="#00f0b0" d="M11024 1864l30-25-26-17-30 25z"/>
<path fill="#00f0b8" d="M10994 1891l30-27-26-17-30 25z"/>
<path fill="#00f8c8" d="M10964 1918l30-27-26-19-30 27z"/>
<path fill="#00f8e0" d="M10934 1947l30-29-26-19-31 29z"/>
<path fill="#1098f0" d="M12132 1864l23 22-26 7-23-24z"/>
<path fill="#08b0f8" d="M12108 1842l24 22-26 5-24-22z"/>
<path fill="#00c8f8" d="M12084 1821l24 21-26 5-24-21z"/>
<path fill="#00e0f8" d="M12060 1801l24 20-26 5-24-21z"/>
<path fill="#00e8ff" d="M12036 1782l24 19-26 4-24-19z"/>
<path fill="#00f0f8" d="M12011 1765l25 17-26 4-25-18zM11987 1748l24 17-26 3-24-18zM11962 1732l25 16-26 2-25-16zM11937 1717l25 15-26 2-25-15z"/>
<path fill="#00f8f0" d="M11912 1704l25 13-26 2-25-14zM11887 1691l25 13-26 1-26-13z"/>
<path fill="#00f8e8" d="M11861 1680l26 11-27 1-25-12z"/>
<path fill="#00f8e0" d="M11835 1670l26 10-26 0-26-11z"/>
<path fill="#00f8d0" d="M11809 1660l26 10-26-1-26-10z"/>
<path fill="#00f0c0" d="M11783 1652l26 8-26-1-26-8z"/>
<path fill="#00f0b0" d="M11757 1645l26 7-26-1-26-8z"/>
<path fill="#00f0a0" d="M11731 1640l26 5-26-2-26-6z"/>
<path fill="#00f098" d="M11704 1635l27 5-26-3-27-5z"/>
<path fill="#00f088" d="M11677 1632l27 3-26-3-27-4z"/>
<path fill="#00f080" d="M11650 1630l27 2-26-4-27-3z"/>
<path fill="#00f078" d="M11623 1629l27 1-26-5-27-1z"/>
<path fill="#00f070" d="M11596 1629l27 0-26-5-27 0zM11569 1631l27-2-26-5-28 1z"/>
<path fill="#00f068" d="M11541 1633l28-2-27-6-27 2zM11513 1637l28-4-26-6-28 3z"/>
<path fill="#00f060" d="M11485 1643l28-6-26-7-28 5zM11457 1649l28-6-26-8-28 6zM11429 1657l28-8-26-8-28 7zM11401 1666l28-9-26-9-29 9zM11372 1677l29-11-27-9-28 10zM11344 1689l28-12-26-10-29 11z"/>
<path fill="#00f068" d="M11315 1702l29-13-27-11-28 12zM11286 1716l29-14-26-12-29 14z"/>
<path fill="#00f070" d="M11257 1732l29-16-26-12-29 15zM11228 1749l29-17-26-13-30 17z"/>
<path fill="#00f078" d="M11198 1768l30-19-27-13-29 18z"/>
<path fill="#00f080" d="M11169 1788l29-20-26-14-29 19z"/>
<path fill="#00f088" d="M11139 1809l30-21-26-15-30 21z"/>
<path fill="#00f098" d="M11110 1832l29-23-26-15-30 22z"/>
<path fill="#00f0a8" d="M11080 1856l30-24-27-16-29 23z"/>
<path fill="#00f0b0" d="M11050 1881l30-25-26-17-30 25z"/>
<path fill="#00f0c0" d="M11020 1908l30-27-26-17-30 27z"/>
<path fill="#00f8d0" d="M10990 1937l30-29-26-17-30 27z"/>
<path fill="#00f8e0" d="M10960 1966l30-29-26-19-30 29z"/>
<path fill="#08a0f0" d="M12158 1857l23 22-26 7-23-22z"/>
<path fill="#08b8f8" d="M12134 1836l24 21-26 7-24-22z"/>
<path fill="#00d0f8" d="M12110 1816l24 20-26 6-24-21z"/>
<path fill="#00e8ff" d="M12086 1796l24 20-26 5-24-20z"/>
<path fill="#00e8f8" d="M12062 1778l24 18-26 5-24-19z"/>
<path fill="#00f0f8" d="M12038 1761l24 17-26 4-25-17zM12013 1744l25 17-27 4-24-17zM11988 1729l25 15-26 4-25-16z"/>
<path fill="#00f8f8" d="M11963 1715l25 14-26 3-25-15z"/>
<path fill="#00f8f0" d="M11938 1702l25 13-26 2-25-13z"/>
<path fill="#00f8e8" d="M11913 1690l25 12-26 2-25-13z"/>
<path fill="#00f8e0" d="M11887 1679l26 11-26 1-26-11z"/>
<path fill="#00f8d8" d="M11862 1669l25 10-26 1-26-10z"/>
<path fill="#00f8c8" d="M11836 1661l26 8-27 1-26-10z"/>
<path fill="#00f0b8" d="M11810 1653l26 8-27-1-26-8z"/>
<path fill="#00f0a8" d="M11783 1647l27 6-27-1-26-7z"/>
<path fill="#00f0a0" d="M11757 1642l26 5-26-2-26-5z"/>
<path fill="#00f090" d="M11730 1638l27 4-26-2-27-5z"/>
<path fill="#00f088" d="M11704 1635l26 3-26-3-27-3z"/>
<path fill="#00f080" d="M11677 1633l27 2-27-3-27-2z"/>
<path fill="#00f078" d="M11650 1633l27 0-27-3-27-1z"/>
<path fill="#00f070" d="M11622 1634l28-1-27-4-27 0zM11595 1636l27-2-26-5-27 2z"/>
<path fill="#00f068" d="M11567 1639l28-3-26-5-28 2z"/>
<path fill="#00f060" d="M11540 1644l27-5-26-6-28 4zM11512 1650l28-6-27-7-28 6zM11484 1657l28-7-27-7-28 6zM11455 1665l29-8-27-8-28 8zM11427 1675l28-10-26-8-28 9zM11399 1686l28-11-26-9-29 11zM11370 1699l29-13-27-9-28 12z"/>
<path fill="#00f068" d="M11341 1713l29-14-26-10-29 13z"/>
<path fill="#00f070" d="M11312 1728l29-15-26-11-29 14zM11283 1744l29-16-26-12-29 16z"/>
<path fill="#00f078" d="M11254 1762l29-18-26-12-29 17z"/>
<path fill="#00f080" d="M11225 1781l29-19-26-13-30 19z"/>
<path fill="#00f088" d="M11195 1802l30-21-27-13-29 20z"/>
<path fill="#00f090" d="M11166 1824l29-22-26-14-30 21z"/>
<path fill="#00f0a0" d="M11136 1847l30-23-27-15-29 23z"/>
<path fill="#00f0a8" d="M11106 1872l30-25-26-15-30 24z"/>
<path fill="#00f0b8" d="M11076 1898l30-26-26-16-30 25z"/>
<path fill="#00f8c8" d="M11046 1925l30-27-26-17-30 27z"/>
<path fill="#00f8e0" d="M11016 1954l30-29-26-17-30 29zM10986 1985l30-31-26-17-30 29z"/>
<path fill="#08b0f8" d="M12184 1850l23 22-26 7-23-22z"/>
<path fill="#08c8f8" d="M12160 1829l24 21-26 7-24-21z"/>
<path fill="#00d8f8" d="M12137 1809l23 20-26 7-24-20z"/>
<path fill="#00e8ff" d="M12113 1790l24 19-27 7-24-20z"/>
<path fill="#00f0f8" d="M12088 1773l25 17-27 6-24-18zM12064 1756l24 17-26 5-24-17zM12039 1740l25 16-26 5-25-17zM12015 1725l24 15-26 4-25-15z"/>
<path fill="#00f8f0" d="M11990 1712l25 13-27 4-25-14zM11965 1699l25 13-27 3-25-13z"/>
<path fill="#00f8e8" d="M11939 1688l26 11-27 3-25-12z"/>
<path fill="#00f8e0" d="M11914 1678l25 10-26 2-26-11z"/>
<path fill="#00f8d0" d="M11888 1668l26 10-27 1-25-10z"/>
<path fill="#00f0c0" d="M11862 1660l26 8-26 1-26-8z"/>
<path fill="#00f0b0" d="M11836 1653l26 7-26 1-26-8z"/>
<path fill="#00f0a0" d="M11810 1648l26 5-26 0-27-6z"/>
<path fill="#00f098" d="M11783 1643l27 5-27-1-26-5z"/>
<path fill="#00f088" d="M11757 1640l26 3-26-1-27-4z"/>
<path fill="#00f080" d="M11730 1637l27 3-27-2-26-3z"/>
<path fill="#00f078" d="M11703 1636l27 1-26-2-27-2z"/>
<path fill="#00f070" d="M11676 1637l27-1-26-3-27 0zM11649 1638l27-1-26-4-28 1z"/>
<path fill="#00f068" d="M11621 1641l28-3-27-4-27 2zM11594 1645l27-4-26-5-28 3z"/>
<path fill="#00f060" d="M11566 1650l28-5-27-6-27 5zM11538 1656l28-6-26-6-28 6zM11510 1664l28-8-26-6-28 7zM11482 1673l28-9-26-7-29 8zM11454 1684l28-11-27-8-28 10zM11425 1695l29-11-27-9-28 11z"/>
<path fill="#00f068" d="M11396 1708l29-13-26-9-29 13zM11368 1723l28-15-26-9-29 14z"/>
<path fill="#00f070" d="M11339 1738l29-15-27-10-29 15zM11310 1755l29-17-27-10-29 16z"/>
<path fill="#00f078" d="M11281 1774l29-19-27-11-29 18z"/>
<path fill="#00f080" d="M11251 1794l30-20-27-12-29 19z"/>
<path fill="#00f088" d="M11222 1815l29-21-26-13-30 21z"/>
<path fill="#00f098" d="M11192 1837l30-22-27-13-29 22z"/>
<path fill="#00f0a0" d="M11163 1861l29-24-26-13-30 23z"/>
<path fill="#00f0b0" d="M11133 1887l30-26-27-14-30 25z"/>
<path fill="#00f0c0" d="M11103 1913l30-26-27-15-30 26z"/>
<path fill="#00f8d0" d="M11073 1942l30-29-27-15-30 27z"/>
<path fill="#00f8e0" d="M11043 1971l30-29-27-17-30 29z"/>
<path fill="#00f8e8" d="M11013 2002l30-31-27-17-30 31z"/>
<path fill="#08b8f8" d="M12210 1842l24 21-27 9-23-22z"/>
<path fill="#00d0f8" d="M12187 1822l23 20-26 8-24-21z"/>
<path fill="#00e8ff" d="M12163 1802l24 20-27 7-23-20z"/>
<path fill="#00e8f8" d="M12139 1784l24 18-26 7-24-19z"/>
<path fill="#00f0f8" d="M12115 1767l24 17-26 6-25-17zM12091 1750l24 17-27 6-24-17zM12066 1735l25 15-27 6-25-16z"/>
<path fill="#00f8f8" d="M12041 1721l25 14-27 5-24-15z"/>
<path fill="#00f8f0" d="M12016 1708l25 13-26 4-25-13z"/>
<path fill="#00f8e8" d="M11991 1696l25 12-26 4-25-13z"/>
<path fill="#00f8e0" d="M11966 1685l25 11-26 3-26-11z"/>
<path fill="#00f8d8" d="M11940 1675l26 10-27 3-25-10z"/>
<path fill="#00f8c8" d="M11915 1667l25 8-26 3-26-10z"/>
<path fill="#00f0b8" d="M11889 1659l26 8-27 1-26-8z"/>
<path fill="#00f0a8" d="M11863 1653l26 6-27 1-26-7z"/>
<path fill="#00f098" d="M11837 1648l26 5-27 0-26-5z"/>
<path fill="#00f090" d="M11810 1644l27 4-27 0-27-5z"/>
<path fill="#00f088" d="M11784 1641l26 3-27-1-26-3z"/>
<path fill="#00f080" d="M11757 1639l27 2-27-1-27-3z"/>
<path fill="#00f078" d="M11730 1639l27 0-27-2-27-1z"/>
<path fill="#00f070" d="M11703 1639l27 0-27-3-27 1z"/>
<path fill="#00f068" d="M11676 1641l27-2-27-2-27 1zM11648 1645l28-4-27-3-28 3z"/>
<path fill="#00f060" d="M11621 1649l27-4-27-4-27 4zM11593 1655l28-6-27-4-28 5zM11565 1662l28-7-27-5-28 6zM11537 1671l28-9-27-6-28 8zM11509 1680l28-9-27-7-28 9zM11480 1691l29-11-27-7-28 11zM11452 1704l28-13-26-7-29 11z"/>
<path fill="#00f068" d="M11423 1717l29-13-27-9-29 13zM11394 1732l29-15-27-9-28 15z"/>
<path fill="#00f070" d="M11365 1749l29-17-26-9-29 15z"/>
<path fill="#00f078" d="M11336 1766l29-17-26-11-29 17z"/>
<path fill="#00f080" d="M11307 1785l29-19-26-11-29 19zM11278 1806l29-21-26-11-30 20z"/>
<path fill="#00f090" d="M11248 1827l30-21-27-12-29 21z"/>
<path fill="#00f098" d="M11219 1851l29-24-26-12-30 22z"/>
<path fill="#00f0a8" d="M11189 1875l30-24-27-14-29 24z"/>
<path fill="#00f0b8" d="M11159 1901l30-26-26-14-30 26z"/>
<path fill="#00f0c8" d="M11129 1929l30-28-26-14-30 26z"/>
<path fill="#00f8d8" d="M11099 1958l30-29-26-16-30 29z"/>
<path fill="#00f8e0" d="M11069 1988l30-30-26-16-30 29z"/>
<path fill="#00f8e8" d="M11039 2019l30-31-26-17-30 31z"/>
<path fill="#00c8f8" d="M12237 1833l23 21-26 9-24-21z"/>
<path fill="#00e0f8" d="M12214 1813l23 20-27 9-23-20z"/>
<path fill="#00e8ff" d="M12190 1795l24 18-27 9-24-20z"/>
<path fill="#00f0f8" d="M12166 1777l24 18-27 7-24-18zM12142 1760l24 17-27 7-24-17zM12117 1744l25 16-27 7-24-17zM12093 1730l24 14-26 6-25-15z"/>
<path fill="#00f8f0" d="M12068 1716l25 14-27 5-25-14z"/>
<path fill="#00f8e8" d="M12043 1703l25 13-27 5-25-13z"/>
<path fill="#00f8e0" d="M12018 1692l25 11-27 5-25-12zM11993 1682l25 10-27 4-25-11z"/>
<path fill="#00f8d0" d="M11967 1672l26 10-27 3-26-10z"/>
<path fill="#00f0c0" d="M11941 1664l26 8-27 3-25-8z"/>
<path fill="#00f0b0" d="M11916 1657l25 7-26 3-26-8z"/>
<path fill="#00f0a0" d="M11890 1651l26 6-27 2-26-6z"/>
<path fill="#00f090" d="M11863 1647l27 4-27 2-26-5z"/>
<path fill="#00f088" d="M11837 1643l26 4-26 1-27-4z"/>
<path fill="#00f080" d="M11810 1641l27 2-27 1-26-3z"/>
<path fill="#00f078" d="M11784 1640l26 1-26 0-27-2z"/>
<path fill="#00f070" d="M11757 1640l27 0-27-1-27 0z"/>
<path fill="#00f068" d="M11730 1642l27-2-27-1-27 0zM11702 1644l28-2-27-3-27 2z"/>
<path fill="#00f060" d="M11675 1648l27-4-26-3-28 4zM11647 1653l28-5-27-3-27 4zM11620 1660l27-7-26-4-28 6zM11592 1667l28-7-27-5-28 7zM11564 1676l28-9-27-5-28 9zM11535 1687l29-11-27-5-28 9zM11507 1698l28-11-26-7-29 11zM11479 1711l28-13-27-7-28 13z"/>
<path fill="#00f068" d="M11450 1725l29-14-27-7-29 13zM11421 1741l29-16-27-8-29 15z"/>
<path fill="#00f070" d="M11392 1758l29-17-27-9-29 17z"/>
<path fill="#00f078" d="M11363 1776l29-18-27-9-29 17z"/>
<path fill="#00f080" d="M11334 1796l29-20-27-10-29 19z"/>
<path fill="#00f088" d="M11305 1817l29-21-27-11-29 21z"/>
<path fill="#00f090" d="M11275 1840l30-23-27-11-30 21z"/>
<path fill="#00f0a0" d="M11246 1863l29-23-27-13-29 24z"/>
<path fill="#00f0a8" d="M11216 1889l30-26-27-12-30 24z"/>
<path fill="#00f0b8" d="M11186 1915l30-26-27-14-30 26z"/>
<path fill="#00f8c8" d="M11156 1943l30-28-27-14-30 28z"/>
<path fill="#00f8e0" d="M11126 1973l30-30-27-14-30 29zM11096 2004l30-31-27-15-30 30z"/>
<path fill="#00f8e8" d="M11066 2036l30-32-27-16-30 31z"/>
<path fill="#00d8f8" d="M12264 1824l23 20-27 10-23-21z"/>
<path fill="#00e8ff" d="M12240 1804l24 20-27 9-23-20z"/>
<path fill="#00e8f8" d="M12217 1786l23 18-26 9-24-18z"/>
<path fill="#00f0f8" d="M12193 1769l24 17-27 9-24-18zM12169 1752l24 17-27 8-24-17zM12144 1737l25 15-27 8-25-16z"/>
<path fill="#00f8f8" d="M12120 1723l24 14-27 7-24-14z"/>
<path fill="#00f8f0" d="M12095 1710l25 13-27 7-25-14z"/>
<path fill="#00f8e8" d="M12070 1698l25 12-27 6-25-13z"/>
<path fill="#00f8e0" d="M12045 1687l25 11-27 5-25-11z"/>
<path fill="#00f8d0" d="M12020 1677l25 10-27 5-25-10z"/>
<path fill="#00f0c0" d="M11994 1669l26 8-27 5-26-10z"/>
<path fill="#00f0b0" d="M11968 1661l26 8-27 3-26-8z"/>
<path fill="#00f0a0" d="M11943 1655l25 6-27 3-25-7z"/>
<path fill="#00f098" d="M11917 1649l26 6-27 2-26-6z"/>
<path fill="#00f088" d="M11890 1645l27 4-27 2-27-4z"/>
<path fill="#00f080" d="M11864 1642l26 3-27 2-26-4z"/>
<path fill="#00f078" d="M11837 1641l27 1-27 1-27-2z"/>
<path fill="#00f070" d="M11811 1640l26 1-27 0-26-1z"/>
<path fill="#00f068" d="M11784 1641l27-1-27 0-27 0zM11757 1643l27-2-27-1-27 2z"/>
<path fill="#00f060" d="M11729 1646l28-3-27-1-28 2zM11702 1651l27-5-27-2-27 4zM11674 1656l28-5-27-3-28 5z"/>
<path fill="#00f058" d="M11647 1663l27-7-27-3-27 7zM11619 1672l28-9-27-3-28 7zM11591 1681l28-9-27-5-28 9zM11562 1692l29-11-27-5-29 11z"/>
<path fill="#00f060" d="M11534 1705l28-13-27-5-28 11zM11506 1718l28-13-27-7-28 13z"/>
<path fill="#00f068" d="M11477 1733l29-15-27-7-29 14zM11448 1749l29-16-27-8-29 16z"/>
<path fill="#00f070" d="M11419 1767l29-18-27-8-29 17z"/>
<path fill="#00f078" d="M11390 1786l29-19-27-9-29 18z"/>
<path fill="#00f080" d="M11361 1806l29-20-27-10-29 20z"/>
<path fill="#00f088" d="M11332 1828l29-22-27-10-29 21z"/>
<path fill="#00f090" d="M11302 1851l30-23-27-11-30 23z"/>
<path fill="#00f0a0" d="M11273 1875l29-24-27-11-29 23z"/>
<path fill="#00f0b0" d="M11243 1901l30-26-27-12-30 26z"/>
<path fill="#00f0c0" d="M11213 1929l30-28-27-12-30 26z"/>
<path fill="#00f8d0" d="M11183 1957l30-28-27-14-30 28z"/>
<path fill="#00f8e0" d="M11153 1987l30-30-27-14-30 30z"/>
<path fill="#00f8e8" d="M11123 2019l30-32-27-14-30 31z"/>
<path fill="#00f8f0" d="M11093 2052l30-33-27-15-30 32z"/>
<path fill="#00e0ff" d="M12291 1813l23 20-27 11-23-20z"/>
<path fill="#00e8f8" d="M12267 1794l24 19-27 11-24-20z"/>
<path fill="#00f0f8" d="M12244 1777l23 17-27 10-23-18zM12220 1760l24 17-27 9-24-17zM12196 1744l24 16-27 9-24-17z"/>
<path fill="#00f8f8" d="M12171 1729l25 15-27 8-25-15z"/>
<path fill="#00f8f0" d="M12147 1716l24 13-27 8-24-14z"/>
<path fill="#00f8e8" d="M12122 1703l25 13-27 7-25-13z"/>
<path fill="#00f8e0" d="M12097 1692l25 11-27 7-25-12z"/>
<path fill="#00f8d8" d="M12072 1681l25 11-27 6-25-11z"/>
<path fill="#00f0c8" d="M12047 1672l25 9-27 6-25-10z"/>
<path fill="#00f0b8" d="M12021 1664l26 8-27 5-26-8z"/>
<path fill="#00f0a8" d="M11996 1657l25 7-27 5-26-8z"/>
<path fill="#00f098" d="M11970 1651l26 6-28 4-25-6z"/>
<path fill="#00f090" d="M11944 1647l26 4-27 4-26-6z"/>
<path fill="#00f080" d="M11917 1643l27 4-27 2-27-4z"/>
<path fill="#00f078" d="M11891 1641l26 2-27 2-26-3z"/>
<path fill="#00f070" d="M11865 1640l26 1-27 1-27-1z"/>
<path fill="#00f068" d="M11838 1640l27 0-28 1-26-1zM11811 1641l27-1-27 0-27 1z"/>
<path fill="#00f060" d="M11784 1644l27-3-27 0-27 2zM11756 1648l28-4-27-1-28 3z"/>
<path fill="#00f058" d="M11729 1653l27-5-27-2-27 5zM11701 1659l28-6-27-2-28 5zM11674 1667l27-8-27-3-27 7zM11646 1676l28-9-27-4-28 9zM11618 1686l28-10-27-4-28 9zM11590 1697l28-11-27-5-29 11zM11561 1710l29-13-28-5-28 13z"/>
<path fill="#00f060" d="M11533 1724l28-14-27-5-28 13zM11504 1740l29-16-27-6-29 15z"/>
<path fill="#00f068" d="M11475 1757l29-17-27-7-29 16z"/>
<path fill="#00f070" d="M11446 1775l29-18-27-8-29 18z"/>
<path fill="#00f078" d="M11417 1795l29-20-27-8-29 19z"/>
<path fill="#00f080" d="M11388 1816l29-21-27-9-29 20z"/>
<path fill="#00f088" d="M11359 1838l29-22-27-10-29 22z"/>
<path fill="#00f090" d="M11329 1862l30-24-27-10-30 23z"/>
<path fill="#00f0a0" d="M11300 1887l29-25-27-11-29 24z"/>
<path fill="#00f0b0" d="M11270 1913l30-26-27-12-30 26z"/>
<path fill="#00f0c0" d="M11240 1941l30-28-27-12-30 28z"/>
<path fill="#00f8d0" d="M11210 1971l30-30-27-12-30 28z"/>
<path fill="#00f8e0" d="M11180 2001l30-30-27-14-30 30z"/>
<path fill="#00f8e8" d="M11150 2034l30-33-27-14-30 32z"/>
<path fill="#00f8f0" d="M11120 2067l30-33-27-15-30 33z"/>
<path fill="#00e8ff" d="M12318 1802l24 19-28 12-23-20z"/>
<path fill="#00f0f8" d="M12295 1784l23 18-27 11-24-19zM12271 1766l24 18-28 10-23-17zM12247 1750l24 16-27 11-24-17zM12223 1735l24 15-27 10-24-16z"/>
<path fill="#00f8f0" d="M12199 1721l24 14-27 9-25-15z"/>
<path fill="#00f8e8" d="M12174 1708l25 13-28 8-24-13z"/>
<path fill="#00f8e0" d="M12149 1696l25 12-27 8-25-13zM12124 1685l25 11-27 7-25-11z"/>
<path fill="#00f8c8" d="M12099 1675l25 10-27 7-25-11z"/>
<path fill="#00f0b8" d="M12074 1666l25 9-27 6-25-9z"/>
<path fill="#00f0a8" d="M12049 1659l25 7-27 6-26-8z"/>
<path fill="#00f098" d="M12023 1652l26 7-28 5-25-7z"/>
<path fill="#00f090" d="M11997 1647l26 5-27 5-26-6z"/>
<path fill="#00f080" d="M11971 1643l26 4-27 4-26-4z"/>
<path fill="#00f078" d="M11945 1640l26 3-27 4-27-4z"/>
<path fill="#00f070" d="M11918 1638l27 2-28 3-26-2z"/>
<path fill="#00f068" d="M11892 1638l26 0-27 3-26-1z"/>
<path fill="#00f060" d="M11865 1639l27-1-27 2-27 0zM11838 1641l27-2-27 1-27 1z"/>
<path fill="#00f058" d="M11811 1644l27-3-27 0-27 3zM11784 1648l27-4-27 0-28 4z"/>
<path fill="#00f050" d="M11756 1654l28-6-28 0-27 5zM11729 1661l27-7-27-1-28 6zM11701 1669l28-8-28-2-27 8zM11673 1679l28-10-27-2-28 9zM11645 1689l28-10-27-3-28 10z"/>
<path fill="#00f058" d="M11617 1702l28-13-27-3-28 11zM11588 1715l29-13-27-5-29 13z"/>
<path fill="#00f060" d="M11560 1730l28-15-27-5-28 14zM11531 1746l29-16-27-6-29 16z"/>
<path fill="#00f068" d="M11502 1764l29-18-27-6-29 17z"/>
<path fill="#00f070" d="M11474 1783l28-19-27-7-29 18z"/>
<path fill="#00f078" d="M11444 1803l30-20-28-8-29 20z"/>
<path fill="#00f080" d="M11415 1824l29-21-27-8-29 21z"/>
<path fill="#00f088" d="M11386 1847l29-23-27-8-29 22z"/>
<path fill="#00f090" d="M11356 1872l30-25-27-9-30 24z"/>
<path fill="#00f0a0" d="M11327 1898l29-26-27-10-29 25z"/>
<path fill="#00f0b0" d="M11297 1925l30-27-27-11-30 26z"/>
<path fill="#00f0c0" d="M11267 1953l30-28-27-12-30 28z"/>
<path fill="#00f8d8" d="M11237 1983l30-30-27-12-30 30z"/>
<path fill="#00f8e0" d="M11207 2015l30-32-27-12-30 30z"/>
<path fill="#00f8e8" d="M11177 2048l30-33-27-14-30 33z"/>
<path fill="#00f8f0" d="M11147 2082l30-34-27-14-30 33z"/>
<path fill="#00e8f8" d="M12346 1790l23 19-27 12-24-19z"/>
<path fill="#00f0f8" d="M12322 1772l24 18-28 12-23-18zM12298 1756l24 16-27 12-24-18zM12275 1740l23 16-27 10-24-16z"/>
<path fill="#00f8f0" d="M12250 1725l25 15-28 10-24-15zM12226 1711l24 14-27 10-24-14z"/>
<path fill="#00f8e8" d="M12202 1699l24 12-27 10-25-13z"/>
<path fill="#00f8e0" d="M12177 1687l25 12-28 9-25-12z"/>
<path fill="#00f8d0" d="M12152 1677l25 10-28 9-25-11z"/>
<path fill="#00f0c0" d="M12127 1668l25 9-28 8-25-10z"/>
<path fill="#00f0b0" d="M12102 1660l25 8-28 7-25-9z"/>
<path fill="#00f0a0" d="M12076 1653l26 7-28 6-25-7z"/>
<path fill="#00f090" d="M12050 1647l26 6-27 6-26-7z"/>
<path fill="#00f080" d="M12025 1642l25 5-27 5-26-5z"/>
<path fill="#00f078" d="M11999 1639l26 3-28 5-26-4z"/>
<path fill="#00f070" d="M11972 1636l27 3-28 4-26-3z"/>
<path fill="#00f068" d="M11946 1635l26 1-27 4-27-2z"/>
<path fill="#00f060" d="M11919 1635l27 0-28 3-26 0zM11893 1637l26-2-27 3-27 1z"/>
<path fill="#00f058" d="M11866 1639l27-2-28 2-27 2z"/>
<path fill="#00f050" d="M11839 1643l27-4-28 2-27 3zM11811 1648l28-5-28 1-27 4zM11784 1654l27-6-27 0-28 6zM11756 1662l28-8-28 0-27 7zM11729 1671l27-9-27-1-28 8zM11701 1681l28-10-28-2-28 10zM11673 1692l28-11-28-2-28 10zM11644 1705l29-13-28-3-28 13z"/>
<path fill="#00f058" d="M11616 1719l28-14-27-3-29 13zM11587 1735l29-16-28-4-28 15z"/>
<path fill="#00f060" d="M11559 1752l28-17-27-5-29 16z"/>
<path fill="#00f068" d="M11530 1770l29-18-28-6-29 18z"/>
<path fill="#00f070" d="M11501 1789l29-19-28-6-28 19z"/>
<path fill="#00f078" d="M11472 1810l29-21-27-6-30 20z"/>
<path fill="#00f080" d="M11443 1833l29-23-28-7-29 21z"/>
<path fill="#00f088" d="M11413 1856l30-23-28-9-29 23z"/>
<path fill="#00f098" d="M11384 1881l29-25-27-9-30 25z"/>
<path fill="#00f0a0" d="M11354 1908l30-27-28-9-29 26z"/>
<path fill="#00f0b0" d="M11324 1936l30-28-27-10-30 27z"/>
<path fill="#00f0c8" d="M11295 1965l29-29-27-11-30 28z"/>
<path fill="#00f8d8" d="M11265 1996l30-31-28-12-30 30z"/>
<path fill="#00f8e0" d="M11235 2028l30-32-28-13-30 32z"/>
<path fill="#00f8e8" d="M11204 2061l31-33-28-13-30 33z"/>
<path fill="#00f8f0" d="M11174 2096l30-35-27-13-30 34z"/>
<path fill="#00f0f8" d="M12373 1777l24 19-28 13-23-19zM12350 1760l23 17-27 13-24-18zM12326 1744l24 16-28 12-24-16z"/>
<path fill="#00f8f8" d="M12302 1729l24 15-28 12-23-16z"/>
<path fill="#00f8f0" d="M12278 1714l24 15-27 11-25-15z"/>
<path fill="#00f8e8" d="M12254 1701l24 13-28 11-24-14z"/>
<path fill="#00f8e0" d="M12229 1689l25 12-28 10-24-12z"/>
<path fill="#00f8d0" d="M12205 1678l24 11-27 10-25-12z"/>
<path fill="#00f0c0" d="M12180 1669l25 9-28 9-25-10z"/>
<path fill="#00f0b0" d="M12155 1660l25 9-28 8-25-9z"/>
<path fill="#00f0a0" d="M12129 1652l26 8-28 8-25-8z"/>
<path fill="#00f090" d="M12104 1646l25 6-27 8-26-7z"/>
<path fill="#00f080" d="M12078 1641l26 5-28 7-26-6z"/>
<path fill="#00f078" d="M12052 1637l26 4-28 6-25-5z"/>
<path fill="#00f070" d="M12026 1634l26 3-27 5-26-3z"/>
<path fill="#00f068" d="M12000 1632l26 2-27 5-27-3z"/>
<path fill="#00f060" d="M11974 1631l26 1-28 4-26-1z"/>
<path fill="#00f058" d="M11947 1632l27-1-28 4-27 0z"/>
<path fill="#00f050" d="M11920 1634l27-2-28 3-26 2zM11893 1637l27-3-27 3-27 2zM11866 1641l27-4-27 2-27 4z"/>
<path fill="#00f048" d="M11839 1647l27-6-27 2-28 5zM11812 1654l27-7-28 1-27 6zM11784 1662l28-8-28 0-28 8zM11756 1672l28-10-28 0-27 9zM11728 1683l28-11-27-1-28 10zM11700 1695l28-12-27-2-28 11z"/>
<path fill="#00f050" d="M11672 1708l28-13-27-3-29 13zM11644 1723l28-15-28-3-28 14z"/>
<path fill="#00f058" d="M11615 1739l29-16-28-4-29 16z"/>
<path fill="#00f060" d="M11586 1757l29-18-28-4-28 17zM11557 1775l29-18-27-5-29 18z"/>
<path fill="#00f068" d="M11529 1796l28-21-27-5-29 19z"/>
<path fill="#00f070" d="M11499 1817l30-21-28-7-29 21z"/>
<path fill="#00f080" d="M11470 1840l29-23-27-7-29 23z"/>
<path fill="#00f088" d="M11441 1864l29-24-27-7-30 23z"/>
<path fill="#00f090" d="M11411 1890l30-26-28-8-29 25z"/>
<path fill="#00f0a0" d="M11382 1917l29-27-27-9-30 27z"/>
<path fill="#00f0b0" d="M11352 1946l30-29-28-9-30 28z"/>
<path fill="#00f0c8" d="M11322 1976l30-30-28-10-29 29z"/>
<path fill="#00f8d8" d="M11292 2007l30-31-27-11-30 31z"/>
<path fill="#00f8e0" d="M11262 2040l30-33-27-11-30 32z"/>
<path fill="#00f8e8" d="M11232 2074l30-34-27-12-31 33z"/>
<path fill="#00f8f0" d="M11202 2110l30-36-28-13-30 35z"/>
<path fill="#00f0f8" d="M12401 1764l24 17-28 15-24-19zM12378 1747l23 17-28 13-23-17z"/>
<path fill="#00f8f8" d="M12354 1731l24 16-28 13-24-16z"/>
<path fill="#00f8f0" d="M12330 1716l24 15-28 13-24-15z"/>
<path fill="#00f8e8" d="M12306 1703l24 13-28 13-24-15z"/>
<path fill="#00f8e0" d="M12282 1690l24 13-28 11-24-13z"/>
<path fill="#00f8d0" d="M12257 1679l25 11-28 11-25-12z"/>
<path fill="#00f0c0" d="M12232 1669l25 10-28 10-24-11z"/>
<path fill="#00f0b0" d="M12208 1659l24 10-27 9-25-9z"/>
<path fill="#00f0a0" d="M12182 1651l26 8-28 10-25-9z"/>
<path fill="#00f090" d="M12157 1644l25 7-27 9-26-8z"/>
<path fill="#00f080" d="M12132 1638l25 6-28 8-25-6z"/>
<path fill="#00f078" d="M12106 1634l26 4-28 8-26-5z"/>
<path fill="#00f070" d="M12080 1630l26 4-28 7-26-4z"/>
<path fill="#00f068" d="M12054 1628l26 2-28 7-26-3z"/>
<path fill="#00f060" d="M12028 1627l26 1-28 6-26-2z"/>
<path fill="#00f058" d="M12002 1627l26 0-28 5-26-1z"/>
<path fill="#00f050" d="M11975 1628l27-1-28 4-27 1zM11948 1630l27-2-28 4-27 2z"/>
<path fill="#00f048" d="M11921 1634l27-4-28 4-27 3zM11894 1639l27-5-28 3-27 4zM11867 1646l27-7-28 2-27 6zM11839 1653l28-7-28 1-27 7zM11812 1662l27-9-27 1-28 8zM11784 1672l28-10-28 0-28 10zM11756 1684l28-12-28 0-28 11zM11728 1696l28-12-28-1-28 12zM11700 1710l28-14-28-1-28 13z"/>
<path fill="#00f050" d="M11671 1726l29-16-28-2-28 15zM11643 1743l28-17-27-3-29 16z"/>
<path fill="#00f058" d="M11614 1761l29-18-28-4-29 18z"/>
<path fill="#00f060" d="M11585 1780l29-19-28-4-29 18z"/>
<path fill="#00f068" d="M11556 1801l29-21-28-5-28 21z"/>
<path fill="#00f070" d="M11527 1823l29-22-27-5-30 21z"/>
<path fill="#00f078" d="M11498 1847l29-24-28-6-29 23z"/>
<path fill="#00f088" d="M11468 1872l30-25-28-7-29 24z"/>
<path fill="#00f090" d="M11439 1898l29-26-27-8-30 26z"/>
<path fill="#00f0a0" d="M11409 1926l30-28-28-8-29 27z"/>
<path fill="#00f0b0" d="M11380 1955l29-29-27-9-30 29z"/>
<path fill="#00f0c8" d="M11350 1986l30-31-28-9-30 30z"/>
<path fill="#00f8d8" d="M11320 2018l30-32-28-10-30 31z"/>
<path fill="#00f8e0" d="M11290 2052l30-34-28-11-30 33z"/>
<path fill="#00f8e8" d="M11259 2086l31-34-28-12-30 34z"/>
<path fill="#00f8f0" d="M11229 2123l30-37-27-12-30 36z"/>
<path fill="#00f0f8" d="M12429 1749l24 17-28 15-24-17z"/>
<path fill="#00f8f8" d="M12406 1733l23 16-28 15-23-17z"/>
<path fill="#00f8f0" d="M12382 1718l24 15-28 14-24-16z"/>
<path fill="#00f8e8" d="M12358 1704l24 14-28 13-24-15z"/>
<path fill="#00f8e0" d="M12334 1691l24 13-28 12-24-13z"/>
<path fill="#00f8d0" d="M12310 1679l24 12-28 12-24-13z"/>
<path fill="#00f0c0" d="M12285 1668l25 11-28 11-25-11z"/>
<path fill="#00f0b0" d="M12261 1658l24 10-28 11-25-10z"/>
<path fill="#00f098" d="M12236 1649l25 9-29 11-24-10z"/>
<path fill="#00f088" d="M12211 1642l25 7-28 10-26-8z"/>
<path fill="#00f080" d="M12185 1635l26 7-29 9-25-7z"/>
<path fill="#00f078" d="M12160 1630l25 5-28 9-25-6z"/>
<path fill="#00f068" d="M12134 1626l26 4-28 8-26-4z"/>
<path fill="#00f060" d="M12108 1623l26 3-28 8-26-4z"/>
<path fill="#00f058" d="M12082 1621l26 2-28 7-26-2z"/>
<path fill="#00f050" d="M12056 1621l26 0-28 7-26-1zM12030 1621l26 0-28 6-26 0z"/>
<path fill="#00f048" d="M12003 1623l27-2-28 6-27 1zM11976 1626l27-3-28 5-27 2zM11949 1631l27-5-28 4-27 4z"/>
<path fill="#00f040" d="M11922 1636l27-5-28 3-27 5zM11895 1643l27-7-28 3-27 7zM11867 1651l28-8-28 3-28 7zM11840 1661l27-10-28 2-27 9zM11812 1672l28-11-28 1-28 10zM11784 1684l28-12-28 0-28 12z"/>
<path fill="#00f048" d="M11756 1697l28-13-28 0-28 12zM11728 1712l28-15-28-1-28 14zM11699 1728l29-16-28-2-29 16z"/>
<path fill="#00f050" d="M11671 1745l28-17-28-2-28 17z"/>
<path fill="#00f058" d="M11642 1764l29-19-28-2-29 18z"/>
<path fill="#00f060" d="M11613 1784l29-20-28-3-29 19z"/>
<path fill="#00f068" d="M11584 1806l29-22-28-4-29 21z"/>
<path fill="#00f070" d="M11555 1829l29-23-28-5-29 22z"/>
<path fill="#00f078" d="M11526 1853l29-24-28-6-29 24z"/>
<path fill="#00f080" d="M11496 1879l30-26-28-6-30 25z"/>
<path fill="#00f090" d="M11467 1906l29-27-28-7-29 26z"/>
<path fill="#00f0a0" d="M11437 1934l30-28-28-8-30 28z"/>
<path fill="#00f0b0" d="M11407 1964l30-30-28-8-29 29z"/>
<path fill="#00f0c8" d="M11377 1996l30-32-27-9-30 31z"/>
<path fill="#00f8d8" d="M11347 2028l30-32-27-10-30 32z"/>
<path fill="#00f8e0" d="M11317 2063l30-35-27-10-30 34z"/>
<path fill="#00f8e8" d="M11287 2098l30-35-27-11-31 34z"/>
<path fill="#00f8f0" d="M11257 2135l30-37-28-12-30 37z"/>
<path fill="#00f8f8" d="M12458 1734l23 16-28 16-24-17z"/>
<path fill="#00f8f0" d="M12434 1718l24 16-29 15-23-16z"/>
<path fill="#00f8e8" d="M12410 1703l24 15-28 15-24-15z"/>
<path fill="#00f8e0" d="M12387 1690l23 13-28 15-24-14z"/>
<path fill="#00f8d0" d="M12362 1677l25 13-29 14-24-13z"/>
<path fill="#00f0c0" d="M12338 1666l24 11-28 14-24-12z"/>
<path fill="#00f0a8" d="M12314 1656l24 10-28 13-25-11z"/>
<path fill="#00f098" d="M12289 1646l25 10-29 12-24-10z"/>
<path fill="#00f088" d="M12264 1638l25 8-28 12-25-9z"/>
<path fill="#00f080" d="M12239 1631l25 7-28 11-25-7z"/>
<path fill="#00f070" d="M12214 1625l25 6-28 11-26-7z"/>
<path fill="#00f068" d="M12188 1621l26 4-29 10-25-5z"/>
<path fill="#00f060" d="M12162 1617l26 4-28 9-26-4z"/>
<path fill="#00f058" d="M12137 1615l25 2-28 9-26-3z"/>
<path fill="#00f050" d="M12111 1614l26 1-29 8-26-2z"/>
<path fill="#00f048" d="M12084 1614l27 0-29 7-26 0zM12058 1615l26-1-28 7-26 0z"/>
<path fill="#00f040" d="M12031 1617l27-2-28 6-27 2zM12005 1621l26-4-28 6-27 3zM11978 1626l27-5-29 5-27 5zM11951 1633l27-7-29 5-27 5zM11923 1640l28-7-29 3-27 7zM11896 1649l27-9-28 3-28 8zM11868 1659l28-10-29 2-27 10zM11840 1670l28-11-28 2-28 11zM11812 1683l28-13-28 2-28 12zM11784 1697l28-14-28 1-28 13z"/>
<path fill="#00f048" d="M11756 1713l28-16-28 0-28 15zM11728 1729l28-16-28-1-29 16zM11699 1748l29-19-29-1-28 17z"/>
<path fill="#00f050" d="M11670 1767l29-19-28-3-29 19z"/>
<path fill="#00f058" d="M11641 1788l29-21-28-3-29 20z"/>
<path fill="#00f060" d="M11612 1810l29-22-28-4-29 22z"/>
<path fill="#00f070" d="M11583 1834l29-24-28-4-29 23z"/>
<path fill="#00f078" d="M11554 1859l29-25-28-5-29 24z"/>
<path fill="#00f080" d="M11524 1885l30-26-28-6-30 26z"/>
<path fill="#00f090" d="M11495 1913l29-28-28-6-29 27z"/>
<path fill="#00f0a0" d="M11465 1942l30-29-28-7-30 28z"/>
<path fill="#00f0b0" d="M11435 1973l30-31-28-8-30 30z"/>
<path fill="#00f0c8" d="M11405 2005l30-32-28-9-30 32z"/>
<path fill="#00f8d8" d="M11375 2038l30-33-28-9-30 32z"/>
<path fill="#00f8e0" d="M11345 2073l30-35-28-10-30 35z"/>
<path fill="#00f8e8" d="M11315 2109l30-36-28-10-30 35z"/>
<path fill="#00f8f0" d="M11285 2147l30-38-28-11-30 37zM12486 1718l24 16-29 16-23-16z"/>
<path fill="#00f8e8" d="M12463 1702l23 16-28 16-24-16z"/>
<path fill="#00f8e0" d="M12439 1688l24 14-29 16-24-15z"/>
<path fill="#00f8d0" d="M12415 1675l24 13-29 15-23-13z"/>
<path fill="#00f0c0" d="M12391 1663l24 12-28 15-25-13z"/>
<path fill="#00f0a8" d="M12367 1652l24 11-29 14-24-11z"/>
<path fill="#00f098" d="M12342 1643l25 9-29 14-24-10z"/>
<path fill="#00f088" d="M12317 1634l25 9-28 13-25-10z"/>
<path fill="#00f078" d="M12293 1626l24 8-28 12-25-8z"/>
<path fill="#00f070" d="M12267 1620l26 6-29 12-25-7z"/>
<path fill="#00f060" d="M12242 1615l25 5-28 11-25-6z"/>
<path fill="#00f058" d="M12217 1611l25 4-28 10-26-4z"/>
<path fill="#00f050" d="M12191 1608l26 3-29 10-26-4z"/>
<path fill="#00f048" d="M12165 1606l26 2-29 9-25-2zM12139 1605l26 1-28 9-26-1z"/>
<path fill="#00f040" d="M12113 1606l26-1-28 9-27 0zM12086 1608l27-2-29 8-26 1zM12060 1611l26-3-28 7-27 2zM12033 1615l27-4-29 6-26 4zM12006 1621l27-6-28 6-27 5zM11979 1628l27-7-28 5-27 7zM11952 1636l27-8-28 5-28 7zM11924 1646l28-10-29 4-27 9zM11897 1656l27-10-28 3-28 10zM11869 1669l28-13-29 3-28 11zM11841 1682l28-13-29 1-28 13zM11813 1697l28-15-29 1-28 14zM11784 1713l29-16-29 0-28 16zM11756 1730l28-17-28 0-28 16z"/>
<path fill="#00f048" d="M11727 1749l29-19-28-1-29 19z"/>
<path fill="#00f050" d="M11699 1769l28-20-28-1-29 19zM11670 1791l29-22-29-2-29 21z"/>
<path fill="#00f060" d="M11641 1813l29-22-29-3-29 22z"/>
<path fill="#00f068" d="M11611 1838l30-25-29-3-29 24z"/>
<path fill="#00f070" d="M11582 1863l29-25-28-4-29 25z"/>
<path fill="#00f080" d="M11553 1890l29-27-28-4-30 26z"/>
<path fill="#00f090" d="M11523 1919l30-29-29-5-29 28z"/>
<path fill="#00f0a0" d="M11493 1949l30-30-28-6-30 29z"/>
<path fill="#00f0b0" d="M11464 1980l29-31-28-7-30 31z"/>
<path fill="#00f0c8" d="M11434 2013l30-33-29-7-30 32z"/>
<path fill="#00f8d8" d="M11404 2047l30-34-29-8-30 33z"/>
<path fill="#00f8e0" d="M11373 2083l31-36-29-9-30 35z"/>
<path fill="#00f8e8" d="M11343 2120l30-37-28-10-30 36z"/>
<path fill="#00f8f0" d="M11313 2158l30-38-28-11-30 38z"/>
<path fill="#00f8e8" d="M12515 1700l23 16-28 18-24-16z"/>
<path fill="#00f8e0" d="M12492 1686l23 14-29 18-23-16z"/>
<path fill="#00f8d0" d="M12468 1672l24 14-29 16-24-14z"/>
<path fill="#00f0b8" d="M12444 1660l24 12-29 16-24-13z"/>
<path fill="#00f0a8" d="M12420 1648l24 12-29 15-24-12z"/>
<path fill="#00f090" d="M12396 1638l24 10-29 15-24-11z"/>
<path fill="#00f080" d="M12371 1629l25 9-29 14-25-9z"/>
<path fill="#00f078" d="M12346 1621l25 8-29 14-25-9z"/>
<path fill="#00f068" d="M12321 1614l25 7-29 13-24-8z"/>
<path fill="#00f060" d="M12296 1608l25 6-28 12-26-6z"/>
<path fill="#00f058" d="M12271 1603l25 5-29 12-25-5z"/>
<path fill="#00f048" d="M12245 1600l26 3-29 12-25-4zM12220 1597l25 3-28 11-26-3z"/>
<path fill="#00f040" d="M12194 1596l26 1-29 11-26-2zM12168 1596l26 0-29 10-26-1zM12142 1598l26-2-29 9-26 1zM12115 1600l27-2-29 8-27 2zM12089 1604l26-4-29 8-26 3z"/>
<path fill="#08f040" d="M12062 1609l27-5-29 7-27 4zM12035 1615l27-6-29 6-27 6zM12008 1623l27-8-29 6-27 7zM11980 1632l28-9-29 5-27 8zM11953 1642l27-10-28 4-28 10zM11925 1653l28-11-29 4-27 10z"/>
<path fill="#00f040" d="M11897 1666l28-13-28 3-28 13zM11869 1680l28-14-28 3-28 13zM11841 1695l28-15-28 2-28 15zM11813 1712l28-17-28 2-29 16zM11784 1730l29-18-29 1-28 17z"/>
<path fill="#00f048" d="M11756 1750l28-20-28 0-29 19zM11727 1770l29-20-29-1-28 20z"/>
<path fill="#00f050" d="M11698 1793l29-23-28-1-29 22z"/>
<path fill="#00f058" d="M11669 1816l29-23-28-2-29 22z"/>
<path fill="#00f060" d="M11640 1841l29-25-28-3-30 25z"/>
<path fill="#00f070" d="M11610 1868l30-27-29-3-29 25z"/>
<path fill="#00f080" d="M11581 1895l29-27-28-5-29 27z"/>
<path fill="#00f088" d="M11551 1924l30-29-28-5-30 29z"/>
<path fill="#00f098" d="M11522 1955l29-31-28-5-30 30z"/>
<path fill="#00f0b0" d="M11492 1987l30-32-29-6-29 31z"/>
<path fill="#00f0c0" d="M11462 2020l30-33-28-7-30 33z"/>
<path fill="#00f8d8" d="M11432 2055l30-35-28-7-30 34z"/>
<path fill="#00f8e0" d="M11402 2092l30-37-28-8-31 36z"/>
<path fill="#00f8e8" d="M11371 2129l31-37-29-9-30 37z"/>
<path fill="#00f8f0" d="M11341 2169l30-40-28-9-30 38z"/>
<path fill="#00f8e0" d="M12544 1682l23 16-29 18-23-16z"/>
<path fill="#00f8d0" d="M12521 1668l23 14-29 18-23-14z"/>
<path fill="#00f0b8" d="M12497 1655l24 13-29 18-24-14z"/>
<path fill="#00f0a0" d="M12473 1643l24 12-29 17-24-12z"/>
<path fill="#00f090" d="M12449 1633l24 10-29 17-24-12z"/>
<path fill="#00f080" d="M12425 1623l24 10-29 15-24-10z"/>
<path fill="#00f070" d="M12400 1614l25 9-29 15-25-9z"/>
<path fill="#00f068" d="M12375 1607l25 7-29 15-25-8z"/>
<path fill="#00f058" d="M12350 1600l25 7-29 14-25-7z"/>
<path fill="#00f050" d="M12325 1595l25 5-29 14-25-6z"/>
<path fill="#00f048" d="M12300 1591l25 4-29 13-25-5z"/>
<path fill="#00f040" d="M12274 1588l26 3-29 12-26-3zM12249 1586l25 2-29 12-25-3zM12223 1586l26 0-29 11-26-1zM12197 1586l26 0-29 10-26 0z"/>
<path fill="#08f040" d="M12171 1588l26-2-29 10-26 2zM12144 1591l27-3-29 10-27 2zM12117 1596l27-5-29 9-26 4zM12091 1602l26-6-28 8-27 5zM12064 1608l27-6-29 7-27 6zM12037 1617l27-9-29 7-27 8zM12009 1626l28-9-29 6-28 9zM11982 1637l27-11-29 6-27 10zM11954 1649l28-12-29 5-28 11zM11926 1662l28-13-29 4-28 13zM11898 1677l28-15-29 4-28 14z"/>
<path fill="#00f040" d="M11870 1693l28-16-29 3-28 15zM11842 1711l28-18-29 2-28 17zM11813 1729l29-18-29 1-29 18zM11784 1750l29-21-29 1-28 20z"/>
<path fill="#00f048" d="M11756 1771l28-21-28 0-29 20zM11727 1794l29-23-29-1-29 23z"/>
<path fill="#00f050" d="M11698 1818l29-24-29-1-29 23z"/>
<path fill="#00f060" d="M11668 1844l30-26-29-2-29 25z"/>
<path fill="#00f068" d="M11639 1871l29-27-28-3-30 27z"/>
<path fill="#00f078" d="M11610 1899l29-28-29-3-29 27z"/>
<path fill="#00f088" d="M11580 1929l30-30-29-4-30 29z"/>
<path fill="#00f098" d="M11550 1961l30-32-29-5-29 31z"/>
<path fill="#00f0a8" d="M11520 1993l30-32-28-6-30 32z"/>
<path fill="#00f0c0" d="M11490 2027l30-34-28-6-30 33z"/>
<path fill="#00f8d8" d="M11460 2063l30-36-28-7-30 35z"/>
<path fill="#00f8e0" d="M11430 2100l30-37-28-8-30 37z"/>
<path fill="#00f8e8" d="M11400 2138l30-38-28-8-31 37z"/>
<path fill="#00f8f0" d="M11369 2178l31-40-29-9-30 40z"/>
<path fill="#00f0c8" d="M12573 1664l24 14-30 20-23-16z"/>
<path fill="#00f0b0" d="M12550 1650l23 14-29 18-23-14z"/>
<path fill="#00f0a0" d="M12526 1638l24 12-29 18-24-13z"/>
<path fill="#00f088" d="M12502 1626l24 12-29 17-24-12z"/>
<path fill="#00f078" d="M12478 1616l24 10-29 17-24-10z"/>
<path fill="#00f070" d="M12454 1607l24 9-29 17-24-10z"/>
<path fill="#00f060" d="M12429 1599l25 8-29 16-25-9z"/>
<path fill="#00f050" d="M12405 1592l24 7-29 15-25-7z"/>
<path fill="#00f048" d="M12380 1586l25 6-30 15-25-7zM12354 1581l26 5-30 14-25-5z"/>
<path fill="#00f040" d="M12329 1578l25 3-29 14-25-4zM12304 1575l25 3-29 13-26-3zM12278 1574l26 1-30 13-25-2z"/>
<path fill="#08f040" d="M12252 1574l26 0-29 12-26 0zM12226 1576l26-2-29 12-26 0zM12200 1578l26-2-29 10-26 2zM12173 1582l27-4-29 10-27 3z"/>
<path fill="#08f038" d="M12147 1587l26-5-29 9-27 5zM12120 1593l27-6-30 9-26 6zM12093 1601l27-8-29 9-27 6zM12066 1610l27-9-29 7-27 9zM12038 1620l28-10-29 7-28 9zM12011 1631l27-11-29 6-27 11zM11983 1644l28-13-29 6-28 12z"/>
<path fill="#08f040" d="M11955 1658l28-14-29 5-28 13zM11927 1674l28-16-29 4-28 15zM11899 1690l28-16-29 3-28 16zM11871 1708l28-18-29 3-28 18z"/>
<path fill="#00f040" d="M11842 1728l29-20-29 3-29 18zM11813 1749l29-21-29 1-29 21zM11785 1771l28-22-29 1-28 21z"/>
<path fill="#00f048" d="M11756 1795l29-24-29 0-29 23z"/>
<path fill="#00f050" d="M11727 1820l29-25-29-1-29 24z"/>
<path fill="#00f058" d="M11697 1846l30-26-29-2-30 26z"/>
<path fill="#00f068" d="M11668 1874l29-28-29-2-29 27z"/>
<path fill="#00f070" d="M11638 1903l30-29-29-3-29 28z"/>
<path fill="#00f080" d="M11609 1933l29-30-28-4-30 30z"/>
<path fill="#00f090" d="M11579 1965l30-32-29-4-30 32z"/>
<path fill="#00f0a8" d="M11549 1999l30-34-29-4-30 32z"/>
<path fill="#00f0c0" d="M11519 2034l30-35-29-6-30 34z"/>
<path fill="#00f8d0" d="M11489 2070l30-36-29-7-30 36z"/>
<path fill="#00f8e0" d="M11459 2108l30-38-29-7-30 37z"/>
<path fill="#00f8e8" d="M11428 2147l31-39-29-8-30 38z"/>
<path fill="#00f8f0" d="M11398 2188l30-41-28-9-31 40z"/>
<path fill="#00f0b0" d="M12603 1644l23 14-29 20-24-14z"/>
<path fill="#00f098" d="M12579 1631l24 13-30 20-23-14z"/>
<path fill="#00f088" d="M12556 1619l23 12-29 19-24-12z"/>
<path fill="#00f078" d="M12532 1608l24 11-30 19-24-12z"/>
<path fill="#00f068" d="M12508 1598l24 10-30 18-24-10z"/>
<path fill="#00f058" d="M12483 1590l25 8-30 18-24-9z"/>
<path fill="#00f050" d="M12459 1582l24 8-29 17-25-8z"/>
<path fill="#00f048" d="M12434 1576l25 6-30 17-24-7z"/>
<path fill="#00f040" d="M12409 1571l25 5-29 16-25-6zM12384 1567l25 4-29 15-26-5zM12359 1564l25 3-30 14-25-3z"/>
<path fill="#08f040" d="M12333 1562l26 2-30 14-25-3zM12307 1562l26 0-29 13-26-1z"/>
<path fill="#08f038" d="M12281 1562l26 0-29 12-26 0zM12255 1564l26-2-29 12-26 2zM12229 1567l26-3-29 12-26 2zM12203 1572l26-5-29 11-27 4zM12176 1577l27-5-30 10-26 5zM12149 1584l27-7-29 10-27 6zM12122 1593l27-9-29 9-27 8zM12095 1602l27-9-29 8-27 9zM12068 1613l27-11-29 8-28 10zM12040 1625l28-12-30 7-27 11zM12012 1638l28-13-29 6-28 13zM11984 1653l28-15-29 6-28 14zM11956 1669l28-16-29 5-28 16z"/>
<path fill="#08f040" d="M11928 1687l28-18-29 5-28 16zM11900 1706l28-19-29 3-28 18zM11871 1726l29-20-29 2-29 20z"/>
<path fill="#00f040" d="M11843 1747l28-21-29 2-29 21zM11814 1770l29-23-30 2-28 22zM11785 1794l29-24-29 1-29 24z"/>
<path fill="#00f048" d="M11756 1820l29-26-29 1-29 25z"/>
<path fill="#00f050" d="M11726 1847l30-27-29 0-30 26z"/>
<path fill="#00f060" d="M11697 1876l29-29-29-1-29 28z"/>
<path fill="#00f070" d="M11667 1906l30-30-29-2-30 29z"/>
<path fill="#00f080" d="M11638 1937l29-31-29-3-29 30z"/>
<path fill="#00f090" d="M11608 1970l30-33-29-4-30 32z"/>
<path fill="#00f0a0" d="M11578 2004l30-34-29-5-30 34z"/>
<path fill="#00f0b8" d="M11548 2039l30-35-29-5-30 35z"/>
<path fill="#00f8d0" d="M11518 2076l30-37-29-5-30 36z"/>
<path fill="#00f8e0" d="M11487 2115l31-39-29-6-30 38z"/>
<path fill="#00f8e8" d="M11457 2155l30-40-28-7-31 39z"/>
<path fill="#00f8f0" d="M11426 2196l31-41-29-8-30 41z"/>
<path fill="#00f090" d="M12633 1623l23 14-30 21-23-14z"/>
<path fill="#00f080" d="M12609 1611l24 12-30 21-24-13z"/>
<path fill="#00f070" d="M12585 1599l24 12-30 20-23-12z"/>
<path fill="#00f060" d="M12562 1589l23 10-29 20-24-11z"/>
<path fill="#00f050" d="M12537 1580l25 9-30 19-24-10z"/>
<path fill="#00f048" d="M12513 1572l24 8-29 18-25-8z"/>
<path fill="#00f040" d="M12488 1565l25 7-30 18-24-8zM12464 1559l24 6-29 17-25-6zM12439 1555l25 4-30 17-25-5z"/>
<path fill="#08f040" d="M12414 1551l25 4-30 16-25-4zM12388 1549l26 2-30 16-25-3z"/>
<path fill="#08f038" d="M12363 1548l25 1-29 15-26-2zM12337 1548l26 0-30 14-26 0zM12311 1549l26-1-30 14-26 0zM12285 1552l26-3-30 13-26 2zM12259 1556l26-4-30 12-26 3zM12232 1561l27-5-30 11-26 5zM12206 1567l26-6-29 11-27 5zM12179 1575l27-8-30 10-27 7zM12152 1583l27-8-30 9-27 9zM12124 1594l28-11-30 10-27 9zM12097 1605l27-11-29 8-27 11zM12069 1618l28-13-29 8-28 12zM12042 1632l27-14-29 7-28 13zM12014 1647l28-15-30 6-28 15zM11986 1664l28-17-30 6-28 16zM11958 1682l28-18-30 5-28 18z"/>
<path fill="#08f040" d="M11929 1702l29-20-30 5-28 19zM11901 1723l28-21-29 4-29 20zM11872 1745l29-22-30 3-28 21z"/>
<path fill="#00f040" d="M11843 1769l29-24-29 2-29 23zM11814 1794l29-25-29 1-29 24z"/>
<path fill="#00f048" d="M11785 1820l29-26-29 0-29 26z"/>
<path fill="#00f050" d="M11755 1848l30-28-29 0-30 27z"/>
<path fill="#00f058" d="M11726 1877l29-29-29-1-29 29z"/>
<path fill="#00f068" d="M11696 1908l30-31-29-1-30 30z"/>
<path fill="#00f078" d="M11667 1940l29-32-29-2-29 31z"/>
<path fill="#00f088" d="M11637 1973l30-33-29-3-30 33z"/>
<path fill="#00f0a0" d="M11607 2008l30-35-29-3-30 34z"/>
<path fill="#00f0b0" d="M11577 2044l30-36-29-4-30 35z"/>
<path fill="#00f8d0" d="M11547 2082l30-38-29-5-30 37z"/>
<path fill="#00f8e0" d="M11516 2121l31-39-29-6-31 39z"/>
<path fill="#00f8e8" d="M11486 2162l30-41-29-6-30 40z"/>
<path fill="#00f8f0" d="M11455 2204l31-42-29-7-31 41z"/>
<path fill="#00f078" d="M12663 1601l23 13-30 23-23-14z"/>
<path fill="#00f068" d="M12639 1589l24 12-30 22-24-12z"/>
<path fill="#00f058" d="M12615 1579l24 10-30 22-24-12z"/>
<path fill="#00f050" d="M12592 1569l23 10-30 20-23-10z"/>
<path fill="#00f048" d="M12567 1560l25 9-30 20-25-9z"/>
<path fill="#00f040" d="M12543 1553l24 7-30 20-24-8zM12518 1547l25 6-30 19-25-7z"/>
<path fill="#08f040" d="M12494 1541l24 6-30 18-24-6zM12469 1537l25 4-30 18-25-4z"/>
<path fill="#08f038" d="M12444 1535l25 2-30 18-25-4zM12418 1533l26 2-30 16-26-2zM12393 1533l25 0-30 16-25-1zM12367 1533l26 0-30 15-26 0zM12341 1535l26-2-30 15-26 1z"/>
<path fill="#10f030" d="M12315 1538l26-3-30 14-26 3zM12289 1543l26-5-30 14-26 4zM12262 1549l27-6-30 13-27 5zM12235 1556l27-7-30 12-26 6zM12209 1564l26-8-29 11-27 8zM12181 1573l28-9-30 11-27 8zM12154 1584l27-11-29 10-28 11zM12127 1596l27-12-30 10-27 11zM12099 1610l28-14-30 9-28 13z"/>
<path fill="#10f038" d="M12071 1625l28-15-30 8-27 14z"/>
<path fill="#08f038" d="M12044 1641l27-16-29 7-28 15zM12015 1658l29-17-30 6-28 17zM11987 1677l28-19-29 6-28 18zM11959 1697l28-20-29 5-29 20zM11930 1719l29-22-30 5-28 21z"/>
<path fill="#08f040" d="M11901 1742l29-23-29 4-29 22zM11872 1766l29-24-29 3-29 24z"/>
<path fill="#00f040" d="M11843 1792l29-26-29 3-29 25zM11814 1819l29-27-29 2-29 26z"/>
<path fill="#00f048" d="M11785 1848l29-29-29 1-30 28z"/>
<path fill="#00f058" d="M11755 1878l30-30-30 0-29 29z"/>
<path fill="#00f060" d="M11726 1909l29-31-29-1-30 31z"/>
<path fill="#00f070" d="M11696 1942l30-33-30-1-29 32z"/>
<path fill="#00f080" d="M11666 1976l30-34-29-2-30 33z"/>
<path fill="#00f098" d="M11636 2012l30-36-29-3-30 35z"/>
<path fill="#00f0b0" d="M11606 2049l30-37-29-4-30 36z"/>
<path fill="#00f0c8" d="M11576 2087l30-38-29-5-30 38z"/>
<path fill="#00f8e0" d="M11545 2127l31-40-29-5-31 39z"/>
<path fill="#00f8e8" d="M11515 2169l30-42-29-6-30 41z"/>
<path fill="#00f8f0" d="M11484 2211l31-42-29-7-31 42z"/>
<path fill="#00f060" d="M12693 1579l23 12-30 23-23-13z"/>
<path fill="#00f050" d="M12669 1567l24 12-30 22-24-12z"/>
<path fill="#00f048" d="M12646 1557l23 10-30 22-24-10z"/>
<path fill="#00f040" d="M12622 1548l24 9-31 22-23-10zM12598 1540l24 8-30 21-25-9z"/>
<path fill="#08f040" d="M12573 1533l25 7-31 20-24-7zM12549 1528l24 5-30 20-25-6z"/>
<path fill="#08f038" d="M12524 1523l25 5-31 19-24-6zM12499 1520l25 3-30 18-25-4zM12474 1517l25 3-30 17-25-2z"/>
<path fill="#10f038" d="M12448 1516l26 1-30 18-26-2z"/>
<path fill="#10f030" d="M12423 1516l25 0-30 17-25 0zM12397 1518l26-2-30 17-26 0zM12371 1520l26-2-30 15-26 2zM12345 1524l26-4-30 15-26 3zM12319 1529l26-5-30 14-26 5zM12292 1536l27-7-30 14-27 6zM12265 1543l27-7-30 13-27 7zM12239 1552l26-9-30 13-26 8zM12211 1563l28-11-30 12-28 9zM12184 1574l27-11-30 10-27 11zM12157 1587l27-13-30 10-27 12zM12129 1601l28-14-30 9-28 14zM12101 1617l28-16-30 9-28 15zM12073 1633l28-16-30 8-27 16z"/>
<path fill="#10f038" d="M12045 1652l28-19-29 8-29 17z"/>
<path fill="#08f038" d="M12017 1671l28-19-30 6-28 19zM11989 1692l28-21-30 6-28 20zM11960 1714l29-22-30 5-29 22zM11931 1738l29-24-30 5-29 23z"/>
<path fill="#08f040" d="M11902 1763l29-25-30 4-29 24z"/>
<path fill="#00f040" d="M11873 1790l29-27-30 3-29 26zM11844 1817l29-27-30 2-29 27z"/>
<path fill="#00f048" d="M11815 1847l29-30-30 2-29 29z"/>
<path fill="#00f050" d="M11785 1877l30-30-30 1-30 30z"/>
<path fill="#00f060" d="M11755 1909l30-32-30 1-29 31z"/>
<path fill="#00f070" d="M11726 1943l29-34-29 0-30 33z"/>
<path fill="#00f080" d="M11696 1978l30-35-30-1-30 34z"/>
<path fill="#00f090" d="M11666 2014l30-36-30-2-30 36z"/>
<path fill="#00f0a8" d="M11635 2052l31-38-30-2-30 37z"/>
<path fill="#00f0c0" d="M11605 2091l30-39-29-3-30 38z"/>
<path fill="#00f8e0" d="M11575 2132l30-41-29-4-31 40z"/>
<path fill="#00f8e8" d="M11544 2174l31-42-30-5-30 42z"/>
<path fill="#00f8f0" d="M11514 2218l30-44-29-5-31 42z"/>
<path fill="#00f048" d="M12724 1555l23 12-31 24-23-12z"/>
<path fill="#00f040" d="M12700 1544l24 11-31 24-24-12zM12676 1535l24 9-31 23-23-10z"/>
<path fill="#08f040" d="M12652 1526l24 9-30 22-24-9zM12628 1519l24 7-30 22-24-8z"/>
<path fill="#08f038" d="M12604 1513l24 6-30 21-25-7zM12579 1507l25 6-31 20-24-5zM12554 1503l25 4-30 21-25-5z"/>
<path fill="#10f030" d="M12530 1501l24 2-30 20-25-3zM12504 1499l26 2-31 19-25-3zM12479 1499l25 0-30 18-26-1zM12453 1500l26-1-31 17-25 0zM12428 1502l25-2-30 16-26 2z"/>
<path fill="#18f030" d="M12402 1505l26-3-31 16-26 2zM12375 1509l27-4-31 15-26 4zM12349 1515l26-6-30 15-26 5zM12323 1522l26-7-30 14-27 7zM12296 1530l27-8-31 14-27 7zM12269 1540l27-10-31 13-26 9zM12242 1551l27-11-30 12-28 11zM12214 1563l28-12-31 12-27 11zM12187 1577l27-14-30 11-27 13z"/>
<path fill="#10f030" d="M12159 1592l28-15-30 10-28 14zM12132 1608l27-16-30 9-28 16zM12104 1625l28-17-31 9-28 16zM12075 1644l29-19-31 8-28 19zM12047 1664l28-20-30 8-28 19z"/>
<path fill="#08f038" d="M12019 1686l28-22-30 7-28 21zM11990 1709l29-23-30 6-29 22zM11961 1733l29-24-30 5-29 24z"/>
<path fill="#08f040" d="M11932 1759l29-26-30 5-29 25zM11903 1786l29-27-30 4-29 27z"/>
<path fill="#00f040" d="M11874 1815l29-29-30 4-29 27zM11844 1845l30-30-30 2-29 30z"/>
<path fill="#00f048" d="M11815 1876l29-31-29 2-30 30z"/>
<path fill="#00f058" d="M11785 1909l30-33-30 1-30 32z"/>
<path fill="#00f068" d="M11755 1944l30-35-30 0-29 34z"/>
<path fill="#00f078" d="M11725 1979l30-35-29-1-30 35z"/>
<path fill="#00f088" d="M11695 2016l30-37-29-1-30 36z"/>
<path fill="#00f0a0" d="M11665 2055l30-39-29-2-31 38z"/>
<path fill="#00f0c0" d="M11635 2095l30-40-30-3-30 39z"/>
<path fill="#00f8d8" d="M11604 2137l31-42-30-4-30 41z"/>
<path fill="#00f8e0" d="M11574 2180l30-43-29-5-31 42z"/>
<path fill="#00f8f0" d="M11543 2224l31-44-30-6-30 44z"/>
<path fill="#00f040" d="M12754 1531l24 11-31 25-23-12z"/>
<path fill="#08f040" d="M12731 1520l23 11-30 24-24-11zM12707 1511l24 9-31 24-24-9z"/>
<path fill="#08f038" d="M12683 1503l24 8-31 24-24-9zM12659 1497l24 6-31 23-24-7zM12635 1491l24 6-31 22-24-6z"/>
<path fill="#10f030" d="M12610 1486l25 5-31 22-25-6zM12585 1483l25 3-31 21-25-4zM12560 1481l25 2-31 20-24-2zM12535 1480l25 1-30 20-26-2z"/>
<path fill="#18f030" d="M12510 1480l25 0-31 19-25 0z"/>
<path fill="#20f030" d="M12484 1482l26-2-31 19-26 1z"/>
<path fill="#20f830" d="M12458 1484l26-2-31 18-25 2zM12432 1488l26-4-30 18-26 3z"/>
<path fill="#28f830" d="M12406 1493l26-5-30 17-27 4zM12380 1500l26-7-31 16-26 6z"/>
<path fill="#28f828" d="M12353 1508l27-8-31 15-26 7zM12326 1517l27-9-30 14-27 8z"/>
<path fill="#28f830" d="M12299 1527l27-10-30 13-27 10zM12272 1538l27-11-30 13-27 11z"/>
<path fill="#20f830" d="M12245 1551l27-13-30 13-28 12zM12217 1566l28-15-31 12-27 14z"/>
<path fill="#20f030" d="M12190 1581l27-15-30 11-28 15z"/>
<path fill="#18f030" d="M12162 1598l28-17-31 11-27 16z"/>
<path fill="#10f030" d="M12134 1616l28-18-30 10-28 17zM12106 1636l28-20-30 9-29 19zM12077 1657l29-21-31 8-28 20zM12049 1679l28-22-30 7-28 22z"/>
<path fill="#08f038" d="M12020 1703l29-24-30 7-29 23zM11991 1728l29-25-30 6-29 24zM11962 1755l29-27-30 5-29 26z"/>
<path fill="#08f040" d="M11933 1783l29-28-30 4-29 27zM11904 1812l29-29-30 3-29 29z"/>
<path fill="#00f040" d="M11874 1843l30-31-30 3-30 30z"/>
<path fill="#00f048" d="M11845 1875l29-32-30 2-29 31z"/>
<path fill="#00f050" d="M11815 1908l30-33-30 1-30 33z"/>
<path fill="#00f060" d="M11785 1943l30-35-30 1-30 35z"/>
<path fill="#00f070" d="M11755 1980l30-37-30 1-30 35z"/>
<path fill="#00f080" d="M11725 2018l30-38-30-1-30 37z"/>
<path fill="#00f098" d="M11695 2057l30-39-30-2-30 39z"/>
<path fill="#00f0b8" d="M11664 2098l31-41-30-2-30 40z"/>
<path fill="#00f8d0" d="M11634 2140l30-42-29-3-31 42z"/>
<path fill="#00f8e0" d="M11603 2184l31-44-30-3-30 43z"/>
<path fill="#00f8f0" d="M11573 2229l30-45-29-4-31 44z"/>
<path fill="#08f040" d="M12786 1505l23 11-31 26-24-11z"/>
<path fill="#08f038" d="M12762 1495l24 10-32 26-23-11zM12738 1487l24 8-31 25-24-9zM12714 1480l24 7-31 24-24-8z"/>
<path fill="#10f030" d="M12690 1473l24 7-31 23-24-6zM12666 1468l24 5-31 24-24-6zM12641 1464l25 4-31 23-25-5z"/>
<path fill="#18f030" d="M12616 1462l25 2-31 22-25-3z"/>
<path fill="#20f830" d="M12591 1460l25 2-31 21-25-2zM12566 1460l25 0-31 21-25-1z"/>
<path fill="#28f828" d="M12541 1461l25-1-31 20-25 0z"/>
<path fill="#30f828" d="M12515 1463l26-2-31 19-26 2zM12489 1466l26-3-31 19-26 2zM12463 1471l26-5-31 18-26 4zM12437 1477l26-6-31 17-26 5zM12411 1484l26-7-31 16-26 7zM12384 1492l27-8-31 16-27 8zM12357 1502l27-10-31 16-27 9zM12330 1513l27-11-31 15-27 10zM12303 1525l27-12-31 14-27 11zM12276 1539l27-14-31 13-27 13z"/>
<path fill="#28f828" d="M12248 1553l28-14-31 12-28 15zM12220 1570l28-17-31 13-27 15z"/>
<path fill="#20f830" d="M12193 1587l27-17-30 11-28 17z"/>
<path fill="#20f030" d="M12164 1606l29-19-31 11-28 18z"/>
<path fill="#18f030" d="M12136 1627l28-21-30 10-28 20z"/>
<path fill="#10f030" d="M12108 1648l28-21-30 9-29 21zM12079 1672l29-24-31 9-28 22zM12051 1696l28-24-30 7-29 24z"/>
<path fill="#08f038" d="M12022 1722l29-26-31 7-29 25zM11993 1749l29-27-31 6-29 27zM11963 1778l30-29-31 6-29 28z"/>
<path fill="#08f040" d="M11934 1808l29-30-30 5-29 29z"/>
<path fill="#00f040" d="M11905 1839l29-31-30 4-30 31zM11875 1872l30-33-31 4-29 32z"/>
<path fill="#00f048" d="M11845 1907l30-35-30 3-30 33z"/>
<path fill="#00f058" d="M11815 1943l30-36-30 1-30 35z"/>
<path fill="#00f068" d="M11785 1980l30-37-30 0-30 37z"/>
<path fill="#00f080" d="M11755 2019l30-39-30 0-30 38z"/>
<path fill="#00f090" d="M11725 2059l30-40-30-1-30 39z"/>
<path fill="#00f0b0" d="M11694 2100l31-41-30-2-31 41z"/>
<path fill="#00f8c8" d="M11664 2143l30-43-30-2-30 42z"/>
<path fill="#00f8e0" d="M11633 2188l31-45-30-3-31 44z"/>
<path fill="#00f8e8" d="M11603 2234l30-46-30-4-30 45z"/>
<path fill="#08f038" d="M12817 1478l23 11-31 27-23-11zM12793 1469l24 9-31 27-24-10z"/>
<path fill="#10f030" d="M12770 1462l23 7-31 26-24-8zM12746 1455l24 7-32 25-24-7z"/>
<path fill="#18f030" d="M12722 1449l24 6-32 25-24-7z"/>
<path fill="#20f030" d="M12697 1445l25 4-32 24-24-5z"/>
<path fill="#20f830" d="M12672 1441l25 4-31 23-25-4z"/>
<path fill="#28f828" d="M12648 1439l24 2-31 23-25-2z"/>
<path fill="#30f828" d="M12623 1438l25 1-32 23-25-2zM12597 1439l26-1-32 22-25 0z"/>
<path fill="#38f828" d="M12572 1440l25-1-31 21-25 1zM12546 1443l26-3-31 21-26 2z"/>
<path fill="#40f828" d="M12520 1447l26-4-31 20-26 3zM12494 1452l26-5-31 19-26 5zM12468 1459l26-7-31 19-26 6zM12442 1467l26-8-31 18-26 7zM12415 1476l27-9-31 17-27 8zM12388 1486l27-10-31 16-27 10zM12361 1498l27-12-31 16-27 11zM12334 1511l27-13-31 15-27 12z"/>
<path fill="#38f828" d="M12307 1525l27-14-31 14-27 14zM12279 1541l28-16-31 14-28 14z"/>
<path fill="#30f828" d="M12251 1558l28-17-31 12-28 17zM12223 1576l28-18-31 12-27 17z"/>
<path fill="#28f828" d="M12195 1596l28-20-30 11-29 19z"/>
<path fill="#20f830" d="M12167 1617l28-21-31 10-28 21z"/>
<path fill="#18f030" d="M12139 1639l28-22-31 10-28 21z"/>
<path fill="#10f030" d="M12110 1663l29-24-31 9-29 24zM12081 1688l29-25-31 9-28 24zM12052 1715l29-27-30 8-29 26z"/>
<path fill="#08f038" d="M12023 1743l29-28-30 7-29 27zM11994 1772l29-29-30 6-30 29zM11965 1803l29-31-31 6-29 30z"/>
<path fill="#08f040" d="M11935 1836l30-33-31 5-29 31z"/>
<path fill="#00f040" d="M11906 1869l29-33-30 3-30 33z"/>
<path fill="#00f048" d="M11876 1904l30-35-31 3-30 35z"/>
<path fill="#00f050" d="M11846 1941l30-37-31 3-30 36z"/>
<path fill="#00f060" d="M11816 1979l30-38-31 2-30 37z"/>
<path fill="#00f078" d="M11785 2019l31-40-31 1-30 39z"/>
<path fill="#00f088" d="M11755 2059l30-40-30 0-30 40z"/>
<path fill="#00f0a8" d="M11725 2102l30-43-30 0-31 41z"/>
<path fill="#00f0c0" d="M11694 2146l31-44-31-2-30 43z"/>
<path fill="#00f8e0" d="M11663 2191l31-45-30-3-31 45z"/>
<path fill="#00f8e8" d="M11633 2238l30-47-30-3-30 46z"/>
<path fill="#10f030" d="M12849 1451l23 9-32 29-23-11zM12825 1442l24 9-32 27-24-9z"/>
<path fill="#18f030" d="M12801 1435l24 7-32 27-23-7z"/>
<path fill="#20f830" d="M12777 1429l24 6-31 27-24-7z"/>
<path fill="#28f828" d="M12753 1424l24 5-31 26-24-6z"/>
<path fill="#30f828" d="M12729 1420l24 4-31 25-25-4z"/>
<path fill="#38f828" d="M12704 1418l25 2-32 25-25-4zM12679 1416l25 2-32 23-24-2z"/>
<path fill="#40f828" d="M12654 1416l25 0-31 23-25-1z"/>
<path fill="#48f828" d="M12629 1417l25-1-31 22-26 1zM12603 1419l26-2-32 22-25 1z"/>
<path fill="#48f820" d="M12578 1422l25-3-31 21-26 3z"/>
<path fill="#50f820" d="M12552 1427l26-5-32 21-26 4zM12526 1433l26-6-32 20-26 5zM12500 1440l26-7-32 19-26 7zM12473 1449l27-9-32 19-26 8zM12446 1458l27-9-31 18-27 9zM12420 1469l26-11-31 18-27 10zM12393 1482l27-13-32 17-27 12z"/>
<path fill="#48f828" d="M12365 1495l28-13-32 16-27 13zM12338 1510l27-15-31 16-27 14z"/>
<path fill="#40f828" d="M12310 1527l28-17-31 15-28 16zM12283 1545l27-18-31 14-28 17z"/>
<path fill="#38f828" d="M12255 1564l28-19-32 13-28 18z"/>
<path fill="#30f828" d="M12226 1584l29-20-32 12-28 20zM12198 1606l28-22-31 12-28 21z"/>
<path fill="#28f830" d="M12170 1629l28-23-31 11-28 22z"/>
<path fill="#20f030" d="M12141 1654l29-25-31 10-29 24z"/>
<path fill="#18f030" d="M12112 1680l29-26-31 9-29 25z"/>
<path fill="#10f030" d="M12083 1707l29-27-31 8-29 27zM12054 1736l29-29-31 8-29 28z"/>
<path fill="#08f038" d="M12025 1766l29-30-31 7-29 29zM11995 1798l30-32-31 6-29 31z"/>
<path fill="#08f040" d="M11966 1831l29-33-30 5-30 33z"/>
<path fill="#00f040" d="M11936 1865l30-34-31 5-29 33zM11906 1901l30-36-30 4-30 35z"/>
<path fill="#00f048" d="M11876 1939l30-38-30 3-30 37z"/>
<path fill="#00f058" d="M11846 1977l30-38-30 2-30 38z"/>
<path fill="#00f070" d="M11816 2018l30-41-30 2-31 40z"/>
<path fill="#00f080" d="M11786 2059l30-41-31 1-30 40z"/>
<path fill="#00f0a0" d="M11755 2103l31-44-31 0-30 43z"/>
<path fill="#00f0b8" d="M11724 2147l31-44-30-1-31 44z"/>
<path fill="#00f8d8" d="M11694 2193l30-46-30-1-31 45z"/>
<path fill="#00f8e8" d="M11663 2241l31-48-31-2-30 47z"/>
<path fill="#18f030" d="M12881 1422l23 9-32 29-23-9z"/>
<path fill="#20f830" d="M12857 1414l24 8-32 29-24-9z"/>
<path fill="#30f828" d="M12833 1408l24 6-32 28-24-7zM12809 1402l24 6-32 27-24-6z"/>
<path fill="#40f828" d="M12785 1398l24 4-32 27-24-5zM12761 1395l24 3-32 26-24-4z"/>
<path fill="#48f828" d="M12736 1393l25 2-32 25-25-2z"/>
<path fill="#50f820" d="M12711 1392l25 1-32 25-25-2zM12686 1392l25 0-32 24-25 0z"/>
<path fill="#58f820" d="M12661 1394l25-2-32 24-25 1zM12635 1397l26-3-32 23-26 2z"/>
<path fill="#60f820" d="M12610 1401l25-4-32 22-25 3zM12584 1406l26-5-32 21-26 5zM12558 1413l26-7-32 21-26 6zM12531 1420l27-7-32 20-26 7zM12505 1430l26-10-31 20-27 9zM12478 1440l27-10-32 19-27 9zM12451 1452l27-12-32 18-26 11z"/>
<path fill="#58f820" d="M12424 1465l27-13-31 17-27 13zM12397 1479l27-14-31 17-28 13z"/>
<path fill="#50f820" d="M12369 1495l28-16-32 16-27 15zM12342 1512l27-17-31 15-28 17z"/>
<path fill="#48f828" d="M12314 1531l28-19-32 15-27 18zM12286 1550l28-19-31 14-28 19z"/>
<path fill="#40f828" d="M12258 1572l28-22-31 14-29 20z"/>
<path fill="#38f828" d="M12229 1594l29-22-32 12-28 22z"/>
<path fill="#30f828" d="M12201 1618l28-24-31 12-28 23z"/>
<path fill="#28f828" d="M12172 1644l29-26-31 11-29 25z"/>
<path fill="#20f830" d="M12143 1670l29-26-31 10-29 26z"/>
<path fill="#18f030" d="M12114 1698l29-28-31 10-29 27z"/>
<path fill="#10f030" d="M12085 1728l29-30-31 9-29 29zM12056 1759l29-31-31 8-29 30z"/>
<path fill="#08f038" d="M12027 1791l29-32-31 7-30 32zM11997 1825l30-34-32 7-29 33z"/>
<path fill="#08f040" d="M11967 1861l30-36-31 6-30 34z"/>
<path fill="#00f040" d="M11937 1897l30-36-31 4-30 36z"/>
<path fill="#00f048" d="M11907 1936l30-39-31 4-30 38z"/>
<path fill="#00f050" d="M11877 1975l30-39-31 3-30 38z"/>
<path fill="#00f068" d="M11847 2016l30-41-31 2-30 41z"/>
<path fill="#00f080" d="M11816 2059l31-43-31 2-30 41z"/>
<path fill="#00f090" d="M11786 2103l30-44-30 0-31 44z"/>
<path fill="#00f0b0" d="M11755 2148l31-45-31 0-31 44z"/>
<path fill="#00f8d0" d="M11724 2195l31-47-31-1-30 46z"/>
<path fill="#00f8e0" d="M11693 2244l31-49-30-2-31 48z"/>
<path fill="#30f828" d="M12913 1392l24 9-33 30-23-9z"/>
<path fill="#38f828" d="M12890 1385l23 7-32 30-24-8z"/>
<path fill="#40f828" d="M12866 1379l24 6-33 29-24-6z"/>
<path fill="#48f828" d="M12842 1374l24 5-33 29-24-6z"/>
<path fill="#50f820" d="M12817 1371l25 3-33 28-24-4z"/>
<path fill="#58f820" d="M12793 1368l24 3-32 27-24-3zM12768 1367l25 1-32 27-25-2z"/>
<path fill="#60f820" d="M12743 1366l25 1-32 26-25-1zM12718 1367l25-1-32 26-25 0z"/>
<path fill="#68f820" d="M12693 1370l25-3-32 25-25 2zM12667 1373l26-3-32 24-26 3z"/>
<path fill="#70f820" d="M12642 1378l25-5-32 24-25 4zM12616 1384l26-6-32 23-26 5zM12590 1391l26-7-32 22-26 7zM12563 1400l27-9-32 22-27 7zM12537 1410l26-10-32 20-26 10zM12510 1421l27-11-32 20-27 10z"/>
<path fill="#68f820" d="M12483 1433l27-12-32 19-27 12zM12456 1447l27-14-32 19-27 13zM12429 1462l27-15-32 18-27 14z"/>
<path fill="#60f820" d="M12401 1479l28-17-32 17-28 16zM12374 1497l27-18-32 16-27 17z"/>
<path fill="#58f820" d="M12346 1516l28-19-32 15-28 19z"/>
<path fill="#50f820" d="M12318 1536l28-20-32 15-28 19z"/>
<path fill="#48f828" d="M12289 1558l29-22-32 14-28 22z"/>
<path fill="#40f828" d="M12261 1582l28-24-31 14-29 22z"/>
<path fill="#38f828" d="M12233 1606l28-24-32 12-28 24z"/>
<path fill="#30f828" d="M12204 1632l29-26-32 12-29 26z"/>
<path fill="#28f828" d="M12175 1660l29-28-32 12-29 26z"/>
<path fill="#20f830" d="M12146 1689l29-29-32 10-29 28z"/>
<path fill="#10f030" d="M12117 1719l29-30-32 9-29 30zM12087 1751l30-32-32 9-29 31z"/>
<path fill="#10f038" d="M12058 1784l29-33-31 8-29 32z"/>
<path fill="#08f038" d="M12028 1819l30-35-31 7-30 34zM11998 1855l30-36-31 6-30 36z"/>
<path fill="#08f040" d="M11968 1893l30-38-31 6-30 36z"/>
<path fill="#00f040" d="M11938 1932l30-39-31 4-30 39z"/>
<path fill="#00f048" d="M11908 1972l30-40-31 4-30 39z"/>
<path fill="#00f060" d="M11878 2014l30-42-31 3-30 41z"/>
<path fill="#00f070" d="M11847 2057l31-43-31 2-31 43z"/>
<path fill="#00f088" d="M11817 2102l30-45-31 2-30 44z"/>
<path fill="#00f0a8" d="M11786 2148l31-46-31 1-31 45z"/>
<path fill="#00f0c8" d="M11755 2196l31-48-31 0-31 47z"/>
<path fill="#00f8e0" d="M11724 2245l31-49-31-1-31 49z"/>
<path fill="#48f828" d="M12946 1362l23 7-32 32-24-9z"/>
<path fill="#50f820" d="M12922 1355l24 7-33 30-23-7z"/>
<path fill="#58f820" d="M12898 1350l24 5-32 30-24-6z"/>
<path fill="#60f820" d="M12874 1345l24 5-32 29-24-5zM12850 1342l24 3-32 29-25-3z"/>
<path fill="#68f820" d="M12826 1340l24 2-33 29-24-3z"/>
<path fill="#70f820" d="M12801 1340l25 0-33 28-25-1zM12776 1340l25 0-33 27-25-1z"/>
<path fill="#78f820" d="M12751 1342l25-2-33 26-25 1z"/>
<path fill="#78f818" d="M12725 1345l26-3-33 25-25 3z"/>
<path fill="#80f818" d="M12700 1349l25-4-32 25-26 3zM12674 1354l26-5-33 24-25 5zM12648 1361l26-7-32 24-26 6zM12622 1369l26-8-32 23-26 7zM12596 1378l26-9-32 22-27 9zM12569 1389l27-11-33 22-26 10zM12542 1401l27-12-32 21-27 11z"/>
<path fill="#78f818" d="M12515 1414l27-13-32 20-27 12z"/>
<path fill="#78f820" d="M12488 1428l27-14-32 19-27 14z"/>
<path fill="#70f820" d="M12461 1444l27-16-32 19-27 15zM12433 1462l28-18-32 18-28 17z"/>
<path fill="#68f820" d="M12406 1480l27-18-32 17-27 18z"/>
<path fill="#60f820" d="M12378 1500l28-20-32 17-28 19zM12350 1521l28-21-32 16-28 20z"/>
<path fill="#58f820" d="M12321 1544l29-23-32 15-29 22z"/>
<path fill="#50f820" d="M12293 1568l28-24-32 14-28 24z"/>
<path fill="#48f828" d="M12264 1594l29-26-32 14-28 24z"/>
<path fill="#40f828" d="M12236 1621l28-27-31 12-29 26z"/>
<path fill="#30f828" d="M12207 1649l29-28-32 11-29 28z"/>
<path fill="#28f828" d="M12178 1679l29-30-32 11-29 29z"/>
<path fill="#20f030" d="M12148 1710l30-31-32 10-29 30z"/>
<path fill="#10f030" d="M12119 1742l29-32-31 9-30 32zM12089 1776l30-34-32 9-29 33z"/>
<path fill="#08f038" d="M12060 1812l29-36-31 8-30 35zM12030 1849l30-37-32 7-30 36z"/>
<path fill="#08f040" d="M12000 1887l30-38-32 6-30 38z"/>
<path fill="#00f040" d="M11970 1927l30-40-32 6-30 39z"/>
<path fill="#00f048" d="M11939 1968l31-41-32 5-30 40z"/>
<path fill="#00f058" d="M11909 2011l30-43-31 4-30 42z"/>
<path fill="#00f070" d="M11878 2055l31-44-31 3-31 43z"/>
<path fill="#00f080" d="M11848 2101l30-46-31 2-30 45z"/>
<path fill="#00f0a0" d="M11817 2148l31-47-31 1-31 46z"/>
<path fill="#00f0c0" d="M11786 2196l31-48-31 0-31 48z"/>
<path fill="#00f8e0" d="M11755 2246l31-50-31 0-31 49z"/>
<path fill="#60f820" d="M12979 1330l23 7-33 32-23-7zM12955 1324l24 6-33 32-24-7z"/>
<path fill="#70f820" d="M12931 1319l24 5-33 31-24-5zM12907 1315l24 4-33 31-24-5z"/>
<path fill="#78f820" d="M12883 1313l24 2-33 30-24-3z"/>
<path fill="#80f818" d="M12858 1312l25 1-33 29-24-2zM12834 1312l24 0-32 28-25 0z"/>
<path fill="#88f818" d="M12809 1313l25-1-33 28-25 0zM12784 1315l25-2-33 27-25 2z"/>
<path fill="#90f818" d="M12758 1319l26-4-33 27-26 3zM12733 1324l25-5-33 26-25 4zM12707 1330l26-6-33 25-26 5zM12681 1337l26-7-33 24-26 7zM12655 1346l26-9-33 24-26 8zM12628 1356l27-10-33 23-26 9zM12602 1367l26-11-32 22-27 11zM12575 1380l27-13-33 22-27 12z"/>
<path fill="#88f818" d="M12548 1394l27-14-33 21-27 13zM12521 1409l27-15-33 20-27 14z"/>
<path fill="#80f818" d="M12493 1425l28-16-33 19-27 16zM12466 1443l27-18-32 19-28 18z"/>
<path fill="#78f820" d="M12438 1463l28-20-33 19-27 18z"/>
<path fill="#70f820" d="M12410 1483l28-20-32 17-28 20z"/>
<path fill="#68f820" d="M12382 1506l28-23-32 17-28 21z"/>
<path fill="#60f820" d="M12354 1529l28-23-32 15-29 23z"/>
<path fill="#58f820" d="M12325 1554l29-25-33 15-28 24z"/>
<path fill="#50f820" d="M12296 1580l29-26-32 14-29 26z"/>
<path fill="#48f828" d="M12268 1608l28-28-32 14-28 27z"/>
<path fill="#40f828" d="M12239 1637l29-29-32 13-29 28z"/>
<path fill="#30f828" d="M12209 1667l30-30-32 12-29 30z"/>
<path fill="#28f828" d="M12180 1699l29-32-31 12-30 31z"/>
<path fill="#20f030" d="M12151 1733l29-34-32 11-29 32z"/>
<path fill="#10f030" d="M12121 1768l30-35-32 9-30 34zM12091 1804l30-36-32 8-29 36z"/>
<path fill="#08f038" d="M12061 1842l30-38-31 8-30 37zM12031 1881l30-39-31 7-30 38z"/>
<path fill="#08f040" d="M12001 1921l30-40-31 6-30 40z"/>
<path fill="#00f040" d="M11971 1964l30-43-31 6-31 41z"/>
<path fill="#00f050" d="M11940 2007l31-43-32 4-30 43z"/>
<path fill="#00f060" d="M11910 2052l30-45-31 4-31 44z"/>
<path fill="#00f078" d="M11879 2099l31-47-32 3-30 46z"/>
<path fill="#00f090" d="M11848 2147l31-48-31 2-31 47z"/>
<path fill="#00f0b0" d="M11817 2196l31-49-31 1-31 48z"/>
<path fill="#00f8d8" d="M11786 2247l31-51-31 0-31 50z"/>
</g>
<circle cx="1057.4" cy="149.2" r="2.2" fill="#f00808" stroke="#7a1c24" stroke-width=".6"/>
<circle cx="1178.4" cy="134.2" r="2.2" fill="#f00808" stroke="#7a1c24" stroke-width=".6"/>
<circle cx="1300.3" cy="149.2" r="2.2" fill="#f7ccd2" stroke="#7a1c24" stroke-width=".6"/>
<circle cx="1178.9" cy="222.6" r="2.2" fill="#f00808" stroke="#7a1c24" stroke-width=".6"/>
<text x="1174.9" y="344.8" font-size="8.1" text-anchor="end" stroke="#111" style="stroke-width:.34px">12.00</text>
<text x="1146.1" y="330.9" font-size="8.1" text-anchor="end" stroke="#111" style="stroke-width:.34px">14.00</text>
<text x="1117.3" y="316.9" font-size="8.1" text-anchor="end" stroke="#111" style="stroke-width:.34px">16.00</text>
<text x="1088.4" y="303" font-size="8.1" text-anchor="end" stroke="#111" style="stroke-width:.34px">18.00</text>
<text x="1059.6" y="289.1" font-size="8.1" text-anchor="end" stroke="#111" style="stroke-width:.34px">20.00</text>
<text x="1183" y="344.8" font-size="8.1" stroke="#111" style="stroke-width:.34px">1.00</text>
<text x="1211.6" y="330.9" font-size="8.1" stroke="#111" style="stroke-width:.34px">3.25</text>
<text x="1240.3" y="317" font-size="8.1" stroke="#111" style="stroke-width:.34px">5.50</text>
<text x="1269" y="303.2" font-size="8.1" stroke="#111" style="stroke-width:.34px">7.75</text>
<text x="1297.7" y="289.3" font-size="8.1" stroke="#111" style="stroke-width:.34px">10.00</text>
<text x="1052.6" y="131.8" font-size="8.1" text-anchor="end" stroke="#111" style="stroke-width:.34px">0.18</text>
<text x="1052.6" y="162.5" font-size="8.1" text-anchor="end" stroke="#111" style="stroke-width:.34px">0.1525</text>
<text x="1052.6" y="192.1" font-size="8.1" text-anchor="end" stroke="#111" style="stroke-width:.34px">0.125</text>
<text x="1052.6" y="221.7" font-size="8.1" text-anchor="end" stroke="#111" style="stroke-width:.34px">0.0975</text>
<text x="1052.6" y="251.9" font-size="8.1" text-anchor="end" stroke="#111" style="stroke-width:.34px">0.07</text>
<text x="1038.3" y="336.6" font-size="12.4" stroke="#111">B: PEG-PLGA</text>
<text x="1255" y="336.6" font-size="12.4" stroke="#111">A: EGCG</text>
<text x="1024" y="206.1" font-size="12.7" text-anchor="middle" stroke="#111" transform="rotate(-90 1024 206.1)">Polydispersity index</text>
<text x="908.6" y="63.5" font-size="9" fill="#000" stroke="#000">Design-Expert?Software</text>
<text x="908.6" y="83.2" font-size="9" fill="#000" stroke="#000">Polydispersity index</text>
<text x="908.6" y="136" font-size="9" fill="#000" stroke="#000">X1 = A: EGCG</text>
<text x="908.6" y="146.2" font-size="9" fill="#000" stroke="#000">X2 = B: PEG-PLGA</text>
<text x="908.6" y="167.5" font-size="9" fill="#000" stroke="#000">Actual Factor</text>
<text x="908.6" y="177.8" font-size="9" fill="#000" stroke="#000">C: Tween-80 = 2.25</text>
<rect x="910.4" y="86.8" width="6" height="29.2" fill="url(#lg)" stroke="#111" stroke-width=".8"/>
<text x="918.6" y="94.4" font-size="9" fill="#c8202c" stroke="#c8202c">0.243</text>
<text x="918.6" y="115.2" font-size="9" fill="#2020c8" stroke="#2020c8">0.077</text>
<text x="903.9" y="30.2" font-size="31.5" font-weight="bold" fill="#000" stroke="#000">C</text>
</g>
<g id="pD">
<polygon points="1628.7,336.9 1743.5,281.4 1628.3,238 1513.4,281.2" fill="#fdf800"/>
<polyline points="1633.2,239.8 1633.7,240.8 1634.1,241.6 1634.4,242.5 1634.8,243.4 1635.3,244.5 1635.7,245.6 1636,246.8 1636.4,247.8 1636.6,248.8 1636.8,249.7 1637,250.7 1637.1,251.7 1637.3,252.7 1637.3,253.7 1637.3,254.8 1637.3,255.9 1637.1,257 1636.9,258.2 1636.5,259.4 1636.1,260.4 1635.7,261.3 1635.1,262.3 1633.8,263.8 1633.1,264.6 1631.2,266.1 1630.1,266.8 1627.6,268 1624.6,269.1 1622.6,269.6 1619.2,270.2 1617,270.5 1614.1,270.8 1611,270.9 1608.2,270.9 1605.5,270.8 1603,270.7 1600.2,270.5 1596.6,270.1 1594,269.8 1591.9,269.5 1588.3,269 1586,268.6 1583.6,268.2 1580.4,267.5 1578.4,267.1 1575,266.4 1572.6,265.8 1569.9,265.1 1566.6,264.3 1564.9,263.9 1561.7,263" fill="none" stroke="#0ef431" stroke-width=".8" stroke-opacity=".65"/>
<polyline points="1655.7,248.3 1656.4,249.3 1656.9,250.2 1657.5,251 1658.2,252.2 1659,253.5 1659.5,254.5 1660,255.4 1660.5,256.3 1661.1,257.4 1661.7,258.7 1662.2,259.9 1662.7,261 1663.1,262 1663.4,263 1663.7,264 1664,265.1 1664.3,266.1 1664.5,267.3 1664.7,268.4 1664.9,269.6 1664.9,270.7 1664.9,271.8 1664.9,273.1 1664.7,274.4 1664.3,275.7 1663.9,277 1663.4,278 1662.9,278.9 1661.6,280.7 1660.7,281.6 1658.8,283.1 1657.7,283.9 1655.1,285.2 1652.1,286.3 1650.3,286.8 1646.4,287.6 1644.3,288 1641.4,288.3 1638,288.4 1634.9,288.5 1632.1,288.5 1629.4,288.4 1626.8,288.2 1623.8,287.9 1619.9,287.5 1617.4,287.2 1615.2,286.9 1611.2,286.3 1608.9,285.9 1606.2,285.4 1602.9,284.7 1600.9,284.3 1597.2,283.5 1594.9,282.9 1591.8,282.2 1588.3,281.3 1586.5,280.8 1583,279.9 1580.8,279.2 1578,278.4 1574.8,277.5 1572.1,276.7 1570,276 1566.8,275 1563.8,274 1561.7,273.3 1559.3,272.4 1556.3,271.4 1553.4,270.4 1550.5,269.3 1548.2,268.5" fill="none" stroke="#6bf71e" stroke-width=".8" stroke-opacity=".65"/>
<polyline points="1678.4,256.8 1679.5,258.3 1680.3,259.4 1681,260.2 1681.7,261.1 1682.7,262.6 1683.6,263.8 1684.2,264.7 1684.9,265.6 1685.7,266.9 1686.6,268.3 1687.3,269.4 1687.8,270.4 1688.4,271.4 1689,272.4 1689.7,273.8 1690.4,275.2 1691,276.5 1691.4,277.6 1691.8,278.7 1692.2,279.8 1692.6,281 1692.9,282.1 1693.2,283.3 1693.5,284.5 1693.6,285.8 1693.7,287.1 1693.8,288.4 1693.7,289.8 1693.5,291.3 1693.2,292.4 1692.9,293.5 1692.4,294.6 1691.3,296.5 1690.6,297.5 1689.2,298.9 1687.9,300.1 1685.5,301.6 1682.7,303 1679.4,304.1 1676.7,304.8 1673.4,305.5 1671.1,305.8 1667.9,306.1 1664.4,306.3 1661.3,306.3 1658.3,306.3 1655.4,306.2 1652.7,306 1649.9,305.8 1645.9,305.4 1642.7,305 1640.3,304.7 1637.2,304.2 1633.5,303.6 1631.4,303.3 1627.1,302.4 1625,302 1621.2,301.2 1619,300.7 1615,299.8 1613.1,299.3 1609.3,298.3 1607.5,297.8 1603.8,296.8 1600.2,295.8 1598.5,295.3 1595,294.2 1591.5,293.2 1589.8,292.6 1586.5,291.6 1583.2,290.5 1580.8,289.7 1578.4,288.8 1575.2,287.7 1572.1,286.6 1569,285.5 1567.5,284.9 1564.5,283.8 1561.5,282.7 1558.6,281.6 1555.7,280.4 1552.9,279.3 1550.1,278.2 1548,277.3 1545.9,276.5 1543.2,275.3 1540.5,274.2 1537.9,273" fill="none" stroke="#c6fa0c" stroke-width=".8" stroke-opacity=".65"/>
<polyline points="1641.2,330.8 1637.2,329.7 1635,329 1631.3,327.8 1627.4,326.6 1625.2,325.9 1621.8,324.8 1618.1,323.5 1614.4,322.2 1612.6,321.6 1609.1,320.3 1605.6,319.1 1602.1,317.8 1600.4,317.1 1597,315.8 1593.7,314.5 1590.4,313.3 1587.1,311.9 1583.9,310.6 1582.2,310 1579.2,308.7 1576.1,307.4 1573,306.1 1570,304.8 1567,303.5 1564,302.2 1561.1,300.9 1558.2,299.5 1555.4,298.2 1552.5,296.9 1549.8,295.6 1547,294.3 1544.3,293.1 1541.6,291.8 1538.9,290.5 1536.3,289.2 1533.7,287.9 1531.1,286.6 1528.6,285.3 1526.1,284.1 1523.6,282.8 1521.2,281.5 1518.7,280.3" fill="none" stroke="#fc8a00" stroke-width=".8" stroke-opacity=".65"/>
<polyline points="1726.7,275 1728.1,276.5 1729,277.4 1730.1,278.4 1731.7,280.1 1732.6,281.1 1733.5,282.1 1734.8,283.5 1736.1,285" fill="none" stroke="#fc8a00" stroke-width=".8" stroke-opacity=".65"/>
<path d="M1628.3,238 L1628.2,96.5" stroke="#888" stroke-width="1" fill="none"/>
<path d="M1505.9,123.9 L1628.2,96.5" stroke="#888" stroke-width="1" fill="none"/>
<path d="M1628.2,96.5 L1750.7,124.2" stroke="#888" stroke-width="1" fill="none"/>
<path d="M1743.5,281.4 L1750.7,124.2" stroke="#888" stroke-width="1" fill="none"/>
<path d="M1513.4,281.2 L1505.9,123.9" stroke="#666" stroke-width="1" fill="none"/>
<path d="M1513.4,281.2 L1628.7,336.9" stroke="#8c8c98" stroke-width="0.7" fill="none"/>
<path d="M1628.7,336.9 L1743.5,281.4" stroke="#8c8c98" stroke-width="0.7" fill="none"/>
<circle cx="1628.7" cy="336.9" r="1" fill="#111"/>
<circle cx="1628.7" cy="336.9" r="1" fill="#111"/>
<circle cx="1599.9" cy="322.9" r="1" fill="#111"/>
<circle cx="1657.4" cy="323" r="1" fill="#111"/>
<circle cx="1571.1" cy="309" r="1" fill="#111"/>
<circle cx="1686.1" cy="309.1" r="1" fill="#111"/>
<circle cx="1542.2" cy="295.1" r="1" fill="#111"/>
<circle cx="1714.8" cy="295.2" r="1" fill="#111"/>
<circle cx="1513.4" cy="281.2" r="1" fill="#111"/>
<circle cx="1743.5" cy="281.4" r="1" fill="#111"/>
<circle cx="1505.9" cy="124.1" r=".9" fill="#111"/>
<circle cx="1507.4" cy="154.8" r=".9" fill="#111"/>
<circle cx="1508.8" cy="184.4" r=".9" fill="#111"/>
<circle cx="1510.2" cy="214" r=".9" fill="#111"/>
<circle cx="1511.6" cy="243.5" r=".9" fill="#111"/>
<g transform="scale(.1)" stroke="#000" stroke-width="4.2" stroke-opacity=".8" stroke-linejoin="round">
<path fill="#08f038" d="M16283 1670l23-22-23 4-23 22zM16260 1691l23-21-23 4-23 21z"/>
<path fill="#08f040" d="M16236 1711l24-20-23 4-23 19z"/>
<path fill="#00f040" d="M16213 1730l23-19-22 3-24 19zM16190 1747l23-17-23 3-23 17z"/>
<path fill="#00f048" d="M16167 1764l23-17-23 3-23 16zM16143 1779l24-15-23 2-24 15z"/>
<path fill="#00f050" d="M16119 1794l24-15-23 2-23 15z"/>
<path fill="#00f058" d="M16096 1807l23-13-22 2-24 12z"/>
<path fill="#00f060" d="M16072 1819l24-12-23 1-24 12zM16048 1830l24-11-23 1-24 11z"/>
<path fill="#00f068" d="M16024 1840l24-10-23 1-24 9zM15999 1848l25-8-23 0-24 9zM15975 1856l24-8-22 1-25 7zM15951 1862l24-6-23 0-24 6zM15926 1867l25-5-23 0-25 5z"/>
<path fill="#00f060" d="M15901 1871l25-4-23 0-25 4zM15876 1874l25-3-23 0-25 2z"/>
<path fill="#00f058" d="M15851 1876l25-2-23-1-25 1z"/>
<path fill="#00f050" d="M15826 1876l25 0-23-2-25 0z"/>
<path fill="#00f048" d="M15800 1875l26 1-23-2-26-1z"/>
<path fill="#00f040" d="M15774 1873l26 2-23-2-25-2zM15749 1870l25 3-22-2-26-4z"/>
<path fill="#08f040" d="M15723 1865l26 5-23-3-26-4zM15696 1860l27 5-23-2-26-7z"/>
<path fill="#08f038" d="M15670 1852l26 8-22-4-27-7zM15643 1844l27 8-23-3-26-9z"/>
<path fill="#10f030" d="M15617 1834l26 10-22-4-27-10zM15590 1823l27 11-23-4-27-11z"/>
<path fill="#20f830" d="M15562 1811l28 12-23-4-28-13z"/>
<path fill="#38f828" d="M15535 1797l27 14-23-5-27-14z"/>
<path fill="#48f828" d="M15507 1782l28 15-23-5-28-15z"/>
<path fill="#58f820" d="M15479 1766l28 16-23-5-28-17z"/>
<path fill="#70f820" d="M15451 1748l28 18-23-6-28-18z"/>
<path fill="#80f818" d="M15422 1728l29 20-23-6-29-20z"/>
<path fill="#98f818" d="M15394 1708l28 20-23-6-28-21z"/>
<path fill="#b0f810" d="M15365 1685l29 23-23-7-29-22z"/>
<path fill="#c8f810" d="M15335 1662l30 23-23-6-30-24z"/>
<path fill="#e0f808" d="M15306 1637l29 25-23-7-29-26z"/>
<path fill="#f0ff00" d="M15276 1610l30 27-23-8-30-27z"/>
<path fill="#fff000" d="M15246 1582l30 28-23-8-30-28z"/>
<path fill="#ffd800" d="M15215 1552l31 30-23-8-31-30z"/>
<path fill="#ffc000" d="M15185 1520l30 32-23-8-31-32z"/>
<path fill="#ffa800" d="M15153 1487l32 33-24-8-31-34z"/>
<path fill="#f80" d="M15122 1452l31 35-23-9-31-35z"/>
<path fill="#f87000" d="M15090 1416l32 36-23-9-32-36z"/>
<path fill="#10f038" d="M16306 1666l23-22-23 4-23 22z"/>
<path fill="#08f038" d="M16283 1687l23-21-23 4-23 21zM16260 1707l23-20-23 4-24 20z"/>
<path fill="#08f040" d="M16236 1727l24-20-24 4-23 19z"/>
<path fill="#00f040" d="M16213 1744l23-17-23 3-23 17zM16190 1761l23-17-23 3-23 17zM16166 1777l24-16-23 3-24 15z"/>
<path fill="#00f048" d="M16142 1792l24-15-23 2-24 15z"/>
<path fill="#00f050" d="M16119 1805l23-13-23 2-23 13zM16095 1818l24-13-23 2-24 12z"/>
<path fill="#00f058" d="M16071 1829l24-11-23 1-24 11z"/>
<path fill="#00f060" d="M16047 1839l24-10-23 1-24 10zM16022 1848l25-9-23 1-25 8zM15998 1856l24-8-23 0-24 8zM15973 1862l25-6-23 0-24 6zM15949 1868l24-6-22 0-25 5z"/>
<path fill="#00f058" d="M15924 1872l25-4-23-1-25 4zM15899 1875l25-3-23-1-25 3z"/>
<path fill="#00f050" d="M15874 1877l25-2-23-1-25 2z"/>
<path fill="#00f048" d="M15849 1878l25-1-23-1-25 0zM15823 1877l26 1-23-2-26-1z"/>
<path fill="#00f040" d="M15797 1875l26 2-23-2-26-2zM15772 1872l25 3-23-2-25-3z"/>
<path fill="#08f040" d="M15746 1868l26 4-23-2-26-5z"/>
<path fill="#08f038" d="M15719 1863l27 5-23-3-27-5zM15693 1856l26 7-23-3-26-8zM15666 1848l27 8-23-4-27-8z"/>
<path fill="#10f030" d="M15639 1838l27 10-23-4-26-10z"/>
<path fill="#18f030" d="M15612 1827l27 11-22-4-27-11z"/>
<path fill="#28f828" d="M15585 1815l27 12-22-4-28-12z"/>
<path fill="#38f828" d="M15558 1802l27 13-23-4-27-14z"/>
<path fill="#48f828" d="M15530 1787l28 15-23-5-28-15z"/>
<path fill="#60f820" d="M15502 1771l28 16-23-5-28-16z"/>
<path fill="#70f820" d="M15474 1753l28 18-23-5-28-18z"/>
<path fill="#88f818" d="M15445 1734l29 19-23-5-29-20z"/>
<path fill="#98f818" d="M15417 1714l28 20-23-6-28-20z"/>
<path fill="#b0f810" d="M15388 1692l29 22-23-6-29-23z"/>
<path fill="#c8f810" d="M15358 1669l30 23-23-7-30-23z"/>
<path fill="#e0f808" d="M15329 1644l29 25-23-7-29-25z"/>
<path fill="#f8ff00" d="M15299 1617l30 27-23-7-30-27z"/>
<path fill="#fff000" d="M15269 1589l30 28-23-7-30-28z"/>
<path fill="#ffd800" d="M15239 1560l30 29-23-7-31-30z"/>
<path fill="#ffc000" d="M15208 1529l31 31-24-8-30-32z"/>
<path fill="#ffa800" d="M15177 1496l31 33-23-9-32-33z"/>
<path fill="#ff9000" d="M15145 1461l32 35-24-9-31-35z"/>
<path fill="#f87000" d="M15114 1425l31 36-23-9-32-36z"/>
<path fill="#10f030" d="M16329 1662l23-23-23 5-23 22z"/>
<path fill="#08f038" d="M16306 1684l23-22-23 4-23 21zM16283 1704l23-20-23 3-23 20zM16259 1723l24-19-23 3-24 20z"/>
<path fill="#08f040" d="M16236 1742l23-19-23 4-23 17z"/>
<path fill="#00f040" d="M16213 1759l23-17-23 2-23 17zM16189 1775l24-16-23 2-24 16zM16166 1790l23-15-23 2-24 15z"/>
<path fill="#00f048" d="M16142 1804l24-14-24 2-23 13zM16118 1816l24-12-23 1-24 13z"/>
<path fill="#00f050" d="M16094 1828l24-12-23 2-24 11zM16070 1838l24-10-23 1-24 10z"/>
<path fill="#00f058" d="M16045 1847l25-9-23 1-25 9zM16021 1855l24-8-23 1-24 8zM15996 1862l25-7-23 1-25 6z"/>
<path fill="#00f050" d="M15972 1868l24-6-23 0-24 6zM15947 1873l25-5-23 0-25 4zM15922 1876l25-3-23-1-25 3z"/>
<path fill="#00f048" d="M15897 1878l25-2-23-1-25 2zM15872 1879l25-1-23-1-25 1z"/>
<path fill="#00f040" d="M15846 1879l26 0-23-1-26-1zM15820 1877l26 2-23-2-26-2z"/>
<path fill="#08f040" d="M15795 1875l25 2-23-2-25-3zM15769 1871l26 4-23-3-26-4z"/>
<path fill="#08f038" d="M15742 1865l27 6-23-3-27-5zM15716 1859l26 6-23-2-26-7z"/>
<path fill="#10f030" d="M15689 1851l27 8-23-3-27-8zM15663 1842l26 9-23-3-27-10z"/>
<path fill="#18f030" d="M15636 1832l27 10-24-4-27-11z"/>
<path fill="#28f828" d="M15608 1820l28 12-24-5-27-12z"/>
<path fill="#38f828" d="M15581 1807l27 13-23-5-27-13z"/>
<path fill="#50f820" d="M15553 1792l28 15-23-5-28-15z"/>
<path fill="#60f820" d="M15525 1776l28 16-23-5-28-16z"/>
<path fill="#70f820" d="M15497 1759l28 17-23-5-28-18z"/>
<path fill="#88f818" d="M15469 1740l28 19-23-6-29-19z"/>
<path fill="#a0f818" d="M15440 1720l29 20-24-6-28-20z"/>
<path fill="#b0f810" d="M15411 1698l29 22-23-6-29-22z"/>
<path fill="#c8f810" d="M15382 1675l29 23-23-6-30-23z"/>
<path fill="#e0f808" d="M15352 1651l30 24-24-6-29-25z"/>
<path fill="#f8ff00" d="M15322 1625l30 26-23-7-30-27z"/>
<path fill="#fff000" d="M15292 1597l30 28-23-8-30-28z"/>
<path fill="#ffd800" d="M15262 1568l30 29-23-8-30-29z"/>
<path fill="#ffc000" d="M15231 1537l31 31-23-8-31-31z"/>
<path fill="#ffa800" d="M15200 1504l31 33-23-8-31-33z"/>
<path fill="#ff9000" d="M15169 1470l31 34-23-8-32-35z"/>
<path fill="#f87000" d="M15137 1435l32 35-24-9-31-36z"/>
<path fill="#10f030" d="M16352 1658l23-23-23 4-23 23zM16329 1680l23-22-23 4-23 22z"/>
<path fill="#08f038" d="M16306 1700l23-20-23 4-23 20zM16283 1720l23-20-23 4-24 19z"/>
<path fill="#08f040" d="M16259 1739l24-19-24 3-23 19zM16236 1756l23-17-23 3-23 17z"/>
<path fill="#00f040" d="M16212 1772l24-16-23 3-24 16zM16189 1788l23-16-23 3-23 15zM16165 1802l24-14-23 2-24 14z"/>
<path fill="#00f048" d="M16141 1815l24-13-23 2-24 12zM16117 1827l24-12-23 1-24 12zM16093 1837l24-10-23 1-24 10z"/>
<path fill="#00f050" d="M16069 1847l24-10-23 1-25 9zM16044 1855l25-8-24 0-24 8zM16020 1862l24-7-23 0-25 7zM15995 1868l25-6-24 0-24 6z"/>
<path fill="#00f048" d="M15970 1873l25-5-23 0-25 5zM15945 1877l25-4-23 0-25 3zM15920 1879l25-2-23-1-25 2z"/>
<path fill="#00f040" d="M15895 1881l25-2-23-1-25 1zM15869 1881l26 0-23-2-26 0zM15844 1879l25 2-23-2-26-2z"/>
<path fill="#08f040" d="M15818 1877l26 2-24-2-25-2zM15792 1873l26 4-23-2-26-4z"/>
<path fill="#08f038" d="M15766 1868l26 5-23-2-27-6zM15739 1862l27 6-24-3-26-6z"/>
<path fill="#10f030" d="M15713 1855l26 7-23-3-27-8zM15686 1846l27 9-24-4-26-9z"/>
<path fill="#20f030" d="M15659 1836l27 10-23-4-27-10z"/>
<path fill="#30f828" d="M15631 1824l28 12-23-4-28-12z"/>
<path fill="#40f828" d="M15604 1811l27 13-23-4-27-13z"/>
<path fill="#50f820" d="M15576 1797l28 14-23-4-28-15z"/>
<path fill="#60f820" d="M15548 1781l28 16-23-5-28-16z"/>
<path fill="#78f820" d="M15520 1764l28 17-23-5-28-17z"/>
<path fill="#88f818" d="M15492 1746l28 18-23-5-28-19z"/>
<path fill="#a0f810" d="M15463 1726l29 20-23-6-29-20z"/>
<path fill="#b0f810" d="M15434 1705l29 21-23-6-29-22z"/>
<path fill="#c8f810" d="M15405 1682l29 23-23-7-29-23z"/>
<path fill="#e0f808" d="M15376 1658l29 24-23-7-30-24z"/>
<path fill="#f8ff00" d="M15346 1632l30 26-24-7-30-26z"/>
<path fill="#fff000" d="M15316 1604l30 28-24-7-30-28z"/>
<path fill="#ffd800" d="M15285 1576l31 28-24-7-30-29z"/>
<path fill="#ffc000" d="M15255 1545l30 31-23-8-31-31z"/>
<path fill="#ffa800" d="M15224 1513l31 32-24-8-31-33z"/>
<path fill="#ff9000" d="M15192 1479l32 34-24-9-31-34z"/>
<path fill="#f87000" d="M15161 1444l31 35-23-9-32-35z"/>
<path fill="#18f030" d="M16376 1654l23-24-24 5-23 23z"/>
<path fill="#10f030" d="M16353 1676l23-22-24 4-23 22zM16330 1697l23-21-24 4-23 20z"/>
<path fill="#08f038" d="M16306 1717l24-20-24 3-23 20zM16283 1736l23-19-23 3-24 19z"/>
<path fill="#08f040" d="M16259 1753l24-17-24 3-23 17zM16236 1770l23-17-23 3-24 16z"/>
<path fill="#00f040" d="M16212 1786l24-16-24 2-23 16zM16188 1800l24-14-23 2-24 14zM16164 1813l24-13-23 2-24 13zM16140 1825l24-12-23 2-24 12z"/>
<path fill="#00f048" d="M16116 1836l24-11-23 2-24 10zM16092 1846l24-10-23 1-24 10zM16068 1855l24-9-23 1-25 8zM16043 1862l25-7-24 0-24 7zM16018 1869l25-7-23 0-25 6zM15993 1874l25-5-23-1-25 5z"/>
<path fill="#00f040" d="M15968 1878l25-4-23-1-25 4zM15943 1880l25-2-23-1-25 2zM15918 1882l25-2-23-1-25 2zM15892 1882l26 0-23-1-26 0z"/>
<path fill="#08f040" d="M15867 1881l25 1-23-1-25-2zM15841 1879l26 2-23-2-26-2z"/>
<path fill="#08f038" d="M15815 1876l26 3-23-2-26-4zM15789 1871l26 5-23-3-26-5zM15762 1865l27 6-23-3-27-6z"/>
<path fill="#10f030" d="M15736 1858l26 7-23-3-26-7zM15709 1849l27 9-23-3-27-9z"/>
<path fill="#20f830" d="M15682 1840l27 9-23-3-27-10z"/>
<path fill="#30f828" d="M15655 1828l27 12-23-4-28-12z"/>
<path fill="#40f828" d="M15627 1816l28 12-24-4-27-13z"/>
<path fill="#50f820" d="M15600 1802l27 14-23-5-28-14z"/>
<path fill="#60f820" d="M15572 1787l28 15-24-5-28-16z"/>
<path fill="#78f820" d="M15544 1770l28 17-24-6-28-17z"/>
<path fill="#88f818" d="M15515 1752l29 18-24-6-28-18z"/>
<path fill="#a0f810" d="M15487 1732l28 20-23-6-29-20z"/>
<path fill="#b0f810" d="M15458 1711l29 21-24-6-29-21z"/>
<path fill="#c8f808" d="M15429 1689l29 22-24-6-29-23z"/>
<path fill="#e0f808" d="M15399 1665l30 24-24-7-29-24z"/>
<path fill="#f8ff00" d="M15369 1639l30 26-23-7-30-26z"/>
<path fill="#fff000" d="M15339 1612l30 27-23-7-30-28z"/>
<path fill="#ffd800" d="M15309 1583l30 29-23-8-31-28z"/>
<path fill="#ffc000" d="M15278 1553l31 30-24-7-30-31z"/>
<path fill="#ffa800" d="M15247 1521l31 32-23-8-31-32z"/>
<path fill="#ff9000" d="M15216 1488l31 33-23-8-32-34z"/>
<path fill="#f87000" d="M15184 1453l32 35-24-9-31-35z"/>
<path fill="#20f830" d="M16399 1649l24-23-24 4-23 24z"/>
<path fill="#18f030" d="M16376 1672l23-23-23 5-23 22z"/>
<path fill="#10f030" d="M16353 1693l23-21-23 4-23 21z"/>
<path fill="#10f038" d="M16330 1714l23-21-23 4-24 20z"/>
<path fill="#08f038" d="M16306 1733l24-19-24 3-23 19zM16283 1751l23-18-23 3-24 17z"/>
<path fill="#08f040" d="M16259 1768l24-17-24 2-23 17zM16236 1783l23-15-23 2-24 16z"/>
<path fill="#00f040" d="M16212 1798l24-15-24 3-24 14zM16188 1812l24-14-24 2-24 13zM16164 1824l24-12-24 1-24 12zM16140 1835l24-11-24 1-24 11zM16115 1845l25-10-24 1-24 10zM16091 1854l24-9-23 1-24 9zM16066 1862l25-8-23 1-25 7zM16042 1869l24-7-23 0-25 7zM16017 1874l25-5-24 0-25 5zM15992 1878l25-4-24 0-25 4zM15967 1881l25-3-24 0-25 2zM15941 1883l26-2-24-1-25 2z"/>
<path fill="#08f040" d="M15916 1884l25-1-23-1-26 0zM15890 1883l26 1-24-2-25-1zM15864 1881l26 2-23-2-26-2z"/>
<path fill="#08f038" d="M15838 1878l26 3-23-2-26-3zM15812 1874l26 4-23-2-26-5z"/>
<path fill="#10f030" d="M15786 1868l26 6-23-3-27-6zM15759 1861l27 7-24-3-26-7z"/>
<path fill="#18f030" d="M15732 1853l27 8-23-3-27-9z"/>
<path fill="#20f830" d="M15706 1843l26 10-23-4-27-9z"/>
<path fill="#30f828" d="M15678 1832l28 11-24-3-27-12z"/>
<path fill="#40f828" d="M15651 1820l27 12-23-4-28-12z"/>
<path fill="#50f820" d="M15623 1807l28 13-24-4-27-14z"/>
<path fill="#68f820" d="M15595 1792l28 15-23-5-28-15z"/>
<path fill="#78f820" d="M15567 1775l28 17-23-5-28-17z"/>
<path fill="#90f818" d="M15539 1757l28 18-23-5-29-18z"/>
<path fill="#a0f810" d="M15510 1738l29 19-24-5-28-20z"/>
<path fill="#b0f810" d="M15481 1717l29 21-23-6-29-21z"/>
<path fill="#c8f808" d="M15452 1695l29 22-23-6-29-22z"/>
<path fill="#e0f808" d="M15423 1671l29 24-23-6-30-24z"/>
<path fill="#f8ff00" d="M15393 1646l30 25-24-6-30-26z"/>
<path fill="#fff000" d="M15363 1619l30 27-24-7-30-27z"/>
<path fill="#ffd800" d="M15333 1591l30 28-24-7-30-29z"/>
<path fill="#ffc000" d="M15302 1561l31 30-24-8-31-30z"/>
<path fill="#ffa800" d="M15271 1530l31 31-24-8-31-32z"/>
<path fill="#ff9000" d="M15240 1496l31 34-24-9-31-33z"/>
<path fill="#f87800" d="M15208 1461l32 35-24-8-32-35z"/>
<path fill="#30f828" d="M16423 1645l23-24-23 5-24 23z"/>
<path fill="#20f830" d="M16400 1668l23-23-24 4-23 23z"/>
<path fill="#10f030" d="M16377 1690l23-22-24 4-23 21zM16354 1710l23-20-24 3-23 21z"/>
<path fill="#10f038" d="M16330 1730l24-20-24 4-24 19z"/>
<path fill="#08f038" d="M16307 1748l23-18-24 3-23 18zM16283 1765l24-17-24 3-24 17z"/>
<path fill="#08f040" d="M16259 1781l24-16-24 3-23 15zM16235 1796l24-15-23 2-24 15zM16212 1810l23-14-23 2-24 14z"/>
<path fill="#00f040" d="M16187 1823l25-13-24 2-24 12zM16163 1834l24-11-23 1-24 11zM16139 1845l24-11-23 1-25 10zM16115 1854l24-9-24 0-24 9zM16090 1862l25-8-24 0-25 8zM16065 1869l25-7-24 0-24 7zM16040 1875l25-6-23 0-25 5zM16015 1879l25-4-23-1-25 4zM15990 1882l25-3-23-1-25 3z"/>
<path fill="#08f040" d="M15965 1885l25-3-23-1-26 2zM15939 1885l26 0-24-2-25 1zM15914 1885l25 0-23-1-26-1z"/>
<path fill="#08f038" d="M15888 1883l26 2-24-2-26-2zM15862 1881l26 2-24-2-26-3zM15836 1877l26 4-24-3-26-4z"/>
<path fill="#10f030" d="M15809 1871l27 6-24-3-26-6zM15783 1864l26 7-23-3-27-7z"/>
<path fill="#18f030" d="M15756 1857l27 7-24-3-27-8z"/>
<path fill="#28f828" d="M15729 1847l27 10-24-4-26-10z"/>
<path fill="#38f828" d="M15702 1837l27 10-23-4-28-11z"/>
<path fill="#48f828" d="M15674 1825l28 12-24-5-27-12z"/>
<path fill="#58f820" d="M15647 1811l27 14-23-5-28-13z"/>
<path fill="#68f820" d="M15619 1797l28 14-24-4-28-15z"/>
<path fill="#78f818" d="M15591 1780l28 17-24-5-28-17z"/>
<path fill="#90f818" d="M15562 1763l29 17-24-5-28-18z"/>
<path fill="#a0f810" d="M15534 1744l28 19-23-6-29-19z"/>
<path fill="#b8f810" d="M15505 1723l29 21-24-6-29-21z"/>
<path fill="#c8f808" d="M15476 1701l29 22-24-6-29-22z"/>
<path fill="#e0f808" d="M15446 1678l30 23-24-6-29-24z"/>
<path fill="#f8ff00" d="M15417 1653l29 25-23-7-30-25z"/>
<path fill="#fff000" d="M15387 1627l30 26-24-7-30-27z"/>
<path fill="#ffd800" d="M15356 1599l31 28-24-8-30-28z"/>
<path fill="#ffc000" d="M15326 1569l30 30-23-8-31-30z"/>
<path fill="#ffa800" d="M15295 1538l31 31-24-8-31-31z"/>
<path fill="#ff9000" d="M15264 1505l31 33-24-8-31-34z"/>
<path fill="#f87800" d="M15232 1470l32 35-24-9-32-35z"/>
<path fill="#38f828" d="M16447 1641l23-24-24 4-23 24z"/>
<path fill="#28f828" d="M16424 1664l23-23-24 4-23 23z"/>
<path fill="#20f030" d="M16401 1686l23-22-24 4-23 22z"/>
<path fill="#10f030" d="M16377 1707l24-21-24 4-23 20zM16354 1726l23-19-23 3-24 20z"/>
<path fill="#08f038" d="M16330 1745l24-19-24 4-23 18zM16307 1762l23-17-23 3-24 17zM16283 1779l24-17-24 3-24 16zM16259 1794l24-15-24 2-24 15z"/>
<path fill="#08f040" d="M16235 1808l24-14-24 2-23 14zM16211 1821l24-13-23 2-25 13zM16187 1833l24-12-24 2-24 11z"/>
<path fill="#00f040" d="M16163 1844l24-11-24 1-24 11zM16138 1853l25-9-24 1-24 9zM16114 1862l24-9-23 1-25 8zM16089 1869l25-7-24 0-25 7zM16064 1875l25-6-24 0-25 6zM16039 1880l25-5-24 0-25 4z"/>
<path fill="#08f040" d="M16014 1883l25-3-24-1-25 3zM15989 1886l25-3-24-1-25 3zM15963 1887l26-1-24-1-26 0z"/>
<path fill="#08f038" d="M15937 1887l26 0-24-2-25 0zM15912 1885l25 2-23-2-26-2zM15886 1883l26 2-24-2-26-2z"/>
<path fill="#10f038" d="M15859 1879l27 4-24-2-26-4z"/>
<path fill="#10f030" d="M15833 1874l26 5-23-2-27-6zM15807 1868l26 6-24-3-26-7z"/>
<path fill="#20f830" d="M15780 1860l27 8-24-4-27-7z"/>
<path fill="#30f828" d="M15753 1851l27 9-24-3-27-10z"/>
<path fill="#38f828" d="M15726 1841l27 10-24-4-27-10z"/>
<path fill="#48f828" d="M15698 1829l28 12-24-4-28-12z"/>
<path fill="#58f820" d="M15671 1816l27 13-24-4-27-14z"/>
<path fill="#68f820" d="M15643 1801l28 15-24-5-28-14z"/>
<path fill="#80f818" d="M15615 1786l28 15-24-4-28-17z"/>
<path fill="#90f818" d="M15586 1768l29 18-24-6-29-17z"/>
<path fill="#a0f810" d="M15558 1750l28 18-24-5-28-19z"/>
<path fill="#b8f810" d="M15529 1729l29 21-24-6-29-21z"/>
<path fill="#d0f808" d="M15500 1708l29 21-24-6-29-22z"/>
<path fill="#e0f808" d="M15470 1685l30 23-24-7-30-23z"/>
<path fill="#f8ff00" d="M15441 1660l29 25-24-7-29-25z"/>
<path fill="#fff000" d="M15411 1634l30 26-24-7-30-26z"/>
<path fill="#ffd800" d="M15380 1606l31 28-24-7-31-28z"/>
<path fill="#ffc000" d="M15350 1577l30 29-24-7-30-30z"/>
<path fill="#ffa800" d="M15319 1546l31 31-24-8-31-31z"/>
<path fill="#ff9000" d="M15288 1513l31 33-24-8-31-33z"/>
<path fill="#f87800" d="M15256 1479l32 34-24-8-32-35z"/>
<path fill="#40f828" d="M16471 1636l23-24-24 5-23 24z"/>
<path fill="#30f828" d="M16448 1660l23-24-24 5-23 23z"/>
<path fill="#28f830" d="M16425 1682l23-22-24 4-23 22z"/>
<path fill="#18f030" d="M16401 1703l24-21-24 4-24 21z"/>
<path fill="#10f030" d="M16378 1723l23-20-24 4-23 19zM16354 1742l24-19-24 3-24 19z"/>
<path fill="#08f038" d="M16331 1760l23-18-24 3-23 17zM16307 1776l24-16-24 2-24 17zM16283 1792l24-16-24 3-24 15zM16259 1806l24-14-24 2-24 14z"/>
<path fill="#08f040" d="M16235 1820l24-14-24 2-24 13zM16211 1832l24-12-24 1-24 12zM16187 1843l24-11-24 1-24 11zM16162 1853l25-10-24 1-25 9zM16138 1861l24-8-24 0-24 9zM16113 1869l25-8-24 1-25 7zM16088 1875l25-6-24 0-25 6zM16063 1880l25-5-24 0-25 5zM16038 1884l25-4-24 0-25 3zM16012 1887l26-3-24-1-25 3z"/>
<path fill="#08f038" d="M15987 1888l25-1-23-1-26 1zM15961 1888l26 0-24-1-26 0zM15935 1887l26 1-24-1-25-2zM15909 1885l26 2-23-2-26-2z"/>
<path fill="#10f030" d="M15883 1882l26 3-23-2-27-4zM15857 1877l26 5-24-3-26-5z"/>
<path fill="#18f030" d="M15830 1871l27 6-24-3-26-6z"/>
<path fill="#20f830" d="M15804 1863l26 8-23-3-27-8z"/>
<path fill="#30f828" d="M15777 1855l27 8-24-3-27-9z"/>
<path fill="#40f828" d="M15749 1844l28 11-24-4-27-10z"/>
<path fill="#50f820" d="M15722 1833l27 11-23-3-28-12z"/>
<path fill="#60f820" d="M15694 1820l28 13-24-4-27-13z"/>
<path fill="#70f820" d="M15667 1806l27 14-23-4-28-15z"/>
<path fill="#80f818" d="M15639 1791l28 15-24-5-28-15z"/>
<path fill="#90f818" d="M15610 1774l29 17-24-5-29-18z"/>
<path fill="#a8f810" d="M15582 1755l28 19-24-6-28-18z"/>
<path fill="#b8f810" d="M15553 1735l29 20-24-5-29-21z"/>
<path fill="#d0f808" d="M15524 1714l29 21-24-6-29-21z"/>
<path fill="#e0f808" d="M15494 1691l30 23-24-6-30-23z"/>
<path fill="#f8ff00" d="M15465 1667l29 24-24-6-29-25z"/>
<path fill="#fff000" d="M15435 1641l30 26-24-7-30-26z"/>
<path fill="#ffd800" d="M15404 1613l31 28-24-7-31-28z"/>
<path fill="#ffc000" d="M15374 1584l30 29-24-7-30-29z"/>
<path fill="#ffa800" d="M15343 1554l31 30-24-7-31-31z"/>
<path fill="#ff9000" d="M15312 1521l31 33-24-8-31-33z"/>
<path fill="#f87800" d="M15280 1487l32 34-24-8-32-34z"/>
<path fill="#48f820" d="M16495 1632l24-25-25 5-23 24z"/>
<path fill="#40f828" d="M16472 1655l23-23-24 4-23 24z"/>
<path fill="#30f828" d="M16449 1678l23-23-24 5-23 22z"/>
<path fill="#20f830" d="M16426 1699l23-21-24 4-24 21z"/>
<path fill="#18f030" d="M16402 1720l24-21-25 4-23 20z"/>
<path fill="#10f030" d="M16379 1739l23-19-24 3-24 19zM16355 1757l24-18-25 3-23 18z"/>
<path fill="#08f038" d="M16331 1774l24-17-24 3-24 16zM16307 1790l24-16-24 2-24 16zM16283 1805l24-15-24 2-24 14zM16259 1818l24-13-24 1-24 14zM16235 1831l24-13-24 2-24 12z"/>
<path fill="#08f040" d="M16211 1842l24-11-24 1-24 11zM16186 1852l25-10-24 1-25 10zM16161 1861l25-9-24 1-24 8zM16137 1869l24-8-23 0-25 8zM16112 1875l25-6-24 0-25 6zM16087 1881l25-6-24 0-25 5zM16062 1885l25-4-24-1-25 4z"/>
<path fill="#08f038" d="M16036 1888l26-3-24-1-26 3zM16011 1889l25-1-24-1-25 1zM15985 1890l26-1-24-1-26 0zM15959 1889l26 1-24-2-26-1z"/>
<path fill="#10f038" d="M15933 1887l26 2-24-2-26-2z"/>
<path fill="#10f030" d="M15907 1884l26 3-24-2-26-3zM15881 1879l26 5-24-2-26-5z"/>
<path fill="#18f030" d="M15854 1874l27 5-24-2-27-6z"/>
<path fill="#28f830" d="M15828 1867l26 7-24-3-26-8z"/>
<path fill="#30f828" d="M15801 1858l27 9-24-4-27-8z"/>
<path fill="#40f828" d="M15773 1848l28 10-24-3-28-11z"/>
<path fill="#50f820" d="M15746 1837l27 11-24-4-27-11z"/>
<path fill="#60f820" d="M15719 1825l27 12-24-4-28-13z"/>
<path fill="#70f820" d="M15691 1811l28 14-25-5-27-14z"/>
<path fill="#80f818" d="M15663 1796l28 15-24-5-28-15z"/>
<path fill="#98f818" d="M15634 1779l29 17-24-5-29-17z"/>
<path fill="#a8f810" d="M15606 1761l28 18-24-5-28-19z"/>
<path fill="#b8f810" d="M15577 1741l29 20-24-6-29-20z"/>
<path fill="#d0f808" d="M15548 1720l29 21-24-6-29-21z"/>
<path fill="#e0f808" d="M15518 1698l30 22-24-6-30-23z"/>
<path fill="#f8ff00" d="M15489 1674l29 24-24-7-29-24z"/>
<path fill="#fff000" d="M15459 1648l30 26-24-7-30-26z"/>
<path fill="#ffd800" d="M15429 1621l30 27-24-7-31-28z"/>
<path fill="#ffc000" d="M15398 1592l31 29-25-8-30-29z"/>
<path fill="#ffa800" d="M15367 1562l31 30-24-8-31-30z"/>
<path fill="#ff9000" d="M15336 1530l31 32-24-8-31-33z"/>
<path fill="#f87800" d="M15305 1496l31 34-24-9-32-34z"/>
<path fill="#58f820" d="M16520 1627l23-25-24 5-24 25z"/>
<path fill="#48f828" d="M16497 1651l23-24-25 5-23 23z"/>
<path fill="#38f828" d="M16473 1674l24-23-25 4-23 23z"/>
<path fill="#30f828" d="M16450 1696l23-22-24 4-23 21z"/>
<path fill="#20f830" d="M16426 1716l24-20-24 3-24 21z"/>
<path fill="#18f030" d="M16403 1736l23-20-24 4-23 19z"/>
<path fill="#10f030" d="M16379 1754l24-18-24 3-24 18zM16355 1772l24-18-24 3-24 17z"/>
<path fill="#10f038" d="M16331 1788l24-16-24 2-24 16z"/>
<path fill="#08f038" d="M16307 1803l24-15-24 2-24 15zM16283 1816l24-13-24 2-24 13zM16259 1829l24-13-24 2-24 13zM16235 1841l24-12-24 2-24 11zM16210 1851l25-10-24 1-25 10zM16186 1860l24-9-24 1-25 9zM16161 1868l25-8-25 1-24 8zM16136 1875l25-7-24 1-25 6zM16111 1881l25-6-24 0-25 6zM16086 1885l25-4-24 0-25 4zM16060 1889l26-4-24 0-26 3zM16035 1891l25-2-24-1-25 1zM16009 1891l26 0-24-2-26 1zM15984 1891l25 0-24-1-26-1z"/>
<path fill="#10f030" d="M15958 1889l26 2-25-2-26-2zM15931 1886l27 3-25-2-26-3zM15905 1882l26 4-24-2-26-5z"/>
<path fill="#20f830" d="M15878 1877l27 5-24-3-27-5z"/>
<path fill="#28f828" d="M15852 1870l26 7-24-3-26-7z"/>
<path fill="#38f828" d="M15825 1862l27 8-24-3-27-9z"/>
<path fill="#48f828" d="M15798 1852l27 10-24-4-28-10z"/>
<path fill="#50f820" d="M15770 1841l28 11-25-4-27-11z"/>
<path fill="#60f820" d="M15743 1829l27 12-24-4-27-12z"/>
<path fill="#70f820" d="M15715 1815l28 14-24-4-28-14z"/>
<path fill="#88f818" d="M15687 1800l28 15-24-4-28-15z"/>
<path fill="#98f818" d="M15659 1784l28 16-24-4-29-17z"/>
<path fill="#a8f810" d="M15630 1766l29 18-25-5-28-18z"/>
<path fill="#c0f810" d="M15601 1747l29 19-24-5-29-20z"/>
<path fill="#d0f808" d="M15572 1726l29 21-24-6-29-21z"/>
<path fill="#e8f808" d="M15543 1704l29 22-24-6-30-22z"/>
<path fill="#f8ff00" d="M15513 1680l30 24-25-6-29-24z"/>
<path fill="#ffe800" d="M15483 1655l30 25-24-6-30-26z"/>
<path fill="#ffd800" d="M15453 1628l30 27-24-7-30-27z"/>
<path fill="#ffc000" d="M15423 1599l30 29-24-7-31-29z"/>
<path fill="#ffa800" d="M15392 1569l31 30-25-7-31-30z"/>
<path fill="#ff9000" d="M15361 1538l31 31-25-7-31-32z"/>
<path fill="#f87800" d="M15329 1504l32 34-25-8-31-34z"/>
<path fill="#60f820" d="M16544 1623l24-26-25 5-23 25z"/>
<path fill="#50f820" d="M16521 1647l23-24-24 4-23 24z"/>
<path fill="#40f828" d="M16498 1670l23-23-24 4-24 23z"/>
<path fill="#38f828" d="M16474 1692l24-22-25 4-23 22z"/>
<path fill="#28f828" d="M16451 1713l23-21-24 4-24 20z"/>
<path fill="#20f830" d="M16427 1733l24-20-25 3-23 20z"/>
<path fill="#10f030" d="M16403 1751l24-18-24 3-24 18zM16380 1769l23-18-24 3-24 18zM16356 1785l24-16-25 3-24 16z"/>
<path fill="#10f038" d="M16332 1801l24-16-25 3-24 15z"/>
<path fill="#08f038" d="M16308 1815l24-14-25 2-24 13zM16283 1828l25-13-25 1-24 13zM16259 1840l24-12-24 1-24 12zM16234 1850l25-10-24 1-25 10zM16210 1860l24-10-24 1-24 9zM16185 1868l25-8-24 0-25 8zM16160 1875l25-7-24 0-25 7zM16135 1881l25-6-24 0-25 6zM16110 1886l25-5-24 0-25 4zM16085 1889l25-3-24-1-26 4zM16059 1892l26-3-25 0-25 2zM16034 1893l25-1-24-1-26 0z"/>
<path fill="#10f030" d="M16008 1893l26 0-25-2-25 0zM15982 1891l26 2-24-2-26-2zM15956 1889l26 2-24-2-27-3z"/>
<path fill="#18f030" d="M15929 1885l27 4-25-3-26-4z"/>
<path fill="#20f830" d="M15903 1879l26 6-24-3-27-5z"/>
<path fill="#30f828" d="M15876 1873l27 6-25-2-26-7z"/>
<path fill="#38f828" d="M15849 1865l27 8-24-3-27-8z"/>
<path fill="#48f828" d="M15822 1856l27 9-24-3-27-10z"/>
<path fill="#58f820" d="M15795 1845l27 11-24-4-28-11z"/>
<path fill="#68f820" d="M15767 1833l28 12-25-4-27-12z"/>
<path fill="#78f820" d="M15739 1820l28 13-24-4-28-14z"/>
<path fill="#88f818" d="M15711 1805l28 15-24-5-28-15z"/>
<path fill="#98f818" d="M15683 1789l28 16-24-5-28-16z"/>
<path fill="#a8f810" d="M15654 1772l29 17-24-5-29-18z"/>
<path fill="#c0f810" d="M15626 1753l28 19-24-6-29-19z"/>
<path fill="#d0f808" d="M15597 1732l29 21-25-6-29-21z"/>
<path fill="#e8f808" d="M15567 1710l30 22-25-6-29-22z"/>
<path fill="#ff0" d="M15538 1687l29 23-24-6-30-24z"/>
<path fill="#ffe800" d="M15508 1662l30 25-25-7-30-25z"/>
<path fill="#ffd800" d="M15478 1635l30 27-25-7-30-27z"/>
<path fill="#ffc000" d="M15447 1607l31 28-25-7-30-29z"/>
<path fill="#ffa800" d="M15416 1577l31 30-24-8-31-30z"/>
<path fill="#ff9000" d="M15385 1546l31 31-24-8-31-31z"/>
<path fill="#f87800" d="M15354 1513l31 33-24-8-32-34z"/>
<path fill="#68f820" d="M16569 1618l23-26-24 5-24 26z"/>
<path fill="#58f820" d="M16546 1642l23-24-25 5-23 24z"/>
<path fill="#50f820" d="M16522 1666l24-24-25 5-23 23z"/>
<path fill="#40f828" d="M16499 1688l23-22-24 4-24 22z"/>
<path fill="#30f828" d="M16475 1709l24-21-25 4-23 21z"/>
<path fill="#28f828" d="M16452 1729l23-20-24 4-24 20z"/>
<path fill="#20f030" d="M16428 1748l24-19-25 4-24 18z"/>
<path fill="#10f030" d="M16404 1766l24-18-25 3-23 18zM16380 1783l24-17-24 3-24 16zM16356 1799l24-16-24 2-24 16zM16332 1813l24-14-24 2-24 14z"/>
<path fill="#08f038" d="M16308 1826l24-13-24 2-25 13zM16283 1838l25-12-25 2-24 12zM16259 1849l24-11-24 2-25 10zM16234 1859l25-10-25 1-24 10zM16210 1868l24-9-24 1-25 8zM16185 1875l25-7-25 0-25 7zM16160 1881l25-6-25 0-25 6zM16134 1886l26-5-25 0-25 5zM16109 1890l25-4-24 0-25 3zM16084 1893l25-3-24-1-26 3z"/>
<path fill="#10f030" d="M16058 1894l26-1-25-1-25 1zM16032 1894l26 0-24-1-26 0zM16006 1893l26 1-24-1-26-2zM15980 1891l26 2-24-2-26-2z"/>
<path fill="#20f030" d="M15954 1887l26 4-24-2-27-4z"/>
<path fill="#28f828" d="M15927 1882l27 5-25-2-26-6z"/>
<path fill="#30f828" d="M15900 1876l27 6-24-3-27-6z"/>
<path fill="#40f828" d="M15873 1868l27 8-24-3-27-8z"/>
<path fill="#50f820" d="M15846 1859l27 9-24-3-27-9z"/>
<path fill="#58f820" d="M15819 1849l27 10-24-3-27-11z"/>
<path fill="#68f820" d="M15791 1837l28 12-24-4-28-12z"/>
<path fill="#78f820" d="M15764 1824l27 13-24-4-28-13z"/>
<path fill="#88f818" d="M15736 1810l28 14-25-4-28-15z"/>
<path fill="#98f818" d="M15707 1794l29 16-25-5-28-16z"/>
<path fill="#b0f810" d="M15679 1777l28 17-24-5-29-17z"/>
<path fill="#c0f810" d="M15650 1758l29 19-25-5-28-19z"/>
<path fill="#d0f808" d="M15621 1738l29 20-24-5-29-21z"/>
<path fill="#e8f808" d="M15592 1716l29 22-24-6-30-22z"/>
<path fill="#ff0" d="M15562 1693l30 23-25-6-29-23z"/>
<path fill="#ffe800" d="M15532 1668l30 25-24-6-30-25z"/>
<path fill="#ffd800" d="M15502 1642l30 26-24-6-30-27z"/>
<path fill="#ffc000" d="M15472 1614l30 28-24-7-31-28z"/>
<path fill="#ffa800" d="M15441 1585l31 29-25-7-31-30z"/>
<path fill="#ff9000" d="M15410 1554l31 31-25-8-31-31z"/>
<path fill="#f87800" d="M15379 1521l31 33-25-8-31-33z"/>
<path fill="#70f820" d="M16594 1613l23-26-25 5-23 26z"/>
<path fill="#60f820" d="M16570 1638l24-25-25 5-23 24z"/>
<path fill="#58f820" d="M16547 1662l23-24-24 4-24 24z"/>
<path fill="#48f828" d="M16524 1684l23-22-25 4-23 22z"/>
<path fill="#40f828" d="M16500 1706l24-22-25 4-24 21z"/>
<path fill="#30f828" d="M16476 1726l24-20-25 3-23 20z"/>
<path fill="#28f830" d="M16453 1745l23-19-24 3-24 19z"/>
<path fill="#20f030" d="M16429 1764l24-19-25 3-24 18z"/>
<path fill="#10f030" d="M16405 1781l24-17-25 2-24 17zM16381 1796l24-15-25 2-24 16zM16357 1811l24-15-25 3-24 14zM16332 1825l25-14-25 2-24 13zM16308 1837l24-12-24 1-25 12z"/>
<path fill="#08f038" d="M16283 1848l25-11-25 1-24 11zM16259 1858l24-10-24 1-25 10zM16234 1867l25-9-25 1-24 9zM16209 1875l25-8-24 1-25 7zM16184 1881l25-6-24 0-25 6zM16159 1887l25-6-24 0-26 5z"/>
<path fill="#10f038" d="M16134 1891l25-4-25-1-25 4z"/>
<path fill="#10f030" d="M16108 1894l26-3-25-1-25 3zM16082 1895l26-1-24-1-26 1zM16057 1896l25-1-24-1-26 0zM16031 1895l26 1-25-2-26-1z"/>
<path fill="#18f030" d="M16005 1893l26 2-25-2-26-2z"/>
<path fill="#20f830" d="M15978 1889l27 4-25-2-26-4z"/>
<path fill="#30f828" d="M15952 1885l26 4-24-2-27-5z"/>
<path fill="#38f828" d="M15925 1879l27 6-25-3-27-6z"/>
<path fill="#40f828" d="M15898 1871l27 8-25-3-27-8z"/>
<path fill="#50f820" d="M15871 1863l27 8-25-3-27-9z"/>
<path fill="#60f820" d="M15844 1853l27 10-25-4-27-10z"/>
<path fill="#70f820" d="M15816 1841l28 12-25-4-28-12z"/>
<path fill="#80f818" d="M15788 1829l28 12-25-4-27-13z"/>
<path fill="#90f818" d="M15760 1815l28 14-24-5-28-14z"/>
<path fill="#a0f810" d="M15732 1799l28 16-24-5-29-16z"/>
<path fill="#b0f810" d="M15703 1782l29 17-25-5-28-17z"/>
<path fill="#c0f810" d="M15675 1764l28 18-24-5-29-19z"/>
<path fill="#d8f808" d="M15646 1744l29 20-25-6-29-20z"/>
<path fill="#e8f808" d="M15616 1722l30 22-25-6-29-22z"/>
<path fill="#ff0" d="M15587 1699l29 23-24-6-30-23z"/>
<path fill="#ffe800" d="M15557 1675l30 24-25-6-30-25z"/>
<path fill="#ffd000" d="M15527 1649l30 26-25-7-30-26z"/>
<path fill="#ffc000" d="M15497 1621l30 28-25-7-30-28z"/>
<path fill="#ffa800" d="M15466 1592l31 29-25-7-31-29z"/>
<path fill="#ff9000" d="M15435 1561l31 31-25-7-31-31z"/>
<path fill="#f87800" d="M15403 1529l32 32-25-7-31-33z"/>
<path fill="#80f818" d="M16619 1608l23-26-25 5-23 26z"/>
<path fill="#70f820" d="M16595 1633l24-25-25 5-24 25z"/>
<path fill="#60f820" d="M16572 1657l23-24-25 5-23 24z"/>
<path fill="#50f820" d="M16548 1680l24-23-25 5-23 22z"/>
<path fill="#48f828" d="M16525 1702l23-22-24 4-24 22z"/>
<path fill="#38f828" d="M16501 1723l24-21-25 4-24 20z"/>
<path fill="#30f828" d="M16477 1742l24-19-25 3-23 19z"/>
<path fill="#28f830" d="M16454 1761l23-19-24 3-24 19z"/>
<path fill="#20f030" d="M16430 1778l24-17-25 3-24 17z"/>
<path fill="#18f030" d="M16406 1794l24-16-25 3-24 15z"/>
<path fill="#10f030" d="M16381 1809l25-15-25 2-24 15zM16357 1823l24-14-24 2-25 14zM16333 1836l24-13-25 2-24 12zM16308 1847l25-11-25 1-25 11zM16284 1858l24-11-25 1-24 10zM16259 1867l25-9-25 0-25 9zM16234 1875l25-8-25 0-25 8zM16209 1882l25-7-25 0-25 6zM16184 1887l25-5-25-1-25 6zM16158 1892l26-5-25 0-25 4zM16133 1895l25-3-24-1-26 3zM16107 1897l26-2-25-1-26 1zM16081 1897l26 0-25-2-25 1z"/>
<path fill="#18f030" d="M16055 1897l26 0-24-1-26-1z"/>
<path fill="#20f830" d="M16029 1895l26 2-24-2-26-2z"/>
<path fill="#28f828" d="M16003 1892l26 3-24-2-27-4z"/>
<path fill="#30f828" d="M15976 1887l27 5-25-3-26-4z"/>
<path fill="#38f828" d="M15950 1882l26 5-24-2-27-6z"/>
<path fill="#48f828" d="M15923 1875l27 7-25-3-27-8z"/>
<path fill="#50f820" d="M15896 1866l27 9-25-4-27-8z"/>
<path fill="#60f820" d="M15868 1857l28 9-25-3-27-10z"/>
<path fill="#70f820" d="M15841 1845l27 12-24-4-28-12z"/>
<path fill="#80f818" d="M15813 1833l28 12-25-4-28-12z"/>
<path fill="#90f818" d="M15785 1819l28 14-25-4-28-14z"/>
<path fill="#a0f810" d="M15757 1804l28 15-25-4-28-16z"/>
<path fill="#b0f810" d="M15728 1787l29 17-25-5-29-17z"/>
<path fill="#c0f810" d="M15700 1769l28 18-25-5-28-18z"/>
<path fill="#d8f808" d="M15671 1749l29 20-25-5-29-20z"/>
<path fill="#e8f800" d="M15641 1728l30 21-25-5-30-22z"/>
<path fill="#fff800" d="M15612 1706l29 22-25-6-29-23z"/>
<path fill="#ffe800" d="M15582 1681l30 25-25-7-30-24z"/>
<path fill="#ffd000" d="M15552 1656l30 25-25-6-30-26z"/>
<path fill="#ffc000" d="M15522 1628l30 28-25-7-30-28z"/>
<path fill="#ffa800" d="M15491 1600l31 28-25-7-31-29z"/>
<path fill="#ff9000" d="M15460 1569l31 31-25-8-31-31z"/>
<path fill="#f87800" d="M15429 1537l31 32-25-8-32-32z"/>
<path fill="#88f818" d="M16644 1603l23-26-25 5-23 26z"/>
<path fill="#78f820" d="M16620 1629l24-26-25 5-24 25z"/>
<path fill="#68f820" d="M16597 1653l23-24-25 4-23 24z"/>
<path fill="#58f820" d="M16573 1676l24-23-25 4-24 23z"/>
<path fill="#50f820" d="M16550 1698l23-22-25 4-23 22z"/>
<path fill="#40f828" d="M16526 1719l24-21-25 4-24 21z"/>
<path fill="#38f828" d="M16502 1739l24-20-25 4-24 19z"/>
<path fill="#30f828" d="M16479 1758l23-19-25 3-23 19z"/>
<path fill="#28f830" d="M16455 1775l24-17-25 3-24 17z"/>
<path fill="#20f030" d="M16430 1792l25-17-25 3-24 16z"/>
<path fill="#18f030" d="M16406 1807l24-15-24 2-25 15z"/>
<path fill="#10f030" d="M16382 1821l24-14-25 2-24 14zM16358 1834l24-13-25 2-24 13zM16333 1846l25-12-25 2-25 11zM16308 1857l25-11-25 1-24 11zM16284 1866l24-9-24 1-25 9zM16259 1874l25-8-25 1-25 8zM16234 1882l25-8-25 1-25 7zM16208 1887l26-5-25 0-25 5zM16183 1892l25-5-24 0-26 5zM16158 1895l25-3-25 0-25 3zM16132 1898l26-3-25 0-26 2z"/>
<path fill="#18f030" d="M16106 1899l26-1-25-1-26 0z"/>
<path fill="#20f030" d="M16080 1898l26 1-25-2-26 0z"/>
<path fill="#20f830" d="M16054 1897l26 1-25-1-26-2z"/>
<path fill="#30f828" d="M16028 1894l26 3-25-2-26-3z"/>
<path fill="#38f828" d="M16001 1890l27 4-25-2-27-5z"/>
<path fill="#40f828" d="M15974 1884l27 6-25-3-26-5z"/>
<path fill="#48f820" d="M15948 1878l26 6-24-2-27-7z"/>
<path fill="#58f820" d="M15920 1870l28 8-25-3-27-9z"/>
<path fill="#68f820" d="M15893 1860l27 10-24-4-28-9z"/>
<path fill="#70f820" d="M15866 1849l27 11-25-3-27-12z"/>
<path fill="#80f818" d="M15838 1837l28 12-25-4-28-12z"/>
<path fill="#90f818" d="M15810 1824l28 13-25-4-28-14z"/>
<path fill="#a0f810" d="M15782 1809l28 15-25-5-28-15z"/>
<path fill="#b0f810" d="M15753 1792l29 17-25-5-29-17z"/>
<path fill="#c8f810" d="M15725 1774l28 18-25-5-28-18z"/>
<path fill="#d8f808" d="M15696 1755l29 19-25-5-29-20z"/>
<path fill="#f0f800" d="M15666 1734l30 21-25-6-30-21z"/>
<path fill="#fff800" d="M15637 1712l29 22-25-6-29-22z"/>
<path fill="#ffe800" d="M15607 1688l30 24-25-6-30-25z"/>
<path fill="#ffd000" d="M15577 1662l30 26-25-7-30-25z"/>
<path fill="#ffc000" d="M15547 1635l30 27-25-6-30-28z"/>
<path fill="#ffa800" d="M15516 1607l31 28-25-7-31-28z"/>
<path fill="#ff9000" d="M15485 1577l31 30-25-7-31-31z"/>
<path fill="#f87800" d="M15454 1545l31 32-25-8-31-32z"/>
<path fill="#90f818" d="M16669 1598l23-26-25 5-23 26z"/>
<path fill="#80f818" d="M16646 1624l23-26-25 5-24 26z"/>
<path fill="#70f820" d="M16622 1649l24-25-26 5-23 24z"/>
<path fill="#68f820" d="M16599 1672l23-23-25 4-24 23z"/>
<path fill="#58f820" d="M16575 1695l24-23-26 4-23 22z"/>
<path fill="#50f820" d="M16551 1716l24-21-25 3-24 21z"/>
<path fill="#40f828" d="M16528 1736l23-20-25 3-24 20z"/>
<path fill="#38f828" d="M16504 1755l24-19-26 3-23 19z"/>
<path fill="#30f828" d="M16480 1773l24-18-25 3-24 17z"/>
<path fill="#28f830" d="M16456 1789l24-16-25 2-25 17z"/>
<path fill="#20f830" d="M16431 1805l25-16-26 3-24 15z"/>
<path fill="#18f030" d="M16407 1819l24-14-25 2-24 14z"/>
<path fill="#10f030" d="M16383 1833l24-14-25 2-24 13zM16358 1845l25-12-25 1-25 12zM16333 1856l25-11-25 1-25 11zM16309 1865l24-9-25 1-24 9zM16284 1874l25-9-25 1-25 8zM16259 1881l25-7-25 0-25 8zM16233 1888l26-7-25 1-26 5zM16208 1892l25-4-25-1-25 5zM16183 1896l25-4-25 0-25 3z"/>
<path fill="#18f030" d="M16157 1899l26-3-25-1-26 3zM16131 1900l26-1-25-1-26 1z"/>
<path fill="#20f830" d="M16105 1900l26 0-25-1-26-1z"/>
<path fill="#28f828" d="M16079 1899l26 1-25-2-26-1z"/>
<path fill="#30f828" d="M16053 1896l26 3-25-2-26-3z"/>
<path fill="#38f828" d="M16026 1892l27 4-25-2-27-4z"/>
<path fill="#40f828" d="M15999 1887l27 5-25-2-27-6z"/>
<path fill="#50f820" d="M15973 1881l26 6-25-3-26-6z"/>
<path fill="#60f820" d="M15945 1873l28 8-25-3-28-8z"/>
<path fill="#68f820" d="M15918 1864l27 9-25-3-27-10z"/>
<path fill="#78f820" d="M15891 1853l27 11-25-4-27-11z"/>
<path fill="#88f818" d="M15863 1841l28 12-25-4-28-12z"/>
<path fill="#98f818" d="M15835 1828l28 13-25-4-28-13z"/>
<path fill="#a8f810" d="M15807 1813l28 15-25-4-28-15z"/>
<path fill="#b8f810" d="M15778 1797l29 16-25-4-29-17z"/>
<path fill="#c8f808" d="M15750 1779l28 18-25-5-28-18z"/>
<path fill="#d8f808" d="M15721 1760l29 19-25-5-29-19z"/>
<path fill="#f0f800" d="M15691 1740l30 20-25-5-30-21z"/>
<path fill="#fff800" d="M15662 1718l29 22-25-6-29-22z"/>
<path fill="#ffe800" d="M15632 1694l30 24-25-6-30-24z"/>
<path fill="#ffd000" d="M15602 1669l30 25-25-6-30-26z"/>
<path fill="#ffc000" d="M15572 1642l30 27-25-7-30-27z"/>
<path fill="#ffa800" d="M15541 1614l31 28-25-7-31-28z"/>
<path fill="#ff9000" d="M15510 1584l31 30-25-7-31-30z"/>
<path fill="#f87800" d="M15479 1552l31 32-25-7-31-32z"/>
<path fill="#98f818" d="M16694 1593l24-27-26 6-23 26z"/>
<path fill="#88f818" d="M16671 1619l23-26-25 5-23 26z"/>
<path fill="#80f818" d="M16648 1644l23-25-25 5-24 25z"/>
<path fill="#70f820" d="M16624 1668l24-24-26 5-23 23z"/>
<path fill="#60f820" d="M16600 1691l24-23-25 4-24 23z"/>
<path fill="#58f820" d="M16577 1712l23-21-25 4-24 21z"/>
<path fill="#48f828" d="M16553 1733l24-21-26 4-23 20z"/>
<path fill="#40f828" d="M16529 1752l24-19-25 3-24 19z"/>
<path fill="#38f828" d="M16505 1770l24-18-25 3-24 18z"/>
<path fill="#30f828" d="M16481 1787l24-17-25 3-24 16z"/>
<path fill="#28f828" d="M16457 1803l24-16-25 2-25 16z"/>
<path fill="#20f830" d="M16432 1818l25-15-26 2-24 14z"/>
<path fill="#20f030" d="M16408 1831l24-13-25 1-24 14z"/>
<path fill="#18f030" d="M16383 1844l25-13-25 2-25 12zM16359 1855l24-11-25 1-25 11z"/>
<path fill="#10f030" d="M16334 1865l25-10-26 1-24 9zM16309 1874l25-9-25 0-25 9zM16284 1881l25-7-25 0-25 7zM16259 1888l25-7-25 0-26 7z"/>
<path fill="#18f030" d="M16233 1893l26-5-26 0-25 4zM16208 1897l25-4-25-1-25 4z"/>
<path fill="#20f030" d="M16182 1900l26-3-25-1-26 3z"/>
<path fill="#20f830" d="M16156 1901l26-1-25-1-26 1z"/>
<path fill="#28f828" d="M16130 1901l26 0-25-1-26 0z"/>
<path fill="#30f828" d="M16104 1900l26 1-25-1-26-1z"/>
<path fill="#38f828" d="M16078 1898l26 2-25-1-26-3z"/>
<path fill="#40f828" d="M16051 1895l27 3-25-2-27-4z"/>
<path fill="#48f828" d="M16025 1890l26 5-25-3-27-5z"/>
<path fill="#50f820" d="M15998 1883l27 7-26-3-26-6z"/>
<path fill="#60f820" d="M15971 1876l27 7-25-2-28-8z"/>
<path fill="#70f820" d="M15943 1867l28 9-26-3-27-9z"/>
<path fill="#78f818" d="M15916 1857l27 10-25-3-27-11z"/>
<path fill="#88f818" d="M15888 1845l28 12-25-4-28-12z"/>
<path fill="#98f818" d="M15860 1832l28 13-25-4-28-13z"/>
<path fill="#a8f810" d="M15832 1818l28 14-25-4-28-15z"/>
<path fill="#b8f810" d="M15804 1802l28 16-25-5-29-16z"/>
<path fill="#c8f808" d="M15775 1785l29 17-26-5-28-18z"/>
<path fill="#e0f808" d="M15746 1766l29 19-25-6-29-19z"/>
<path fill="#f0ff00" d="M15717 1746l29 20-25-6-30-20z"/>
<path fill="#fff800" d="M15687 1724l30 22-26-6-29-22z"/>
<path fill="#ffe000" d="M15658 1700l29 24-25-6-30-24z"/>
<path fill="#ffd000" d="M15628 1676l30 24-26-6-30-25z"/>
<path fill="#ffb800" d="M15597 1649l31 27-26-7-30-27z"/>
<path fill="#ffa800" d="M15567 1621l30 28-25-7-31-28z"/>
<path fill="#ff9000" d="M15536 1591l31 30-26-7-31-30z"/>
<path fill="#f87800" d="M15505 1560l31 31-26-7-31-32z"/>
<path fill="#a0f810" d="M16720 1588l23-27-25 5-24 27z"/>
<path fill="#90f818" d="M16697 1615l23-27-26 5-23 26z"/>
<path fill="#88f818" d="M16673 1640l24-25-26 4-23 25z"/>
<path fill="#78f820" d="M16649 1664l24-24-25 4-24 24z"/>
<path fill="#68f820" d="M16626 1687l23-23-25 4-24 23z"/>
<path fill="#60f820" d="M16602 1709l24-22-26 4-23 21z"/>
<path fill="#50f820" d="M16578 1729l24-20-25 3-24 21z"/>
<path fill="#48f828" d="M16554 1749l24-20-25 4-24 19z"/>
<path fill="#40f828" d="M16530 1767l24-18-25 3-24 18z"/>
<path fill="#38f828" d="M16506 1785l24-18-25 3-24 17z"/>
<path fill="#30f828" d="M16482 1801l24-16-25 2-24 16z"/>
<path fill="#28f828" d="M16458 1816l24-15-25 2-25 15z"/>
<path fill="#20f830" d="M16433 1829l25-13-26 2-24 13zM16409 1842l24-13-25 2-25 13z"/>
<path fill="#20f030" d="M16384 1854l25-12-26 2-24 11z"/>
<path fill="#18f030" d="M16359 1864l25-10-25 1-25 10zM16334 1873l25-9-25 1-25 9zM16309 1881l25-8-25 1-25 7zM16284 1888l25-7-25 0-25 7z"/>
<path fill="#20f030" d="M16258 1893l26-5-25 0-26 5z"/>
<path fill="#20f830" d="M16233 1897l25-4-25 0-25 4zM16207 1900l26-3-25 0-26 3z"/>
<path fill="#28f828" d="M16181 1902l26-2-25 0-26 1z"/>
<path fill="#30f828" d="M16156 1903l25-1-25-1-26 0zM16129 1902l27 1-26-2-26-1z"/>
<path fill="#38f828" d="M16103 1900l26 2-25-2-26-2z"/>
<path fill="#40f828" d="M16077 1897l26 3-25-2-27-3z"/>
<path fill="#50f820" d="M16050 1892l27 5-26-2-26-5z"/>
<path fill="#58f820" d="M16023 1886l27 6-25-2-27-7z"/>
<path fill="#68f820" d="M15996 1879l27 7-25-3-27-7z"/>
<path fill="#70f820" d="M15969 1870l27 9-25-3-28-9z"/>
<path fill="#80f818" d="M15941 1860l28 10-26-3-27-10z"/>
<path fill="#90f818" d="M15913 1849l28 11-25-3-28-12z"/>
<path fill="#a0f818" d="M15885 1836l28 13-25-4-28-13z"/>
<path fill="#a8f810" d="M15857 1822l28 14-25-4-28-14z"/>
<path fill="#c0f810" d="M15829 1807l28 15-25-4-28-16z"/>
<path fill="#d0f808" d="M15800 1790l29 17-25-5-29-17z"/>
<path fill="#e0f808" d="M15771 1771l29 19-25-5-29-19z"/>
<path fill="#f0ff00" d="M15742 1751l29 20-25-5-29-20z"/>
<path fill="#fff800" d="M15713 1730l29 21-25-5-30-22z"/>
<path fill="#ffe000" d="M15683 1707l30 23-26-6-29-24z"/>
<path fill="#ffd000" d="M15653 1682l30 25-25-7-30-24z"/>
<path fill="#ffb800" d="M15623 1656l30 26-25-6-31-27z"/>
<path fill="#ffa800" d="M15592 1628l31 28-26-7-30-28z"/>
<path fill="#ff9000" d="M15561 1599l31 29-25-7-31-30z"/>
<path fill="#f87800" d="M15530 1567l31 32-25-8-31-31z"/>
<path fill="#b0f810" d="M16746 1583l23-28-26 6-23 27z"/>
<path fill="#a0f810" d="M16722 1610l24-27-26 5-23 27z"/>
<path fill="#90f818" d="M16699 1635l23-25-25 5-24 25z"/>
<path fill="#80f818" d="M16675 1659l24-24-26 5-24 24z"/>
<path fill="#70f820" d="M16651 1683l24-24-26 5-23 23z"/>
<path fill="#68f820" d="M16628 1705l23-22-25 4-24 22z"/>
<path fill="#60f820" d="M16604 1726l24-21-26 4-24 20z"/>
<path fill="#50f820" d="M16580 1746l24-20-26 3-24 20z"/>
<path fill="#48f828" d="M16556 1764l24-18-26 3-24 18z"/>
<path fill="#40f828" d="M16532 1782l24-18-26 3-24 18z"/>
<path fill="#38f828" d="M16507 1798l25-16-26 3-24 16z"/>
<path fill="#30f828" d="M16483 1814l24-16-25 3-24 15zM16459 1828l24-14-25 2-25 13z"/>
<path fill="#28f828" d="M16434 1841l25-13-26 1-24 13z"/>
<path fill="#20f830" d="M16409 1852l25-11-25 1-25 12zM16384 1863l25-11-25 2-25 10zM16360 1872l24-9-25 1-25 9zM16334 1881l26-9-26 1-25 8zM16309 1888l25-7-25 0-25 7zM16284 1893l25-5-25 0-26 5z"/>
<path fill="#28f830" d="M16258 1898l26-5-26 0-25 4z"/>
<path fill="#28f828" d="M16233 1901l25-3-25-1-26 3z"/>
<path fill="#30f828" d="M16207 1903l26-2-26-1-26 2zM16181 1904l26-1-26-1-25 1z"/>
<path fill="#38f828" d="M16155 1904l26 0-25-1-27-1z"/>
<path fill="#40f828" d="M16128 1902l27 2-26-2-26-2z"/>
<path fill="#48f828" d="M16102 1899l26 3-25-2-26-3z"/>
<path fill="#50f820" d="M16075 1895l27 4-25-2-27-5z"/>
<path fill="#60f820" d="M16048 1889l27 6-25-3-27-6z"/>
<path fill="#68f820" d="M16021 1882l27 7-25-3-27-7z"/>
<path fill="#78f820" d="M15994 1874l27 8-25-3-27-9z"/>
<path fill="#80f818" d="M15967 1864l27 10-25-4-28-10z"/>
<path fill="#90f818" d="M15939 1853l28 11-26-4-28-11z"/>
<path fill="#a0f810" d="M15911 1840l28 13-26-4-28-13z"/>
<path fill="#b0f810" d="M15883 1827l28 13-26-4-28-14z"/>
<path fill="#c0f810" d="M15854 1811l29 16-26-5-28-15z"/>
<path fill="#d0f808" d="M15826 1794l28 17-25-4-29-17z"/>
<path fill="#e0f808" d="M15797 1776l29 18-26-4-29-19z"/>
<path fill="#f8ff00" d="M15768 1757l29 19-26-5-29-20z"/>
<path fill="#fff000" d="M15738 1735l30 22-26-6-29-21z"/>
<path fill="#ffe000" d="M15709 1713l29 22-25-5-30-23z"/>
<path fill="#ffd000" d="M15679 1688l30 25-26-6-30-25z"/>
<path fill="#ffb800" d="M15649 1662l30 26-26-6-30-26z"/>
<path fill="#ffa000" d="M15618 1635l31 27-26-6-31-28z"/>
<path fill="#ff9000" d="M15587 1606l31 29-26-7-31-29z"/>
<path fill="#f87800" d="M15556 1575l31 31-26-7-31-32z"/>
<path fill="#b8f810" d="M16772 1578l23-28-26 5-23 28z"/>
<path fill="#a8f810" d="M16748 1605l24-27-26 5-24 27z"/>
<path fill="#98f818" d="M16725 1630l23-25-26 5-23 25z"/>
<path fill="#88f818" d="M16701 1655l24-25-26 5-24 24z"/>
<path fill="#80f818" d="M16677 1679l24-24-26 4-24 24z"/>
<path fill="#70f820" d="M16653 1701l24-22-26 4-23 22z"/>
<path fill="#68f820" d="M16630 1722l23-21-25 4-24 21z"/>
<path fill="#58f820" d="M16606 1742l24-20-26 4-24 20z"/>
<path fill="#50f820" d="M16581 1761l25-19-26 4-24 18z"/>
<path fill="#48f828" d="M16557 1779l24-18-25 3-24 18z"/>
<path fill="#40f828" d="M16533 1796l24-17-25 3-25 16z"/>
<path fill="#38f828" d="M16509 1812l24-16-26 2-24 16z"/>
<path fill="#30f828" d="M16484 1826l25-14-26 2-24 14zM16460 1839l24-13-25 2-25 13zM16435 1851l25-12-26 2-25 11z"/>
<path fill="#28f828" d="M16410 1862l25-11-26 1-25 11zM16385 1872l25-10-26 1-24 9zM16360 1880l25-8-25 0-26 9zM16335 1887l25-7-26 1-25 7zM16309 1893l26-6-26 1-25 5zM16284 1898l25-5-25 0-26 5z"/>
<path fill="#30f828" d="M16258 1902l26-4-26 0-25 3zM16232 1904l26-2-25-1-26 2z"/>
<path fill="#38f828" d="M16206 1905l26-1-25-1-26 1z"/>
<path fill="#40f828" d="M16180 1905l26 0-25-1-26 0z"/>
<path fill="#48f828" d="M16154 1904l26 1-25-1-27-2z"/>
<path fill="#50f820" d="M16128 1901l26 3-26-2-26-3z"/>
<path fill="#58f820" d="M16101 1897l27 4-26-2-27-4z"/>
<path fill="#60f820" d="M16074 1892l27 5-26-2-27-6z"/>
<path fill="#70f820" d="M16047 1885l27 7-26-3-27-7z"/>
<path fill="#78f820" d="M16020 1877l27 8-26-3-27-8z"/>
<path fill="#88f818" d="M15992 1867l28 10-26-3-27-10z"/>
<path fill="#90f818" d="M15965 1857l27 10-25-3-28-11z"/>
<path fill="#a0f810" d="M15937 1844l28 13-26-4-28-13z"/>
<path fill="#b0f810" d="M15908 1831l29 13-26-4-28-13z"/>
<path fill="#c0f810" d="M15880 1816l28 15-25-4-29-16z"/>
<path fill="#d0f808" d="M15851 1799l29 17-26-5-28-17z"/>
<path fill="#e0f808" d="M15823 1781l28 18-25-5-29-18z"/>
<path fill="#f8ff00" d="M15794 1762l29 19-26-5-29-19z"/>
<path fill="#fff000" d="M15764 1741l30 21-26-5-30-22z"/>
<path fill="#ffe000" d="M15734 1718l30 23-26-6-29-22z"/>
<path fill="#ffd000" d="M15705 1694l29 24-25-5-30-25z"/>
<path fill="#ffb800" d="M15674 1669l31 25-26-6-30-26z"/>
<path fill="#ffa000" d="M15644 1642l30 27-25-7-31-27z"/>
<path fill="#ff9000" d="M15613 1613l31 29-26-7-31-29z"/>
<path fill="#f87800" d="M15582 1582l31 31-26-7-31-31z"/>
<path fill="#c0f810" d="M16798 1572l23-28-26 6-23 28z"/>
<path fill="#b0f810" d="M16774 1600l24-28-26 6-24 27z"/>
<path fill="#a0f810" d="M16751 1626l23-26-26 5-23 25z"/>
<path fill="#90f818" d="M16727 1651l24-25-26 4-24 25z"/>
<path fill="#88f818" d="M16703 1674l24-23-26 4-24 24z"/>
<path fill="#78f818" d="M16679 1697l24-23-26 5-24 22z"/>
<path fill="#70f820" d="M16655 1719l24-22-26 4-23 21z"/>
<path fill="#60f820" d="M16631 1739l24-20-25 3-24 20z"/>
<path fill="#58f820" d="M16607 1758l24-19-25 3-25 19z"/>
<path fill="#50f820" d="M16583 1777l24-19-26 3-24 18z"/>
<path fill="#48f828" d="M16559 1793l24-16-26 2-24 17z"/>
<path fill="#40f828" d="M16535 1809l24-16-26 3-24 16zM16510 1824l25-15-26 3-25 14z"/>
<path fill="#38f828" d="M16485 1837l25-13-26 2-24 13z"/>
<path fill="#30f828" d="M16461 1850l24-13-25 2-25 12zM16436 1861l25-11-26 1-25 11zM16411 1871l25-10-26 1-25 10zM16386 1880l25-9-26 1-25 8zM16361 1887l25-7-26 0-25 7zM16335 1894l26-7-26 0-26 6zM16310 1899l25-5-26-1-25 5z"/>
<path fill="#38f828" d="M16284 1902l26-3-26-1-26 4zM16258 1905l26-3-26 0-26 2z"/>
<path fill="#40f828" d="M16232 1906l26-1-26-1-26 1zM16206 1907l26-1-26-1-26 0z"/>
<path fill="#48f820" d="M16180 1905l26 2-26-2-26-1z"/>
<path fill="#50f820" d="M16153 1903l27 2-26-1-26-3z"/>
<path fill="#60f820" d="M16127 1899l26 4-25-2-27-4z"/>
<path fill="#68f820" d="M16100 1894l27 5-26-2-27-5z"/>
<path fill="#70f820" d="M16073 1888l27 6-26-2-27-7z"/>
<path fill="#80f818" d="M16045 1880l28 8-26-3-27-8z"/>
<path fill="#88f818" d="M16018 1871l27 9-25-3-28-10z"/>
<path fill="#98f818" d="M15990 1860l28 11-26-4-27-10z"/>
<path fill="#a8f810" d="M15962 1848l28 12-25-3-28-13z"/>
<path fill="#b8f810" d="M15934 1835l28 13-25-4-29-13z"/>
<path fill="#c0f810" d="M15906 1820l28 15-26-4-28-15z"/>
<path fill="#d8f808" d="M15877 1804l29 16-26-4-29-17z"/>
<path fill="#e8f808" d="M15849 1786l28 18-26-5-28-18z"/>
<path fill="#f8ff00" d="M15819 1767l30 19-26-5-29-19z"/>
<path fill="#fff000" d="M15790 1746l29 21-25-5-30-21z"/>
<path fill="#ffe000" d="M15760 1724l30 22-26-5-30-23z"/>
<path fill="#ffc800" d="M15731 1700l29 24-26-6-29-24z"/>
<path fill="#ffb800" d="M15700 1675l31 25-26-6-31-25z"/>
<path fill="#ffa000" d="M15670 1648l30 27-26-6-30-27z"/>
<path fill="#ff9000" d="M15639 1620l31 28-26-6-31-29z"/>
<path fill="#f87800" d="M15608 1589l31 31-26-7-31-31z"/>
<path fill="#c8f808" d="M16824 1567l23-29-26 6-23 28z"/>
<path fill="#b8f810" d="M16800 1595l24-28-26 5-24 28z"/>
<path fill="#a8f810" d="M16777 1621l23-26-26 5-23 26z"/>
<path fill="#a0f810" d="M16753 1646l24-25-26 5-24 25z"/>
<path fill="#90f818" d="M16729 1670l24-24-26 5-24 23z"/>
<path fill="#80f818" d="M16705 1693l24-23-26 4-24 23z"/>
<path fill="#78f820" d="M16681 1715l24-22-26 4-24 22z"/>
<path fill="#70f820" d="M16657 1736l24-21-26 4-24 20z"/>
<path fill="#60f820" d="M16633 1755l24-19-26 3-24 19z"/>
<path fill="#58f820" d="M16609 1774l24-19-26 3-24 19z"/>
<path fill="#50f820" d="M16585 1791l24-17-26 3-24 16z"/>
<path fill="#48f828" d="M16560 1807l25-16-26 2-24 16zM16536 1822l24-15-25 2-25 15z"/>
<path fill="#40f828" d="M16511 1836l25-14-26 2-25 13z"/>
<path fill="#38f828" d="M16487 1848l24-12-26 1-24 13zM16462 1860l25-12-26 2-25 11zM16437 1870l25-10-26 1-25 10zM16412 1879l25-9-26 1-25 9zM16386 1887l26-8-26 1-25 7zM16361 1893l25-6-25 0-26 7zM16336 1899l25-6-26 1-25 5zM16310 1903l26-4-26 0-26 3z"/>
<path fill="#40f828" d="M16284 1906l26-3-26-1-26 3zM16258 1908l26-2-26-1-26 1z"/>
<path fill="#48f828" d="M16232 1908l26 0-26-2-26 1z"/>
<path fill="#50f820" d="M16206 1907l26 1-26-1-26-2z"/>
<path fill="#58f820" d="M16179 1905l27 2-26-2-27-2z"/>
<path fill="#60f820" d="M16152 1901l27 4-26-2-26-4z"/>
<path fill="#70f820" d="M16126 1896l26 5-25-2-27-5z"/>
<path fill="#78f820" d="M16099 1890l27 6-26-2-27-6z"/>
<path fill="#80f818" d="M16071 1883l28 7-26-2-28-8z"/>
<path fill="#90f818" d="M16044 1874l27 9-26-3-27-9z"/>
<path fill="#98f818" d="M16016 1864l28 10-26-3-28-11z"/>
<path fill="#a8f810" d="M15988 1852l28 12-26-4-28-12z"/>
<path fill="#b8f810" d="M15960 1839l28 13-26-4-28-13z"/>
<path fill="#c8f810" d="M15932 1825l28 14-26-4-28-15z"/>
<path fill="#d8f808" d="M15903 1809l29 16-26-5-29-16z"/>
<path fill="#e8f808" d="M15875 1791l28 18-26-5-28-18z"/>
<path fill="#f8ff00" d="M15845 1772l30 19-26-5-30-19z"/>
<path fill="#fff000" d="M15816 1752l29 20-26-5-29-21z"/>
<path fill="#ffe000" d="M15787 1730l29 22-26-6-30-22z"/>
<path fill="#ffc800" d="M15757 1706l30 24-27-6-29-24z"/>
<path fill="#ffb800" d="M15726 1681l31 25-26-6-31-25z"/>
<path fill="#ffa000" d="M15696 1655l30 26-26-6-30-27z"/>
<path fill="#f80" d="M15665 1626l31 29-26-7-31-28z"/>
<path fill="#f87000" d="M15634 1596l31 30-26-6-31-31z"/>
<path fill="#d0f808" d="M16850 1562l24-29-27 5-23 29z"/>
<path fill="#c0f810" d="M16827 1589l23-27-26 5-24 28z"/>
<path fill="#b0f810" d="M16803 1616l24-27-27 6-23 26z"/>
<path fill="#a8f810" d="M16779 1641l24-25-26 5-24 25z"/>
<path fill="#98f818" d="M16756 1666l23-25-26 5-24 24z"/>
<path fill="#90f818" d="M16732 1689l24-23-27 4-24 23z"/>
<path fill="#80f818" d="M16708 1711l24-22-27 4-24 22z"/>
<path fill="#78f820" d="M16684 1732l24-21-27 4-24 21z"/>
<path fill="#70f820" d="M16660 1752l24-20-27 4-24 19z"/>
<path fill="#60f820" d="M16635 1771l25-19-27 3-24 19z"/>
<path fill="#58f820" d="M16611 1788l24-17-26 3-24 17z"/>
<path fill="#50f820" d="M16587 1805l24-17-26 3-25 16zM16562 1820l25-15-27 2-24 15z"/>
<path fill="#48f828" d="M16537 1834l25-14-26 2-25 14z"/>
<path fill="#40f828" d="M16513 1847l24-13-26 2-24 12zM16488 1859l25-12-26 1-25 12zM16463 1869l25-10-26 1-25 10zM16438 1878l25-9-26 1-25 9zM16413 1886l25-8-26 1-26 8zM16387 1893l26-7-27 1-25 6zM16362 1899l25-6-26 0-25 6zM16336 1903l26-4-26 0-26 4z"/>
<path fill="#48f828" d="M16310 1907l26-4-26 0-26 3zM16284 1909l26-2-26-1-26 2z"/>
<path fill="#50f820" d="M16258 1909l26 0-26-1-26 0z"/>
<path fill="#58f820" d="M16232 1909l26 0-26-1-26-1z"/>
<path fill="#60f820" d="M16205 1907l27 2-26-2-27-2z"/>
<path fill="#68f820" d="M16179 1903l26 4-26-2-27-4z"/>
<path fill="#70f820" d="M16152 1899l27 4-27-2-26-5z"/>
<path fill="#78f818" d="M16125 1893l27 6-26-3-27-6z"/>
<path fill="#88f818" d="M16097 1886l28 7-26-3-28-7z"/>
<path fill="#90f818" d="M16070 1877l27 9-26-3-27-9z"/>
<path fill="#a0f810" d="M16042 1867l28 10-26-3-28-10z"/>
<path fill="#b0f810" d="M16014 1856l28 11-26-3-28-12z"/>
<path fill="#b8f810" d="M15986 1843l28 13-26-4-28-13z"/>
<path fill="#c8f808" d="M15958 1829l28 14-26-4-28-14z"/>
<path fill="#d8f808" d="M15930 1813l28 16-26-4-29-16z"/>
<path fill="#f0f800" d="M15901 1796l29 17-27-4-28-18z"/>
<path fill="#ff0" d="M15872 1777l29 19-26-5-30-19z"/>
<path fill="#fff000" d="M15842 1757l30 20-27-5-29-20z"/>
<path fill="#ffd800" d="M15813 1736l29 21-26-5-29-22z"/>
<path fill="#ffc800" d="M15783 1712l30 24-26-6-30-24z"/>
<path fill="#ffb000" d="M15753 1687l30 25-26-6-31-25z"/>
<path fill="#ffa000" d="M15722 1661l31 26-27-6-30-26z"/>
<path fill="#f80" d="M15692 1633l30 28-26-6-31-29z"/>
<path fill="#f87000" d="M15661 1603l31 30-27-7-31-30z"/>
<path fill="#e0f808" d="M16877 1556l23-29-26 6-24 29z"/>
<path fill="#d0f808" d="M16853 1584l24-28-27 6-23 27z"/>
<path fill="#c0f810" d="M16830 1611l23-27-26 5-24 27z"/>
<path fill="#b0f810" d="M16806 1637l24-26-27 5-24 25z"/>
<path fill="#a0f810" d="M16782 1661l24-24-27 4-23 25z"/>
<path fill="#98f818" d="M16758 1685l24-24-26 5-24 23z"/>
<path fill="#88f818" d="M16734 1707l24-22-26 4-24 22z"/>
<path fill="#80f818" d="M16710 1729l24-22-26 4-24 21z"/>
<path fill="#78f820" d="M16686 1749l24-20-26 3-24 20z"/>
<path fill="#68f820" d="M16662 1768l24-19-26 3-25 19z"/>
<path fill="#60f820" d="M16637 1786l25-18-27 3-24 17z"/>
<path fill="#58f820" d="M16613 1802l24-16-26 2-24 17zM16588 1818l25-16-26 3-25 15z"/>
<path fill="#50f820" d="M16564 1832l24-14-26 2-25 14z"/>
<path fill="#48f820" d="M16539 1845l25-13-27 2-24 13z"/>
<path fill="#48f828" d="M16514 1857l25-12-26 2-25 12zM16489 1868l25-11-26 2-25 10z"/>
<path fill="#40f828" d="M16464 1878l25-10-26 1-25 9zM16439 1886l25-8-26 0-25 8zM16413 1893l26-7-26 0-26 7z"/>
<path fill="#48f828" d="M16388 1899l25-6-26 0-25 6zM16362 1904l26-5-26 0-26 4z"/>
<path fill="#48f820" d="M16336 1907l26-3-26-1-26 4z"/>
<path fill="#50f820" d="M16310 1909l26-2-26 0-26 2z"/>
<path fill="#58f820" d="M16284 1910l26-1-26 0-26 0z"/>
<path fill="#60f820" d="M16258 1910l26 0-26-1-26 0zM16231 1908l27 2-26-1-27-2z"/>
<path fill="#70f820" d="M16205 1905l26 3-26-1-26-4z"/>
<path fill="#78f820" d="M16178 1901l27 4-26-2-27-4z"/>
<path fill="#80f818" d="M16151 1895l27 6-26-2-27-6z"/>
<path fill="#88f818" d="M16124 1888l27 7-26-2-28-7z"/>
<path fill="#98f818" d="M16096 1880l28 8-27-2-27-9z"/>
<path fill="#a0f810" d="M16069 1870l27 10-26-3-28-10z"/>
<path fill="#b0f810" d="M16041 1859l28 11-27-3-28-11z"/>
<path fill="#c0f810" d="M16013 1847l28 12-27-3-28-13z"/>
<path fill="#d0f808" d="M15984 1833l29 14-27-4-28-14z"/>
<path fill="#e0f808" d="M15956 1817l28 16-26-4-28-16z"/>
<path fill="#f0f800" d="M15927 1801l29 16-26-4-29-17z"/>
<path fill="#fff800" d="M15898 1782l29 19-26-5-29-19z"/>
<path fill="#ffe800" d="M15869 1762l29 20-26-5-30-20z"/>
<path fill="#ffd800" d="M15839 1741l30 21-27-5-29-21z"/>
<path fill="#ffc800" d="M15809 1718l30 23-26-5-30-24z"/>
<path fill="#ffb000" d="M15779 1693l30 25-26-6-30-25z"/>
<path fill="#ffa000" d="M15749 1667l30 26-26-6-31-26z"/>
<path fill="#f80" d="M15718 1640l31 27-27-6-30-28z"/>
<path fill="#f87000" d="M15687 1610l31 30-26-7-31-30z"/>
<path fill="#e8f808" d="M16904 1550l23-29-27 6-23 29z"/>
<path fill="#d8f808" d="M16880 1579l24-29-27 6-24 28z"/>
<path fill="#c8f810" d="M16856 1606l24-27-27 5-23 27z"/>
<path fill="#b8f810" d="M16832 1632l24-26-26 5-24 26z"/>
<path fill="#a8f810" d="M16809 1657l23-25-26 5-24 24z"/>
<path fill="#a0f810" d="M16785 1681l24-24-27 4-24 24z"/>
<path fill="#90f818" d="M16761 1703l24-22-27 4-24 22z"/>
<path fill="#88f818" d="M16737 1725l24-22-27 4-24 22z"/>
<path fill="#80f818" d="M16712 1745l25-20-27 4-24 20z"/>
<path fill="#70f820" d="M16688 1765l24-20-26 4-24 19zM16664 1783l24-18-26 3-25 18z"/>
<path fill="#60f820" d="M16639 1800l25-17-27 3-24 16zM16615 1816l24-16-26 2-25 16z"/>
<path fill="#58f820" d="M16590 1830l25-14-27 2-24 14z"/>
<path fill="#50f820" d="M16565 1844l25-14-26 2-25 13zM16541 1856l24-12-26 1-25 12zM16516 1867l25-11-27 1-25 11z"/>
<path fill="#48f820" d="M16490 1877l26-10-27 1-25 10z"/>
<path fill="#48f828" d="M16465 1885l25-8-26 1-25 8zM16440 1893l25-8-26 1-26 7z"/>
<path fill="#50f820" d="M16414 1899l26-6-27 0-25 6zM16389 1904l25-5-26 0-26 5zM16363 1908l26-4-27 0-26 3z"/>
<path fill="#58f820" d="M16337 1910l26-2-27-1-26 2zM16311 1911l26-1-27-1-26 1z"/>
<path fill="#60f820" d="M16284 1911l27 0-27-1-26 0z"/>
<path fill="#68f820" d="M16258 1910l26 1-26-1-27-2z"/>
<path fill="#70f820" d="M16231 1907l27 3-27-2-26-3z"/>
<path fill="#78f818" d="M16204 1903l27 4-26-2-27-4z"/>
<path fill="#88f818" d="M16177 1898l27 5-26-2-27-6z"/>
<path fill="#90f818" d="M16150 1891l27 7-26-3-27-7z"/>
<path fill="#98f818" d="M16123 1883l27 8-26-3-28-8z"/>
<path fill="#a8f810" d="M16095 1874l28 9-27-3-27-10z"/>
<path fill="#b0f810" d="M16067 1863l28 11-26-4-28-11z"/>
<path fill="#c0f810" d="M16039 1851l28 12-26-4-28-12z"/>
<path fill="#d0f808" d="M16011 1837l28 14-26-4-29-14z"/>
<path fill="#e0f808" d="M15982 1822l29 15-27-4-28-16z"/>
<path fill="#f0ff00" d="M15954 1805l28 17-26-5-29-16z"/>
<path fill="#fff800" d="M15925 1787l29 18-27-4-29-19z"/>
<path fill="#ffe800" d="M15895 1767l30 20-27-5-29-20z"/>
<path fill="#ffd800" d="M15866 1746l29 21-26-5-30-21z"/>
<path fill="#ffc000" d="M15836 1724l30 22-27-5-30-23z"/>
<path fill="#ffb000" d="M15806 1699l30 25-27-6-30-25z"/>
<path fill="#ffa000" d="M15776 1674l30 25-27-6-30-26z"/>
<path fill="#f80" d="M15745 1646l31 28-27-7-31-27z"/>
<path fill="#f87000" d="M15714 1617l31 29-27-6-31-30z"/>
<path fill="#f0f800" d="M16930 1545l24-30-27 6-23 29z"/>
<path fill="#e0f808" d="M16907 1573l23-28-26 5-24 29z"/>
<path fill="#d0f808" d="M16883 1601l24-28-27 6-24 27z"/>
<path fill="#c0f810" d="M16859 1627l24-26-27 5-24 26z"/>
<path fill="#b0f810" d="M16835 1652l24-25-27 5-23 25z"/>
<path fill="#a8f810" d="M16811 1677l24-25-26 5-24 24z"/>
<path fill="#a0f818" d="M16787 1700l24-23-26 4-24 22z"/>
<path fill="#90f818" d="M16763 1721l24-21-26 3-24 22z"/>
<path fill="#88f818" d="M16739 1742l24-21-26 4-25 20z"/>
<path fill="#80f818" d="M16715 1762l24-20-27 3-24 20z"/>
<path fill="#70f820" d="M16690 1780l25-18-27 3-24 18zM16666 1797l24-17-26 3-25 17z"/>
<path fill="#68f820" d="M16641 1813l25-16-27 3-24 16z"/>
<path fill="#60f820" d="M16617 1828l24-15-26 3-25 14z"/>
<path fill="#58f820" d="M16592 1842l25-14-27 2-25 14zM16567 1854l25-12-27 2-24 12z"/>
<path fill="#50f820" d="M16542 1866l25-12-26 2-25 11zM16517 1876l25-10-26 1-26 10zM16492 1885l25-9-27 1-25 8zM16466 1892l26-7-27 0-25 8zM16441 1899l25-7-26 1-26 6z"/>
<path fill="#58f820" d="M16415 1904l26-5-27 0-25 5zM16389 1908l26-4-26 0-26 4z"/>
<path fill="#60f820" d="M16363 1911l26-3-26 0-26 2zM16337 1912l26-1-26-1-26 1z"/>
<path fill="#68f820" d="M16311 1913l26-1-26-1-27 0z"/>
<path fill="#70f820" d="M16284 1911l27 2-27-2-26-1z"/>
<path fill="#78f820" d="M16258 1909l26 2-26-1-27-3z"/>
<path fill="#80f818" d="M16231 1905l27 4-27-2-27-4z"/>
<path fill="#88f818" d="M16204 1900l27 5-27-2-27-5z"/>
<path fill="#90f818" d="M16177 1894l27 6-27-2-27-7z"/>
<path fill="#a0f810" d="M16149 1886l28 8-27-3-27-8z"/>
<path fill="#a8f810" d="M16122 1877l27 9-26-3-28-9z"/>
<path fill="#b8f810" d="M16094 1866l28 11-27-3-28-11z"/>
<path fill="#c8f810" d="M16066 1854l28 12-27-3-28-12z"/>
<path fill="#d0f808" d="M16038 1841l28 13-27-3-28-14z"/>
<path fill="#e0f808" d="M16009 1826l29 15-27-4-29-15z"/>
<path fill="#f0ff00" d="M15980 1810l29 16-27-4-28-17z"/>
<path fill="#fff800" d="M15951 1792l29 18-26-5-29-18z"/>
<path fill="#ffe800" d="M15922 1772l29 20-26-5-30-20z"/>
<path fill="#ffd000" d="M15893 1752l29 20-27-5-29-21z"/>
<path fill="#ffc000" d="M15863 1729l30 23-27-6-30-22z"/>
<path fill="#ffb000" d="M15833 1705l30 24-27-5-30-25z"/>
<path fill="#ff9800" d="M15802 1680l31 25-27-6-30-25z"/>
<path fill="#f80" d="M15772 1652l30 28-26-6-31-28z"/>
<path fill="#f87000" d="M15741 1624l31 28-27-6-31-29z"/>
<path fill="#f8ff00" d="M16957 1539l24-30-27 6-24 30z"/>
<path fill="#e8f808" d="M16934 1568l23-29-27 6-23 28z"/>
<path fill="#d8f808" d="M16910 1596l24-28-27 5-24 28z"/>
<path fill="#c8f808" d="M16886 1622l24-26-27 5-24 26z"/>
<path fill="#c0f810" d="M16862 1648l24-26-27 5-24 25z"/>
<path fill="#b0f810" d="M16838 1672l24-24-27 4-24 25z"/>
<path fill="#a0f810" d="M16814 1695l24-23-27 5-24 23z"/>
<path fill="#98f818" d="M16790 1718l24-23-27 5-24 21z"/>
<path fill="#90f818" d="M16766 1739l24-21-27 3-24 21z"/>
<path fill="#88f818" d="M16742 1758l24-19-27 3-24 20z"/>
<path fill="#80f818" d="M16717 1777l25-19-27 4-25 18z"/>
<path fill="#78f820" d="M16693 1795l24-18-27 3-24 17z"/>
<path fill="#70f820" d="M16668 1811l25-16-27 2-25 16z"/>
<path fill="#68f820" d="M16644 1826l24-15-27 2-24 15z"/>
<path fill="#60f820" d="M16619 1840l25-14-27 2-25 14zM16594 1853l25-13-27 2-25 12zM16569 1864l25-11-27 1-25 12z"/>
<path fill="#58f820" d="M16544 1875l25-11-27 2-25 10zM16518 1884l26-9-27 1-25 9zM16493 1892l25-8-26 1-26 7zM16467 1899l26-7-27 0-25 7z"/>
<path fill="#60f820" d="M16442 1904l25-5-26 0-26 5zM16416 1908l26-4-27 0-26 4zM16390 1911l26-3-27 0-26 3z"/>
<path fill="#68f820" d="M16364 1913l26-2-27 0-26 1z"/>
<path fill="#70f820" d="M16338 1914l26-1-27-1-26 1zM16311 1913l27 1-27-1-27-2z"/>
<path fill="#80f818" d="M16284 1911l27 2-27-2-26-2z"/>
<path fill="#88f818" d="M16258 1907l26 4-26-2-27-4z"/>
<path fill="#90f818" d="M16231 1902l27 5-27-2-27-5z"/>
<path fill="#98f818" d="M16203 1896l28 6-27-2-27-6z"/>
<path fill="#a0f810" d="M16176 1889l27 7-26-2-28-8z"/>
<path fill="#b0f810" d="M16148 1880l28 9-27-3-27-9z"/>
<path fill="#c0f810" d="M16121 1869l27 11-26-3-28-11z"/>
<path fill="#c8f808" d="M16093 1858l28 11-27-3-28-12z"/>
<path fill="#d8f808" d="M16064 1845l29 13-27-4-28-13z"/>
<path fill="#e8f808" d="M16036 1830l28 15-26-4-29-15z"/>
<path fill="#f8ff00" d="M16007 1814l29 16-27-4-29-16z"/>
<path fill="#fff000" d="M15978 1796l29 18-27-4-29-18z"/>
<path fill="#ffe000" d="M15949 1777l29 19-27-4-29-20z"/>
<path fill="#ffd000" d="M15919 1757l30 20-27-5-29-20z"/>
<path fill="#ffc000" d="M15890 1735l29 22-26-5-30-23z"/>
<path fill="#ffb000" d="M15860 1711l30 24-27-6-30-24z"/>
<path fill="#ff9800" d="M15829 1686l31 25-27-6-31-25z"/>
<path fill="#f80" d="M15799 1659l30 27-27-6-30-28z"/>
<path fill="#f87000" d="M15768 1630l31 29-27-7-31-28z"/>
<path fill="#fff800" d="M16985 1533l23-30-27 6-24 30z"/>
<path fill="#f0ff00" d="M16961 1562l24-29-28 6-23 29z"/>
<path fill="#e0f808" d="M16937 1590l24-28-27 6-24 28z"/>
<path fill="#d0f808" d="M16913 1617l24-27-27 6-24 26z"/>
<path fill="#c8f810" d="M16889 1643l24-26-27 5-24 26z"/>
<path fill="#b8f810" d="M16865 1668l24-25-27 5-24 24z"/>
<path fill="#b0f810" d="M16841 1691l24-23-27 4-24 23z"/>
<path fill="#a0f810" d="M16817 1714l24-23-27 4-24 23z"/>
<path fill="#98f818" d="M16793 1735l24-21-27 4-24 21z"/>
<path fill="#90f818" d="M16769 1755l24-20-27 4-24 19z"/>
<path fill="#88f818" d="M16744 1774l25-19-27 3-25 19z"/>
<path fill="#80f818" d="M16720 1792l24-18-27 3-24 18z"/>
<path fill="#78f820" d="M16695 1808l25-16-27 3-25 16z"/>
<path fill="#70f820" d="M16670 1824l25-16-27 3-24 15z"/>
<path fill="#68f820" d="M16646 1838l24-14-26 2-25 14zM16621 1851l25-13-27 2-25 13z"/>
<path fill="#60f820" d="M16596 1863l25-12-27 2-25 11zM16571 1874l25-11-27 1-25 11zM16545 1883l26-9-27 1-26 9zM16520 1891l25-8-27 1-25 8zM16494 1898l26-7-27 1-26 7zM16469 1904l25-6-27 1-25 5z"/>
<path fill="#68f820" d="M16443 1909l26-5-27 0-26 4zM16417 1912l26-3-27-1-26 3z"/>
<path fill="#70f820" d="M16391 1914l26-2-27-1-26 2zM16364 1915l27-1-27-1-26 1z"/>
<path fill="#78f818" d="M16338 1914l26 1-26-1-27-1z"/>
<path fill="#80f818" d="M16311 1912l27 2-27-1-27-2z"/>
<path fill="#88f818" d="M16284 1909l27 3-27-1-26-4z"/>
<path fill="#90f818" d="M16257 1904l27 5-26-2-27-5z"/>
<path fill="#a0f810" d="M16230 1899l27 5-26-2-28-6z"/>
<path fill="#a8f810" d="M16203 1891l27 8-27-3-27-7z"/>
<path fill="#b0f810" d="M16175 1883l28 8-27-2-28-9z"/>
<path fill="#c0f810" d="M16148 1873l27 10-27-3-27-11z"/>
<path fill="#d0f808" d="M16120 1861l28 12-27-4-28-11z"/>
<path fill="#d8f808" d="M16091 1848l29 13-27-3-29-13z"/>
<path fill="#e8f800" d="M16063 1834l28 14-27-3-28-15z"/>
<path fill="#f8ff00" d="M16034 1818l29 16-27-4-29-16z"/>
<path fill="#fff000" d="M16005 1801l29 17-27-4-29-18z"/>
<path fill="#ffe000" d="M15976 1782l29 19-27-5-29-19z"/>
<path fill="#ffd000" d="M15947 1762l29 20-27-5-30-20z"/>
<path fill="#ffc000" d="M15917 1740l30 22-28-5-29-22z"/>
<path fill="#ffa800" d="M15887 1716l30 24-27-5-30-24z"/>
<path fill="#ff9800" d="M15856 1691l31 25-27-5-31-25z"/>
<path fill="#ff8000" d="M15826 1665l30 26-27-5-30-27z"/>
<path fill="#f87000" d="M15795 1636l31 29-27-6-31-29z"/>
<path fill="#fff000" d="M17012 1527l24-31-28 7-23 30z"/>
<path fill="#ff0" d="M16988 1557l24-30-27 6-24 29z"/>
<path fill="#f0f800" d="M16965 1585l23-28-27 5-24 28z"/>
<path fill="#e0f808" d="M16941 1612l24-27-28 5-24 27z"/>
<path fill="#d0f808" d="M16917 1638l24-26-28 5-24 26z"/>
<path fill="#c0f810" d="M16893 1663l24-25-28 5-24 25z"/>
<path fill="#b8f810" d="M16869 1687l24-24-28 5-24 23z"/>
<path fill="#a8f810" d="M16844 1710l25-23-28 4-24 23z"/>
<path fill="#a0f810" d="M16820 1731l24-21-27 4-24 21z"/>
<path fill="#98f818" d="M16796 1752l24-21-27 4-24 20z"/>
<path fill="#90f818" d="M16771 1771l25-19-27 3-25 19z"/>
<path fill="#88f818" d="M16747 1789l24-18-27 3-24 18z"/>
<path fill="#80f818" d="M16722 1806l25-17-27 3-25 16z"/>
<path fill="#78f820" d="M16698 1822l24-16-27 2-25 16z"/>
<path fill="#70f820" d="M16673 1836l25-14-28 2-24 14zM16648 1849l25-13-27 2-25 13z"/>
<path fill="#68f820" d="M16623 1862l25-13-27 2-25 12zM16598 1873l25-11-27 1-25 11zM16572 1882l26-9-27 1-26 9zM16547 1891l25-9-27 1-25 8zM16521 1898l26-7-27 0-26 7zM16496 1904l25-6-27 0-25 6z"/>
<path fill="#70f820" d="M16470 1909l26-5-27 0-26 5zM16444 1912l26-3-27 0-26 3zM16418 1915l26-3-27 0-26 2z"/>
<path fill="#78f820" d="M16391 1916l27-1-27-1-27 1z"/>
<path fill="#80f818" d="M16365 1915l26 1-27-1-26-1z"/>
<path fill="#88f818" d="M16338 1914l27 1-27-1-27-2z"/>
<path fill="#90f818" d="M16312 1911l26 3-27-2-27-3z"/>
<path fill="#98f818" d="M16285 1906l27 5-28-2-27-5z"/>
<path fill="#a0f810" d="M16257 1901l28 5-28-2-27-5z"/>
<path fill="#b0f810" d="M16230 1894l27 7-27-2-27-8z"/>
<path fill="#b8f810" d="M16202 1886l28 8-27-3-28-8z"/>
<path fill="#c0f810" d="M16175 1876l27 10-27-3-27-10z"/>
<path fill="#d0f808" d="M16147 1865l28 11-27-3-28-12z"/>
<path fill="#e0f808" d="M16118 1852l29 13-27-4-29-13z"/>
<path fill="#f0f800" d="M16090 1838l28 14-27-4-28-14z"/>
<path fill="#ff0" d="M16061 1822l29 16-27-4-29-16z"/>
<path fill="#fff000" d="M16032 1805l29 17-27-4-29-17z"/>
<path fill="#ffe000" d="M16003 1787l29 18-27-4-29-19z"/>
<path fill="#ffd000" d="M15974 1767l29 20-27-5-29-20z"/>
<path fill="#ffc000" d="M15944 1745l30 22-27-5-30-22z"/>
<path fill="#ffa800" d="M15914 1722l30 23-27-5-30-24z"/>
<path fill="#ff9800" d="M15884 1697l30 25-27-6-31-25z"/>
<path fill="#f88000" d="M15853 1671l31 26-28-6-30-26z"/>
<path fill="#f87000" d="M15822 1643l31 28-27-6-31-29z"/>
<path fill="#ffe800" d="M17040 1521l23-31-27 6-24 31z"/>
<path fill="#fff800" d="M17016 1551l24-30-28 6-24 30z"/>
<path fill="#f8ff00" d="M16992 1579l24-28-28 6-23 28z"/>
<path fill="#e8f808" d="M16968 1607l24-28-27 6-24 27z"/>
<path fill="#d8f808" d="M16944 1633l24-26-27 5-24 26z"/>
<path fill="#c8f808" d="M16920 1659l24-26-27 5-24 25z"/>
<path fill="#c0f810" d="M16896 1683l24-24-27 4-24 24z"/>
<path fill="#b0f810" d="M16872 1706l24-23-27 4-25 23z"/>
<path fill="#a8f810" d="M16848 1728l24-22-28 4-24 21z"/>
<path fill="#a0f810" d="M16823 1748l25-20-28 3-24 21z"/>
<path fill="#98f818" d="M16799 1768l24-20-27 4-25 19z"/>
<path fill="#90f818" d="M16774 1786l25-18-28 3-24 18z"/>
<path fill="#88f818" d="M16750 1803l24-17-27 3-25 17z"/>
<path fill="#80f818" d="M16725 1819l25-16-28 3-24 16z"/>
<path fill="#78f818" d="M16700 1834l25-15-27 3-25 14z"/>
<path fill="#78f820" d="M16675 1848l25-14-27 2-25 13z"/>
<path fill="#70f820" d="M16650 1860l25-12-27 1-25 13zM16625 1871l25-11-27 2-25 11zM16600 1881l25-10-27 2-26 9zM16574 1890l26-9-28 1-25 9zM16549 1898l25-8-27 1-26 7zM16523 1904l26-6-28 0-25 6zM16497 1909l26-5-27 0-26 5z"/>
<path fill="#78f820" d="M16471 1913l26-4-27 0-26 3z"/>
<path fill="#78f818" d="M16445 1915l26-2-27-1-26 3z"/>
<path fill="#80f818" d="M16419 1917l26-2-27 0-27 1z"/>
<path fill="#88f818" d="M16392 1916l27 1-28-1-26-1z"/>
<path fill="#90f818" d="M16366 1915l26 1-27-1-27-1zM16339 1912l27 3-28-1-26-3z"/>
<path fill="#a0f818" d="M16312 1908l27 4-27-1-27-5z"/>
<path fill="#a8f810" d="M16285 1903l27 5-27-2-28-5z"/>
<path fill="#b0f810" d="M16257 1896l28 7-28-2-27-7z"/>
<path fill="#b8f810" d="M16230 1888l27 8-27-2-28-8z"/>
<path fill="#c8f810" d="M16202 1879l28 9-28-2-27-10z"/>
<path fill="#d8f808" d="M16174 1868l28 11-27-3-28-11z"/>
<path fill="#e0f808" d="M16146 1855l28 13-27-3-29-13z"/>
<path fill="#f0ff00" d="M16117 1842l29 13-28-3-28-14z"/>
<path fill="#fff800" d="M16089 1826l28 16-27-4-29-16z"/>
<path fill="#ffe800" d="M16060 1810l29 16-28-4-29-17z"/>
<path fill="#ffd800" d="M16031 1791l29 19-28-5-29-18z"/>
<path fill="#ffc800" d="M16001 1772l30 19-28-4-29-20z"/>
<path fill="#ffb800" d="M15971 1750l30 22-27-5-30-22z"/>
<path fill="#ffa800" d="M15942 1727l29 23-27-5-30-23z"/>
<path fill="#ff9000" d="M15911 1703l31 24-28-5-30-25z"/>
<path fill="#f88000" d="M15881 1677l30 26-27-6-31-26z"/>
<path fill="#f86800" d="M15850 1649l31 28-28-6-31-28z"/>
<path fill="#ffe000" d="M17067 1515l24-31-28 6-23 31z"/>
<path fill="#fff000" d="M17044 1545l23-30-27 6-24 30z"/>
<path fill="#ff0" d="M17020 1574l24-29-28 6-24 28z"/>
<path fill="#f0f800" d="M16996 1602l24-28-28 5-24 28z"/>
<path fill="#e0f808" d="M16972 1628l24-26-28 5-24 26z"/>
<path fill="#d0f808" d="M16948 1654l24-26-28 5-24 26z"/>
<path fill="#c8f810" d="M16924 1678l24-24-28 5-24 24z"/>
<path fill="#c0f810" d="M16899 1702l25-24-28 5-24 23z"/>
<path fill="#b0f810" d="M16875 1724l24-22-27 4-24 22z"/>
<path fill="#a8f810" d="M16851 1745l24-21-27 4-25 20z"/>
<path fill="#a0f810" d="M16826 1764l25-19-28 3-24 20z"/>
<path fill="#98f818" d="M16802 1783l24-19-27 4-25 18z"/>
<path fill="#90f818" d="M16777 1800l25-17-28 3-24 17z"/>
<path fill="#88f818" d="M16752 1817l25-17-27 3-25 16z"/>
<path fill="#80f818" d="M16727 1832l25-15-27 2-25 15zM16703 1846l24-14-27 2-25 14z"/>
<path fill="#78f818" d="M16677 1858l26-12-28 2-25 12z"/>
<path fill="#78f820" d="M16652 1870l25-12-27 2-25 11zM16627 1880l25-10-27 1-25 10zM16602 1889l25-9-27 1-26 9zM16576 1897l26-8-28 1-25 8zM16550 1904l26-7-27 1-26 6zM16524 1909l26-5-27 0-26 5z"/>
<path fill="#80f818" d="M16498 1913l26-4-27 0-26 4zM16472 1916l26-3-27 0-26 2z"/>
<path fill="#88f818" d="M16446 1917l26-1-27-1-26 2zM16420 1917l26 0-27 0-27-1z"/>
<path fill="#90f818" d="M16393 1916l27 1-28-1-26-1z"/>
<path fill="#98f818" d="M16366 1914l27 2-27-1-27-3z"/>
<path fill="#a0f810" d="M16339 1910l27 4-27-2-27-4z"/>
<path fill="#a8f810" d="M16312 1905l27 5-27-2-27-5z"/>
<path fill="#b8f810" d="M16285 1899l27 6-27-2-28-7z"/>
<path fill="#c0f810" d="M16257 1891l28 8-28-3-27-8z"/>
<path fill="#d0f808" d="M16229 1882l28 9-27-3-28-9z"/>
<path fill="#d8f808" d="M16201 1871l28 11-27-3-28-11z"/>
<path fill="#e8f808" d="M16173 1859l28 12-27-3-28-13z"/>
<path fill="#f8ff00" d="M16145 1845l28 14-27-4-29-13z"/>
<path fill="#fff800" d="M16116 1830l29 15-28-3-28-16z"/>
<path fill="#ffe800" d="M16087 1814l29 16-27-4-29-16z"/>
<path fill="#ffd800" d="M16058 1796l29 18-27-4-29-19z"/>
<path fill="#ffc800" d="M16029 1776l29 20-27-5-30-19z"/>
<path fill="#ffb800" d="M15999 1755l30 21-28-4-30-22z"/>
<path fill="#ffa800" d="M15969 1732l30 23-28-5-29-23z"/>
<path fill="#ff9000" d="M15939 1708l30 24-27-5-31-24z"/>
<path fill="#f88000" d="M15908 1682l31 26-28-5-30-26z"/>
<path fill="#f86800" d="M15878 1655l30 27-27-5-31-28z"/>
<path fill="#ffd800" d="M17095 1509l24-32-28 7-24 31z"/>
<path fill="#ffe800" d="M17072 1539l23-30-28 6-23 30z"/>
<path fill="#fff000" d="M17048 1568l24-29-28 6-24 29z"/>
<path fill="#f8ff00" d="M17024 1596l24-28-28 6-24 28z"/>
<path fill="#e8f800" d="M17000 1623l24-27-28 6-24 26z"/>
<path fill="#e0f808" d="M16976 1649l24-26-28 5-24 26z"/>
<path fill="#d0f808" d="M16951 1674l25-25-28 5-24 24z"/>
<path fill="#c8f810" d="M16927 1697l24-23-27 4-25 24z"/>
<path fill="#b8f810" d="M16903 1720l24-23-28 5-24 22z"/>
<path fill="#b0f810" d="M16878 1741l25-21-28 4-24 21z"/>
<path fill="#a8f810" d="M16854 1761l24-20-27 4-25 19z"/>
<path fill="#a0f810" d="M16829 1780l25-19-28 3-24 19z"/>
<path fill="#98f818" d="M16805 1798l24-18-27 3-25 17z"/>
<path fill="#90f818" d="M16780 1814l25-16-28 2-25 17zM16755 1830l25-16-28 3-25 15z"/>
<path fill="#88f818" d="M16730 1844l25-14-28 2-24 14z"/>
<path fill="#80f818" d="M16705 1857l25-13-27 2-26 12zM16680 1868l25-11-28 1-25 12zM16655 1879l25-11-28 2-25 10zM16629 1888l26-9-28 1-25 9zM16604 1896l25-8-27 1-26 8zM16578 1903l26-7-28 1-26 7zM16552 1909l26-6-28 1-26 5zM16526 1913l26-4-28 0-26 4z"/>
<path fill="#88f818" d="M16500 1916l26-3-28 0-26 3zM16474 1918l26-2-28 0-26 1z"/>
<path fill="#90f818" d="M16447 1918l27 0-28-1-26 0z"/>
<path fill="#98f818" d="M16421 1918l26 0-27-1-27-1z"/>
<path fill="#a0f810" d="M16394 1915l27 3-28-2-27-2z"/>
<path fill="#a8f810" d="M16367 1912l27 3-28-1-27-4z"/>
<path fill="#b0f810" d="M16340 1907l27 5-28-2-27-5z"/>
<path fill="#b8f810" d="M16312 1901l28 6-28-2-27-6z"/>
<path fill="#c0f810" d="M16285 1893l27 8-27-2-28-8z"/>
<path fill="#d0f808" d="M16257 1884l28 9-28-2-28-9z"/>
<path fill="#e0f808" d="M16229 1874l28 10-28-2-28-11z"/>
<path fill="#e8f800" d="M16201 1862l28 12-28-3-28-12z"/>
<path fill="#f8ff00" d="M16172 1849l29 13-28-3-28-14z"/>
<path fill="#fff000" d="M16144 1834l28 15-27-4-29-15z"/>
<path fill="#ffe800" d="M16115 1818l29 16-28-4-29-16z"/>
<path fill="#ffd800" d="M16086 1800l29 18-28-4-29-18z"/>
<path fill="#ffc800" d="M16057 1781l29 19-28-4-29-20z"/>
<path fill="#ffb800" d="M16027 1760l30 21-28-5-30-21z"/>
<path fill="#ffa000" d="M15997 1738l30 22-28-5-30-23z"/>
<path fill="#ff9000" d="M15967 1714l30 24-28-6-30-24z"/>
<path fill="#f88000" d="M15936 1688l31 26-28-6-31-26z"/>
<path fill="#f86800" d="M15906 1661l30 27-28-6-30-27z"/>
<path fill="#ffd000" d="M17124 1502l23-31-28 6-24 32z"/>
<path fill="#ffe000" d="M17100 1533l24-31-29 7-23 30z"/>
<path fill="#ffe800" d="M17076 1563l24-30-28 6-24 29z"/>
<path fill="#fff800" d="M17052 1591l24-28-28 5-24 28z"/>
<path fill="#f0ff00" d="M17028 1618l24-27-28 5-24 27z"/>
<path fill="#e8f808" d="M17003 1644l25-26-28 5-24 26z"/>
<path fill="#d8f808" d="M16979 1669l24-25-27 5-25 25z"/>
<path fill="#d0f808" d="M16955 1693l24-24-28 5-24 23z"/>
<path fill="#c0f810" d="M16931 1716l24-23-28 4-24 23z"/>
<path fill="#b8f810" d="M16906 1737l25-21-28 4-25 21z"/>
<path fill="#b0f810" d="M16882 1758l24-21-28 4-24 20z"/>
<path fill="#a8f810" d="M16857 1777l25-19-28 3-25 19z"/>
<path fill="#a0f810" d="M16833 1795l24-18-28 3-24 18z"/>
<path fill="#98f818" d="M16808 1812l25-17-28 3-25 16z"/>
<path fill="#90f818" d="M16783 1827l25-15-28 2-25 16zM16758 1842l25-15-28 3-25 14z"/>
<path fill="#88f818" d="M16733 1855l25-13-28 2-25 13zM16708 1867l25-12-28 2-25 11zM16682 1878l26-11-28 1-25 11zM16657 1887l25-9-27 1-26 9z"/>
<path fill="#80f818" d="M16631 1896l26-9-28 1-25 8z"/>
<path fill="#88f818" d="M16606 1903l25-7-27 0-26 7zM16580 1909l26-6-28 0-26 6zM16554 1913l26-4-28 0-26 4z"/>
<path fill="#90f818" d="M16528 1916l26-3-28 0-26 3zM16501 1919l27-3-28 0-26 2z"/>
<path fill="#98f818" d="M16475 1919l26 0-27-1-27 0z"/>
<path fill="#a0f818" d="M16448 1919l27 0-28-1-26 0z"/>
<path fill="#a0f810" d="M16422 1917l26 2-27-1-27-3z"/>
<path fill="#b0f810" d="M16395 1914l27 3-28-2-27-3zM16367 1909l28 5-28-2-27-5z"/>
<path fill="#c0f810" d="M16340 1903l27 6-27-2-28-6z"/>
<path fill="#c8f808" d="M16313 1896l27 7-28-2-27-8z"/>
<path fill="#d0f808" d="M16285 1887l28 9-28-3-28-9z"/>
<path fill="#e0f808" d="M16257 1877l28 10-28-3-28-10z"/>
<path fill="#f0f800" d="M16229 1865l28 12-28-3-28-12z"/>
<path fill="#ff0" d="M16200 1852l29 13-28-3-29-13z"/>
<path fill="#fff000" d="M16172 1838l28 14-28-3-28-15z"/>
<path fill="#ffe000" d="M16143 1822l29 16-28-4-29-16z"/>
<path fill="#ffd000" d="M16114 1804l29 18-28-4-29-18z"/>
<path fill="#ffc000" d="M16084 1785l30 19-28-4-29-19z"/>
<path fill="#ffb000" d="M16055 1765l29 20-27-4-30-21z"/>
<path fill="#ffa000" d="M16025 1743l30 22-28-5-30-22z"/>
<path fill="#ff9000" d="M15995 1719l30 24-28-5-30-24z"/>
<path fill="#f87800" d="M15964 1693l31 26-28-5-31-26z"/>
<path fill="#f86800" d="M15934 1666l30 27-28-5-30-27z"/>
<path fill="#ffc000" d="M17152 1496l24-32-29 7-23 31z"/>
<path fill="#ffd000" d="M17128 1527l24-31-28 6-24 31z"/>
<path fill="#ffe000" d="M17104 1557l24-30-28 6-24 30z"/>
<path fill="#fff000" d="M17080 1585l24-28-28 6-24 28z"/>
<path fill="#ff0" d="M17056 1613l24-28-28 6-24 27z"/>
<path fill="#f0f800" d="M17032 1639l24-26-28 5-25 26z"/>
<path fill="#e0f808" d="M17007 1665l25-26-29 5-24 25z"/>
<path fill="#d8f808" d="M16983 1689l24-24-28 4-24 24z"/>
<path fill="#c8f808" d="M16959 1712l24-23-28 4-24 23z"/>
<path fill="#c0f810" d="M16934 1733l25-21-28 4-25 21z"/>
<path fill="#b8f810" d="M16910 1754l24-21-28 4-24 21z"/>
<path fill="#b0f810" d="M16885 1773l25-19-28 4-25 19z"/>
<path fill="#a8f810" d="M16861 1792l24-19-28 4-24 18z"/>
<path fill="#a0f810" d="M16836 1809l25-17-28 3-25 17z"/>
<path fill="#98f818" d="M16811 1825l25-16-28 3-25 15zM16786 1839l25-14-28 2-25 15z"/>
<path fill="#90f818" d="M16761 1853l25-14-28 3-25 13zM16736 1865l25-12-28 2-25 12zM16710 1876l26-11-28 2-26 11zM16685 1886l25-10-28 2-25 9z"/>
<path fill="#88f818" d="M16659 1895l26-9-28 1-26 9z"/>
<path fill="#90f818" d="M16634 1902l25-7-28 1-25 7zM16608 1908l26-6-28 1-26 6zM16582 1913l26-5-28 1-26 4zM16556 1917l26-4-28 0-26 3z"/>
<path fill="#98f818" d="M16529 1919l27-2-28-1-27 3z"/>
<path fill="#a0f818" d="M16503 1920l26-1-28 0-26 0z"/>
<path fill="#a0f810" d="M16476 1920l27 0-28-1-27 0z"/>
<path fill="#a8f810" d="M16449 1918l27 2-28-1-26-2z"/>
<path fill="#b0f810" d="M16422 1915l27 3-27-1-27-3z"/>
<path fill="#b8f810" d="M16395 1911l27 4-27-1-28-5z"/>
<path fill="#c0f810" d="M16368 1905l27 6-28-2-27-6z"/>
<path fill="#d0f808" d="M16341 1898l27 7-28-2-27-7z"/>
<path fill="#d8f808" d="M16313 1890l28 8-28-2-28-9z"/>
<path fill="#e8f808" d="M16285 1880l28 10-28-3-28-10z"/>
<path fill="#f0ff00" d="M16257 1868l28 12-28-3-28-12z"/>
<path fill="#fff800" d="M16228 1856l29 12-28-3-29-13z"/>
<path fill="#fff000" d="M16200 1841l28 15-28-4-28-14z"/>
<path fill="#ffe000" d="M16171 1826l29 15-28-3-29-16z"/>
<path fill="#ffd000" d="M16142 1808l29 18-28-4-29-18z"/>
<path fill="#ffc000" d="M16113 1790l29 18-28-4-30-19z"/>
<path fill="#ffb000" d="M16083 1769l30 21-29-5-29-20z"/>
<path fill="#ffa000" d="M16053 1747l30 22-28-4-30-22z"/>
<path fill="#ff9000" d="M16023 1724l30 23-28-4-30-24z"/>
<path fill="#f87800" d="M15993 1699l30 25-28-5-31-26z"/>
<path fill="#f86000" d="M15962 1672l31 27-29-6-30-27z"/>
<path fill="#ffb800" d="M17180 1490l24-33-28 7-24 32z"/>
<path fill="#ffc800" d="M17156 1521l24-31-28 6-24 31z"/>
<path fill="#ffd800" d="M17132 1551l24-30-28 6-24 30z"/>
<path fill="#ffe800" d="M17108 1580l24-29-28 6-24 28z"/>
<path fill="#fff800" d="M17084 1608l24-28-28 5-24 28z"/>
<path fill="#f8ff00" d="M17060 1634l24-26-28 5-24 26z"/>
<path fill="#e8f800" d="M17036 1660l24-26-28 5-25 26z"/>
<path fill="#e0f808" d="M17011 1684l25-24-29 5-24 24z"/>
<path fill="#d0f808" d="M16987 1707l24-23-28 5-24 23z"/>
<path fill="#c8f808" d="M16963 1729l24-22-28 5-25 21z"/>
<path fill="#c0f810" d="M16938 1750l25-21-29 4-24 21z"/>
<path fill="#b8f810" d="M16913 1770l25-20-28 4-25 19z"/>
<path fill="#b0f810" d="M16889 1789l24-19-28 3-24 19z"/>
<path fill="#a8f810" d="M16864 1806l25-17-28 3-25 17z"/>
<path fill="#a0f810" d="M16839 1822l25-16-28 3-25 16zM16814 1837l25-15-28 3-25 14z"/>
<path fill="#98f818" d="M16789 1851l25-14-28 2-25 14zM16764 1863l25-12-28 2-25 12z"/>
<path fill="#90f818" d="M16738 1875l26-12-28 2-26 11zM16713 1885l25-10-28 1-25 10zM16687 1894l26-9-28 1-26 9zM16662 1901l25-7-28 1-25 7zM16636 1908l26-7-28 1-26 6z"/>
<path fill="#98f818" d="M16610 1913l26-5-28 0-26 5zM16584 1917l26-4-28 0-26 4z"/>
<path fill="#a0f810" d="M16557 1919l27-2-28 0-27 2zM16531 1921l26-2-28 0-26 1z"/>
<path fill="#a8f810" d="M16504 1921l27 0-28-1-27 0z"/>
<path fill="#b0f810" d="M16478 1919l26 2-28-1-27-2z"/>
<path fill="#b8f810" d="M16451 1916l27 3-29-1-27-3z"/>
<path fill="#c0f810" d="M16423 1912l28 4-29-1-27-4z"/>
<path fill="#c8f810" d="M16396 1907l27 5-28-1-27-6z"/>
<path fill="#d0f808" d="M16369 1900l27 7-28-2-27-7z"/>
<path fill="#e0f808" d="M16341 1892l28 8-28-2-28-8z"/>
<path fill="#e8f808" d="M16313 1882l28 10-28-2-28-10z"/>
<path fill="#f8ff00" d="M16285 1871l28 11-28-2-28-12z"/>
<path fill="#fff800" d="M16257 1859l28 12-28-3-29-12z"/>
<path fill="#ffe800" d="M16228 1845l29 14-29-3-28-15z"/>
<path fill="#ffe000" d="M16199 1829l29 16-28-4-29-15z"/>
<path fill="#ffd000" d="M16170 1812l29 17-28-3-29-18z"/>
<path fill="#ffc000" d="M16141 1794l29 18-28-4-29-18z"/>
<path fill="#ffb000" d="M16111 1774l30 20-28-4-30-21z"/>
<path fill="#ff9800" d="M16082 1752l29 22-28-5-30-22z"/>
<path fill="#f80" d="M16051 1729l31 23-29-5-30-23z"/>
<path fill="#f87800" d="M16021 1704l30 25-28-5-30-25z"/>
<path fill="#f86000" d="M15990 1677l31 27-28-5-31-27z"/>
<path fill="#ffb000" d="M17209 1483l24-33-29 7-24 33z"/>
<path fill="#ffc000" d="M17185 1515l24-32-29 7-24 31z"/>
<path fill="#ffd000" d="M17161 1545l24-30-29 6-24 30z"/>
<path fill="#ffe000" d="M17137 1574l24-29-29 6-24 29z"/>
<path fill="#fff000" d="M17113 1602l24-28-29 6-24 28z"/>
<path fill="#fff800" d="M17089 1629l24-27-29 6-24 26z"/>
<path fill="#f0ff00" d="M17064 1655l25-26-29 5-24 26z"/>
<path fill="#e8f808" d="M17040 1680l24-25-28 5-25 24z"/>
<path fill="#e0f808" d="M17016 1703l24-23-29 4-24 23z"/>
<path fill="#d0f808" d="M16991 1725l25-22-29 4-24 22z"/>
<path fill="#c8f808" d="M16966 1747l25-22-28 4-25 21z"/>
<path fill="#c0f810" d="M16942 1767l24-20-28 3-25 20z"/>
<path fill="#b8f810" d="M16917 1785l25-18-29 3-24 19z"/>
<path fill="#b0f810" d="M16892 1803l25-18-28 4-25 17z"/>
<path fill="#a8f810" d="M16867 1819l25-16-28 3-25 16zM16842 1835l25-16-28 3-25 15z"/>
<path fill="#a0f810" d="M16817 1849l25-14-28 2-25 14zM16792 1862l25-13-28 2-25 12z"/>
<path fill="#98f818" d="M16767 1873l25-11-28 1-26 12zM16741 1884l26-11-29 2-25 10zM16716 1893l25-9-28 1-26 9zM16690 1901l26-8-29 1-25 7zM16664 1907l26-6-28 0-26 7z"/>
<path fill="#a0f818" d="M16638 1913l26-6-28 1-26 5z"/>
<path fill="#a0f810" d="M16612 1917l26-4-28 0-26 4zM16586 1920l26-3-28 0-27 2z"/>
<path fill="#a8f810" d="M16559 1921l27-1-29-1-26 2z"/>
<path fill="#b0f810" d="M16533 1921l26 0-28 0-27 0zM16506 1920l27 1-29 0-26-2z"/>
<path fill="#b8f810" d="M16479 1918l27 2-28-1-27-3z"/>
<path fill="#c0f810" d="M16452 1914l27 4-28-2-28-4z"/>
<path fill="#d0f808" d="M16425 1909l27 5-29-2-27-5z"/>
<path fill="#d8f808" d="M16397 1902l28 7-29-2-27-7z"/>
<path fill="#e0f808" d="M16369 1894l28 8-28-2-28-8z"/>
<path fill="#f0f800" d="M16341 1885l28 9-28-2-28-10z"/>
<path fill="#f8ff00" d="M16313 1874l28 11-28-3-28-11z"/>
<path fill="#fff000" d="M16285 1862l28 12-28-3-28-12z"/>
<path fill="#ffe800" d="M16256 1848l29 14-28-3-29-14z"/>
<path fill="#ffd800" d="M16228 1833l28 15-28-3-29-16z"/>
<path fill="#ffc800" d="M16199 1816l29 17-29-4-29-17z"/>
<path fill="#ffb800" d="M16169 1798l30 18-29-4-29-18z"/>
<path fill="#ffa800" d="M16140 1778l29 20-28-4-30-20z"/>
<path fill="#ff9800" d="M16110 1757l30 21-29-4-29-22z"/>
<path fill="#f80" d="M16080 1734l30 23-28-5-31-23z"/>
<path fill="#f87000" d="M16050 1709l30 25-29-5-30-25z"/>
<path fill="#f86000" d="M16019 1683l31 26-29-5-31-27z"/>
<path fill="#ffa800" d="M17238 1476l24-33-29 7-24 33z"/>
<path fill="#ffb800" d="M17214 1508l24-32-29 7-24 32z"/>
<path fill="#ffc800" d="M17190 1539l24-31-29 7-24 30z"/>
<path fill="#ffd800" d="M17166 1568l24-29-29 6-24 29z"/>
<path fill="#ffe000" d="M17141 1597l25-29-29 6-24 28z"/>
<path fill="#fff000" d="M17117 1624l24-27-28 5-24 27z"/>
<path fill="#ff0" d="M17093 1650l24-26-28 5-25 26z"/>
<path fill="#f0ff00" d="M17069 1675l24-25-29 5-24 25z"/>
<path fill="#e8f808" d="M17044 1699l25-24-29 5-24 23z"/>
<path fill="#d8f808" d="M17020 1721l24-22-28 4-25 22z"/>
<path fill="#d0f808" d="M16995 1743l25-22-29 4-25 22z"/>
<path fill="#c8f808" d="M16970 1763l25-20-29 4-24 20z"/>
<path fill="#c0f810" d="M16946 1782l24-19-28 4-25 18z"/>
<path fill="#b8f810" d="M16921 1800l25-18-29 3-25 18z"/>
<path fill="#b0f810" d="M16896 1817l25-17-29 3-25 16zM16871 1832l25-15-29 2-25 16z"/>
<path fill="#a8f810" d="M16846 1847l25-15-29 3-25 14zM16821 1860l25-13-29 2-25 13z"/>
<path fill="#a0f810" d="M16795 1872l26-12-29 2-25 11zM16770 1882l25-10-28 1-26 11zM16744 1892l26-10-29 2-25 9zM16718 1900l26-8-28 1-26 8zM16693 1907l25-7-28 1-26 6zM16667 1912l26-5-29 0-26 6z"/>
<path fill="#a8f810" d="M16640 1917l27-5-29 1-26 4zM16614 1920l26-3-28 0-26 3z"/>
<path fill="#b0f810" d="M16588 1922l26-2-28 0-27 1zM16561 1922l27 0-29-1-26 0z"/>
<path fill="#b8f810" d="M16534 1921l27 1-28-1-27-1z"/>
<path fill="#c0f810" d="M16507 1919l27 2-28-1-27-2z"/>
<path fill="#c8f808" d="M16480 1915l27 4-28-1-27-4z"/>
<path fill="#d0f808" d="M16453 1911l27 4-28-1-27-5z"/>
<path fill="#e0f808" d="M16426 1904l27 7-28-2-28-7z"/>
<path fill="#e8f808" d="M16398 1897l28 7-29-2-28-8z"/>
<path fill="#f0ff00" d="M16370 1887l28 10-29-3-28-9z"/>
<path fill="#ff0" d="M16342 1877l28 10-29-2-28-11z"/>
<path fill="#fff000" d="M16314 1865l28 12-29-3-28-12z"/>
<path fill="#ffe000" d="M16285 1851l29 14-29-3-29-14z"/>
<path fill="#ffd800" d="M16256 1836l29 15-29-3-28-15z"/>
<path fill="#ffc800" d="M16227 1820l29 16-28-3-29-17z"/>
<path fill="#ffb800" d="M16198 1802l29 18-28-4-30-18z"/>
<path fill="#ffa800" d="M16169 1782l29 20-29-4-29-20z"/>
<path fill="#ff9800" d="M16139 1761l30 21-29-4-30-21z"/>
<path fill="#ff8000" d="M16109 1739l30 22-29-4-30-23z"/>
<path fill="#f87000" d="M16078 1714l31 25-29-5-30-25z"/>
<path fill="#f86000" d="M16048 1688l30 26-28-5-31-26z"/>
<path fill="#ffa000" d="M17267 1470l24-34-29 7-24 33z"/>
<path fill="#ffb000" d="M17243 1502l24-32-29 6-24 32z"/>
<path fill="#ffc000" d="M17219 1533l24-31-29 6-24 31z"/>
<path fill="#ffd000" d="M17195 1563l24-30-29 6-24 29z"/>
<path fill="#ffe000" d="M17170 1591l25-28-29 5-25 29z"/>
<path fill="#ffe800" d="M17146 1619l24-28-29 6-24 27z"/>
<path fill="#fff800" d="M17122 1645l24-26-29 5-24 26z"/>
<path fill="#f8ff00" d="M17097 1670l25-25-29 5-24 25z"/>
<path fill="#f0f800" d="M17073 1694l24-24-28 5-25 24z"/>
<path fill="#e0f808" d="M17048 1717l25-23-29 5-24 22z"/>
<path fill="#d8f808" d="M17024 1739l24-22-28 4-25 22z"/>
<path fill="#d0f808" d="M16999 1759l25-20-29 4-25 20z"/>
<path fill="#c8f808" d="M16974 1779l25-20-29 4-24 19z"/>
<path fill="#c0f810" d="M16950 1797l24-18-28 3-25 18z"/>
<path fill="#b8f810" d="M16925 1814l25-17-29 3-25 17zM16900 1830l25-16-29 3-25 15z"/>
<path fill="#b0f810" d="M16874 1844l26-14-29 2-25 15zM16849 1858l25-14-28 3-25 13z"/>
<path fill="#a8f810" d="M16824 1870l25-12-28 2-26 12zM16798 1881l26-11-29 2-25 10zM16773 1890l25-9-28 1-26 10zM16747 1899l26-9-29 2-26 8zM16721 1906l26-7-29 1-25 7zM16695 1912l26-6-28 1-26 5z"/>
<path fill="#b0f810" d="M16669 1917l26-5-28 0-27 5zM16643 1920l26-3-29 0-26 3zM16616 1922l27-2-29 0-26 2z"/>
<path fill="#b8f810" d="M16590 1923l26-1-28 0-27 0z"/>
<path fill="#c0f810" d="M16563 1922l27 1-29-1-27-1z"/>
<path fill="#c8f810" d="M16536 1920l27 2-29-1-27-2z"/>
<path fill="#d0f808" d="M16509 1917l27 3-29-1-27-4z"/>
<path fill="#d8f808" d="M16482 1912l27 5-29-2-27-4z"/>
<path fill="#e0f808" d="M16454 1906l28 6-29-1-27-7z"/>
<path fill="#e8f800" d="M16427 1899l27 7-28-2-28-7z"/>
<path fill="#f8ff00" d="M16399 1890l28 9-29-2-28-10z"/>
<path fill="#fff800" d="M16371 1879l28 11-29-3-28-10z"/>
<path fill="#fff000" d="M16342 1868l29 11-29-2-28-12z"/>
<path fill="#ffe000" d="M16314 1855l28 13-28-3-29-14z"/>
<path fill="#ffd000" d="M16285 1840l29 15-29-4-29-15z"/>
<path fill="#ffc000" d="M16256 1824l29 16-29-4-29-16z"/>
<path fill="#ffb000" d="M16227 1806l29 18-29-4-29-18z"/>
<path fill="#ffa000" d="M16197 1787l30 19-29-4-29-20z"/>
<path fill="#ff9000" d="M16168 1766l29 21-28-5-30-21z"/>
<path fill="#f88000" d="M16138 1743l30 23-29-5-30-22z"/>
<path fill="#f87000" d="M16107 1719l31 24-29-4-31-25z"/>
<path fill="#f85800" d="M16077 1693l30 26-29-5-30-26z"/>
<path fill="#ff9800" d="M17296 1463l24-34-29 7-24 34z"/>
<path fill="#ffa800" d="M17272 1495l24-32-29 7-24 32z"/>
<path fill="#ffb800" d="M17248 1527l24-32-29 7-24 31z"/>
<path fill="#ffc800" d="M17224 1557l24-30-29 6-24 30z"/>
<path fill="#ffd000" d="M17200 1586l24-29-29 6-25 28z"/>
<path fill="#ffe000" d="M17175 1613l25-27-30 5-24 28z"/>
<path fill="#fff000" d="M17151 1640l24-27-29 6-24 26z"/>
<path fill="#fff800" d="M17127 1665l24-25-29 5-25 25z"/>
<path fill="#f8ff00" d="M17102 1690l25-25-30 5-24 24z"/>
<path fill="#f0f800" d="M17078 1713l24-23-29 4-25 23z"/>
<path fill="#e0f808" d="M17053 1735l25-22-30 4-24 22z"/>
<path fill="#d8f808" d="M17028 1756l25-21-29 4-25 20z"/>
<path fill="#d0f808" d="M17003 1775l25-19-29 3-25 20z"/>
<path fill="#c8f808" d="M16979 1794l24-19-29 4-24 18z"/>
<path fill="#c0f810" d="M16954 1811l25-17-29 3-25 17zM16929 1827l25-16-29 3-25 16z"/>
<path fill="#b8f810" d="M16903 1842l26-15-29 3-26 14z"/>
<path fill="#b0f810" d="M16878 1856l25-14-29 2-25 14zM16853 1868l25-12-29 2-25 12zM16827 1879l26-11-29 2-26 11zM16802 1889l25-10-29 2-25 9zM16776 1898l26-9-29 1-26 9zM16750 1905l26-7-29 1-26 7zM16724 1911l26-6-29 1-26 6zM16698 1916l26-5-29 1-26 5z"/>
<path fill="#b8f810" d="M16672 1920l26-4-29 1-26 3zM16645 1922l27-2-29 0-27 2z"/>
<path fill="#c0f810" d="M16619 1923l26-1-29 0-26 1z"/>
<path fill="#c8f810" d="M16592 1923l27 0-29 0-27-1z"/>
<path fill="#d0f808" d="M16565 1921l27 2-29-1-27-2zM16538 1918l27 3-29-1-27-3z"/>
<path fill="#e0f808" d="M16511 1914l27 4-29-1-27-5z"/>
<path fill="#e8f808" d="M16483 1908l28 6-29-2-28-6z"/>
<path fill="#f0ff00" d="M16456 1901l27 7-29-2-27-7z"/>
<path fill="#f8ff00" d="M16428 1892l28 9-29-2-28-9z"/>
<path fill="#fff000" d="M16400 1882l28 10-29-2-28-11z"/>
<path fill="#ffe800" d="M16371 1870l29 12-29-3-29-11z"/>
<path fill="#ffe000" d="M16343 1858l28 12-29-2-28-13z"/>
<path fill="#ffd000" d="M16314 1843l29 15-29-3-29-15z"/>
<path fill="#ffc000" d="M16285 1827l29 16-29-3-29-16z"/>
<path fill="#ffb000" d="M16256 1810l29 17-29-3-29-18z"/>
<path fill="#ffa000" d="M16227 1790l29 20-29-4-30-19z"/>
<path fill="#ff9000" d="M16197 1770l30 20-30-3-29-21z"/>
<path fill="#f88000" d="M16167 1748l30 22-29-4-30-23z"/>
<path fill="#f87000" d="M16137 1724l30 24-29-5-31-24z"/>
<path fill="#f85800" d="M16106 1698l31 26-30-5-30-26z"/>
<path fill="#ff9000" d="M17326 1456l24-34-30 7-24 34z"/>
<path fill="#ffa000" d="M17301 1489l25-33-30 7-24 32z"/>
<path fill="#ffb000" d="M17277 1520l24-31-29 6-24 32z"/>
<path fill="#ffc000" d="M17253 1551l24-31-29 7-24 30z"/>
<path fill="#ffc800" d="M17229 1580l24-29-29 6-24 29z"/>
<path fill="#ffd800" d="M17205 1608l24-28-29 6-25 27z"/>
<path fill="#ffe800" d="M17180 1635l25-27-30 5-24 27z"/>
<path fill="#fff000" d="M17156 1661l24-26-29 5-24 25z"/>
<path fill="#fff800" d="M17131 1685l25-24-29 4-25 25z"/>
<path fill="#f8ff00" d="M17107 1709l24-24-29 5-24 23z"/>
<path fill="#e8f800" d="M17082 1731l25-22-29 4-25 22z"/>
<path fill="#e0f808" d="M17057 1752l25-21-29 4-25 21z"/>
<path fill="#d8f808" d="M17033 1772l24-20-29 4-25 19z"/>
<path fill="#d0f808" d="M17008 1790l25-18-30 3-24 19z"/>
<path fill="#c8f808" d="M16983 1808l25-18-29 4-25 17z"/>
<path fill="#c8f810" d="M16958 1824l25-16-29 3-25 16z"/>
<path fill="#c0f810" d="M16932 1839l26-15-29 3-26 15zM16907 1853l25-14-29 3-25 14z"/>
<path fill="#b8f810" d="M16882 1866l25-13-29 3-25 12zM16856 1877l26-11-29 2-26 11zM16831 1888l25-11-29 2-25 10zM16805 1897l26-9-29 1-26 9zM16779 1904l26-7-29 1-26 7zM16753 1911l26-7-29 1-26 6zM16727 1916l26-5-29 0-26 5z"/>
<path fill="#c0f810" d="M16701 1920l26-4-29 0-26 4zM16674 1922l27-2-29 0-27 2z"/>
<path fill="#c8f810" d="M16648 1923l26-1-29 0-26 1z"/>
<path fill="#c8f808" d="M16621 1923l27 0-29 0-27 0z"/>
<path fill="#d0f808" d="M16594 1922l27 1-29 0-27-2z"/>
<path fill="#d8f808" d="M16567 1919l27 3-29-1-27-3z"/>
<path fill="#e0f808" d="M16540 1915l27 4-29-1-27-4z"/>
<path fill="#e8f800" d="M16512 1909l28 6-29-1-28-6z"/>
<path fill="#f8ff00" d="M16485 1903l27 6-29-1-27-7z"/>
<path fill="#fff800" d="M16457 1894l28 9-29-2-28-9z"/>
<path fill="#fff000" d="M16429 1884l28 10-29-2-28-10z"/>
<path fill="#ffe000" d="M16401 1873l28 11-29-2-29-12z"/>
<path fill="#ffd800" d="M16372 1860l29 13-30-3-28-12z"/>
<path fill="#ffc800" d="M16343 1846l29 14-29-2-29-15z"/>
<path fill="#ffc000" d="M16314 1830l29 16-29-3-29-16z"/>
<path fill="#ffb000" d="M16285 1813l29 17-29-3-29-17z"/>
<path fill="#ffa000" d="M16256 1794l29 19-29-3-29-20z"/>
<path fill="#ff9000" d="M16226 1774l30 20-29-4-30-20z"/>
<path fill="#f88000" d="M16196 1752l30 22-29-4-30-22z"/>
<path fill="#f86800" d="M16166 1728l30 24-29-4-30-24z"/>
<path fill="#f85800" d="M16136 1703l30 25-29-4-31-26z"/>
<path fill="#f80" d="M17355 1449l24-34-29 7-24 34z"/>
<path fill="#ff9800" d="M17331 1482l24-33-29 7-25 33z"/>
<path fill="#ffa800" d="M17307 1514l24-32-30 7-24 31z"/>
<path fill="#ffb000" d="M17283 1544l24-30-30 6-24 31z"/>
<path fill="#ffc000" d="M17258 1574l25-30-30 7-24 29z"/>
<path fill="#ffd000" d="M17234 1602l24-28-29 6-24 28z"/>
<path fill="#ffe000" d="M17210 1629l24-27-29 6-25 27z"/>
<path fill="#ffe800" d="M17185 1656l25-27-30 6-24 26z"/>
<path fill="#fff000" d="M17161 1680l24-24-29 5-25 24z"/>
<path fill="#ff0" d="M17136 1704l25-24-30 5-24 24z"/>
<path fill="#f0ff00" d="M17111 1727l25-23-29 5-25 22z"/>
<path fill="#e8f800" d="M17087 1748l24-21-29 4-25 21z"/>
<path fill="#e0f808" d="M17062 1768l25-20-30 4-24 20z"/>
<path fill="#d8f808" d="M17037 1787l25-19-29 4-25 18z"/>
<path fill="#d0f808" d="M17012 1805l25-18-29 3-25 18zM16987 1821l25-16-29 3-25 16z"/>
<path fill="#c8f810" d="M16962 1837l25-16-29 3-26 15z"/>
<path fill="#c0f810" d="M16936 1851l26-14-30 2-25 14zM16911 1864l25-13-29 2-25 13zM16886 1876l25-12-29 2-26 11zM16860 1886l26-10-30 1-25 11zM16834 1895l26-9-29 2-26 9zM16808 1903l26-8-29 2-26 7zM16782 1910l26-7-29 1-26 7zM16756 1915l26-5-29 1-26 5zM16730 1919l26-4-29 1-26 4z"/>
<path fill="#c8f810" d="M16704 1922l26-3-29 1-27 2z"/>
<path fill="#c8f808" d="M16677 1924l27-2-30 0-26 1z"/>
<path fill="#d0f808" d="M16650 1924l27 0-29-1-27 0z"/>
<path fill="#d8f808" d="M16623 1923l27 1-29-1-27-1z"/>
<path fill="#e0f808" d="M16596 1920l27 3-29-1-27-3z"/>
<path fill="#e8f808" d="M16569 1916l27 4-29-1-27-4z"/>
<path fill="#f0f800" d="M16542 1911l27 5-29-1-28-6z"/>
<path fill="#f8ff00" d="M16514 1904l28 7-30-2-27-6z"/>
<path fill="#fff800" d="M16486 1896l28 8-29-1-28-9z"/>
<path fill="#fff000" d="M16458 1887l28 9-29-2-28-10z"/>
<path fill="#ffe000" d="M16430 1876l28 11-29-3-28-11z"/>
<path fill="#ffd000" d="M16401 1863l29 13-29-3-29-13z"/>
<path fill="#ffc800" d="M16373 1849l28 14-29-3-29-14z"/>
<path fill="#ffb800" d="M16344 1834l29 15-30-3-29-16z"/>
<path fill="#ffa800" d="M16315 1817l29 17-30-4-29-17z"/>
<path fill="#ff9800" d="M16285 1798l30 19-30-4-29-19z"/>
<path fill="#f80" d="M16256 1778l29 20-29-4-30-20z"/>
<path fill="#f87800" d="M16226 1756l30 22-30-4-30-22z"/>
<path fill="#f86800" d="M16196 1733l30 23-30-4-30-24z"/>
<path fill="#f85008" d="M16165 1708l31 25-30-5-30-25z"/>
<path fill="#f87800" d="M17385 1442l24-34-30 7-24 34z"/>
<path fill="#ff9000" d="M17361 1475l24-33-30 7-24 33z"/>
<path fill="#ffa000" d="M17337 1507l24-32-30 7-24 32z"/>
<path fill="#ffa800" d="M17312 1538l25-31-30 7-24 30z"/>
<path fill="#ffb800" d="M17288 1568l24-30-29 6-25 30z"/>
<path fill="#ffc800" d="M17264 1597l24-29-30 6-24 28z"/>
<path fill="#ffd000" d="M17239 1624l25-27-30 5-24 27z"/>
<path fill="#ffe000" d="M17215 1650l24-26-29 5-25 27z"/>
<path fill="#ffe800" d="M17190 1676l25-26-30 6-24 24z"/>
<path fill="#fff800" d="M17166 1700l24-24-29 4-25 24z"/>
<path fill="#ff0" d="M17141 1722l25-22-30 4-25 23z"/>
<path fill="#f0ff00" d="M17116 1744l25-22-30 5-24 21z"/>
<path fill="#e8f800" d="M17091 1764l25-20-29 4-25 20z"/>
<path fill="#e0f808" d="M17067 1784l24-20-29 4-25 19z"/>
<path fill="#d8f808" d="M17042 1802l25-18-30 3-25 18zM17016 1818l26-16-30 3-25 16z"/>
<path fill="#d0f808" d="M16991 1834l25-16-29 3-25 16z"/>
<path fill="#c8f808" d="M16966 1849l25-15-29 3-26 14z"/>
<path fill="#c8f810" d="M16941 1862l25-13-30 2-25 13zM16915 1874l26-12-30 2-25 12z"/>
<path fill="#c0f810" d="M16889 1884l26-10-29 2-26 10zM16864 1894l25-10-29 2-26 9zM16838 1902l26-8-30 1-26 8zM16812 1909l26-7-30 1-26 7z"/>
<path fill="#c8f810" d="M16786 1915l26-6-30 1-26 5z"/>
<path fill="#c8f808" d="M16759 1919l27-4-30 0-26 4z"/>
<path fill="#d0f808" d="M16733 1922l26-3-29 0-26 3zM16706 1924l27-2-29 0-27 2z"/>
<path fill="#d8f808" d="M16680 1924l26 0-29 0-27 0z"/>
<path fill="#e0f808" d="M16653 1923l27 1-30 0-27-1zM16626 1921l27 2-30 0-27-3z"/>
<path fill="#f0f800" d="M16599 1917l27 4-30-1-27-4z"/>
<path fill="#f8ff00" d="M16571 1912l28 5-30-1-27-5z"/>
<path fill="#ff0" d="M16543 1906l28 6-29-1-28-7z"/>
<path fill="#fff000" d="M16516 1898l27 8-29-2-28-8z"/>
<path fill="#ffe800" d="M16488 1889l28 9-30-2-28-9z"/>
<path fill="#ffe000" d="M16459 1878l29 11-30-2-28-11z"/>
<path fill="#ffd000" d="M16431 1866l28 12-29-2-29-13z"/>
<path fill="#ffc000" d="M16402 1852l29 14-30-3-28-14z"/>
<path fill="#ffb800" d="M16374 1837l28 15-29-3-29-15z"/>
<path fill="#ffa800" d="M16344 1820l30 17-30-3-29-17z"/>
<path fill="#ff9800" d="M16315 1802l29 18-29-3-30-19z"/>
<path fill="#f80" d="M16285 1782l30 20-30-4-29-20z"/>
<path fill="#f87800" d="M16256 1760l29 22-29-4-30-22z"/>
<path fill="#f86000" d="M16225 1737l31 23-30-4-30-23z"/>
<path fill="#f85008" d="M16195 1712l30 25-29-4-31-25z"/>
<path fill="#f87000" d="M17415 1435l24-35-30 8-24 34z"/>
<path fill="#ff8000" d="M17391 1468l24-33-30 7-24 33z"/>
<path fill="#ff9000" d="M17367 1501l24-33-30 7-24 32z"/>
<path fill="#ffa000" d="M17342 1532l25-31-30 6-25 31z"/>
<path fill="#ffb000" d="M17318 1562l24-30-30 6-24 30z"/>
<path fill="#ffc000" d="M17294 1591l24-29-30 6-24 29z"/>
<path fill="#ffc800" d="M17269 1619l25-28-30 6-25 27z"/>
<path fill="#ffd800" d="M17245 1645l24-26-30 5-24 26z"/>
<path fill="#ffe000" d="M17220 1671l25-26-30 5-25 26z"/>
<path fill="#fff000" d="M17196 1695l24-24-30 5-24 24z"/>
<path fill="#fff800" d="M17171 1718l25-23-30 5-25 22z"/>
<path fill="#f8ff00" d="M17146 1740l25-22-30 4-25 22z"/>
<path fill="#f0ff00" d="M17121 1761l25-21-30 4-25 20z"/>
<path fill="#e8f800" d="M17096 1780l25-19-30 3-24 20z"/>
<path fill="#e0f808" d="M17071 1798l25-18-29 4-25 18zM17046 1815l25-17-29 4-26 16z"/>
<path fill="#d8f808" d="M17021 1831l25-16-30 3-25 16z"/>
<path fill="#d0f808" d="M16996 1846l25-15-30 3-25 15zM16970 1859l26-13-30 3-25 13zM16945 1872l25-13-29 3-26 12z"/>
<path fill="#c8f808" d="M16919 1883l26-11-30 2-26 10zM16893 1892l26-9-30 1-25 10zM16867 1901l26-9-29 2-26 8zM16841 1908l26-7-29 1-26 7z"/>
<path fill="#d0f808" d="M16815 1914l26-6-29 1-26 6zM16789 1919l26-5-29 1-27 4zM16763 1922l26-3-30 0-26 3z"/>
<path fill="#d8f808" d="M16736 1924l27-2-30 0-27 2z"/>
<path fill="#e0f808" d="M16709 1925l27-1-30 0-26 0zM16682 1924l27 1-29-1-27-1z"/>
<path fill="#e8f800" d="M16655 1922l27 2-29-1-27-2z"/>
<path fill="#f0ff00" d="M16628 1918l27 4-29-1-27-4z"/>
<path fill="#f8ff00" d="M16601 1914l27 4-29-1-28-5z"/>
<path fill="#fff800" d="M16573 1907l28 7-30-2-28-6z"/>
<path fill="#fff000" d="M16545 1900l28 7-30-1-27-8z"/>
<path fill="#ffe000" d="M16517 1891l28 9-29-2-28-9z"/>
<path fill="#ffd800" d="M16489 1880l28 11-29-2-29-11z"/>
<path fill="#ffd000" d="M16461 1868l28 12-30-2-28-12z"/>
<path fill="#ffc000" d="M16432 1855l29 13-30-2-29-14z"/>
<path fill="#ffb000" d="M16403 1840l29 15-30-3-28-15z"/>
<path fill="#ffa000" d="M16374 1823l29 17-29-3-30-17z"/>
<path fill="#ff9000" d="M16345 1805l29 18-30-3-29-18z"/>
<path fill="#ff8000" d="M16315 1786l30 19-30-3-30-20z"/>
<path fill="#f87000" d="M16285 1764l30 22-30-4-29-22z"/>
<path fill="#f86000" d="M16255 1741l30 23-29-4-31-23z"/>
<path fill="#f85008" d="M16225 1717l30 24-30-4-30-25z"/>
<path fill="#f86800" d="M17445 1428l25-35-31 7-24 35z"/>
<path fill="#f87800" d="M17421 1461l24-33-30 7-24 33z"/>
<path fill="#f80" d="M17397 1494l24-33-30 7-24 33z"/>
<path fill="#ff9800" d="M17373 1526l24-32-30 7-25 31z"/>
<path fill="#ffa800" d="M17348 1556l25-30-31 6-24 30z"/>
<path fill="#ffb800" d="M17324 1585l24-29-30 6-24 29z"/>
<path fill="#ffc000" d="M17299 1613l25-28-30 6-25 28z"/>
<path fill="#ffd000" d="M17275 1640l24-27-30 6-24 26z"/>
<path fill="#ffd800" d="M17250 1666l25-26-30 5-25 26z"/>
<path fill="#ffe800" d="M17226 1690l24-24-30 5-24 24z"/>
<path fill="#fff000" d="M17201 1713l25-23-30 5-25 23z"/>
<path fill="#fff800" d="M17176 1736l25-23-30 5-25 22z"/>
<path fill="#f8ff00" d="M17151 1757l25-21-30 4-25 21z"/>
<path fill="#f0ff00" d="M17126 1776l25-19-30 4-25 19z"/>
<path fill="#e8f800" d="M17101 1795l25-19-30 4-25 18z"/>
<path fill="#e8f808" d="M17076 1812l25-17-30 3-25 17z"/>
<path fill="#e0f808" d="M17051 1828l25-16-30 3-25 16z"/>
<path fill="#d8f808" d="M17026 1843l25-15-30 3-25 15zM17000 1857l26-14-30 3-26 13z"/>
<path fill="#d0f808" d="M16975 1870l25-13-30 2-25 13zM16949 1881l26-11-30 2-26 11zM16923 1891l26-10-30 2-26 9zM16897 1900l26-9-30 1-26 9zM16871 1907l26-7-30 1-26 7zM16845 1913l26-6-30 1-26 6z"/>
<path fill="#d8f808" d="M16819 1918l26-5-30 1-26 5zM16793 1922l26-4-30 1-26 3z"/>
<path fill="#e0f808" d="M16766 1924l27-2-30 0-27 2zM16739 1925l27-1-30 0-27 1z"/>
<path fill="#e8f808" d="M16712 1924l27 1-30 0-27-1z"/>
<path fill="#f0f800" d="M16685 1923l27 1-30 0-27-2z"/>
<path fill="#f8ff00" d="M16658 1919l27 4-30-1-27-4z"/>
<path fill="#fff800" d="M16631 1915l27 4-30-1-27-4z"/>
<path fill="#fff000" d="M16603 1909l28 6-30-1-28-7z"/>
<path fill="#ffe800" d="M16575 1901l28 8-30-2-28-7z"/>
<path fill="#ffe000" d="M16547 1893l28 8-30-1-28-9z"/>
<path fill="#ffd000" d="M16519 1882l28 11-30-2-28-11z"/>
<path fill="#ffc800" d="M16491 1871l28 11-30-2-28-12z"/>
<path fill="#ffb800" d="M16462 1857l29 14-30-3-29-13z"/>
<path fill="#ffb000" d="M16433 1843l29 14-30-2-29-15z"/>
<path fill="#ffa000" d="M16404 1826l29 17-30-3-29-17z"/>
<path fill="#ff9000" d="M16375 1809l29 17-30-3-29-18z"/>
<path fill="#f88000" d="M16345 1789l30 20-30-4-30-19z"/>
<path fill="#f87000" d="M16316 1768l29 21-30-3-30-22z"/>
<path fill="#f86000" d="M16286 1745l30 23-31-4-30-23z"/>
<path fill="#f04808" d="M16255 1721l31 24-31-4-30-24z"/>
<path fill="#f86000" d="M17476 1420l24-35-30 8-25 35z"/>
<path fill="#f87000" d="M17452 1454l24-34-31 8-24 33z"/>
<path fill="#f88000" d="M17427 1487l25-33-31 7-24 33z"/>
<path fill="#ff9000" d="M17403 1519l24-32-30 7-24 32z"/>
<path fill="#ffa000" d="M17379 1550l24-31-30 7-25 30z"/>
<path fill="#ffb000" d="M17354 1579l25-29-31 6-24 29z"/>
<path fill="#ffb800" d="M17330 1607l24-28-30 6-25 28z"/>
<path fill="#ffc800" d="M17305 1635l25-28-31 6-24 27z"/>
<path fill="#ffd000" d="M17280 1660l25-25-30 5-25 26z"/>
<path fill="#ffe000" d="M17256 1685l24-25-30 6-24 24z"/>
<path fill="#ffe800" d="M17231 1709l25-24-30 5-25 23z"/>
<path fill="#fff000" d="M17206 1731l25-22-30 4-25 23z"/>
<path fill="#fff800" d="M17181 1753l25-22-30 5-25 21z"/>
<path fill="#f8ff00" d="M17156 1773l25-20-30 4-25 19z"/>
<path fill="#f0ff00" d="M17131 1791l25-18-30 3-25 19z"/>
<path fill="#f0f800" d="M17106 1809l25-18-30 4-25 17z"/>
<path fill="#e8f808" d="M17081 1825l25-16-30 3-25 16z"/>
<path fill="#e0f808" d="M17056 1841l25-16-30 3-25 15zM17030 1855l26-14-30 2-26 14zM17005 1867l25-12-30 2-25 13z"/>
<path fill="#d8f808" d="M16979 1879l26-12-30 3-26 11zM16953 1889l26-10-30 2-26 10zM16927 1898l26-9-30 2-26 9zM16901 1906l26-8-30 2-26 7zM16875 1912l26-6-30 1-26 6z"/>
<path fill="#e0f808" d="M16849 1917l26-5-30 1-26 5zM16823 1921l26-4-30 1-26 4zM16796 1924l27-3-30 1-27 2z"/>
<path fill="#e8f808" d="M16769 1925l27-1-30 0-27 1z"/>
<path fill="#f0f800" d="M16742 1925l27 0-30 0-27-1z"/>
<path fill="#f8ff00" d="M16715 1923l27 2-30-1-27-1z"/>
<path fill="#ff0" d="M16688 1920l27 3-30 0-27-4z"/>
<path fill="#fff800" d="M16661 1916l27 4-30-1-27-4z"/>
<path fill="#fff000" d="M16633 1910l28 6-30-1-28-6z"/>
<path fill="#ffe000" d="M16606 1903l27 7-30-1-28-8z"/>
<path fill="#ffd800" d="M16578 1894l28 9-31-2-28-8z"/>
<path fill="#ffd000" d="M16549 1884l29 10-31-1-28-11z"/>
<path fill="#ffc000" d="M16521 1873l28 11-30-2-28-11z"/>
<path fill="#ffb800" d="M16492 1860l29 13-30-2-29-14z"/>
<path fill="#ffa800" d="M16464 1845l28 15-30-3-29-14z"/>
<path fill="#ffa000" d="M16435 1829l29 16-31-2-29-17z"/>
<path fill="#ff9000" d="M16405 1812l30 17-31-3-29-17z"/>
<path fill="#f88000" d="M16376 1793l29 19-30-3-30-20z"/>
<path fill="#f87000" d="M16346 1772l30 21-31-4-29-21z"/>
<path fill="#f85800" d="M16316 1749l30 23-30-4-30-23z"/>
<path fill="#f04808" d="M16286 1725l30 24-30-4-31-24z"/>
</g>
<circle cx="1505.4" cy="124.3" r="2.2" fill="#f00808" stroke="#7a1c24" stroke-width=".6"/>
<circle cx="1627.5" cy="130.5" r="2.2" fill="#f00808" stroke="#7a1c24" stroke-width=".6"/>
<circle cx="1626.8" cy="166.5" r="2.2" fill="#f7ccd2" stroke="#7a1c24" stroke-width=".6"/>
<circle cx="1627.3" cy="171" r="2.2" fill="#f00808" stroke="#7a1c24" stroke-width=".6"/>
<circle cx="1626.8" cy="197" r="2.2" fill="#f7ccd2" stroke="#7a1c24" stroke-width=".6"/>
<circle cx="1750" cy="150.9" r="2.2" fill="#f7ccd2" stroke="#7a1c24" stroke-width=".6"/>
<circle cx="1626.8" cy="242.9" r="2.2" fill="#f7ccd2" stroke="#7a1c24" stroke-width=".6"/>
<text x="1624.9" y="344.8" font-size="8.1" text-anchor="end" stroke="#111" style="stroke-width:.34px">12.00</text>
<text x="1596.1" y="330.9" font-size="8.1" text-anchor="end" stroke="#111" style="stroke-width:.34px">14.00</text>
<text x="1567.3" y="316.9" font-size="8.1" text-anchor="end" stroke="#111" style="stroke-width:.34px">16.00</text>
<text x="1538.4" y="303" font-size="8.1" text-anchor="end" stroke="#111" style="stroke-width:.34px">18.00</text>
<text x="1509.6" y="289.1" font-size="8.1" text-anchor="end" stroke="#111" style="stroke-width:.34px">20.00</text>
<text x="1633" y="344.8" font-size="8.1" stroke="#111" style="stroke-width:.34px">1.00</text>
<text x="1661.6" y="330.9" font-size="8.1" stroke="#111" style="stroke-width:.34px">3.25</text>
<text x="1690.3" y="317" font-size="8.1" stroke="#111" style="stroke-width:.34px">5.50</text>
<text x="1719" y="303.2" font-size="8.1" stroke="#111" style="stroke-width:.34px">7.75</text>
<text x="1747.7" y="289.3" font-size="8.1" stroke="#111" style="stroke-width:.34px">10.00</text>
<text x="1501.1" y="131.8" font-size="8.1" text-anchor="end" stroke="#111" style="stroke-width:.34px">86</text>
<text x="1501.1" y="162.5" font-size="8.1" text-anchor="end" stroke="#111" style="stroke-width:.34px">84.4</text>
<text x="1501.1" y="192.1" font-size="8.1" text-anchor="end" stroke="#111" style="stroke-width:.34px">82.8</text>
<text x="1501.1" y="221.7" font-size="8.1" text-anchor="end" stroke="#111" style="stroke-width:.34px">81.2</text>
<text x="1501.1" y="251.2" font-size="8.1" text-anchor="end" stroke="#111" style="stroke-width:.34px">79.6</text>
<text x="1488.3" y="336.6" font-size="12.4" stroke="#111">B: PEG-PLGA</text>
<text x="1705" y="336.6" font-size="12.4" stroke="#111">A: EGCG</text>
<text x="1473" y="206" font-size="12.6" text-anchor="middle" stroke="#111" transform="rotate(-90 1473 206)">Encapsulation efficiency</text>
<text x="1357.4" y="63.5" font-size="9" fill="#000" stroke="#000">Design-Expert?Software</text>
<text x="1357.4" y="83.2" font-size="9" fill="#000" stroke="#000">Encapsulation efficiency</text>
<text x="1357.4" y="136" font-size="9" fill="#000" stroke="#000">X1 = A: EGCG</text>
<text x="1357.4" y="146.2" font-size="9" fill="#000" stroke="#000">X2 = B: PEG-PLGA</text>
<text x="1357.4" y="167.5" font-size="9" fill="#000" stroke="#000">Actual Factor</text>
<text x="1357.4" y="177.8" font-size="9" fill="#000" stroke="#000">C: Tween-80 = 2.25</text>
<rect x="1359.3" y="86.8" width="6" height="29.2" fill="url(#lg)" stroke="#111" stroke-width=".8"/>
<text x="1367.5" y="94.4" font-size="9" fill="#c8202c" stroke="#c8202c">85.97</text>
<text x="1367.5" y="115.2" font-size="9" fill="#2020c8" stroke="#2020c8">78.62</text>
<text x="1332.2" y="30" font-size="31.5" font-weight="bold" fill="#000" stroke="#000">D</text>
</g>

</svg>
</body></html>
